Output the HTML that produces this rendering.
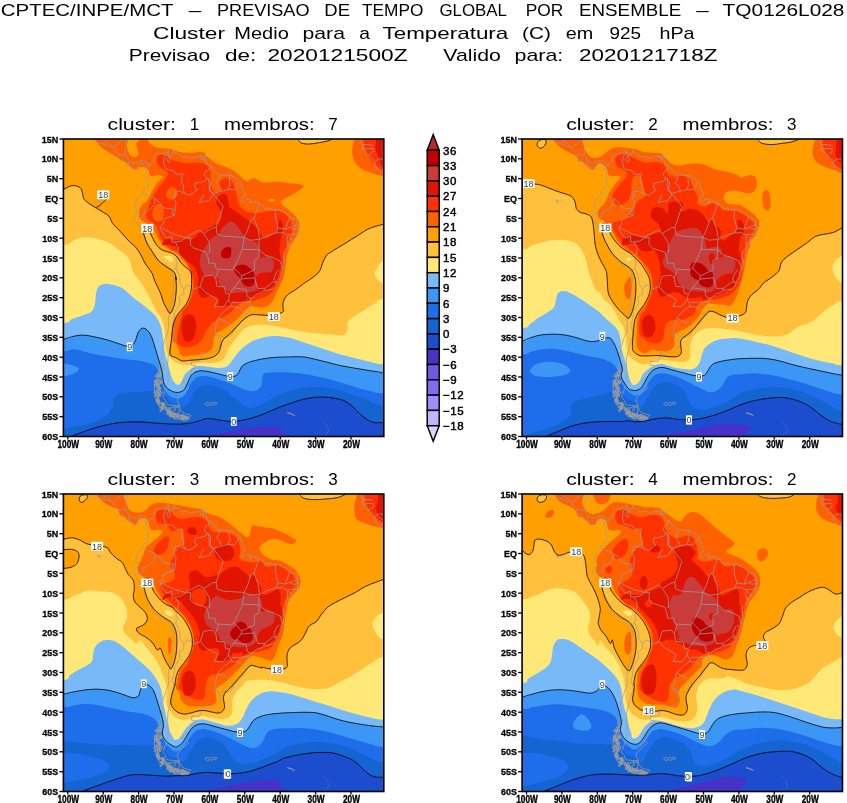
<!DOCTYPE html>
<html><head><meta charset="utf-8"><title>Previsao de Tempo Global por Ensemble</title>
<style>html,body{margin:0;padding:0;background:#fff}svg{display:block}text{font-family:"Liberation Sans",sans-serif;fill:#000}</style>
</head><body>
<svg width="847" height="803" viewBox="0 0 847 803">
<rect width="847" height="803" fill="#fff"/>
<text x="0.8" y="16.2" font-size="16.6" textLength="172.7" lengthAdjust="spacingAndGlyphs">CPTEC/INPE/MCT</text>
<text x="188.8" y="16.2" font-size="16.6" textLength="12.5" lengthAdjust="spacingAndGlyphs">–</text>
<text x="217.0" y="16.2" font-size="16.6" textLength="92.5" lengthAdjust="spacingAndGlyphs">PREVISAO</text>
<text x="324.3" y="16.2" font-size="16.6" textLength="25.7" lengthAdjust="spacingAndGlyphs">DE</text>
<text x="362.0" y="16.2" font-size="16.6" textLength="61.3" lengthAdjust="spacingAndGlyphs">TEMPO</text>
<text x="439.5" y="16.2" font-size="16.6" textLength="67.5" lengthAdjust="spacingAndGlyphs">GLOBAL</text>
<text x="525.8" y="16.2" font-size="16.6" textLength="37.5" lengthAdjust="spacingAndGlyphs">POR</text>
<text x="579.0" y="16.2" font-size="16.6" textLength="102.3" lengthAdjust="spacingAndGlyphs">ENSEMBLE</text>
<text x="696.3" y="16.2" font-size="16.6" textLength="12.5" lengthAdjust="spacingAndGlyphs">–</text>
<text x="722.5" y="16.2" font-size="16.6" textLength="122.0" lengthAdjust="spacingAndGlyphs">TQ0126L028</text>
<text x="153.0" y="38.6" font-size="16.6" textLength="72.0" lengthAdjust="spacingAndGlyphs">Cluster</text>
<text x="234.3" y="38.6" font-size="16.6" textLength="54.5" lengthAdjust="spacingAndGlyphs">Medio</text>
<text x="302.5" y="38.6" font-size="16.6" textLength="42.5" lengthAdjust="spacingAndGlyphs">para</text>
<text x="359.3" y="38.6" font-size="16.6" textLength="10.7" lengthAdjust="spacingAndGlyphs">a</text>
<text x="382.5" y="38.6" font-size="16.6" textLength="125.8" lengthAdjust="spacingAndGlyphs">Temperatura</text>
<text x="522.0" y="38.6" font-size="16.6" textLength="28.8" lengthAdjust="spacingAndGlyphs">(C)</text>
<text x="565.8" y="38.6" font-size="16.6" textLength="27.5" lengthAdjust="spacingAndGlyphs">em</text>
<text x="609.5" y="38.6" font-size="16.6" textLength="31.5" lengthAdjust="spacingAndGlyphs">925</text>
<text x="659.5" y="38.6" font-size="16.6" textLength="35.0" lengthAdjust="spacingAndGlyphs">hPa</text>
<text x="128.8" y="60.5" font-size="16.6" textLength="81.2" lengthAdjust="spacingAndGlyphs">Previsao</text>
<text x="225.0" y="60.5" font-size="16.6" textLength="31.3" lengthAdjust="spacingAndGlyphs">de:</text>
<text x="267.5" y="60.5" font-size="16.6" textLength="140.0" lengthAdjust="spacingAndGlyphs">2020121500Z</text>
<text x="443.3" y="60.5" font-size="16.6" textLength="57.5" lengthAdjust="spacingAndGlyphs">Valido</text>
<text x="514.5" y="60.5" font-size="16.6" textLength="48.8" lengthAdjust="spacingAndGlyphs">para:</text>
<text x="579.0" y="60.5" font-size="16.6" textLength="138.5" lengthAdjust="spacingAndGlyphs">2020121718Z</text>
<clipPath id="cp0"><rect x="63.4" y="139.0" width="320.4" height="297.5"/></clipPath>
<g clip-path="url(#cp0)">
<rect x="63.4" y="139.0" width="320.4" height="297.5" fill="#1C4DCF"/>
<path d="M208.3 437.7C196.4 437.3 206.4 436.3 208.3 435.6C210.1 434.8 215.3 434.3 219.6 433.4C223.8 432.6 229.0 431.4 233.8 430.6C238.5 429.8 243.2 429.1 247.9 428.5C252.6 427.9 257.6 427.4 262.1 427.1C266.6 426.7 272.0 426.2 274.8 426.3C277.7 426.5 278.3 425.9 279.1 427.8C279.9 429.7 291.2 436.0 279.4 437.7C267.6 439.3 220.1 438.0 208.3 437.7Z" fill="#4632C8"/>
<path d="M24.0 439.6C30.7 439.6 55.7 440.3 64.0 439.6C72.4 438.8 70.7 436.5 74.1 435.1C77.4 433.8 80.4 432.8 84.1 431.5C87.8 430.3 92.1 428.7 96.1 427.5C100.1 426.3 104.2 425.3 108.2 424.5C112.2 423.7 116.2 422.9 120.2 422.5C124.2 422.1 128.2 422.0 132.3 421.9C136.3 421.8 140.3 421.9 144.3 422.1C148.3 422.3 152.3 422.8 156.3 423.1C160.4 423.4 164.4 423.7 168.4 423.9C172.4 424.1 176.8 424.2 180.4 424.1C184.1 424.0 187.1 423.7 190.5 423.1C193.8 422.5 197.5 421.3 200.5 420.5C203.5 419.7 204.6 418.4 208.5 418.5C212.4 418.5 219.6 420.2 223.8 420.7C228.0 421.2 230.5 421.5 233.8 421.4C237.1 421.3 240.1 420.7 243.7 420.0C247.2 419.3 251.2 418.3 255.0 417.1C258.8 416.0 262.6 414.4 266.3 412.9C270.1 411.3 274.2 409.3 277.7 407.9C281.2 406.5 283.7 405.7 287.3 404.4C290.9 403.2 295.3 401.5 299.3 400.4C303.3 399.3 307.3 398.4 311.3 397.8C315.4 397.2 319.4 396.9 323.4 397.0C327.4 397.1 331.8 397.7 335.4 398.4C339.1 399.1 342.5 399.9 345.5 401.4C348.5 402.9 351.2 405.4 353.5 407.4C355.8 409.4 357.5 411.6 359.5 413.5C361.5 415.3 363.2 417.0 365.5 418.5C367.9 420.0 370.6 421.8 373.6 422.5C376.5 423.2 374.9 422.5 383.2 422.5C391.5 422.5 416.5 422.5 423.2 422.5L423.2 89.0 L24.0 89.0 Z" fill="#1464D2"/>
<path d="M24.0 428.5C30.7 428.5 56.3 428.7 64.0 428.5C71.7 428.3 67.4 428.0 70.0 427.5C72.7 427.0 76.7 426.2 80.1 425.5C83.4 424.8 86.8 424.5 90.1 423.5C93.5 422.5 97.1 421.2 100.1 419.5C103.2 417.8 106.0 415.8 108.2 413.5C110.3 411.1 112.2 407.9 113.2 405.4C114.2 402.9 113.0 400.4 114.2 398.4C115.4 396.4 117.5 394.4 120.2 393.4C122.9 392.4 126.2 392.7 130.3 392.4C134.3 392.1 140.3 391.6 144.3 391.4C148.3 391.2 151.0 390.7 154.3 391.4C157.7 392.1 161.4 393.4 164.4 395.4C167.4 397.4 169.7 401.4 172.4 403.4C175.1 405.4 177.8 407.4 180.4 407.4C183.1 407.4 186.6 405.1 188.5 403.4C190.3 401.8 191.5 397.8 191.5 397.4C191.5 397.0 188.0 401.7 188.4 400.8C188.9 400.0 192.2 394.7 194.1 392.3C196.0 390.0 197.6 388.0 199.8 386.7C201.9 385.4 204.2 384.7 206.8 384.5C209.4 384.4 212.5 385.1 215.3 386.0C218.2 386.8 221.2 388.0 223.8 389.5C226.4 391.0 228.6 393.3 230.9 395.2C233.3 397.1 235.9 399.1 238.0 400.8C240.1 402.6 241.6 404.6 243.7 405.8C245.8 407.0 247.9 408.0 250.8 407.9C253.6 407.8 257.6 406.4 260.7 405.1C263.7 403.8 266.3 401.7 269.2 400.1C272.0 398.6 275.7 397.0 277.7 395.9C279.7 394.8 278.3 394.5 281.2 393.4C284.2 392.3 290.9 390.4 295.3 389.4C299.6 388.4 303.3 387.8 307.3 387.4C311.3 387.0 315.4 386.8 319.4 387.0C323.4 387.1 327.4 387.6 331.4 388.4C335.4 389.1 339.4 390.2 343.5 391.4C347.5 392.6 351.5 394.1 355.5 395.4C359.5 396.7 364.2 398.1 367.5 399.4C370.9 400.8 373.0 402.4 375.6 403.4C378.2 404.4 375.3 405.1 383.2 405.4C391.1 405.8 416.5 405.4 423.2 405.4L423.2 89.0 L24.0 89.0 Z" fill="#1E6EEB"/>
<path d="M24.0 351.2C30.7 351.2 56.0 351.6 64.0 351.2C72.0 350.9 69.4 349.4 72.0 349.2C74.7 349.1 77.1 349.6 80.1 350.2C83.1 350.9 86.8 352.4 90.1 353.2C93.5 354.1 96.5 354.6 100.1 355.3C103.8 355.9 108.2 356.6 112.2 357.3C116.2 357.9 120.2 358.8 124.2 359.3C128.2 359.8 132.6 359.8 136.3 360.3C140.0 360.8 143.3 361.4 146.3 362.3C149.3 363.1 152.3 363.8 154.3 365.3C156.3 366.8 157.2 368.6 158.4 371.3C159.5 374.0 160.4 378.3 161.4 381.3C162.4 384.4 163.0 387.0 164.4 389.4C165.7 391.7 167.4 393.9 169.4 395.4C171.4 396.9 173.9 398.4 176.4 398.4C178.9 398.4 182.2 397.6 184.4 395.4C186.7 393.2 188.2 387.9 189.8 385.3C191.4 382.6 192.7 381.0 194.1 379.6C195.5 378.2 196.4 377.3 198.3 376.8C200.2 376.2 203.1 375.9 205.4 376.0C207.8 376.2 209.9 376.8 212.5 377.5C215.1 378.2 218.2 379.4 221.0 380.3C223.8 381.2 226.7 382.1 229.5 383.1C232.3 384.2 235.2 385.5 238.0 386.7C240.8 387.9 243.7 389.5 246.5 390.2C249.3 390.9 252.6 391.5 255.0 390.9C257.4 390.3 259.5 388.6 260.7 386.7C261.9 384.8 261.6 381.7 262.1 379.6C262.6 377.5 262.3 375.1 263.5 373.9C264.7 372.7 266.3 372.8 269.2 372.5C272.0 372.2 277.5 372.3 280.5 372.2C283.5 372.2 284.1 372.1 287.3 372.3C290.4 372.5 295.3 372.8 299.3 373.3C303.3 373.8 307.3 374.6 311.3 375.3C315.4 376.1 319.4 376.8 323.4 377.7C327.4 378.7 331.4 379.8 335.4 380.9C339.4 382.0 343.5 383.1 347.5 384.4C351.5 385.6 355.5 387.2 359.5 388.4C363.5 389.5 367.6 390.5 371.6 391.4C375.5 392.2 374.6 393.1 383.2 393.4C391.8 393.7 416.5 393.4 423.2 393.4L423.2 89.0 L24.0 89.0 Z" fill="#3C96F5"/>
<path d="M60.0 364.3C62.0 362.5 68.9 364.5 72.0 365.3C75.2 366.1 79.1 367.8 79.1 369.3C79.1 370.8 75.2 373.3 72.0 374.3C68.9 375.4 62.0 377.4 60.0 375.7C58.0 374.1 58.0 366.0 60.0 364.3Z" fill="#3C96F5"/>
<path d="M24.0 339.2C30.7 339.2 55.7 339.7 64.0 339.2C72.4 338.7 70.7 336.9 74.1 336.2C77.4 335.5 80.4 335.0 84.1 335.2C87.8 335.3 92.1 336.4 96.1 337.2C100.1 338.0 104.2 339.0 108.2 340.2C112.2 341.4 117.0 343.2 120.2 344.2C123.4 345.2 125.1 346.2 127.2 346.2C129.4 346.2 131.8 345.6 133.3 344.2C134.8 342.9 135.4 340.2 136.3 338.2C137.1 336.2 137.3 333.8 138.3 332.2C139.3 330.5 140.8 328.5 142.3 328.2C143.8 327.8 145.8 328.8 147.3 330.2C148.8 331.5 150.2 333.7 151.3 336.2C152.5 338.7 153.3 342.0 154.3 345.2C155.3 348.4 156.3 351.9 157.4 355.3C158.4 358.6 159.5 362.3 160.4 365.3C161.2 368.3 161.9 370.6 162.4 373.3C162.9 376.0 162.7 379.0 163.4 381.3C164.0 383.7 164.9 385.7 166.4 387.4C167.9 389.0 170.4 390.5 172.4 391.4C174.4 392.2 176.6 392.6 178.4 392.4C180.3 392.2 182.1 391.4 183.4 390.4C184.8 389.3 185.3 387.8 186.3 386.0C187.2 384.2 188.1 381.6 189.1 379.6C190.2 377.6 191.1 375.3 192.7 373.9C194.2 372.5 196.2 371.6 198.3 371.1C200.5 370.6 203.1 370.9 205.4 371.1C207.8 371.3 210.1 372.0 212.5 372.5C214.9 373.0 217.2 373.6 219.6 374.2C222.0 374.8 224.1 375.7 226.7 376.0C229.3 376.4 233.2 376.6 235.2 376.0C237.2 375.5 237.7 374.0 238.7 372.5C239.8 371.0 240.3 368.4 241.6 366.8C242.8 365.3 244.3 364.4 246.5 363.3C248.8 362.2 251.7 361.3 255.0 360.5C258.3 359.6 262.6 358.9 266.3 358.3C270.1 357.8 273.5 357.4 277.7 357.2C281.8 357.0 287.0 356.9 291.3 356.9C295.5 356.8 299.3 356.5 303.3 356.9C307.3 357.3 311.3 358.4 315.4 359.3C319.4 360.2 323.4 361.3 327.4 362.3C331.4 363.3 334.8 364.3 339.4 365.3C344.1 366.3 350.2 367.4 355.5 368.3C360.9 369.2 366.9 370.2 371.6 370.9C376.2 371.6 374.6 372.4 383.2 372.7C391.8 373.0 416.5 372.7 423.2 372.7L423.2 89.0 L24.0 89.0 Z" fill="#78B9FA"/>
<path d="M24.0 323.1C30.7 323.1 56.0 323.8 64.0 323.1C72.0 322.5 68.7 320.5 72.0 319.1C75.4 317.8 80.7 316.4 84.1 315.1C87.4 313.8 90.3 313.1 92.1 311.1C94.0 309.1 94.5 306.1 95.1 303.1C95.8 300.1 95.6 295.7 96.1 293.0C96.6 290.4 97.1 288.4 98.1 287.0C99.1 285.6 100.5 284.9 102.2 284.4C103.8 283.9 105.2 283.6 108.2 284.0C111.2 284.4 116.9 285.5 120.2 287.0C123.6 288.5 125.6 290.9 128.2 293.0C130.9 295.2 133.6 297.9 136.3 300.1C139.0 302.2 142.0 304.2 144.3 306.1C146.6 307.9 148.3 309.3 150.3 311.1C152.3 312.9 154.7 314.8 156.3 317.1C158.0 319.5 159.4 322.5 160.4 325.1C161.4 327.8 161.9 330.5 162.4 333.2C162.9 335.8 163.0 338.5 163.4 341.2C163.7 343.9 163.9 346.2 164.4 349.2C164.9 352.2 165.5 355.9 166.4 359.3C167.2 362.6 168.4 366.0 169.4 369.3C170.4 372.6 171.2 376.8 172.4 379.3C173.6 381.8 175.1 383.7 176.4 384.4C177.8 385.0 179.3 384.5 180.4 383.4C181.6 382.2 182.8 378.7 183.4 377.3C184.1 376.0 183.3 376.4 184.2 375.3C185.0 374.3 186.8 372.5 188.4 371.1C190.1 369.7 192.0 367.9 194.1 367.1C196.2 366.3 198.6 366.1 201.2 366.1C203.8 366.1 206.8 366.8 209.7 367.1C212.5 367.4 215.6 368.0 218.2 368.0C220.8 368.0 223.4 367.8 225.3 367.1C227.1 366.5 228.1 365.5 229.5 364.0C230.9 362.5 232.3 360.2 233.8 358.3C235.2 356.4 236.4 354.6 238.0 352.7C239.7 350.8 241.6 348.8 243.7 347.0C245.8 345.2 248.2 343.5 250.8 342.0C253.4 340.6 256.2 339.4 259.3 338.5C262.3 337.6 265.8 336.8 269.2 336.4C272.5 336.0 275.5 335.9 279.2 336.2C282.9 336.5 287.3 337.2 291.3 338.2C295.3 339.2 299.3 340.9 303.3 342.2C307.3 343.5 311.3 344.9 315.4 346.2C319.4 347.6 323.4 348.9 327.4 350.2C331.4 351.6 335.4 353.1 339.4 354.2C343.5 355.4 347.5 356.3 351.5 357.3C355.5 358.3 359.5 359.3 363.5 360.3C367.5 361.3 372.3 362.6 375.6 363.3C378.9 364.0 375.3 364.1 383.2 364.3C391.1 364.5 416.5 364.3 423.2 364.3L423.2 89.0 L24.0 89.0 Z" fill="#FFE878"/>
<path d="M23.4 245.0C30.1 245.0 55.3 245.6 63.4 245.0C71.5 244.4 69.3 242.6 72.0 241.4C74.8 240.2 77.1 238.4 80.1 237.8C83.1 237.1 86.8 237.1 90.1 237.4C93.5 237.6 96.8 238.4 100.1 239.4C103.5 240.4 107.2 241.7 110.2 243.4C113.2 245.1 115.5 247.4 118.2 249.4C120.9 251.4 124.2 253.4 126.2 255.4C128.2 257.4 129.2 259.1 130.3 261.5C131.3 263.8 131.4 267.1 132.3 269.5C133.1 271.8 133.9 273.5 135.3 275.5C136.6 277.5 138.8 279.5 140.3 281.5C141.8 283.5 143.1 285.3 144.3 287.5C145.5 289.8 147.0 294.4 147.3 295.0C147.6 295.6 145.8 290.3 146.3 291.0C146.8 291.7 149.0 296.4 150.3 299.1C151.7 301.7 152.7 304.1 154.3 307.1C156.0 310.1 158.7 313.8 160.4 317.1C162.0 320.5 163.5 323.8 164.4 327.2C165.2 330.5 165.2 334.2 165.4 337.2C165.5 340.2 165.0 342.5 165.4 345.2C165.7 347.9 166.2 350.7 167.4 353.2C168.6 355.8 170.2 358.4 172.4 360.3C174.6 362.1 177.8 363.4 180.4 364.3C183.1 365.1 186.4 365.3 188.5 365.3C190.5 365.2 190.6 364.4 192.7 364.0C194.8 363.6 198.1 363.1 201.2 362.9C204.2 362.7 208.0 363.1 211.1 362.9C214.2 362.6 217.3 362.3 219.6 361.5C221.8 360.6 223.4 359.1 224.5 357.6C225.7 356.2 225.8 354.4 226.7 352.7C227.5 350.9 228.3 348.9 229.5 347.0C230.7 345.1 232.3 343.2 233.8 341.3C235.2 339.4 236.1 337.9 238.0 335.7C239.9 333.5 242.3 329.9 245.1 328.2C248.0 326.4 251.8 325.6 255.1 325.1C258.5 324.6 261.8 325.0 265.2 325.1C268.5 325.3 271.9 325.6 275.2 326.1C278.6 326.6 281.9 327.5 285.3 328.2C288.6 328.8 291.9 329.5 295.3 330.2C298.6 330.8 302.0 331.7 305.3 332.2C308.7 332.7 311.7 332.8 315.4 333.2C319.0 333.5 323.4 333.8 327.4 334.2C331.4 334.5 336.4 335.2 339.4 335.2C342.5 335.2 344.1 335.2 345.5 334.2C346.8 333.2 347.1 331.0 347.5 329.2C347.8 327.3 346.8 325.0 347.5 323.1C348.1 321.3 349.5 319.8 351.5 318.1C353.5 316.4 356.8 314.8 359.5 313.1C362.2 311.4 364.9 309.8 367.5 308.1C370.2 306.4 373.0 304.6 375.6 303.1C378.2 301.6 375.3 299.7 383.2 299.1C391.1 298.4 416.5 299.1 423.2 299.1L423.2 89.0 L23.4 89.0 Z" fill="#FFC03C"/>
<path d="M387.6 255.4C387.0 250.8 385.1 257.8 383.6 259.4C382.1 261.1 380.1 263.1 378.6 265.5C377.1 267.8 374.7 271.2 374.6 273.5C374.4 275.8 376.1 277.7 377.6 279.5C379.1 281.4 381.9 283.2 383.6 284.5C385.3 285.9 387.0 292.4 387.6 287.5C388.3 282.7 388.3 260.1 387.6 255.4Z" fill="#FFE878"/>
<path d="M20.0 190.2C26.7 190.2 52.7 190.4 60.0 190.2C67.3 190.0 62.0 190.0 64.0 189.2C66.0 188.4 69.4 185.8 72.0 185.6C74.7 185.3 78.3 186.3 80.1 187.6C81.8 188.9 81.8 191.3 82.5 193.2C83.2 195.1 82.8 197.4 84.1 199.2C85.4 201.1 88.2 202.8 90.1 204.2C92.0 205.7 93.6 206.3 95.7 207.7C97.9 209.0 100.9 210.8 103.2 212.3C105.4 213.7 107.6 214.5 109.2 216.3C110.7 218.1 110.7 220.8 112.6 223.3C114.4 225.8 117.3 228.2 120.2 231.3C123.1 234.5 127.7 239.9 130.0 242.3C132.3 244.6 132.8 244.2 134.1 245.6C135.5 247.0 137.0 248.7 138.3 250.5C139.5 252.3 140.5 254.3 141.6 256.3C142.7 258.4 143.6 260.9 144.9 262.9C146.1 265.0 147.8 266.9 149.0 268.7C150.2 270.5 151.4 271.8 152.3 273.7C153.2 275.6 153.0 276.7 154.4 280.0C155.7 283.2 158.9 289.3 160.4 293.0C161.9 296.7 162.4 299.6 163.4 302.1C164.4 304.6 165.4 306.2 166.4 308.1C167.4 309.9 168.6 312.4 169.4 313.1C170.2 313.8 170.6 313.5 171.4 312.2C172.2 310.8 173.5 307.7 174.3 305.1C175.0 302.5 175.3 299.7 175.7 296.6C176.0 293.5 176.4 290.0 176.4 286.7C176.4 283.4 175.7 277.9 175.7 276.8C175.7 275.6 176.4 280.5 176.3 280.0C176.2 279.4 175.7 275.3 175.0 273.7C174.4 272.1 173.3 271.3 172.1 270.4C171.0 269.4 169.5 268.9 168.0 267.9C166.5 266.9 164.6 265.8 163.1 264.6C161.5 263.3 159.9 262.0 158.5 260.5C157.1 258.9 156.0 257.1 154.8 255.5C153.6 253.8 152.7 252.3 151.5 250.5C150.3 248.7 148.8 246.7 147.8 244.8C146.7 242.8 146.0 241.0 145.3 239.0C144.6 237.0 143.8 234.7 143.6 232.8C143.4 230.8 143.5 228.7 144.0 227.4C144.6 226.1 146.0 224.9 146.9 224.9C147.9 224.9 149.3 226.1 149.8 227.4C150.4 228.7 149.8 231.1 150.2 232.8C150.7 234.4 151.6 235.7 152.3 237.3C153.1 238.9 153.8 240.7 154.8 242.3C155.8 243.9 156.9 245.5 158.1 246.8C159.3 248.1 160.9 249.4 162.2 250.1C163.6 250.9 165.0 251.0 166.4 251.4C167.7 251.8 169.1 252.1 170.5 252.6C171.9 253.2 173.4 253.8 174.6 254.7C175.9 255.6 177.0 256.7 177.9 258.0C178.9 259.2 179.3 260.7 180.4 262.1C181.5 263.5 183.2 265.0 184.5 266.2C185.9 267.5 187.6 268.4 188.7 269.5C189.8 270.6 190.7 271.1 191.2 272.9C191.6 274.6 191.6 277.2 191.6 280.0C191.6 282.7 191.7 286.5 191.3 289.5C190.8 292.5 190.1 295.4 189.1 298.0C188.2 300.6 187.0 303.0 185.6 305.1C184.2 307.2 182.2 308.9 180.6 310.8C179.1 312.6 177.6 314.3 176.4 316.4C175.2 318.6 174.3 320.9 173.5 323.5C172.8 326.1 172.5 329.3 172.1 332.0C171.8 334.8 171.8 336.3 171.4 339.9C171.1 343.6 169.3 351.1 170.0 354.1C170.7 357.0 173.7 356.5 175.7 357.6C177.7 358.8 179.7 360.4 182.0 360.9C184.3 361.3 187.0 360.5 189.4 360.4C191.9 360.2 194.6 360.0 196.9 359.8C199.2 359.6 201.1 359.6 203.3 359.3C205.4 359.0 207.7 358.8 209.6 358.2C211.6 357.7 213.4 357.1 214.9 356.1C216.4 355.1 217.8 353.7 218.7 352.4C219.5 351.1 219.8 349.6 220.3 348.1C220.7 346.7 220.9 345.2 221.3 343.9C221.8 342.6 222.1 341.3 222.9 340.2C223.7 339.0 224.9 338.1 226.1 337.0C227.3 335.8 228.9 334.6 230.4 333.3C231.8 331.9 233.3 330.4 234.6 329.0C235.9 327.6 237.1 326.1 238.3 324.8C239.6 323.4 240.8 322.2 242.0 321.0C243.3 319.9 244.6 318.7 245.8 317.8C246.9 317.0 247.9 316.3 249.0 315.7C250.0 315.2 250.9 314.8 252.1 314.7C253.4 314.5 254.8 314.6 256.4 314.7C258.0 314.7 259.9 314.9 261.7 315.0C263.5 315.1 265.3 315.2 267.0 315.4C268.7 315.6 269.4 316.8 272.0 316.3C274.6 315.7 280.9 313.4 282.7 312.1C284.6 310.9 283.1 310.0 283.2 308.6C283.2 307.3 282.7 305.7 282.9 304.3C283.0 302.8 283.5 301.2 284.0 299.9C284.6 298.6 285.4 297.5 286.2 296.4C287.0 295.4 287.8 294.6 288.8 293.8C289.8 293.0 291.1 292.4 292.3 291.6C293.5 290.9 294.6 290.3 295.8 289.5C297.0 288.7 298.1 287.7 299.3 286.8C300.4 286.0 301.6 285.1 302.8 284.2C303.9 283.4 305.1 282.4 306.3 281.6C307.5 280.8 307.8 281.1 310.0 279.4C312.2 277.8 317.3 274.2 319.4 271.5C321.4 268.8 321.2 266.1 322.4 263.5C323.6 260.8 324.6 257.6 326.4 255.4C328.2 253.3 330.6 252.3 333.4 250.4C336.3 248.6 340.5 246.2 343.5 244.4C346.5 242.6 348.8 241.0 351.5 239.4C354.2 237.7 356.8 236.0 359.5 234.4C362.2 232.7 364.9 230.7 367.5 229.3C370.2 228.0 372.9 227.2 375.6 226.3C378.3 225.5 380.9 224.8 383.6 224.3C386.3 223.8 383.6 223.5 391.6 223.3C399.6 223.2 425.0 223.3 431.6 223.3L431.6 89.0 L20.0 89.0 Z" fill="#FFA000"/>
<path d="M296.3 138.0C294.0 139.3 299.1 142.0 301.3 143.0C303.5 144.0 306.3 144.1 309.3 144.0C312.4 144.0 316.4 143.1 319.4 142.6C322.4 142.1 325.1 141.7 327.4 141.0C329.7 140.4 335.4 139.6 333.4 138.6C331.4 137.6 321.6 135.1 315.4 135.0C309.2 134.9 298.6 136.7 296.3 138.0Z" fill="#FFC03C"/>
<path d="M93.1 137.0C94.3 139.2 97.6 143.5 100.1 146.0C102.7 148.5 105.5 150.2 108.2 152.1C110.8 153.9 114.2 155.8 116.2 157.1C118.2 158.4 118.7 159.1 120.0 159.8C121.3 160.5 122.8 160.4 124.3 161.2C125.7 162.0 127.1 163.5 128.5 164.8C129.9 166.1 131.6 168.2 132.8 169.0C133.9 169.8 134.6 169.9 135.6 169.7C136.5 169.5 137.2 168.1 138.4 167.6C139.6 167.1 141.3 166.8 142.7 166.9C144.1 167.0 145.9 167.5 146.9 168.3C148.0 169.1 148.5 170.5 149.0 171.8C149.6 173.1 149.4 175.5 150.5 176.1C151.5 176.7 153.6 175.5 155.4 175.4C157.2 175.3 159.9 175.0 161.1 175.4C162.3 175.7 163.0 176.4 162.5 177.5C162.0 178.6 159.4 180.3 158.3 181.8C157.1 183.2 156.5 184.4 155.4 186.0C154.4 187.7 152.9 189.8 151.9 191.7C150.8 193.6 149.9 195.7 149.0 197.3C148.2 199.0 148.0 200.4 146.9 201.6C145.9 202.8 143.9 203.2 142.7 204.4C141.5 205.6 140.4 207.0 139.8 208.7C139.2 210.3 139.1 212.7 139.1 214.3C139.1 216.0 139.1 217.4 139.8 218.6C140.5 219.8 142.2 220.6 143.4 221.4C144.6 222.3 145.3 222.2 146.9 223.6C148.6 224.9 151.8 227.4 153.3 229.3C154.9 231.3 155.2 233.4 156.3 235.4C157.5 237.4 159.0 239.5 160.4 241.4C161.7 243.2 162.8 245.0 164.4 246.4C166.0 247.8 168.2 248.9 170.0 249.8C171.8 250.8 173.2 251.1 175.0 252.2C176.7 253.4 178.8 255.0 180.6 256.9C182.4 258.8 184.3 261.1 185.9 263.6C187.5 266.1 189.1 269.0 190.1 271.8C191.2 274.6 191.9 277.3 192.2 280.3C192.6 283.2 192.6 286.6 192.2 289.5C191.9 292.5 191.1 295.4 190.1 298.0C189.2 300.6 188.0 303.0 186.6 305.1C185.2 307.2 183.2 309.0 181.6 310.8C180.1 312.5 178.5 313.8 177.4 315.7C176.2 317.6 175.3 319.6 174.5 322.1C173.8 324.6 173.2 327.6 172.8 330.6C172.4 333.6 171.5 337.7 172.1 339.9C172.7 342.2 175.3 342.6 176.4 344.2C177.4 345.7 177.6 347.1 178.5 349.1C179.4 351.1 180.2 355.0 182.0 356.1C183.8 357.2 187.1 355.8 189.4 355.6C191.7 355.4 193.7 355.3 195.8 355.0C197.9 354.8 200.2 354.4 202.2 354.0C204.1 353.5 205.9 353.2 207.5 352.4C209.1 351.6 210.8 350.4 211.8 349.2C212.7 348.0 213.1 346.4 213.3 344.9C213.6 343.5 213.2 342.0 213.3 340.7C213.5 339.4 213.9 338.1 214.4 337.0C214.9 335.8 215.6 334.8 216.5 333.8C217.5 332.8 218.9 332.0 220.3 331.1C221.6 330.2 223.1 329.4 224.5 328.5C225.9 327.6 227.4 326.7 228.8 325.8C230.1 324.9 231.2 324.1 232.5 323.2C233.7 322.2 235.0 321.0 236.2 320.0C237.3 318.9 238.3 317.8 239.4 316.8C240.4 315.7 241.5 314.7 242.6 313.6C243.6 312.4 244.3 311.1 245.8 309.9C247.2 308.6 249.4 306.5 251.3 306.0C253.3 305.6 255.4 307.1 257.4 307.3C259.5 307.6 261.8 307.6 263.5 307.3C265.3 307.1 266.7 306.8 267.9 306.0C269.1 305.3 270.0 304.1 271.0 303.0C271.9 301.9 272.8 300.9 273.6 299.5C274.4 298.1 275.0 296.4 275.7 294.7C276.5 293.0 277.2 291.1 277.9 289.5C278.7 287.9 279.4 286.6 280.1 285.1C280.8 283.7 281.6 282.3 282.3 280.7C282.9 279.1 283.5 277.4 284.0 275.5C284.5 273.6 284.8 271.6 285.2 269.4C285.5 267.2 285.7 264.8 286.0 262.4C286.4 260.1 286.6 257.5 287.1 255.5C287.5 253.4 288.2 252.0 288.8 250.2C289.4 248.5 290.0 246.1 290.6 245.0C291.1 243.9 291.3 244.7 292.1 243.5C293.0 242.3 294.6 239.7 295.7 237.8C296.7 236.0 297.8 234.1 298.5 232.2C299.2 230.3 299.6 228.4 299.6 226.5C299.6 224.6 299.2 222.5 298.5 220.8C297.8 219.2 296.9 218.0 295.7 216.6C294.5 215.2 293.0 213.8 291.4 212.3C289.9 210.9 288.0 209.4 286.5 208.1C284.9 206.8 283.2 205.7 282.2 204.5C281.3 203.4 280.4 202.0 280.8 201.0C281.2 200.1 282.8 199.7 284.3 198.9C285.9 198.1 288.1 197.1 290.0 196.0C291.9 195.0 293.8 193.7 295.7 192.5C297.6 191.3 300.0 190.1 301.3 189.0C302.6 187.8 304.2 186.2 303.5 185.4C302.8 184.6 299.6 184.4 297.1 184.0C294.6 183.6 291.4 183.6 288.6 183.3C285.8 182.9 282.9 182.1 280.1 181.9C277.3 181.6 274.2 181.8 271.6 181.9C269.0 182.0 266.6 182.8 264.5 182.6C262.4 182.4 260.5 181.2 258.8 180.5C257.2 179.8 256.0 178.6 254.6 178.3C253.2 178.1 251.5 178.6 250.3 179.0C249.2 179.5 248.8 181.3 247.5 181.2C246.2 181.1 244.2 179.5 242.5 178.3C240.9 177.2 239.4 175.5 237.6 174.1C235.8 172.7 233.8 171.0 231.9 169.8C230.0 168.7 228.1 167.8 226.3 167.0C224.4 166.2 222.5 165.6 220.6 164.9C218.7 164.2 216.8 163.8 214.9 162.8C213.0 161.7 210.9 159.9 209.3 158.5C207.6 157.1 205.7 155.2 205.0 154.3C204.3 153.3 206.0 153.1 205.0 152.7C204.1 152.3 201.2 152.0 199.3 152.0C197.5 152.0 195.8 152.6 193.7 152.7C191.6 152.8 189.0 152.8 186.6 152.7C184.2 152.6 181.6 152.5 179.5 152.0C177.4 151.5 175.7 150.5 173.8 149.9C172.0 149.3 170.1 148.7 168.2 148.5C166.3 148.2 164.6 148.7 162.5 148.5C160.4 148.2 157.5 147.9 155.4 147.0C153.3 146.2 151.3 145.0 149.8 143.5C148.2 142.0 147.6 138.8 146.2 137.8C144.8 136.9 142.6 137.4 141.3 137.8C140.0 138.3 139.2 139.7 138.4 140.7C137.6 141.6 136.5 142.3 136.3 143.5C136.1 144.7 136.6 146.1 137.0 147.8C137.4 149.4 138.5 151.9 138.4 153.4C138.3 155.0 137.4 156.5 136.3 157.0C135.2 157.4 133.3 157.1 132.0 156.3C130.7 155.4 129.3 153.7 128.5 152.0C127.7 150.3 127.4 148.7 127.1 146.3C126.7 144.0 129.2 139.7 126.4 137.8C123.6 135.9 115.7 135.8 110.2 135.0C104.6 134.2 96.0 132.7 93.1 133.0C90.3 133.3 91.9 134.8 93.1 137.0Z" fill="#FF6000"/>
<path d="M268.0 200.3C268.0 199.8 270.3 199.0 271.6 198.9C272.9 198.8 275.8 199.4 275.8 199.9C275.8 200.3 272.9 201.6 271.6 201.7C270.3 201.8 268.0 200.8 268.0 200.3Z" fill="#FFA000"/>
<path d="M157.5 156.3C158.2 155.1 159.6 154.8 161.1 154.8C162.6 154.8 165.1 155.5 166.8 156.3C168.4 157.0 169.4 158.3 171.0 159.1C172.7 159.9 174.8 160.6 176.7 161.2C178.6 161.8 180.5 162.3 182.3 162.6C184.2 163.0 185.9 163.3 188.0 163.3C190.1 163.3 192.7 162.6 195.1 162.6C197.5 162.6 200.1 162.8 202.2 163.3C204.3 163.8 206.5 164.3 207.8 165.6C209.1 166.9 209.5 169.1 210.0 171.3C210.4 173.4 210.4 176.0 210.7 178.3C210.9 180.7 210.9 183.3 211.4 185.4C211.8 187.5 212.4 189.9 213.5 191.1C214.6 192.3 216.6 192.7 217.8 192.5C218.9 192.3 220.3 191.1 220.6 189.7C220.8 188.3 219.2 185.5 219.2 184.0C219.2 182.5 219.4 181.4 220.6 180.5C221.8 179.5 224.5 178.3 226.3 178.3C228.0 178.3 229.9 179.3 231.2 180.5C232.5 181.6 233.3 183.6 234.0 185.4C234.8 187.2 235.0 189.2 235.5 191.1C235.9 193.0 236.4 194.9 236.9 196.8C237.4 198.6 237.7 200.8 238.3 202.4C238.9 204.1 239.4 205.4 240.4 206.7C241.5 208.0 243.0 209.3 244.7 210.2C246.3 211.2 248.4 211.9 250.3 212.3C252.2 212.8 254.1 213.0 256.0 213.0C257.9 213.0 259.8 212.6 261.7 212.3C263.6 212.0 265.7 211.4 267.3 211.2C269.0 211.0 269.9 211.0 271.6 210.9C273.2 210.9 275.5 210.7 277.3 210.9C279.0 211.2 280.6 211.5 282.2 212.3C283.9 213.2 285.8 214.5 287.2 215.9C288.6 217.3 289.8 219.1 290.7 220.8C291.7 222.6 292.6 224.6 292.8 226.5C293.1 228.4 292.6 230.3 292.1 232.2C291.7 234.1 290.8 236.0 290.0 237.8C289.2 239.7 288.0 241.4 287.2 243.5C286.4 245.6 285.9 248.1 285.3 250.2C284.8 252.4 284.4 254.3 284.0 256.3C283.7 258.4 283.4 260.4 283.2 262.4C282.9 264.5 282.9 266.7 282.7 268.5C282.5 270.4 282.2 272.0 281.8 273.8C281.5 275.5 281.1 277.4 280.5 279.0C280.0 280.6 279.2 281.9 278.4 283.4C277.6 284.8 276.6 286.4 275.7 287.7C274.9 289.0 274.1 290.1 273.1 291.2C272.1 292.3 270.8 293.4 269.6 294.3C268.5 295.1 267.5 295.8 266.2 296.4C264.8 297.1 263.2 297.7 261.8 298.2C260.3 298.7 258.9 299.1 257.4 299.5C256.0 299.9 255.0 300.5 253.1 300.8C251.1 301.1 247.7 301.0 245.8 301.4C243.8 301.7 242.9 302.3 241.5 303.0C240.1 303.7 238.5 304.7 237.3 305.6C236.0 306.6 235.1 307.8 234.1 308.8C233.0 309.9 232.1 310.9 230.9 312.0C229.6 313.1 228.1 314.3 226.6 315.2C225.2 316.1 223.8 316.7 222.4 317.3C221.0 317.9 219.5 318.2 218.1 318.9C216.7 319.6 215.3 320.4 213.9 321.6C212.5 322.7 211.0 324.2 209.6 325.8C208.3 327.4 206.9 329.4 205.9 331.1C204.9 332.9 204.6 334.9 203.8 336.4C203.0 338.0 202.3 339.4 201.1 340.7C200.0 342.0 198.5 343.4 196.9 344.4C195.3 345.4 193.3 346.1 191.6 346.5C189.8 347.0 187.8 347.1 186.3 347.1C184.7 347.1 183.5 347.2 182.0 346.5C180.5 345.9 178.2 345.1 177.4 343.2C176.7 341.3 177.1 338.2 177.4 335.2C177.8 332.2 178.8 328.2 179.4 325.1C180.1 322.1 180.9 319.5 181.4 317.1C182.0 314.7 181.7 312.8 182.8 310.8C183.8 308.8 186.3 307.2 187.7 305.1C189.1 303.0 190.3 300.6 191.3 298.0C192.2 295.4 193.0 292.6 193.4 289.5C193.7 286.4 193.7 282.7 193.4 279.6C193.0 276.5 192.3 273.9 191.3 271.1C190.2 268.3 188.7 265.2 187.0 262.6C185.3 260.0 183.2 257.4 181.3 255.5C179.4 253.6 177.6 252.4 175.7 251.3C173.8 250.1 172.4 250.6 170.0 248.4C167.6 246.3 162.9 241.0 161.1 238.4C159.2 235.8 159.7 234.7 159.0 232.8C158.3 230.9 157.8 228.7 156.8 227.1C155.9 225.4 154.6 224.0 153.3 222.8C152.0 221.7 150.2 221.0 149.0 220.0C147.9 219.1 146.7 218.4 146.2 217.2C145.7 216.0 145.9 214.6 146.2 212.9C146.6 211.3 147.6 209.1 148.3 207.3C149.0 205.4 149.6 203.5 150.5 201.6C151.3 199.7 152.2 197.8 153.3 195.9C154.4 194.0 155.5 192.1 156.8 190.3C158.1 188.4 159.7 186.5 161.1 184.6C162.5 182.7 164.2 180.7 165.3 178.9C166.5 177.2 168.2 175.4 168.2 174.0C168.2 172.5 166.8 171.6 165.3 170.4C163.9 169.2 161.0 168.3 159.7 166.9C158.3 165.5 157.5 163.7 157.1 161.9C156.8 160.1 156.9 157.4 157.5 156.3Z" fill="#FF3200"/>
<path d="M166.0 194.5C166.3 193.2 167.1 190.8 168.2 189.5C169.2 188.3 171.0 187.1 172.4 187.1C173.8 187.1 175.8 188.3 176.7 189.5C177.5 190.8 177.7 193.0 177.4 194.5C177.0 196.0 175.8 197.9 174.5 198.8C173.2 199.6 170.9 199.7 169.6 199.5C168.3 199.2 167.3 198.2 166.8 197.3C166.2 196.5 165.8 195.8 166.0 194.5Z" fill="#FF6000"/>
<path d="M152.3 212.9C152.4 210.8 153.6 208.1 154.7 206.6C155.8 205.0 157.7 203.7 159.0 203.7C160.3 203.7 161.7 205.0 162.5 206.6C163.3 208.1 163.9 210.8 163.9 212.9C163.9 215.1 163.4 217.8 162.5 219.3C161.6 220.8 159.7 221.7 158.3 221.7C156.8 221.7 155.0 220.8 154.0 219.3C153.0 217.8 152.2 215.1 152.3 212.9Z" fill="#FF6000"/>
<path d="M217.8 197.3C218.7 195.9 221.8 194.7 222.0 194.5C222.2 194.3 218.9 196.1 219.2 196.0C219.4 195.9 222.1 194.0 223.4 193.9C224.7 193.8 226.1 194.2 227.0 195.3C227.8 196.5 228.0 199.1 228.4 201.0C228.7 202.9 228.3 205.3 229.1 206.7C229.9 208.1 231.7 208.3 233.3 209.5C235.0 210.7 237.1 212.3 239.0 213.8C240.9 215.2 243.0 216.8 244.7 218.0C246.3 219.2 247.7 219.9 248.9 220.8C250.1 221.8 250.6 222.6 251.8 223.7C252.9 224.7 254.7 225.8 256.0 227.2C257.3 228.6 258.6 230.6 259.5 232.2C260.5 233.7 260.7 235.4 261.7 236.4C262.6 237.5 263.8 238.6 265.2 238.6C266.6 238.6 268.6 237.3 270.2 236.4C271.7 235.6 273.2 234.8 274.4 233.6C275.6 232.4 276.6 231.0 277.3 229.3C277.9 227.7 278.0 225.2 278.4 223.7C278.7 222.1 278.7 220.4 279.4 220.1C280.0 219.9 281.7 220.7 282.2 222.3C282.8 223.8 282.9 226.7 282.6 229.3C282.4 231.9 281.3 235.0 280.8 237.8C280.3 240.7 280.2 243.5 279.8 246.3C279.5 249.2 278.8 254.2 278.7 254.8C278.6 255.5 278.9 250.0 279.2 250.2C279.5 250.5 280.2 254.3 280.5 256.3C280.8 258.4 281.0 260.5 281.0 262.4C281.0 264.3 280.8 265.9 280.5 267.7C280.2 269.4 279.7 271.2 279.2 272.9C278.7 274.6 278.1 276.5 277.5 278.1C276.9 279.7 276.5 281.2 275.7 282.5C275.0 283.8 274.1 284.9 273.1 286.0C272.1 287.1 271.0 288.1 269.6 289.0C268.3 290.0 266.7 290.8 265.3 291.6C263.8 292.4 262.4 293.2 260.9 293.8C259.5 294.5 258.0 295.0 256.6 295.6C255.1 296.1 253.7 296.7 252.2 297.3C250.8 297.9 249.3 298.5 247.8 299.1C246.4 299.6 243.2 300.7 243.5 300.8C243.7 300.9 249.3 299.3 249.3 299.4C249.4 299.6 245.8 301.1 243.7 301.6C241.6 302.0 238.5 302.4 236.6 302.3C234.7 302.1 233.3 300.5 232.3 300.8C231.4 301.2 232.1 303.6 230.9 304.4C229.7 305.2 227.1 305.3 225.3 305.8C223.4 306.3 221.0 307.1 219.6 307.2C218.2 307.3 216.9 307.3 216.8 306.5C216.6 305.7 218.9 303.7 218.9 302.3C218.9 300.8 217.8 299.1 216.8 298.0C215.7 296.9 213.9 296.1 212.5 295.9C211.1 295.6 209.7 296.2 208.3 296.6C206.8 296.9 205.3 298.0 204.0 298.0C202.7 298.0 201.4 297.8 200.5 296.6C199.5 295.4 198.8 293.0 198.3 290.9C197.9 288.8 197.6 286.0 197.6 283.8C197.6 281.7 198.5 280.1 198.3 278.2C198.2 276.3 197.6 274.4 196.9 272.5C196.2 270.6 195.3 268.4 194.1 266.8C192.9 265.3 191.3 264.5 189.8 263.3C188.4 262.1 187.1 261.1 185.6 259.8C184.1 258.5 181.8 256.9 180.6 255.5C179.4 254.1 179.2 252.7 178.5 251.3C177.8 249.8 177.8 248.1 176.4 247.0C175.0 245.9 172.3 245.2 170.0 244.9C167.7 244.5 163.5 245.7 162.5 244.9C161.5 244.2 163.0 241.5 163.9 240.6C164.9 239.6 166.5 239.1 168.2 239.1C169.8 239.1 172.0 240.4 173.8 240.6C175.7 240.7 177.6 240.1 179.5 239.8C181.4 239.6 183.3 239.1 185.2 239.1C187.1 239.1 189.2 240.2 190.8 239.8C192.5 239.5 193.7 238.2 195.1 237.0C196.5 235.8 197.7 233.7 199.3 232.8C201.0 231.8 203.1 232.3 205.0 231.3C206.9 230.4 208.8 228.3 210.7 227.1C212.6 225.9 214.7 225.4 216.3 224.3C218.0 223.1 219.7 221.9 220.6 220.0C221.5 218.1 222.2 214.8 222.0 212.9C221.8 211.0 220.1 210.3 219.2 208.7C218.2 207.0 216.6 204.9 216.3 203.0C216.1 201.1 216.8 198.8 217.8 197.3Z" fill="#E01400"/>
<path d="M182.0 320.7C182.5 319.0 183.1 317.5 184.2 316.4C185.2 315.4 187.0 314.4 188.4 314.3C189.8 314.2 191.5 314.7 192.7 315.7C193.9 316.8 194.9 318.7 195.5 320.7C196.1 322.7 196.3 325.4 196.2 327.8C196.1 330.1 195.5 332.7 194.8 334.8C194.1 337.0 193.1 339.3 192.0 340.5C190.8 341.7 189.0 342.0 187.7 341.9C186.4 341.8 185.1 341.5 184.2 339.8C183.2 338.2 182.5 334.3 182.0 332.0C181.6 329.8 181.6 328.2 181.6 326.3C181.6 324.5 181.6 322.3 182.0 320.7Z" fill="#E01400"/>
<path d="M208.3 242.8C209.7 241.0 210.7 239.2 212.5 237.8C214.3 236.4 217.3 235.8 218.9 234.3C220.5 232.7 220.5 230.4 222.0 228.5C223.5 226.6 226.5 224.0 227.7 222.8C228.9 221.7 228.1 221.6 229.1 221.6C230.0 221.5 231.9 221.4 233.3 222.3C234.8 223.1 236.2 224.9 237.6 226.5C239.0 228.2 240.5 230.3 241.8 232.2C243.1 234.1 243.7 236.4 245.4 237.8C247.0 239.3 249.7 239.7 251.8 240.7C253.8 241.6 256.1 242.1 257.4 243.5C258.7 244.9 259.2 247.3 259.5 249.2C259.9 251.1 259.7 253.1 259.5 254.8C259.4 256.6 258.7 259.4 258.8 259.9C259.0 260.5 259.4 259.0 260.7 258.3C261.9 257.7 264.5 256.2 266.3 256.2C268.2 256.2 270.7 257.0 272.0 258.3C273.3 259.6 274.0 262.1 274.1 264.0C274.3 265.9 273.5 268.3 272.7 269.7C271.9 271.1 270.7 272.0 269.2 272.5C267.6 273.0 265.3 272.3 263.5 272.5C261.7 272.7 259.9 273.0 258.6 273.9C257.3 274.9 256.0 276.5 255.7 278.2C255.4 279.8 256.5 282.2 256.7 283.8C256.9 285.5 257.4 286.9 257.1 288.1C256.9 289.3 256.5 290.5 255.0 291.2C253.5 291.9 250.3 292.2 247.9 292.3C245.6 292.5 243.2 292.2 240.8 292.3C238.5 292.5 235.5 293.0 233.8 293.0C232.0 293.0 231.4 292.9 230.2 292.3C229.0 291.8 228.0 290.5 226.7 289.5C225.4 288.6 223.7 287.6 222.4 286.7C221.1 285.7 219.6 285.3 218.9 283.8C218.2 282.4 218.8 279.5 218.2 278.2C217.6 276.9 216.8 276.5 215.3 276.0C213.9 275.6 211.4 275.5 209.7 275.3C207.9 275.2 206.0 276.0 204.7 275.3C203.4 274.6 202.7 273.0 201.9 271.1C201.1 269.2 200.0 266.6 199.8 264.0C199.5 261.4 199.8 258.1 200.5 255.5C201.2 252.9 202.7 250.5 204.0 248.4C205.3 246.3 206.8 244.5 208.3 242.8Z" fill="#C83C3C"/>
<path d="M218.6 281.0C215.9 281.7 219.6 283.7 220.6 285.0C221.6 286.3 223.0 287.8 224.6 289.0C226.2 290.2 228.0 291.5 230.0 292.0C232.0 292.5 235.5 293.9 236.6 292.0C237.7 290.2 239.6 282.8 236.6 281.0C233.6 279.1 221.2 280.3 218.6 281.0Z" fill="#C83C3C"/>
<path d="M221.0 253.4C221.1 252.0 222.1 250.2 223.1 249.1C224.2 248.1 226.1 247.2 227.4 247.0C228.7 246.8 230.3 246.8 230.9 247.7C231.6 248.7 231.3 251.1 231.2 252.7C231.1 254.2 231.0 256.0 230.2 256.9C229.5 257.9 228.0 258.2 226.7 258.3C225.4 258.5 223.4 258.5 222.4 257.6C221.5 256.8 220.9 254.8 221.0 253.4Z" fill="#C00000"/>
<path d="M235.2 267.5C236.0 266.7 237.8 265.5 239.4 265.1C241.1 264.7 243.3 264.6 245.1 265.1C246.9 265.7 248.6 267.0 250.1 268.3C251.5 269.5 252.8 270.9 253.6 272.5C254.4 274.2 254.7 276.2 254.7 278.2C254.7 280.2 254.5 283.1 253.6 284.5C252.7 286.0 250.9 286.6 249.3 286.7C247.8 286.8 245.7 286.2 244.4 285.3C243.1 284.3 242.4 282.3 241.6 281.0C240.7 279.7 240.4 278.6 239.4 277.5C238.5 276.3 236.7 275.1 235.9 273.9C235.1 272.7 234.6 271.4 234.5 270.4C234.3 269.3 234.3 268.4 235.2 267.5Z" fill="#C00000"/>
<path d="M163.1 256.3C163.3 255.9 165.8 255.9 167.2 255.9C168.6 255.9 170.3 255.7 171.3 256.3C172.4 256.9 173.3 258.7 173.4 259.6C173.5 260.5 172.9 261.5 172.1 261.7C171.4 261.9 169.9 261.4 168.8 260.9C167.7 260.3 166.5 259.1 165.5 258.4C164.6 257.6 162.8 256.7 163.1 256.3Z" fill="#FFE878"/>
<path d="M355.5 135.0C355.0 137.0 353.0 143.7 352.5 147.0C352.0 150.4 352.0 152.4 352.5 155.1C353.0 157.7 354.0 160.8 355.5 163.1C357.0 165.4 358.9 167.5 361.5 169.1C364.2 170.8 367.9 172.0 371.6 173.1C375.2 174.3 379.6 175.5 383.6 176.1C387.6 176.8 393.6 184.0 395.7 177.2C397.7 170.3 395.7 142.0 395.7 135.0Z" fill="#FF6000"/>
<path d="M362.5 135.0C362.9 137.0 363.7 143.7 364.5 147.0C365.4 150.4 366.0 152.4 367.5 155.1C369.1 157.7 371.6 160.9 373.6 163.1C375.6 165.3 377.9 166.8 379.6 168.1C381.3 169.5 380.9 170.3 383.6 171.1C386.3 172.0 393.6 179.2 395.7 173.1C397.7 167.1 395.7 141.4 395.7 135.0Z" fill="#FF3200"/>
<path d="M376.6 135.0C376.4 137.3 375.2 145.4 375.6 149.1C375.9 152.7 377.6 154.4 378.6 157.1C379.6 159.8 380.6 163.3 381.6 165.1C382.6 166.9 382.3 167.5 384.6 168.1C387.0 168.8 393.8 174.6 395.7 169.1C397.5 163.6 395.7 140.7 395.7 135.0Z" fill="#E01400"/>
<path d="M148.2 164.4 L149.6 166.4 L151.7 162.8 L154.2 160.4 L154.5 156.5 L157.0 154.5 L159.1 153.7 L162.3 153.7 L166.2 151.3 L168.0 149.3 L169.4 150.5 L167.3 152.5 L169.0 154.9 L168.3 157.2 L166.6 159.6 L168.7 162.4 L170.5 160.0 L169.4 156.9 L170.8 154.9 L173.3 153.3 L174.0 150.1 L174.7 152.9 L178.2 153.3 L180.4 155.7 L181.4 156.9 L187.5 156.5 L191.3 158.4 L194.2 157.2 L198.8 156.1 L202.7 156.1 L199.5 157.2 L201.3 159.2 L203.7 159.6 L206.6 161.6 L206.2 164.4 L210.1 165.6 L214.7 171.1 L219.3 175.1 L223.9 175.1 L230.6 175.5 L234.5 177.1 L238.4 180.3 L240.9 182.6 L242.3 189.8 L245.2 193.7 L243.4 197.7 L240.6 200.1 L242.7 202.5 L246.6 199.3 L250.5 199.7 L249.8 204.1 L252.2 201.3 L256.8 202.5 L261.4 204.5 L263.9 207.2 L265.0 209.6 L268.2 208.0 L273.8 210.0 L278.4 209.6 L283.7 212.4 L285.5 213.2 L289.8 217.1 L292.6 218.7 L296.5 219.1 L297.5 224.3 L298.6 227.1 L298.3 231.4 L296.8 236.2 L292.9 240.2 L290.5 243.3 L288.7 246.9 L285.9 249.7 L283.7 252.1 L283.7 258.0 L284.1 264.0 L283.0 268.7 L281.3 271.9 L280.9 276.3 L279.1 279.8 L277.0 283.8 L276.7 285.8 L273.5 289.0 L268.9 289.7 L263.9 290.9 L261.1 292.9 L257.5 293.7 L252.2 297.7 L250.1 301.3 L249.8 305.6 L249.8 310.8 L246.6 313.5 L243.7 318.7 L240.6 323.5 L237.4 326.2 L232.8 332.2 L231.3 335.0 L227.5 337.0 L222.9 337.0 L217.2 335.0 L215.1 333.0 L215.1 335.4 L219.0 338.1 L219.0 342.1 L221.1 343.7 L217.9 349.3 L212.9 352.0 L205.9 353.2 L201.6 352.4 L201.3 357.2 L199.5 361.2 L191.7 361.2 L191.3 365.1 L196.3 365.9 L194.2 368.3 L191.7 369.1 L190.6 375.0 L189.2 377.0 L183.6 379.4 L182.8 382.6 L186.0 385.0 L188.9 388.1 L182.8 392.9 L177.9 398.0 L177.2 400.8 L179.7 406.0 L175.8 406.4 L171.2 408.0 L170.5 411.9 L165.9 409.9 L161.6 406.8 L158.1 405.6 L156.3 400.8 L155.2 396.9 L154.5 391.7 L154.5 386.9 L154.2 383.8 L158.1 381.0 L160.5 377.0 L160.9 373.1 L163.4 369.1 L164.1 365.1 L160.9 363.1 L161.6 357.2 L162.7 354.4 L161.3 347.7 L163.0 345.3 L164.8 339.3 L168.0 331.4 L168.7 325.4 L168.3 319.5 L169.4 313.5 L170.5 307.6 L171.9 301.6 L172.6 293.7 L173.3 285.8 L173.6 277.8 L172.9 271.5 L169.4 267.9 L165.1 264.8 L159.8 262.0 L155.6 259.2 L152.1 254.0 L151.7 250.9 L148.9 246.5 L146.7 242.1 L144.6 237.4 L142.5 231.4 L140.0 227.1 L136.5 222.3 L134.4 219.1 L134.0 216.0 L136.8 212.4 L138.6 210.4 L137.5 208.4 L135.4 207.2 L136.1 202.5 L137.2 199.7 L138.6 196.5 L142.1 193.7 L142.8 191.8 L144.3 188.6 L147.4 187.8 L148.5 183.4 L147.4 180.7 L147.8 176.7 L147.8 172.7 L146.0 169.9Z M146.0 169.9 L144.6 166.4 L142.5 163.2 L140.4 162.8 L137.5 165.6 L138.6 168.8 L135.4 169.9 L132.6 167.6 L128.3 166.0 L125.9 164.8 L125.5 162.8 L122.0 160.0 L120.5 160.4 L118.1 156.9 L118.4 154.5 L115.2 150.9 L112.4 147.3 L111.3 146.1 L108.5 146.1 L103.9 144.6 L101.1 143.4 L98.2 143.0 L95.4 141.0 L92.6 137.0 M148.2 164.4 L146.0 162.0 L142.8 160.8 L140.0 160.4 L135.8 163.2 L132.9 162.8 L130.5 161.6 L128.0 158.8 L125.9 155.3 L125.5 150.9 L126.2 146.9 L126.9 143.0 L127.3 138.2 M179.7 406.8 L180.0 408.4 L181.1 411.1 L184.6 413.5 L191.0 415.1 L189.9 416.7 L184.6 417.5 L179.3 418.3 L174.0 417.5 L168.7 414.7 L166.9 412.7 L170.8 413.1 L173.3 410.7 L175.8 409.9 L174.0 408.0 L176.8 407.6 L179.7 406.8Z M204.8 403.6 L207.3 402.0 L208.7 403.6 L210.8 402.0 L212.6 403.2 L214.7 402.0 L217.2 403.2 L215.4 404.4 L213.3 404.0 L212.2 405.6 L210.1 404.4 L208.0 405.6 L206.2 404.8 L204.8 403.6Z M287.3 412.7 L291.5 413.5 L294.7 415.5 L292.6 414.7 L287.3 412.7Z M160.2 364.3 L162.0 366.3 L161.3 370.7 L158.8 369.9 L159.5 366.3 L160.2 364.3Z M202.7 158.4 L205.9 158.4 L206.2 155.7 L203.4 156.1 L202.7 158.4Z M169.4 151.7 L165.1 154.9 L163.4 162.0 L165.5 169.1 L173.6 170.7 L176.1 174.3 L182.8 173.9 L181.8 177.5 L181.8 183.0 L183.6 185.0 L183.2 189.8 L185.0 193.7 M185.0 193.7 L180.4 191.4 L174.7 191.8 L174.7 194.1 L176.8 194.9 L174.0 196.1 L174.0 199.3 L176.1 202.5 L174.4 215.2 M174.4 215.2 L171.5 213.6 L173.6 209.2 L163.7 208.0 L159.8 202.5 L155.2 198.9 M155.2 198.9 L151.7 196.9 L147.4 195.7 L142.8 193.0 M155.2 198.9 L154.2 204.5 L150.6 208.8 L144.6 212.0 L143.2 216.8 L140.4 218.3 L137.5 216.0 L137.5 212.0 M174.4 215.2 L163.7 219.1 L162.7 224.3 L159.8 227.9 L163.4 234.2 L166.2 238.2 L171.9 236.2 L171.9 242.1 L175.4 242.1 M175.4 242.1 L178.6 248.1 L177.5 256.0 L176.1 260.4 L177.5 262.8 L175.8 267.9 L172.6 271.1 M175.8 267.9 L179.3 275.9 L180.4 283.8 L183.9 289.0 M175.4 242.1 L181.1 241.0 L186.0 237.8 L190.6 237.4 L190.3 244.9 L193.8 248.1 L199.5 250.1 L205.9 252.1 L208.3 258.0 L208.7 263.2 L215.1 263.2 L215.4 267.1 L218.2 270.7 L217.2 273.9 L215.8 277.1 L215.8 278.6 M215.8 278.6 L212.6 275.1 L203.4 276.3 L200.2 286.6 M200.2 286.6 L194.2 289.0 L191.0 286.2 L187.1 285.0 L183.9 289.0 M183.9 289.0 L183.6 293.7 L179.3 296.9 L180.0 303.6 L174.7 311.6 L174.0 319.5 L172.2 325.4 L174.7 333.4 L172.2 341.3 L170.1 349.3 L168.0 357.2 L167.6 365.1 L168.3 373.1 L168.0 381.0 L165.9 388.9 L162.7 396.9 L165.9 400.8 L166.9 404.8 L179.7 406.0 M179.0 407.6 L179.0 416.3 M215.8 278.6 L216.8 286.2 L224.6 287.0 L225.7 293.3 L229.6 294.1 L228.5 300.1 M200.2 286.6 L205.9 292.9 L213.6 296.9 L217.9 299.7 L214.4 306.4 L222.9 306.8 L228.5 300.1 M228.5 300.1 L231.3 304.4 L231.0 306.4 L224.3 311.2 L217.9 318.3 M217.9 318.3 L223.6 320.7 L228.5 323.5 L232.8 327.8 L232.8 332.2 M217.9 318.3 L215.8 325.4 L215.1 333.0 M185.0 193.7 L189.9 195.3 L197.4 189.8 L195.2 188.6 L194.9 183.0 L199.5 182.6 L205.9 180.7 L206.9 177.9 M206.9 177.9 L204.4 175.1 L205.5 171.9 L208.3 170.3 L210.1 165.6 M206.9 177.9 L209.8 180.7 L210.8 183.0 L209.8 189.4 L212.9 193.3 L216.5 192.6 L221.8 191.0 M219.3 175.1 L219.0 178.7 L216.5 182.6 L219.0 185.4 L221.8 191.0 M221.8 191.0 L223.9 190.6 L228.5 189.4 M230.6 175.5 L229.2 178.7 L229.9 184.6 L228.5 189.4 M228.5 189.4 L234.2 189.8 L235.9 188.2 L238.8 182.6 M128.3 166.0 L129.0 160.8 M118.4 154.5 L122.0 154.9 L125.5 155.3 M112.4 147.3 L114.9 145.7 L118.1 143.8 L121.3 139.8 L126.9 139.0 M111.0 145.3 L108.5 143.4 L105.7 141.4 L102.8 143.8 M105.7 141.4 L106.0 139.0 L109.2 136.6 M160.5 227.5 L174.0 234.2 L185.3 237.4 M185.3 237.4 L199.1 230.2 L203.7 233.4 L209.4 242.5 L209.8 252.1 L208.3 252.9 M213.3 227.5 L203.7 233.4 M213.3 227.5 L216.1 227.5 L223.2 206.4 L213.3 193.7 M208.7 177.9 L209.4 190.6 L213.3 193.7 M203.7 194.5 L199.1 202.5 L209.4 200.5 L213.3 193.7 M216.1 227.5 L217.2 234.2 L223.6 236.2 L244.1 237.4 M244.1 237.4 L242.3 249.3 L238.8 258.0 L233.8 267.9 L231.7 269.9 L217.9 269.1 M244.1 237.4 L247.6 230.2 L251.2 219.5 L254.0 218.3 L259.0 203.3 M244.1 237.4 L250.1 240.2 L259.0 239.4 L259.0 249.7 L242.3 249.3 M254.0 218.3 L257.9 228.3 L259.7 239.4 M259.7 239.4 L267.8 235.4 L276.0 233.0 L278.1 227.9 L275.6 218.3 L275.6 210.0 M278.1 227.9 L285.2 229.1 L289.8 217.1 M285.2 229.1 L290.1 227.5 L297.9 224.3 M290.1 227.5 L293.3 229.4 L298.3 228.3 M276.0 233.0 L282.7 232.6 L287.3 235.0 L292.9 234.2 L297.5 233.8 M287.3 235.0 L289.8 237.8 L292.9 240.2 M287.3 236.2 L287.3 244.1 L289.8 244.1 M259.0 249.7 L265.3 255.2 L273.1 257.6 L280.2 261.2 L283.0 269.5 M259.0 249.7 L259.0 258.0 L254.4 260.4 L254.4 269.9 L241.6 275.9 L233.8 267.9 M241.6 275.9 L241.3 279.0 L254.4 277.8 L257.9 288.6 L265.0 288.2 L273.1 281.8 L276.7 282.6 M276.7 282.6 L273.8 279.0 L276.7 271.9 L279.5 269.9 M241.3 279.0 L233.8 287.8 L229.9 293.7 M233.8 287.8 L246.2 289.7 L247.3 296.5 L251.2 298.5 M232.1 302.4 L239.8 302.4 L249.8 301.6 M231.3 306.4 L239.5 307.6 L245.9 314.7 M265.0 288.2 L263.6 290.5 M158.8 375.2 L157.9 371.9 L156.5 375.2 L157.3 374.6Z M157.3 375.0 L155.1 375.0 L155.0 376.5 L157.0 376.8Z M161.0 375.7 L160.1 373.9 L159.3 374.3 L158.1 376.2 L158.7 373.7 L159.5 375.2Z M159.9 377.5 L159.4 376.3 L160.6 375.5 L158.3 374.5Z M161.1 372.2 L161.2 373.5 L159.6 370.7 L160.6 372.5Z M160.9 371.5 L159.5 372.6 L157.9 372.5 L160.2 371.3Z M157.3 376.0 L157.3 377.3 L157.8 378.9 L157.0 376.8 L157.5 376.1 L157.8 379.1Z M159.7 376.6 L157.9 376.3 L159.7 373.9 L156.9 377.0 L157.2 376.8Z M158.7 375.7 L160.5 376.6 L158.6 374.5 L161.8 375.3Z M159.1 382.3 L157.5 383.4 L158.4 383.6 L156.2 383.0 L156.6 382.5 L156.2 383.8Z M154.7 381.1 L155.9 379.4 L158.2 379.5 L156.3 381.5Z M159.7 383.2 L160.7 382.5 L162.6 382.9 L159.5 379.8 L161.4 383.0Z M156.9 381.0 L154.6 382.3 L154.2 380.7 L155.7 380.6 L154.9 382.8 L156.7 379.8Z M161.1 383.9 L159.9 381.8 L161.8 381.5 L159.8 383.9 L160.3 383.3 L161.1 381.8Z M160.4 383.2 L160.3 381.5 L163.0 380.7 L161.4 381.4Z M156.7 381.9 L155.5 384.1 L156.7 383.5 L156.8 381.0 L155.2 383.2Z M157.5 384.9 L159.2 384.7 L159.7 384.9 L159.2 383.6Z M159.7 380.9 L160.8 381.3 L160.5 379.8 L158.0 382.0 L158.3 382.1 L159.4 382.0Z M157.4 385.1 L157.0 385.7 L157.1 384.2 L154.4 387.1 L155.9 384.3Z M157.5 388.4 L159.7 388.1 L158.1 388.2 L159.0 387.2Z M156.5 387.6 L158.1 387.9 L159.8 387.7 L157.6 384.1 L158.7 387.2Z M159.8 384.4 L159.5 383.5 L157.1 385.0 L159.8 383.9 L156.6 386.7 L157.8 386.9Z M157.0 386.8 L156.3 384.8 L154.0 383.9 L157.2 386.6Z M158.9 391.6 L157.4 390.2 L157.0 391.5 L156.9 389.4 L155.7 390.1 L157.4 392.2Z M157.2 384.8 L157.7 385.0 L157.1 387.4 L160.3 387.8Z M161.3 388.9 L158.7 386.3 L160.4 387.2 L158.5 389.7 L160.8 388.2 L158.4 386.2Z M158.2 388.2 L159.8 390.3 L160.1 388.0 L159.0 391.1Z M155.9 396.1 L158.5 394.4 L157.0 396.0 L156.6 394.2Z M158.3 389.6 L160.4 391.8 L160.1 388.8 L158.6 389.3Z M160.2 392.8 L157.3 393.1 L157.2 390.5 L159.3 393.4 L160.3 390.1Z M155.4 396.9 L156.3 395.6 L155.6 393.2 L156.0 394.3 L153.8 396.3Z M157.2 392.4 L154.4 390.7 L154.6 393.1 L153.4 393.0 L155.3 392.5Z M159.6 394.7 L158.7 393.7 L157.6 392.8 L156.7 391.5 L159.7 394.6Z M161.1 395.5 L159.4 395.0 L158.9 394.2 L161.1 395.5 L160.0 394.7Z M162.2 391.5 L162.2 392.4 L162.4 392.0 L161.6 393.8 L159.1 394.2 L160.4 394.3Z M159.0 396.1 L158.0 395.2 L157.2 393.4 L160.4 396.7 L159.0 394.1 L158.8 393.8Z M159.1 398.8 L158.2 401.1 L158.1 400.0 L159.2 400.2Z M157.6 400.6 L157.4 402.9 L156.9 401.5 L158.8 403.0 L155.9 401.4Z M160.2 400.6 L157.6 402.4 L158.2 401.6 L156.7 400.8Z M161.3 404.4 L163.9 403.7 L162.4 402.3 L163.5 403.6Z M157.5 398.5 L159.7 396.4 L157.6 396.2 L157.6 397.6 L156.5 397.8Z M158.9 397.1 L157.3 399.2 L157.7 396.7 L158.4 399.3Z M156.1 399.8 L158.4 401.8 L159.7 400.7 L157.1 399.4Z M158.9 401.1 L159.5 403.8 L157.6 400.9 L158.9 402.2 L157.9 401.2 L159.2 401.0Z M156.6 399.1 L159.3 401.0 L158.0 400.8 L157.6 400.4 L156.1 401.3Z M162.9 404.2 L164.1 403.8 L163.2 404.5 L161.8 403.3Z M161.6 402.1 L159.8 403.4 L160.2 403.6 L159.5 404.8Z M163.7 403.9 L165.0 406.6 L165.2 405.5 L164.2 405.3 L162.9 403.8 L165.4 406.5Z M162.8 405.3 L164.5 401.9 L162.9 403.8 L162.6 402.5 L161.7 405.0 L164.6 405.2Z M161.9 404.5 L161.6 407.1 L163.8 407.4 L164.4 403.7 L164.1 405.5Z M162.9 405.6 L162.4 407.0 L163.2 407.9 L162.1 406.1 L164.6 405.4Z M160.5 408.2 L163.0 409.6 L161.2 406.3 L162.9 409.5Z M158.4 404.6 L159.9 403.3 L159.0 402.8 L161.1 404.0 L159.1 402.1Z M161.9 403.3 L161.3 404.4 L163.3 403.3 L162.8 403.2Z M162.5 404.6 L162.3 408.2 L161.9 406.9 L165.2 404.9Z M167.8 408.5 L169.1 409.2 L168.2 408.2 L170.3 407.2 L168.7 410.7Z M160.9 407.1 L160.2 407.1 L159.9 406.9 L159.1 407.3Z M163.4 406.9 L162.1 408.9 L165.1 407.5 L162.1 410.4 L162.2 406.8Z M164.9 408.0 L167.2 409.1 L166.4 406.6 L167.1 408.1 L166.3 406.9Z M167.4 411.3 L168.8 411.0 L170.1 410.5 L170.2 413.6Z M163.3 407.1 L162.4 408.9 L161.3 408.7 L163.1 409.8 L160.8 407.2Z M161.5 411.4 L161.0 411.6 L159.6 409.5 L160.1 410.3 L163.2 408.2 L160.0 411.5Z M168.5 409.6 L165.7 408.9 L166.4 410.0 L166.7 409.3 L166.0 411.2 L166.2 411.6Z M171.0 415.5 L172.1 413.9 L170.4 414.7 L170.1 416.5 L173.4 415.6Z M167.1 412.8 L170.4 411.3 L170.2 412.1 L170.0 411.8Z M170.6 410.0 L169.5 412.7 L169.4 412.6 L172.0 412.7Z M172.9 413.1 L173.7 414.2 L171.4 412.6 L173.2 412.9 L174.4 411.9Z M168.8 411.8 L167.2 412.2 L169.8 412.2 L168.3 412.0 L167.7 410.0Z M170.8 413.5 L171.0 416.6 L169.7 416.9 L171.5 415.8 L172.3 416.7 L169.5 416.7Z M171.4 414.8 L169.9 414.9 L169.2 415.3 L170.0 412.5 L171.6 412.3Z M169.9 413.4 L171.2 415.5 L171.4 413.1 L172.1 413.3 L172.0 413.3Z M167.2 413.7 L168.4 413.8 L166.8 414.3 L169.2 411.7 L166.5 413.1 L169.3 415.2Z M175.3 414.6 L174.5 416.4 L172.9 416.1 L173.4 415.6 L172.7 417.6 L175.8 415.8Z M176.2 414.6 L173.3 414.7 L174.5 413.0 L175.0 413.6Z M171.1 413.0 L168.3 413.0 L169.6 411.3 L168.6 411.6 L172.0 412.1Z M173.4 413.2 L175.4 413.7 L175.1 415.5 L175.5 414.0 L173.3 415.1Z M177.5 414.0 L176.4 416.6 L177.6 416.4 L175.7 416.9 L176.2 413.9Z M176.3 416.6 L178.3 417.3 L179.3 416.5 L178.1 415.2 L176.3 414.8Z M174.1 415.1 L173.2 415.3 L172.9 415.7 L175.0 412.8 L173.7 414.6Z M177.9 412.8 L177.4 414.9 L175.6 413.3 L176.1 414.3 L174.6 413.8 L176.8 415.6Z M172.2 416.1 L173.1 414.7 L171.6 414.5 L172.6 416.5 L174.4 416.1 L171.4 416.6Z M183.6 414.3 L180.7 414.9 L183.9 415.8 L182.7 415.8 L182.5 416.2Z M174.5 418.9 L173.1 416.8 L172.9 417.7 L176.5 419.3Z M178.3 416.1 L178.7 418.2 L179.1 414.5 L179.5 416.6 L178.8 417.0 L178.4 414.9Z M177.4 416.8 L176.9 415.9 L180.0 415.7 L177.4 419.2Z M183.1 417.3 L182.9 414.9 L179.6 416.4 L180.0 414.9 L182.6 417.6 L179.9 414.8Z M178.9 415.7 L178.0 415.5 L179.2 416.3 L178.6 415.4 L178.7 416.4Z M180.6 417.4 L181.3 419.1 L179.2 419.3 L181.5 419.1Z M183.8 418.4 L183.8 418.0 L181.4 418.6 L182.5 417.7Z M185.2 420.2 L182.3 420.2 L181.6 417.3 L184.6 418.1 L184.7 418.1 L182.6 420.2Z M183.3 419.4 L183.3 416.8 L182.2 417.4 L185.5 417.4 L184.3 418.6Z M184.4 415.6 L184.1 415.9 L184.8 417.8 L186.1 418.3Z M182.6 418.4 L181.7 420.0 L181.9 418.6 L184.7 417.5Z M189.0 418.5 L186.1 416.9 L187.2 419.2 L187.8 419.3 L188.4 416.9 L188.4 417.2Z M181.3 416.4 L181.0 419.1 L182.0 416.4 L182.9 418.4 L184.4 419.0 L182.7 417.8Z M187.0 417.2 L188.1 417.5 L186.9 418.0 L186.5 416.6 L185.7 418.4Z M183.0 417.8 L185.0 415.6 L182.9 418.4 L183.3 417.7 L184.3 418.3 L183.6 418.2Z M185.9 419.6 L189.4 418.0 L188.4 419.4 L186.3 418.6 L186.0 420.3 L187.0 421.0Z M187.3 417.8 L183.6 418.0 L186.3 419.0 L184.4 415.6 L186.2 416.7 L186.0 415.7Z M97.5 199.7 L99.3 200.9 L100.0 202.5 L98.2 202.1 L97.5 199.7 M101.4 200.5 L102.5 201.3 M104.6 201.7 L105.7 202.1 M323.7 421.8 L324.5 422.4 M326.5 425.0 L327.4 425.6 M327.6 427.8 L328.4 428.4 M327.9 430.2 L328.8 430.8 M327.2 432.6 L328.1 433.2 M324.7 434.1 L325.6 434.7 M362.7 138.2 L360.6 140.2 L362.7 144.6 L362.7 149.3 L366.9 153.7 L370.1 156.9 L374.0 160.4 L375.1 164.8 L376.8 168.4 L379.7 170.7 M362.7 144.6 L368.7 144.6 L372.9 145.3 M362.7 149.3 L368.7 148.5 L373.3 148.5 L373.3 152.1 L368.7 154.9 M374.7 162.4 L377.6 159.2 L382.2 158.8 L384.3 162.8 L385.3 166.0 L381.4 171.1" fill="none" stroke="#9c9c9c" stroke-width="0.75" stroke-linejoin="round"/>
<path d="M60.0 190.2C60.7 190.0 62.0 190.0 64.0 189.2C66.0 188.4 69.4 185.8 72.0 185.6C74.7 185.3 78.3 186.3 80.1 187.6C81.8 188.9 81.8 191.3 82.5 193.2C83.2 195.1 82.8 197.4 84.1 199.2C85.4 201.1 88.2 202.8 90.1 204.2C92.0 205.7 93.6 206.3 95.7 207.7C97.9 209.0 100.9 210.8 103.2 212.3C105.4 213.7 107.6 214.5 109.2 216.3C110.7 218.1 110.7 220.8 112.6 223.3C114.4 225.8 117.3 228.2 120.2 231.3C123.1 234.5 127.7 239.9 130.0 242.3C132.3 244.6 132.8 244.2 134.1 245.6C135.5 247.0 137.0 248.7 138.3 250.5C139.5 252.3 140.5 254.3 141.6 256.3C142.7 258.4 143.6 260.9 144.9 262.9C146.1 265.0 147.8 266.9 149.0 268.7C150.2 270.5 151.4 271.8 152.3 273.7C153.2 275.6 153.0 276.7 154.4 280.0C155.7 283.2 158.9 289.3 160.4 293.0C161.9 296.7 162.4 299.6 163.4 302.1C164.4 304.6 165.4 306.2 166.4 308.1C167.4 309.9 168.6 312.4 169.4 313.1C170.2 313.8 170.6 313.5 171.4 312.2C172.2 310.8 173.5 307.7 174.3 305.1C175.0 302.5 175.3 299.7 175.7 296.6C176.0 293.5 176.4 290.0 176.4 286.7C176.4 283.4 175.7 277.9 175.7 276.8C175.7 275.6 176.4 280.5 176.3 280.0C176.2 279.4 175.7 275.3 175.0 273.7C174.4 272.1 173.3 271.3 172.1 270.4C171.0 269.4 169.5 268.9 168.0 267.9C166.5 266.9 164.6 265.8 163.1 264.6C161.5 263.3 159.9 262.0 158.5 260.5C157.1 258.9 156.0 257.1 154.8 255.5C153.6 253.8 152.7 252.3 151.5 250.5C150.3 248.7 148.8 246.7 147.8 244.8C146.7 242.8 146.0 241.0 145.3 239.0C144.6 237.0 143.8 234.7 143.6 232.8C143.4 230.8 143.5 228.7 144.0 227.4C144.6 226.1 146.0 224.9 146.9 224.9C147.9 224.9 149.3 226.1 149.8 227.4C150.4 228.7 149.8 231.1 150.2 232.8C150.7 234.4 151.6 235.7 152.3 237.3C153.1 238.9 153.8 240.7 154.8 242.3C155.8 243.9 156.9 245.5 158.1 246.8C159.3 248.1 160.9 249.4 162.2 250.1C163.6 250.9 165.0 251.0 166.4 251.4C167.7 251.8 169.1 252.1 170.5 252.6C171.9 253.2 173.4 253.8 174.6 254.7C175.9 255.6 177.0 256.7 177.9 258.0C178.9 259.2 179.3 260.7 180.4 262.1C181.5 263.5 183.2 265.0 184.5 266.2C185.9 267.5 187.6 268.4 188.7 269.5C189.8 270.6 190.7 271.1 191.2 272.9C191.6 274.6 191.6 277.2 191.6 280.0C191.6 282.7 191.7 286.5 191.3 289.5C190.8 292.5 190.1 295.4 189.1 298.0C188.2 300.6 187.0 303.0 185.6 305.1C184.2 307.2 182.2 308.9 180.6 310.8C179.1 312.6 177.6 314.3 176.4 316.4C175.2 318.6 174.3 320.9 173.5 323.5C172.8 326.1 172.5 329.3 172.1 332.0C171.8 334.8 171.8 336.3 171.4 339.9C171.1 343.6 169.3 351.1 170.0 354.1C170.7 357.0 173.7 356.5 175.7 357.6C177.7 358.8 179.7 360.4 182.0 360.9C184.3 361.3 187.0 360.5 189.4 360.4C191.9 360.2 194.6 360.0 196.9 359.8C199.2 359.6 201.1 359.6 203.3 359.3C205.4 359.0 207.7 358.8 209.6 358.2C211.6 357.7 213.4 357.1 214.9 356.1C216.4 355.1 217.8 353.7 218.7 352.4C219.5 351.1 219.8 349.6 220.3 348.1C220.7 346.7 220.9 345.2 221.3 343.9C221.8 342.6 222.1 341.3 222.9 340.2C223.7 339.0 224.9 338.1 226.1 337.0C227.3 335.8 228.9 334.6 230.4 333.3C231.8 331.9 233.3 330.4 234.6 329.0C235.9 327.6 237.1 326.1 238.3 324.8C239.6 323.4 240.8 322.2 242.0 321.0C243.3 319.9 244.6 318.7 245.8 317.8C246.9 317.0 247.9 316.3 249.0 315.7C250.0 315.2 250.9 314.8 252.1 314.7C253.4 314.5 254.8 314.6 256.4 314.7C258.0 314.7 259.9 314.9 261.7 315.0C263.5 315.1 265.3 315.2 267.0 315.4C268.7 315.6 269.4 316.8 272.0 316.3C274.6 315.7 280.9 313.4 282.7 312.1C284.6 310.9 283.1 310.0 283.2 308.6C283.2 307.3 282.7 305.7 282.9 304.3C283.0 302.8 283.5 301.2 284.0 299.9C284.6 298.6 285.4 297.5 286.2 296.4C287.0 295.4 287.8 294.6 288.8 293.8C289.8 293.0 291.1 292.4 292.3 291.6C293.5 290.9 294.6 290.3 295.8 289.5C297.0 288.7 298.1 287.7 299.3 286.8C300.4 286.0 301.6 285.1 302.8 284.2C303.9 283.4 305.1 282.4 306.3 281.6C307.5 280.8 307.8 281.1 310.0 279.4C312.2 277.8 317.3 274.2 319.4 271.5C321.4 268.8 321.2 266.1 322.4 263.5C323.6 260.8 324.6 257.6 326.4 255.4C328.2 253.3 330.6 252.3 333.4 250.4C336.3 248.6 340.5 246.2 343.5 244.4C346.5 242.6 348.8 241.0 351.5 239.4C354.2 237.7 356.8 236.0 359.5 234.4C362.2 232.7 364.9 230.7 367.5 229.3C370.2 228.0 372.9 227.2 375.6 226.3C378.3 225.5 380.9 224.8 383.6 224.3C386.3 223.8 390.3 223.5 391.6 223.3" fill="none" stroke="#000" stroke-width="0.8"/>
<path d="M296.3 138.0C297.1 138.8 299.1 142.0 301.3 143.0C303.5 144.0 306.3 144.1 309.3 144.0C312.4 144.0 316.4 143.1 319.4 142.6C322.4 142.1 325.1 141.7 327.4 141.0C329.7 140.4 332.4 139.0 333.4 138.6" fill="none" stroke="#000" stroke-width="0.8"/>
<path d="M64.0 339.2C65.7 338.7 70.7 336.9 74.1 336.2C77.4 335.5 80.4 335.0 84.1 335.2C87.8 335.3 92.1 336.4 96.1 337.2C100.1 338.0 104.2 339.0 108.2 340.2C112.2 341.4 117.0 343.2 120.2 344.2C123.4 345.2 125.1 346.2 127.2 346.2C129.4 346.2 131.8 345.6 133.3 344.2C134.8 342.9 135.4 340.2 136.3 338.2C137.1 336.2 137.3 333.8 138.3 332.2C139.3 330.5 140.8 328.5 142.3 328.2C143.8 327.8 145.8 328.8 147.3 330.2C148.8 331.5 150.2 333.7 151.3 336.2C152.5 338.7 153.3 342.0 154.3 345.2C155.3 348.4 156.3 351.9 157.4 355.3C158.4 358.6 159.5 362.3 160.4 365.3C161.2 368.3 161.9 370.6 162.4 373.3C162.9 376.0 162.7 379.0 163.4 381.3C164.0 383.7 164.9 385.7 166.4 387.4C167.9 389.0 170.4 390.5 172.4 391.4C174.4 392.2 176.6 392.6 178.4 392.4C180.3 392.2 182.1 391.4 183.4 390.4C184.8 389.3 185.3 387.8 186.3 386.0C187.2 384.2 188.1 381.6 189.1 379.6C190.2 377.6 191.1 375.3 192.7 373.9C194.2 372.5 196.2 371.6 198.3 371.1C200.5 370.6 203.1 370.9 205.4 371.1C207.8 371.3 210.1 372.0 212.5 372.5C214.9 373.0 217.2 373.6 219.6 374.2C222.0 374.8 224.1 375.7 226.7 376.0C229.3 376.4 233.2 376.6 235.2 376.0C237.2 375.5 237.7 374.0 238.7 372.5C239.8 371.0 240.3 368.4 241.6 366.8C242.8 365.3 244.3 364.4 246.5 363.3C248.8 362.2 251.7 361.3 255.0 360.5C258.3 359.6 262.6 358.9 266.3 358.3C270.1 357.8 273.5 357.4 277.7 357.2C281.8 357.0 287.0 356.9 291.3 356.9C295.5 356.8 299.3 356.5 303.3 356.9C307.3 357.3 311.3 358.4 315.4 359.3C319.4 360.2 323.4 361.3 327.4 362.3C331.4 363.3 334.8 364.3 339.4 365.3C344.1 366.3 350.2 367.4 355.5 368.3C360.9 369.2 366.9 370.2 371.6 370.9C376.2 371.6 381.3 372.4 383.2 372.7" fill="none" stroke="#000" stroke-width="0.8"/>
<path d="M64.0 439.6C65.7 438.8 70.7 436.5 74.1 435.1C77.4 433.8 80.4 432.8 84.1 431.5C87.8 430.3 92.1 428.7 96.1 427.5C100.1 426.3 104.2 425.3 108.2 424.5C112.2 423.7 116.2 422.9 120.2 422.5C124.2 422.1 128.2 422.0 132.3 421.9C136.3 421.8 140.3 421.9 144.3 422.1C148.3 422.3 152.3 422.8 156.3 423.1C160.4 423.4 164.4 423.7 168.4 423.9C172.4 424.1 176.8 424.2 180.4 424.1C184.1 424.0 187.1 423.7 190.5 423.1C193.8 422.5 197.5 421.3 200.5 420.5C203.5 419.7 204.6 418.4 208.5 418.5C212.4 418.5 219.6 420.2 223.8 420.7C228.0 421.2 230.5 421.5 233.8 421.4C237.1 421.3 240.1 420.7 243.7 420.0C247.2 419.3 251.2 418.3 255.0 417.1C258.8 416.0 262.6 414.4 266.3 412.9C270.1 411.3 274.2 409.3 277.7 407.9C281.2 406.5 283.7 405.7 287.3 404.4C290.9 403.2 295.3 401.5 299.3 400.4C303.3 399.3 307.3 398.4 311.3 397.8C315.4 397.2 319.4 396.9 323.4 397.0C327.4 397.1 331.8 397.7 335.4 398.4C339.1 399.1 342.5 399.9 345.5 401.4C348.5 402.9 351.2 405.4 353.5 407.4C355.8 409.4 357.5 411.6 359.5 413.5C361.5 415.3 363.2 417.0 365.5 418.5C367.9 420.0 370.6 421.8 373.6 422.5C376.5 423.2 381.6 422.5 383.2 422.5" fill="none" stroke="#000" stroke-width="0.8"/>
<path d="M95.7 207.7C96.5 207.3 98.5 206.6 100.1 205.3C101.8 203.9 104.8 200.6 105.8 199.6" fill="none" stroke="#000" stroke-width="0.8"/>
<rect x="97.2" y="190.4" width="12.0" height="8.8" fill="#fff"/>
<text x="103.2" y="198.1" font-size="9" text-anchor="middle" style="fill:#3c3c3c">18</text>
<rect x="141.3" y="223.9" width="12.0" height="8.8" fill="#fff"/>
<text x="147.3" y="231.6" font-size="9" text-anchor="middle" style="fill:#3c3c3c">18</text>
<rect x="267.8" y="312.1" width="12.0" height="8.8" fill="#fff"/>
<text x="273.8" y="319.8" font-size="9" text-anchor="middle" style="fill:#3c3c3c">18</text>
<rect x="126.8" y="342.4" width="5.7" height="8.8" fill="#fff"/>
<text x="129.7" y="350.1" font-size="9" text-anchor="middle" style="fill:#3c3c3c">9</text>
<rect x="227.4" y="372.1" width="5.7" height="8.8" fill="#fff"/>
<text x="230.2" y="379.8" font-size="9" text-anchor="middle" style="fill:#3c3c3c">9</text>
<rect x="230.9" y="417.0" width="5.7" height="8.8" fill="#fff"/>
<text x="233.8" y="424.7" font-size="9" text-anchor="middle" style="fill:#3c3c3c">0</text>
</g>
<rect x="63.4" y="139.0" width="320.4" height="297.5" fill="none" stroke="#000" stroke-width="1.6"/>
<line x1="59.4" y1="139.0" x2="63.4" y2="139.0" stroke="#000" stroke-width="1.3"/>
<text transform="translate(58.2,142.6) scale(0.95,1)" font-size="9.4" font-weight="bold" stroke="#000" stroke-width="0.3" text-anchor="end">15N</text>
<line x1="59.4" y1="158.8" x2="63.4" y2="158.8" stroke="#000" stroke-width="1.3"/>
<text transform="translate(58.2,162.4) scale(0.95,1)" font-size="9.4" font-weight="bold" stroke="#000" stroke-width="0.3" text-anchor="end">10N</text>
<line x1="59.4" y1="178.7" x2="63.4" y2="178.7" stroke="#000" stroke-width="1.3"/>
<text transform="translate(58.2,182.3) scale(0.95,1)" font-size="9.4" font-weight="bold" stroke="#000" stroke-width="0.3" text-anchor="end">5N</text>
<line x1="59.4" y1="198.5" x2="63.4" y2="198.5" stroke="#000" stroke-width="1.3"/>
<text transform="translate(58.2,202.1) scale(0.95,1)" font-size="9.4" font-weight="bold" stroke="#000" stroke-width="0.3" text-anchor="end">EQ</text>
<line x1="59.4" y1="218.3" x2="63.4" y2="218.3" stroke="#000" stroke-width="1.3"/>
<text transform="translate(58.2,221.9) scale(0.95,1)" font-size="9.4" font-weight="bold" stroke="#000" stroke-width="0.3" text-anchor="end">5S</text>
<line x1="59.4" y1="238.2" x2="63.4" y2="238.2" stroke="#000" stroke-width="1.3"/>
<text transform="translate(58.2,241.8) scale(0.95,1)" font-size="9.4" font-weight="bold" stroke="#000" stroke-width="0.3" text-anchor="end">10S</text>
<line x1="59.4" y1="258.0" x2="63.4" y2="258.0" stroke="#000" stroke-width="1.3"/>
<text transform="translate(58.2,261.6) scale(0.95,1)" font-size="9.4" font-weight="bold" stroke="#000" stroke-width="0.3" text-anchor="end">15S</text>
<line x1="59.4" y1="277.8" x2="63.4" y2="277.8" stroke="#000" stroke-width="1.3"/>
<text transform="translate(58.2,281.4) scale(0.95,1)" font-size="9.4" font-weight="bold" stroke="#000" stroke-width="0.3" text-anchor="end">20S</text>
<line x1="59.4" y1="297.7" x2="63.4" y2="297.7" stroke="#000" stroke-width="1.3"/>
<text transform="translate(58.2,301.3) scale(0.95,1)" font-size="9.4" font-weight="bold" stroke="#000" stroke-width="0.3" text-anchor="end">25S</text>
<line x1="59.4" y1="317.5" x2="63.4" y2="317.5" stroke="#000" stroke-width="1.3"/>
<text transform="translate(58.2,321.1) scale(0.95,1)" font-size="9.4" font-weight="bold" stroke="#000" stroke-width="0.3" text-anchor="end">30S</text>
<line x1="59.4" y1="337.3" x2="63.4" y2="337.3" stroke="#000" stroke-width="1.3"/>
<text transform="translate(58.2,340.9) scale(0.95,1)" font-size="9.4" font-weight="bold" stroke="#000" stroke-width="0.3" text-anchor="end">35S</text>
<line x1="59.4" y1="357.2" x2="63.4" y2="357.2" stroke="#000" stroke-width="1.3"/>
<text transform="translate(58.2,360.8) scale(0.95,1)" font-size="9.4" font-weight="bold" stroke="#000" stroke-width="0.3" text-anchor="end">40S</text>
<line x1="59.4" y1="377.0" x2="63.4" y2="377.0" stroke="#000" stroke-width="1.3"/>
<text transform="translate(58.2,380.6) scale(0.95,1)" font-size="9.4" font-weight="bold" stroke="#000" stroke-width="0.3" text-anchor="end">45S</text>
<line x1="59.4" y1="396.8" x2="63.4" y2="396.8" stroke="#000" stroke-width="1.3"/>
<text transform="translate(58.2,400.4) scale(0.95,1)" font-size="9.4" font-weight="bold" stroke="#000" stroke-width="0.3" text-anchor="end">50S</text>
<line x1="59.4" y1="416.7" x2="63.4" y2="416.7" stroke="#000" stroke-width="1.3"/>
<text transform="translate(58.2,420.3) scale(0.95,1)" font-size="9.4" font-weight="bold" stroke="#000" stroke-width="0.3" text-anchor="end">55S</text>
<line x1="59.4" y1="436.5" x2="63.4" y2="436.5" stroke="#000" stroke-width="1.3"/>
<text transform="translate(58.2,440.1) scale(0.95,1)" font-size="9.4" font-weight="bold" stroke="#000" stroke-width="0.3" text-anchor="end">60S</text>
<line x1="67.8" y1="436.5" x2="67.8" y2="439.5" stroke="#000" stroke-width="1.3"/>
<text transform="translate(68.3,447.8) scale(0.81,1)" font-size="10.2" font-weight="bold" stroke="#000" stroke-width="0.35" text-anchor="middle">100W</text>
<line x1="103.2" y1="436.5" x2="103.2" y2="439.5" stroke="#000" stroke-width="1.3"/>
<text transform="translate(103.7,447.8) scale(0.81,1)" font-size="10.2" font-weight="bold" stroke="#000" stroke-width="0.35" text-anchor="middle">90W</text>
<line x1="138.6" y1="436.5" x2="138.6" y2="439.5" stroke="#000" stroke-width="1.3"/>
<text transform="translate(139.1,447.8) scale(0.81,1)" font-size="10.2" font-weight="bold" stroke="#000" stroke-width="0.35" text-anchor="middle">80W</text>
<line x1="174.0" y1="436.5" x2="174.0" y2="439.5" stroke="#000" stroke-width="1.3"/>
<text transform="translate(174.5,447.8) scale(0.81,1)" font-size="10.2" font-weight="bold" stroke="#000" stroke-width="0.35" text-anchor="middle">70W</text>
<line x1="209.4" y1="436.5" x2="209.4" y2="439.5" stroke="#000" stroke-width="1.3"/>
<text transform="translate(209.9,447.8) scale(0.81,1)" font-size="10.2" font-weight="bold" stroke="#000" stroke-width="0.35" text-anchor="middle">60W</text>
<line x1="244.8" y1="436.5" x2="244.8" y2="439.5" stroke="#000" stroke-width="1.3"/>
<text transform="translate(245.3,447.8) scale(0.81,1)" font-size="10.2" font-weight="bold" stroke="#000" stroke-width="0.35" text-anchor="middle">50W</text>
<line x1="280.2" y1="436.5" x2="280.2" y2="439.5" stroke="#000" stroke-width="1.3"/>
<text transform="translate(280.7,447.8) scale(0.81,1)" font-size="10.2" font-weight="bold" stroke="#000" stroke-width="0.35" text-anchor="middle">40W</text>
<line x1="315.6" y1="436.5" x2="315.6" y2="439.5" stroke="#000" stroke-width="1.3"/>
<text transform="translate(316.1,447.8) scale(0.81,1)" font-size="10.2" font-weight="bold" stroke="#000" stroke-width="0.35" text-anchor="middle">30W</text>
<line x1="351.0" y1="436.5" x2="351.0" y2="439.5" stroke="#000" stroke-width="1.3"/>
<text transform="translate(351.5,447.8) scale(0.81,1)" font-size="10.2" font-weight="bold" stroke="#000" stroke-width="0.35" text-anchor="middle">20W</text>
<text x="107.5" y="129.9" font-size="17" textLength="68.5" lengthAdjust="spacingAndGlyphs">cluster:</text>
<text x="194.4" y="129.9" font-size="17" text-anchor="middle">1</text>
<text x="223.9" y="129.9" font-size="17" textLength="90.8" lengthAdjust="spacingAndGlyphs">membros:</text>
<text x="333.0" y="129.9" font-size="17" text-anchor="middle">7</text>
<clipPath id="cp1"><rect x="522.1" y="139.0" width="320.4" height="297.5"/></clipPath>
<g clip-path="url(#cp1)">
<rect x="522.1" y="139.0" width="320.4" height="297.5" fill="#1C4DCF"/>
<path d="M660.6 439.1C647.5 437.9 658.9 437.4 660.6 436.5C662.2 435.7 666.5 435.0 670.5 434.1C674.5 433.3 680.0 432.2 684.7 431.3C689.4 430.4 694.1 429.4 698.8 428.5C703.6 427.5 708.3 426.5 713.0 425.6C717.7 424.8 722.9 423.7 727.2 423.5C731.4 423.3 734.7 423.6 738.5 424.2C742.4 424.9 748.8 426.1 750.3 427.5C751.7 428.9 749.1 430.9 747.3 432.5C745.4 434.2 740.6 435.7 739.2 437.5C737.9 439.4 752.3 443.3 739.2 443.6C726.1 443.8 673.7 440.3 660.6 439.1Z" fill="#4632C8"/>
<path d="M498.1 440.6C504.7 440.6 529.7 441.4 538.1 440.6C546.4 439.7 544.8 437.0 548.1 435.5C551.5 434.0 554.5 433.0 558.1 431.5C561.8 430.0 566.2 427.8 570.2 426.5C574.2 425.2 578.2 424.3 582.2 423.5C586.2 422.7 589.9 422.2 594.3 421.9C598.6 421.6 603.6 421.6 608.3 421.5C613.0 421.4 619.1 421.6 622.4 421.5C625.7 421.4 625.9 420.6 628.0 420.7C630.1 420.7 632.5 421.7 635.1 421.8C637.7 421.9 640.8 421.8 643.6 421.4C646.4 421.0 649.3 420.1 652.1 419.5C654.9 419.0 657.8 418.4 660.6 418.1C663.4 417.9 666.3 417.9 669.1 418.1C671.9 418.3 674.3 419.0 677.6 419.3C680.9 419.6 685.4 420.0 688.9 420.0C692.5 419.9 695.8 419.4 698.8 419.0C701.9 418.5 704.5 417.8 707.3 417.1C710.2 416.4 713.0 415.7 715.8 414.7C718.7 413.8 721.5 412.6 724.3 411.5C727.2 410.4 729.7 409.5 732.8 408.2C736.0 406.9 739.5 405.1 743.3 403.8C747.0 402.5 751.3 401.3 755.3 400.4C759.3 399.5 763.3 398.9 767.3 398.4C771.4 397.9 775.7 397.4 779.4 397.4C783.1 397.4 786.1 397.7 789.4 398.4C792.8 399.1 796.1 400.1 799.5 401.4C802.8 402.8 806.5 404.6 809.5 406.4C812.5 408.3 814.8 410.5 817.5 412.5C820.2 414.5 822.9 416.8 825.5 418.5C828.2 420.2 830.8 421.5 833.6 422.5C836.4 423.5 834.3 424.2 842.4 424.5C850.5 424.8 875.7 424.5 882.4 424.5L882.4 89.0 L498.1 89.0 Z" fill="#1464D2"/>
<path d="M478.0 436.5C484.7 436.5 510.6 436.7 518.0 436.5C525.4 436.4 520.7 435.9 522.4 435.5C524.1 435.2 525.4 435.2 528.0 434.5C530.6 433.9 534.7 432.5 538.1 431.5C541.4 430.5 544.8 429.7 548.1 428.5C551.5 427.3 555.1 426.0 558.1 424.5C561.2 423.0 564.0 421.3 566.2 419.5C568.3 417.6 570.4 415.8 571.2 413.5C572.0 411.1 570.0 407.6 571.2 405.4C572.4 403.3 575.0 401.8 578.2 400.4C581.4 399.1 586.2 398.4 590.3 397.4C594.3 396.4 598.6 395.4 602.3 394.4C606.0 393.4 609.3 391.7 612.3 391.4C615.4 391.0 617.8 391.0 620.4 392.4C623.0 393.7 625.8 397.9 628.0 399.4C630.2 401.0 632.0 400.7 633.7 401.6C635.3 402.4 636.5 403.5 637.9 404.4C639.3 405.3 640.9 407.5 642.2 406.9C643.5 406.3 644.2 403.5 645.7 400.8C647.2 398.2 649.6 393.5 651.4 390.9C653.1 388.3 654.6 386.7 656.3 385.3C658.1 383.8 659.9 382.9 662.0 382.4C664.1 382.0 666.7 382.1 669.1 382.4C671.4 382.8 673.9 383.5 676.2 384.5C678.4 385.6 680.9 387.1 682.5 388.8C684.2 390.5 685.1 392.5 686.1 394.5C687.0 396.5 687.3 398.8 688.2 400.8C689.2 402.8 690.0 405.1 691.8 406.5C693.5 407.9 696.2 408.9 698.8 409.3C701.4 409.8 704.5 409.8 707.3 409.3C710.2 408.9 713.0 407.6 715.8 406.5C718.7 405.4 721.5 404.3 724.3 403.0C727.2 401.7 730.0 400.5 732.8 398.7C735.7 397.0 737.8 393.9 741.2 392.4C744.7 390.8 749.3 390.1 753.3 389.4C757.3 388.6 761.3 388.1 765.3 387.8C769.3 387.4 773.4 387.3 777.4 387.4C781.4 387.5 785.4 387.7 789.4 388.4C793.4 389.0 797.4 390.0 801.5 391.4C805.5 392.7 809.8 394.7 813.5 396.4C817.2 398.1 820.2 399.6 823.5 401.4C826.9 403.3 830.4 405.9 833.6 407.4C836.7 408.9 834.3 409.9 842.4 410.5C850.5 411.0 875.7 410.5 882.4 410.5L882.4 89.0 L478.0 89.0 Z" fill="#1E6EEB"/>
<path d="M482.4 354.2C489.1 354.2 514.5 354.6 522.4 354.2C530.4 353.9 527.1 353.0 530.0 352.2C533.0 351.5 536.4 350.2 540.1 349.6C543.8 349.1 548.1 348.7 552.1 348.8C556.1 348.9 560.2 349.5 564.2 350.2C568.2 351.0 572.2 352.2 576.2 353.2C580.2 354.2 584.2 355.4 588.3 356.3C592.3 357.1 597.0 357.4 600.3 358.3C603.6 359.1 606.0 360.1 608.3 361.3C610.7 362.4 612.7 363.6 614.3 365.3C616.0 367.0 617.4 369.0 618.4 371.3C619.4 373.7 619.4 376.7 620.4 379.3C621.4 382.0 622.2 384.7 624.4 387.4C626.6 390.0 631.2 394.0 633.7 395.2C636.2 396.4 637.7 395.2 639.3 394.5C641.0 393.8 642.3 392.5 643.6 390.9C644.9 389.4 645.9 387.1 647.1 385.3C648.3 383.4 649.4 381.3 650.7 379.6C652.0 377.9 653.3 376.1 654.9 375.1C656.6 374.0 658.5 373.4 660.6 373.2C662.7 373.0 665.3 373.4 667.7 373.9C670.0 374.4 672.4 375.2 674.8 376.0C677.1 376.9 679.5 377.8 681.8 378.9C684.2 379.9 686.6 381.2 688.9 382.4C691.3 383.6 693.6 384.8 696.0 386.0C698.4 387.1 700.7 388.4 703.1 389.5C705.5 390.6 708.1 392.1 710.2 392.3C712.3 392.6 714.0 391.9 715.8 390.9C717.7 390.0 720.0 388.3 721.5 386.7C723.0 385.0 724.0 382.7 725.1 381.0C726.1 379.4 726.4 377.8 727.9 376.8C729.4 375.7 732.0 375.0 734.3 374.6C736.5 374.2 738.1 374.5 741.2 374.3C744.4 374.1 749.3 373.3 753.3 373.3C757.3 373.3 761.3 373.8 765.3 374.3C769.3 374.8 773.4 375.5 777.4 376.3C781.4 377.2 785.4 378.3 789.4 379.3C793.4 380.3 797.4 381.2 801.5 382.4C805.5 383.5 809.5 385.0 813.5 386.4C817.5 387.7 821.9 389.2 825.5 390.4C829.2 391.6 832.8 392.7 835.6 393.4C838.4 394.1 834.6 394.2 842.4 394.4C850.2 394.6 875.7 394.4 882.4 394.4L882.4 89.0 L482.4 89.0 Z" fill="#3C96F5"/>
<path d="M530.0 370.3C530.4 368.5 533.1 365.7 536.1 364.3C539.1 362.8 544.1 361.8 548.1 361.7C552.1 361.5 556.6 362.2 560.2 363.3C563.7 364.4 567.8 366.6 569.2 368.3C570.5 370.0 570.0 372.0 568.2 373.3C566.3 374.7 562.2 375.7 558.1 376.3C554.1 376.9 548.1 377.1 544.1 376.9C540.1 376.8 536.4 376.4 534.1 375.3C531.7 374.2 529.7 372.1 530.0 370.3Z" fill="#3C96F5"/>
<path d="M482.4 341.2C489.1 341.2 514.1 341.9 522.4 341.2C530.7 340.5 528.8 338.3 532.1 337.2C535.3 336.1 538.4 335.3 542.1 334.8C545.8 334.3 550.1 334.1 554.1 334.2C558.1 334.2 562.2 334.5 566.2 335.2C570.2 335.8 574.5 337.2 578.2 338.2C581.9 339.2 585.2 340.7 588.3 341.2C591.3 341.7 592.9 341.8 596.3 341.2C599.6 340.6 605.5 337.4 608.3 337.6C611.2 337.8 611.8 339.9 613.3 342.2C614.8 344.5 616.2 348.1 617.4 351.2C618.5 354.4 619.5 358.3 620.4 361.3C621.2 364.3 622.2 366.6 622.4 369.3C622.5 372.0 620.4 374.2 621.4 377.3C622.3 380.5 626.2 385.9 628.0 388.1C629.8 390.2 630.7 389.9 632.3 390.2C633.8 390.6 635.7 390.7 637.2 390.2C638.7 389.7 640.2 388.8 641.5 387.4C642.8 386.0 643.8 383.7 645.0 381.7C646.2 379.7 647.2 377.2 648.5 375.3C649.8 373.4 651.3 371.6 652.8 370.4C654.3 369.2 656.0 368.4 657.8 368.0C659.5 367.5 661.3 367.3 663.4 367.5C665.5 367.8 668.1 368.8 670.5 369.4C672.9 370.0 675.2 370.7 677.6 371.4C680.0 372.0 682.3 372.6 684.7 373.2C687.0 373.8 689.4 374.6 691.8 375.1C694.1 375.5 696.7 376.0 698.8 376.0C701.0 376.1 703.1 376.0 704.5 375.3C705.9 374.6 706.4 373.2 707.3 371.8C708.3 370.4 709.0 368.3 710.2 366.8C711.4 365.4 712.5 364.2 714.4 363.3C716.3 362.4 718.9 361.8 721.5 361.2C724.1 360.6 727.4 360.1 730.0 359.8C732.6 359.4 733.4 359.1 737.2 358.9C741.1 358.6 748.3 358.3 753.3 358.3C758.3 358.2 763.0 358.2 767.3 358.7C771.7 359.1 775.4 359.9 779.4 360.9C783.4 361.8 787.4 363.2 791.4 364.3C795.4 365.4 799.1 366.3 803.5 367.3C807.8 368.3 812.8 369.3 817.5 370.3C822.2 371.3 827.4 372.5 831.6 373.3C835.7 374.2 833.9 375.0 842.4 375.3C850.9 375.7 875.7 375.3 882.4 375.3L882.4 89.0 L482.4 89.0 Z" fill="#78B9FA"/>
<path d="M482.4 328.2C489.1 328.2 514.5 328.8 522.4 328.2C530.4 327.5 527.4 325.8 530.0 324.1C532.7 322.5 535.1 320.1 538.1 318.1C541.1 316.1 545.4 313.9 548.1 312.1C550.8 310.3 552.8 309.3 554.1 307.1C555.5 304.9 555.5 301.4 556.1 299.1C556.8 296.7 556.8 294.4 558.1 293.0C559.5 291.7 561.8 290.9 564.2 291.0C566.5 291.2 569.2 292.5 572.2 294.0C575.2 295.5 578.9 297.9 582.2 300.1C585.6 302.2 589.3 304.9 592.3 307.1C595.3 309.3 598.0 311.1 600.3 313.1C602.6 315.1 604.1 317.1 606.3 319.1C608.5 321.1 611.3 323.1 613.3 325.1C615.4 327.2 617.2 328.8 618.4 331.2C619.5 333.5 619.9 336.5 620.4 339.2C620.9 341.9 620.9 344.5 621.4 347.2C621.9 349.9 622.5 352.2 623.4 355.3C624.2 358.3 625.6 361.9 626.4 365.3C627.2 368.6 627.4 372.1 628.4 375.3C629.4 378.5 630.8 383.1 632.3 384.5C633.7 386.0 635.9 384.5 637.2 383.8C638.5 383.1 639.2 381.7 640.0 380.3C640.9 378.9 641.2 376.9 642.2 375.3C643.1 373.8 644.3 372.4 645.7 371.1C647.1 369.8 648.9 368.6 650.7 367.5C652.4 366.5 654.4 365.3 656.3 364.7C658.2 364.1 659.9 363.8 662.0 364.0C664.1 364.2 666.7 365.5 669.1 366.1C671.4 366.8 673.8 367.5 676.2 368.0C678.5 368.4 680.9 368.7 683.3 369.0C685.6 369.2 688.2 369.6 690.3 369.4C692.5 369.2 694.5 368.7 696.0 367.5C697.5 366.4 698.6 364.6 699.6 362.6C700.5 360.6 700.8 357.9 701.7 355.5C702.5 353.1 703.1 350.4 704.5 348.4C705.9 346.4 708.1 344.9 710.2 343.5C712.3 342.0 714.4 340.7 717.3 339.9C720.1 339.1 723.8 338.8 727.2 338.5C730.5 338.2 733.5 337.9 737.2 338.2C740.9 338.5 745.3 339.4 749.3 340.2C753.3 341.0 757.3 342.2 761.3 343.2C765.3 344.2 769.3 345.0 773.4 346.2C777.4 347.4 781.4 348.9 785.4 350.2C789.4 351.6 793.4 352.9 797.4 354.2C801.5 355.6 805.5 357.1 809.5 358.3C813.5 359.4 817.5 360.4 821.5 361.3C825.5 362.2 830.1 363.0 833.6 363.7C837.1 364.4 834.3 365.0 842.4 365.3C850.5 365.6 875.7 365.3 882.4 365.3L882.4 89.0 L482.4 89.0 Z" fill="#FFE878"/>
<path d="M482.4 249.4C489.1 249.4 514.5 249.9 522.4 249.4C530.4 248.9 527.4 247.4 530.0 246.4C532.7 245.4 535.1 244.3 538.1 243.4C541.1 242.5 544.8 241.6 548.1 241.0C551.5 240.4 554.8 239.9 558.1 239.8C561.5 239.7 565.2 239.8 568.2 240.4C571.2 241.0 574.0 241.9 576.2 243.4C578.4 244.9 579.7 247.1 581.2 249.4C582.7 251.8 584.2 254.8 585.2 257.4C586.2 260.1 586.6 262.8 587.2 265.5C587.9 268.1 588.4 270.8 589.3 273.5C590.1 276.2 591.3 278.9 592.3 281.5C593.3 284.2 593.9 287.6 595.3 289.6C596.6 291.5 598.8 291.3 600.3 293.0C601.8 294.8 602.6 298.0 604.3 300.1C606.0 302.1 608.7 303.2 610.3 305.1C612.0 306.9 613.0 308.8 614.3 311.1C615.7 313.4 617.0 316.8 618.4 319.1C619.7 321.5 621.2 322.8 622.4 325.1C623.5 327.5 624.7 330.2 625.4 333.2C626.1 336.2 626.1 340.2 626.4 343.2C626.7 346.2 626.7 348.9 627.4 351.2C628.1 353.6 628.4 355.3 630.4 357.3C632.4 359.3 636.7 362.2 639.3 363.3C642.0 364.4 644.1 364.4 646.4 364.0C648.8 363.6 651.1 361.9 653.5 361.2C655.9 360.5 658.2 359.9 660.6 359.8C662.9 359.6 665.3 360.2 667.7 360.5C670.0 360.7 672.4 361.2 674.8 361.5C677.1 361.7 679.7 362.0 681.8 361.9C684.0 361.7 686.1 361.3 687.5 360.5C688.9 359.6 689.9 358.5 690.3 356.9C690.8 355.4 690.3 353.1 690.3 351.3C690.3 349.4 690.1 347.5 690.3 345.6C690.6 343.7 690.9 341.7 691.8 339.9C692.6 338.1 694.1 336.4 695.3 335.0C696.5 333.5 697.1 332.3 699.1 331.2C701.1 330.0 704.1 328.7 707.1 328.2C710.1 327.7 713.5 327.9 717.2 328.2C720.8 328.4 725.2 329.0 729.2 329.6C733.2 330.1 737.2 330.8 741.2 331.6C745.3 332.3 749.3 333.4 753.3 334.2C757.3 334.9 761.3 335.8 765.3 336.2C769.3 336.5 773.7 336.5 777.4 336.2C781.1 335.8 784.7 335.2 787.4 334.2C790.1 333.2 791.4 331.5 793.4 330.2C795.4 328.8 796.8 327.3 799.5 326.1C802.1 325.0 806.5 324.6 809.5 323.1C812.5 321.6 814.8 319.3 817.5 317.1C820.2 314.9 822.9 312.1 825.5 310.1C828.2 308.1 830.8 306.6 833.6 305.1C836.4 303.6 834.3 301.7 842.4 301.1C850.5 300.4 875.7 301.1 882.4 301.1L882.4 89.0 L482.4 89.0 Z" fill="#FFC03C"/>
<path d="M847.6 253.4C846.8 248.6 844.2 254.4 842.4 255.4C840.6 256.4 838.2 257.6 836.6 259.4C834.9 261.3 832.9 263.8 832.6 266.5C832.2 269.1 833.4 273.0 834.6 275.5C835.8 278.0 838.3 280.2 839.6 281.5C840.9 282.9 841.1 283.0 842.4 283.5C843.7 284.0 846.8 289.6 847.6 284.5C848.5 279.5 848.5 258.3 847.6 253.4Z" fill="#FFE878"/>
<path d="M478.0 183.6C484.7 183.6 508.3 183.5 518.0 183.6C527.7 183.7 531.7 183.7 536.1 184.2C540.4 184.6 541.1 185.2 544.1 186.2C547.1 187.2 550.8 189.0 554.1 190.2C557.5 191.4 561.3 192.6 564.2 193.6C567.0 194.6 569.4 194.8 571.2 196.2C573.0 197.7 574.4 200.2 575.2 202.2C576.0 204.2 575.4 206.6 576.2 208.3C577.0 209.9 578.4 211.3 580.2 212.3C582.1 213.3 585.4 213.4 587.2 214.3C589.1 215.1 590.3 215.5 591.3 217.3C592.3 219.1 592.8 222.3 593.3 225.3C593.8 228.3 593.9 232.0 594.3 235.4C594.6 238.7 594.6 242.1 595.3 245.4C595.9 248.7 597.1 252.4 598.3 255.4C599.5 258.4 601.0 260.8 602.3 263.5C603.6 266.1 605.5 268.5 606.3 271.5C607.2 274.5 607.0 277.9 607.3 281.5C607.7 285.1 607.5 289.8 608.3 293.0C609.2 296.3 610.7 298.4 612.3 301.1C614.0 303.7 616.4 306.7 618.4 309.1C620.4 311.4 622.8 313.6 624.4 315.1C626.0 316.6 627.0 317.9 628.0 318.1C629.0 318.3 629.3 317.9 630.1 316.4C631.0 315.0 632.1 312.2 633.0 309.3C633.8 306.5 634.6 302.5 635.1 299.4C635.6 296.4 635.7 293.8 635.8 290.9C635.9 288.1 636.0 285.0 635.8 282.4C635.6 279.8 635.1 277.5 634.4 275.3C633.7 273.2 632.9 271.3 631.5 269.7C630.2 268.0 628.3 266.8 626.4 265.5C624.5 264.1 622.7 263.5 620.4 261.5C618.0 259.4 614.7 256.4 612.3 253.4C610.0 250.4 608.0 246.7 606.3 243.4C604.6 240.0 603.1 236.4 602.3 233.4C601.5 230.3 600.8 227.0 601.3 225.3C601.8 223.7 604.0 223.3 605.3 223.3C606.7 223.3 608.5 223.7 609.3 225.3C610.2 227.0 609.3 230.7 610.3 233.4C611.3 236.0 613.3 238.9 615.4 241.4C617.4 243.9 619.9 246.4 622.4 248.4C624.9 250.4 628.8 252.2 630.4 253.4C632.1 254.6 631.2 254.6 632.3 255.5C633.3 256.4 635.0 257.5 636.5 259.0C638.0 260.6 639.9 262.7 641.5 264.7C643.0 266.7 644.4 268.8 645.7 271.1C647.0 273.3 648.5 275.6 649.3 278.2C650.0 280.8 650.4 284.1 650.4 286.7C650.4 289.3 649.9 291.4 649.3 293.8C648.6 296.1 647.6 298.6 646.4 300.8C645.2 303.1 643.6 305.2 642.2 307.2C640.8 309.2 639.1 310.9 637.9 312.9C636.7 314.9 635.8 316.8 635.1 319.3C634.4 321.7 634.1 323.1 633.7 327.8C633.2 332.4 632.3 343.1 632.4 347.2C632.5 351.3 633.1 350.8 634.4 352.2C635.8 353.6 637.7 355.1 640.4 355.7C643.1 356.2 648.0 355.8 650.6 355.8C653.2 355.8 654.2 355.6 655.9 355.6C657.7 355.6 659.5 355.6 661.3 355.8C663.0 355.9 664.8 356.2 666.6 356.4C668.3 356.6 670.1 356.8 671.9 356.8C673.7 356.9 675.8 357.0 677.2 356.6C678.6 356.2 679.7 355.4 680.4 354.5C681.1 353.6 681.4 352.6 681.4 351.3C681.5 350.1 681.1 348.5 680.9 347.1C680.8 345.7 680.5 344.1 680.6 342.8C680.7 341.6 680.9 340.6 681.4 339.6C682.0 338.7 683.0 337.9 684.1 337.0C685.2 336.1 686.5 335.4 687.8 334.3C689.1 333.3 690.7 332.0 692.1 330.6C693.5 329.2 694.9 327.5 696.3 325.8C697.7 324.1 699.2 322.2 700.6 320.5C702.0 318.8 703.6 317.1 704.8 315.7C706.1 314.4 707.1 313.3 708.0 312.5C708.9 311.8 709.1 311.2 710.1 311.2C711.2 311.1 712.8 311.4 714.4 312.0C716.0 312.6 717.9 313.9 719.7 314.7C721.5 315.5 723.3 316.3 725.0 316.8C726.7 317.3 727.5 318.0 730.0 317.8C732.5 317.7 737.4 316.5 739.9 315.7C742.4 314.9 744.0 314.0 745.1 313.0C746.2 312.0 746.1 310.8 746.4 309.5C746.7 308.2 746.6 306.6 746.8 305.2C747.0 303.7 747.1 302.3 747.7 300.8C748.3 299.3 749.3 297.7 750.3 296.4C751.3 295.1 752.6 294.0 753.8 293.0C755.0 291.9 756.3 291.2 757.3 290.3C758.3 289.5 759.0 288.7 759.9 287.7C760.8 286.7 761.6 285.2 762.5 284.2C763.4 283.2 764.2 282.3 765.1 281.6C766.0 280.9 765.8 281.6 768.0 279.9C770.2 278.2 776.1 274.4 778.4 271.5C780.6 268.6 779.9 265.0 781.4 262.5C782.9 259.9 784.7 258.6 787.4 256.4C790.1 254.3 794.1 251.8 797.4 249.4C800.8 247.1 804.5 244.6 807.5 242.4C810.5 240.2 812.8 237.7 815.5 236.4C818.2 235.0 820.5 235.0 823.5 234.4C826.6 233.7 830.4 233.5 833.6 232.4C836.7 231.2 839.7 228.9 842.4 227.7C845.1 226.6 841.8 225.7 849.6 225.3C857.5 224.9 883.0 225.3 889.6 225.3L889.6 89.0 L478.0 89.0 Z" fill="#FFA000"/>
<path d="M537.1 144.0C537.2 143.0 538.1 141.4 539.1 140.6C540.1 139.9 541.9 139.4 543.1 139.4C544.3 139.4 545.8 139.7 546.1 140.6C546.4 141.6 545.9 143.8 545.1 145.0C544.3 146.3 542.3 147.9 541.1 148.2C539.9 148.6 538.7 147.7 538.1 147.0C537.4 146.3 536.9 145.1 537.1 144.0Z" fill="#FFC03C"/>
<path d="M756.3 138.0C753.6 139.3 758.8 141.9 761.3 143.0C763.8 144.1 768.0 144.6 771.4 144.6C774.7 144.7 778.0 143.9 781.4 143.4C784.7 143.0 788.2 142.8 791.4 142.0C794.6 141.2 802.8 139.8 800.5 138.6C798.1 137.4 784.7 135.1 777.4 135.0C770.0 134.9 759.0 136.7 756.3 138.0Z" fill="#FFC03C"/>
<path d="M553.1 137.0C553.3 138.3 553.0 139.3 554.1 141.0C555.3 142.7 557.8 145.2 560.2 147.0C562.5 148.9 565.5 150.6 568.2 152.1C570.9 153.6 574.6 154.7 576.2 156.1C577.8 157.5 577.0 159.5 578.0 160.5C579.0 161.5 580.8 161.1 582.3 161.9C583.7 162.7 585.1 164.3 586.5 165.5C587.9 166.6 589.6 168.3 590.8 169.0C591.9 169.7 592.6 170.3 593.6 169.7C594.5 169.1 595.4 166.5 596.4 165.5C597.5 164.4 598.7 163.3 600.0 163.3C601.3 163.3 603.0 164.4 604.2 165.5C605.4 166.5 606.3 168.2 607.0 169.7C607.8 171.2 607.6 173.6 608.5 174.7C609.3 175.7 610.2 175.9 612.0 176.1C613.8 176.3 617.7 175.9 619.1 176.1C620.5 176.3 620.9 176.6 620.5 177.5C620.2 178.4 618.1 180.2 617.0 181.8C615.8 183.3 614.6 185.1 613.4 186.7C612.2 188.4 610.8 190.1 609.9 191.7C608.9 193.2 608.3 194.5 607.8 195.9C607.2 197.3 607.0 198.8 606.3 200.2C605.6 201.6 604.7 203.0 603.5 204.4C602.3 205.8 600.2 207.3 599.3 208.7C598.3 210.1 598.0 211.5 597.8 212.9C597.7 214.3 597.8 216.0 598.5 217.2C599.3 218.4 600.8 219.1 602.1 220.0C603.4 221.0 604.6 221.0 606.3 222.8C608.0 224.7 610.7 228.6 612.3 231.3C614.0 234.1 614.7 236.9 616.4 239.4C618.0 241.9 620.3 244.2 622.4 246.4C624.5 248.6 627.2 251.0 629.0 252.4C630.8 253.7 631.8 253.6 633.2 254.5C634.7 255.5 636.0 256.5 637.5 258.1C639.0 259.6 640.9 261.7 642.5 263.7C644.0 265.7 645.4 267.8 646.7 270.1C648.0 272.4 649.5 274.7 650.2 277.5C651.0 280.2 651.4 284.0 651.4 286.7C651.4 289.4 650.9 291.4 650.2 293.8C649.6 296.1 648.6 298.6 647.4 300.8C646.2 303.1 644.6 305.2 643.2 307.2C641.7 309.2 640.0 310.2 638.9 312.9C637.9 315.5 637.2 319.8 636.8 323.1C636.5 326.5 636.9 329.8 636.8 333.2C636.8 336.5 636.2 340.5 636.4 343.2C636.7 345.9 637.1 347.6 638.4 349.2C639.8 350.9 642.2 353.2 644.5 353.2C646.7 353.3 649.6 350.1 651.7 349.7C653.8 349.3 655.2 350.5 657.0 350.8C658.8 351.1 660.5 351.3 662.3 351.3C664.1 351.4 666.0 351.5 667.6 351.1C669.2 350.8 670.8 350.0 671.9 349.2C672.9 348.3 673.6 347.2 674.0 346.0C674.4 344.8 674.4 343.2 674.5 341.8C674.6 340.3 674.4 338.7 674.5 337.5C674.6 336.3 674.6 335.1 675.1 334.3C675.5 333.5 676.1 333.3 677.2 332.7C678.3 332.1 680.0 331.3 681.4 330.6C682.9 329.9 684.3 329.3 685.7 328.5C687.1 327.7 688.7 326.8 689.9 325.8C691.2 324.8 692.1 323.8 693.1 322.6C694.2 321.5 695.3 320.2 696.3 318.9C697.4 317.7 698.6 316.5 699.5 315.2C700.4 313.9 700.9 312.3 701.6 310.9C702.3 309.6 702.9 308.3 703.8 307.2C704.6 306.1 705.9 304.9 707.0 304.4C708.0 303.8 708.9 303.8 710.1 303.7C711.4 303.7 712.8 303.9 714.4 304.0C716.0 304.2 717.9 304.4 719.7 304.6C721.5 304.7 723.4 304.9 725.0 305.1C726.6 305.3 728.1 306.3 729.4 306.0C730.7 305.7 731.9 304.6 732.9 303.4C733.9 302.3 734.8 300.5 735.5 299.1C736.2 297.6 736.7 296.3 737.2 294.7C737.8 293.1 738.4 291.2 739.0 289.5C739.6 287.7 740.2 285.8 740.7 284.2C741.2 282.6 741.6 281.5 742.0 279.9C742.5 278.3 742.9 276.5 743.3 274.6C743.8 272.8 744.3 270.6 744.6 268.5C745.0 266.5 745.2 264.5 745.5 262.4C745.8 260.4 746.0 258.4 746.4 256.3C746.8 254.3 747.5 252.1 748.1 250.2C748.8 248.3 750.0 246.5 750.3 245.0C750.7 243.5 749.6 242.8 750.3 241.4C750.9 239.9 753.0 238.4 754.3 236.4C755.6 234.4 757.5 231.7 758.3 229.3C759.1 227.0 759.5 224.2 759.3 222.3C759.1 220.4 758.4 219.6 757.2 218.0C756.0 216.5 754.0 214.6 752.3 213.0C750.5 211.5 748.5 210.1 746.6 208.8C744.7 207.5 742.8 206.0 740.9 205.3C739.0 204.5 737.1 204.7 735.3 204.5C733.4 204.4 731.2 204.6 729.6 204.1C727.9 203.7 726.3 202.8 725.3 201.7C724.3 200.6 723.6 198.9 723.6 197.5C723.6 196.0 724.3 194.3 725.3 193.2C726.3 192.2 727.9 191.6 729.6 191.1C731.2 190.6 733.4 190.3 735.3 190.4C737.1 190.5 739.0 191.3 740.9 191.8C742.8 192.3 744.7 193.1 746.6 193.2C748.5 193.3 750.7 193.2 752.3 192.5C753.8 191.8 755.0 190.6 755.8 189.0C756.6 187.3 756.9 184.6 756.8 182.6C756.7 180.6 756.1 178.1 755.1 176.9C754.1 175.7 752.5 175.3 750.8 175.2C749.2 175.1 746.8 175.8 745.2 176.2C743.5 176.6 742.3 177.9 740.9 177.6C739.5 177.4 738.3 175.6 736.7 174.8C735.0 174.0 733.1 173.3 731.0 172.7C728.9 172.1 726.3 171.7 723.9 171.3C721.6 170.8 719.2 170.5 716.8 169.8C714.5 169.1 712.1 167.9 709.8 167.0C707.4 166.1 705.3 164.8 702.7 164.2C700.1 163.6 696.8 163.5 694.2 163.5C691.6 163.5 689.4 163.8 687.1 164.2C684.7 164.5 682.4 165.6 680.0 165.6C677.6 165.6 675.0 165.1 672.9 164.2C670.8 163.2 668.9 161.3 667.3 159.9C665.6 158.5 663.7 156.6 663.0 155.7C662.3 154.7 664.0 154.6 663.0 154.1C662.1 153.6 659.2 152.9 657.3 152.7C655.5 152.5 653.8 152.8 651.7 152.7C649.6 152.6 647.0 152.5 644.6 152.0C642.2 151.5 639.6 150.5 637.5 149.9C635.4 149.3 634.0 148.8 631.8 148.5C629.7 148.1 627.1 148.0 624.8 147.8C622.4 147.5 619.8 146.9 617.7 147.0C615.5 147.2 613.7 147.8 612.0 148.5C610.4 149.2 609.2 150.2 607.8 151.3C606.3 152.4 605.2 153.8 603.5 154.8C601.9 155.9 599.7 157.2 597.8 157.7C595.9 158.1 593.8 158.1 592.2 157.7C590.5 157.2 589.1 156.3 587.9 154.8C586.7 153.4 585.9 151.1 585.1 149.2C584.3 147.3 583.7 145.4 583.0 143.5C582.3 141.6 583.3 139.3 580.8 137.8C578.4 136.4 572.8 135.8 568.2 135.0C563.6 134.2 555.6 132.7 553.1 133.0C550.6 133.3 553.0 135.7 553.1 137.0Z" fill="#FF6000"/>
<path d="M762.9 192.5C763.4 191.0 764.1 190.6 765.0 190.4C766.0 190.1 767.7 190.0 768.6 191.1C769.4 192.2 769.6 194.6 770.0 196.8C770.3 198.9 770.8 201.7 770.7 203.8C770.6 206.0 770.0 208.4 769.3 209.5C768.6 210.6 767.4 210.7 766.4 210.2C765.5 209.7 764.3 208.4 763.6 206.7C762.9 204.9 762.3 202.0 762.2 199.6C762.1 197.2 762.4 194.0 762.9 192.5Z" fill="#FF6000"/>
<path d="M625.4 283.0C624.3 284.3 624.2 288.7 624.4 291.0C624.6 293.4 625.6 296.0 626.4 297.0C627.2 298.0 628.6 298.0 629.4 297.0C630.2 296.0 631.2 293.4 631.4 291.0C631.6 288.7 631.8 284.3 630.8 283.0C629.8 281.7 626.5 281.7 625.4 283.0Z" fill="#FF6000"/>
<path d="M626.4 297.6C625.6 295.9 625.2 290.6 625.4 287.5C625.6 284.5 626.6 281.2 627.4 279.5C628.2 277.8 629.7 276.8 630.4 277.5C631.1 278.2 631.4 280.2 631.4 283.5C631.4 286.9 631.2 295.2 630.4 297.6C629.6 299.9 627.2 299.3 626.4 297.6Z" fill="#FF6000"/>
<path d="M615.5 157.7C616.1 156.3 617.6 155.4 619.1 154.8C620.6 154.2 622.9 153.9 624.8 154.1C626.6 154.4 628.8 155.5 630.4 156.3C632.1 157.0 633.0 157.6 634.7 158.4C636.3 159.2 638.2 160.5 640.3 161.2C642.5 161.9 645.1 162.5 647.4 162.6C649.8 162.7 652.4 161.9 654.5 161.9C656.6 161.9 658.5 162.0 660.2 162.6C661.8 163.2 663.4 164.2 664.4 165.5C665.5 166.8 665.8 168.8 666.6 170.4C667.3 172.1 667.6 174.2 668.7 175.4C669.7 176.6 671.5 176.9 672.9 177.5C674.3 178.1 675.5 178.4 677.2 178.9C678.8 179.4 681.2 179.6 682.8 180.3C684.5 181.0 685.9 182.0 687.1 183.2C688.3 184.4 692.8 188.9 689.9 187.4C687.1 185.9 672.8 175.7 670.1 174.1C667.4 172.5 672.4 177.4 673.6 177.6C674.8 177.9 675.9 175.9 677.2 175.5C678.5 175.1 680.0 175.3 681.4 175.5C682.8 175.7 684.4 176.4 685.7 176.9C687.0 177.4 688.3 177.4 689.2 178.3C690.2 179.3 690.6 180.9 691.3 182.6C692.0 184.2 692.6 186.4 693.5 188.3C694.3 190.1 695.5 192.3 696.3 193.9C697.1 195.6 698.3 196.8 698.4 198.2C698.5 199.6 696.8 201.2 697.0 202.4C697.2 203.6 698.4 204.5 699.8 205.3C701.3 206.0 703.9 206.9 705.5 206.7C707.2 206.4 708.3 204.3 709.8 203.8C711.2 203.4 712.6 203.5 714.0 203.8C715.4 204.2 716.8 205.0 718.3 206.0C719.7 206.9 720.9 208.7 722.5 209.5C724.2 210.3 726.3 210.8 728.2 210.9C730.1 211.0 732.0 210.0 733.8 210.2C735.7 210.5 737.6 211.5 739.5 212.3C741.4 213.2 743.4 214.0 745.2 215.2C746.9 216.4 748.7 218.0 750.1 219.4C751.6 220.8 753.0 222.0 753.7 223.7C754.4 225.3 754.7 227.5 754.4 229.3C754.0 231.2 752.6 233.1 751.6 235.0C750.5 236.9 749.1 238.8 748.0 240.7C746.9 242.6 745.7 244.8 745.2 246.3C744.7 247.9 745.3 248.6 745.1 250.2C744.8 251.9 744.1 254.3 743.8 256.3C743.4 258.4 743.1 260.4 742.9 262.4C742.7 264.5 742.7 266.7 742.5 268.5C742.2 270.4 741.9 272.0 741.6 273.8C741.3 275.5 741.2 277.3 740.7 279.0C740.3 280.7 739.7 282.6 739.0 284.2C738.2 285.8 737.2 287.3 736.4 288.6C735.5 289.9 734.8 291.1 733.7 292.1C732.7 293.1 731.4 294.0 730.3 294.7C729.1 295.4 727.9 295.9 726.8 296.4C725.6 296.9 724.4 297.4 723.3 297.7C722.1 298.1 721.1 298.3 719.8 298.6C718.5 298.9 717.2 299.3 715.4 299.5C713.7 299.7 711.0 299.5 709.1 299.8C707.1 300.1 705.4 300.8 703.8 301.4C702.2 302.0 700.8 302.6 699.5 303.5C698.3 304.4 696.9 305.6 696.3 306.7C695.7 307.8 696.0 308.9 695.8 309.9C695.6 310.9 695.9 311.6 695.3 312.5C694.6 313.4 693.3 314.3 692.1 315.2C690.8 316.1 689.2 317.1 687.8 317.8C686.4 318.6 685.0 319.1 683.6 319.4C682.2 319.8 680.7 319.9 679.3 320.0C677.9 320.1 676.5 319.9 675.1 320.0C673.7 320.1 672.1 320.1 670.8 320.5C669.6 320.9 668.5 321.7 667.6 322.6C666.7 323.5 666.0 324.6 665.5 325.8C665.0 327.1 664.7 328.7 664.4 330.1C664.2 331.5 664.1 332.9 663.9 334.3C663.7 335.7 663.8 337.3 663.4 338.6C662.9 339.8 662.3 341.0 661.3 341.8C660.2 342.6 658.6 343.2 657.0 343.4C655.4 343.5 653.5 343.3 651.7 342.8C649.9 342.4 648.0 341.6 646.4 340.7C644.8 339.8 643.3 338.8 642.1 337.5C641.0 336.3 639.9 335.6 639.4 333.2C639.0 330.8 639.2 326.0 639.4 323.1C639.7 320.3 639.8 318.5 640.8 316.1C641.8 313.8 644.3 311.4 645.5 309.1C646.6 306.8 646.8 304.8 647.8 302.3C648.8 299.7 650.6 296.6 651.4 293.8C652.2 290.9 652.7 288.1 652.8 285.3C652.9 282.4 652.7 279.4 652.1 276.8C651.5 274.2 650.7 272.0 649.3 269.7C647.8 267.3 645.5 264.8 643.6 262.6C641.7 260.3 639.8 258.1 637.9 256.2C636.0 254.3 634.5 253.2 632.3 251.3C630.0 249.3 626.7 246.7 624.4 244.4C622.1 242.1 620.0 239.9 618.4 237.4C616.7 234.9 614.3 229.0 614.3 229.3C614.3 229.6 618.2 238.4 618.4 239.1C618.6 239.8 616.5 235.4 615.5 233.5C614.6 231.6 613.2 229.5 612.7 227.8C612.2 226.1 612.2 224.6 612.7 223.6C613.2 222.5 614.2 222.2 615.5 221.7C616.8 221.2 618.9 221.2 620.5 220.7C622.2 220.2 623.9 219.5 625.5 218.6C627.0 217.6 628.5 216.3 629.7 215.1C630.9 213.8 631.7 212.3 632.5 210.8C633.4 209.3 633.8 207.4 634.7 205.8C635.5 204.3 636.2 202.9 637.5 201.6C638.8 200.3 641.0 199.2 642.5 198.0C643.9 196.9 645.8 196.0 646.0 194.5C646.2 193.0 644.5 191.0 643.9 188.8C643.3 186.7 643.1 183.9 642.5 181.8C641.9 179.6 641.4 177.2 640.3 176.1C639.3 175.0 637.7 175.1 636.4 175.4C635.1 175.6 633.4 176.2 632.5 177.5C631.7 178.8 631.8 181.2 631.6 183.2C631.3 185.2 631.5 187.5 631.3 189.5C631.1 191.6 631.0 193.8 630.4 195.6C629.9 197.5 628.9 199.1 627.9 200.5C626.9 201.8 625.7 202.8 624.5 203.6C623.2 204.4 621.6 205.1 620.2 205.3C618.9 205.4 617.4 205.2 616.3 204.4C615.1 203.7 614.1 202.1 613.4 200.9C612.7 199.7 612.0 198.6 612.0 197.3C612.1 196.0 612.9 194.5 613.7 193.1C614.5 191.7 615.5 190.3 616.5 188.8C617.6 187.4 618.7 186.0 619.8 184.6C620.9 183.2 622.2 181.9 623.3 180.3C624.5 178.8 626.6 177.0 626.9 175.4C627.1 173.7 626.2 171.7 624.8 170.4C623.3 169.1 619.9 168.8 618.4 167.6C616.8 166.4 616.0 165.0 615.5 163.3C615.1 161.7 615.0 159.1 615.5 157.7Z" fill="#FF3200"/>
<path d="M651.7 210.1C652.3 208.7 653.1 208.0 654.5 207.5C655.9 207.1 658.5 207.1 660.2 207.5C661.8 208.0 663.4 209.1 664.4 210.1C665.5 211.1 665.8 213.6 666.6 213.6C667.3 213.6 668.4 211.4 668.7 210.1C668.9 208.8 667.7 207.1 668.0 205.8C668.2 204.6 668.8 203.4 670.1 202.7C671.4 202.0 674.0 201.5 675.8 201.6C677.5 201.6 682.0 202.8 680.7 203.0C679.4 203.2 669.0 202.9 668.0 202.7C666.9 202.5 672.1 201.8 674.3 201.7C676.6 201.7 680.0 201.7 681.4 202.4C682.9 203.1 683.2 204.7 683.1 206.0C683.0 207.3 680.5 209.3 680.7 210.2C680.9 211.1 683.0 211.4 684.3 211.2C685.6 211.0 686.6 209.1 688.5 208.8C690.4 208.5 693.5 208.8 695.6 209.5C697.7 210.2 699.6 211.6 701.3 213.0C702.9 214.5 704.3 216.5 705.5 218.0C706.7 219.5 707.5 222.0 708.3 222.3C709.2 222.5 709.8 219.8 710.5 219.4C711.2 219.1 712.0 219.2 712.6 220.1C713.2 221.1 712.9 223.8 714.0 225.1C715.1 226.4 717.8 226.7 719.0 227.9C720.1 229.1 720.9 230.7 721.1 232.2C721.3 233.6 719.7 235.3 720.0 236.7C720.2 238.1 721.4 240.4 722.5 240.7C723.6 241.0 725.3 239.5 726.8 238.6C728.2 237.6 729.6 236.1 731.0 235.0C732.4 233.9 734.1 233.4 735.3 232.2C736.4 231.0 737.5 229.6 737.8 227.9C738.2 226.3 737.1 223.6 737.4 222.3C737.7 221.0 738.7 220.1 739.5 220.1C740.3 220.1 741.5 221.1 742.3 222.3C743.2 223.4 744.2 225.3 744.5 227.2C744.7 229.1 744.3 232.1 743.8 233.6C743.2 235.1 741.6 235.0 740.9 236.4C740.2 237.8 739.9 240.0 739.5 242.1C739.2 244.2 739.0 247.1 738.8 249.2C738.6 251.3 737.9 254.7 738.1 254.8C738.3 255.0 739.4 250.0 739.8 250.2C740.3 250.5 740.4 254.3 740.5 256.3C740.7 258.4 740.8 260.5 740.7 262.4C740.7 264.3 740.6 265.8 740.3 267.7C740.0 269.6 739.5 271.9 739.0 273.8C738.5 275.7 737.8 277.4 737.2 279.0C736.7 280.6 736.2 282.1 735.5 283.4C734.8 284.7 733.9 285.8 732.9 286.8C731.9 287.9 730.7 288.6 729.4 289.5C728.1 290.3 726.5 291.4 725.0 292.1C723.6 292.8 722.1 293.2 720.7 293.8C719.2 294.4 717.8 295.1 716.3 295.6C714.9 296.1 713.4 296.4 711.9 296.9C710.5 297.3 709.0 297.7 707.6 298.2C706.1 298.7 704.2 300.1 703.2 299.9C702.2 299.8 703.1 297.6 701.7 297.3C700.2 297.0 696.7 297.9 694.6 298.0C692.5 298.1 690.6 298.2 688.9 298.0C687.3 297.8 686.1 297.3 684.7 296.6C683.3 295.9 682.1 294.5 680.4 293.8C678.8 293.0 676.6 292.3 674.8 292.3C672.9 292.3 671.0 293.0 669.1 293.8C667.2 294.5 665.1 296.4 663.4 296.6C661.8 296.8 660.1 296.4 659.2 295.2C658.2 294.0 657.9 291.4 657.8 289.5C657.6 287.6 658.1 285.7 658.5 283.8C658.8 282.0 659.5 280.1 659.9 278.2C660.2 276.3 660.6 274.6 660.6 272.5C660.6 270.4 660.2 267.8 659.9 265.4C659.5 263.1 659.1 260.5 658.5 258.3C657.9 256.2 657.2 254.1 656.3 252.7C655.5 251.3 654.7 250.1 653.5 249.8C652.3 249.6 650.9 251.0 649.3 251.3C647.6 251.5 645.2 251.7 643.6 251.3C641.9 250.8 640.5 249.6 639.3 248.4C638.2 247.2 637.7 245.0 636.5 244.2C635.3 243.3 633.7 243.5 632.3 243.5C630.8 243.5 629.7 243.9 628.0 244.2C626.3 244.4 622.7 245.9 621.9 244.9C621.1 244.0 622.4 239.9 623.3 238.4C624.3 237.0 625.9 236.8 627.6 236.3C629.2 235.8 631.4 235.6 633.3 235.6C635.1 235.6 637.0 235.9 638.9 236.3C640.8 236.7 642.9 237.7 644.6 237.7C646.2 237.7 647.4 236.9 648.8 236.3C650.3 235.7 651.7 234.8 653.1 234.2C654.5 233.6 656.0 233.2 657.3 232.8C658.6 232.3 660.4 232.3 660.9 231.3C661.4 230.4 660.8 228.5 660.2 227.1C659.6 225.7 658.5 224.0 657.3 222.8C656.2 221.7 654.2 221.2 653.1 220.0C652.0 218.8 651.2 217.4 651.0 215.8C650.7 214.1 651.1 211.5 651.7 210.1Z" fill="#E01400"/>
<path d="M642.0 323.1C642.4 320.8 643.2 318.5 644.5 317.1C645.7 315.7 648.0 314.5 649.5 314.7C651.0 314.9 652.5 316.4 653.5 318.1C654.5 319.9 655.3 322.8 655.5 325.1C655.7 327.5 655.3 330.2 654.5 332.2C653.7 334.1 652.0 336.0 650.5 336.8C649.0 337.6 646.8 337.7 645.5 336.8C644.1 335.8 643.0 333.4 642.4 331.2C641.9 328.9 641.7 325.5 642.0 323.1Z" fill="#E01400"/>
<path d="M676.9 231.4C676.2 232.1 674.4 234.0 673.3 235.7C672.3 237.3 671.4 239.2 670.5 241.3C669.6 243.5 668.5 246.2 667.7 248.4C666.8 250.7 666.4 252.9 665.5 254.8C664.7 256.7 663.1 258.0 662.7 259.8C662.4 261.5 662.7 263.9 663.4 265.4C664.1 267.0 665.5 267.9 667.0 269.0C668.4 270.0 670.4 270.7 671.9 271.8C673.5 272.9 675.2 273.8 676.2 275.3C677.1 276.9 676.9 279.4 677.6 281.0C678.3 282.7 679.2 284.1 680.4 285.3C681.6 286.4 683.3 287.3 684.7 288.1C686.1 288.9 687.3 289.7 688.9 290.2C690.6 290.7 692.5 290.7 694.6 290.9C696.7 291.2 699.3 291.4 701.7 291.6C704.0 291.9 706.8 292.6 708.8 292.3C710.8 292.1 712.5 291.3 713.7 290.2C714.9 289.2 715.4 287.4 715.8 286.0C716.3 284.5 716.1 283.0 716.6 281.7C717.0 280.4 717.6 279.2 718.7 278.2C719.7 277.1 721.5 276.0 722.9 275.3C724.3 274.6 725.5 274.4 727.2 273.9C728.8 273.4 731.5 273.5 732.8 272.2C734.2 270.9 735.2 268.2 735.4 266.1C735.6 264.1 735.1 261.6 734.3 260.0C733.4 258.4 731.9 257.1 730.3 256.5C728.6 255.9 726.0 256.0 724.3 256.2C722.6 256.4 721.2 257.7 720.1 257.6C719.0 257.5 718.0 256.6 718.0 255.5C718.0 254.4 719.8 251.1 720.1 251.3C720.4 251.4 719.4 256.1 719.7 256.3C720.0 256.4 721.8 253.4 721.8 252.0C721.8 250.6 720.7 248.6 719.7 247.8C718.6 246.9 717.1 247.1 715.4 247.1C713.8 247.1 711.2 247.4 709.8 247.8C708.3 248.1 707.6 249.9 706.9 249.2C706.2 248.5 706.0 245.4 705.5 243.5C705.0 241.6 704.8 239.7 704.1 237.8C703.4 236.0 702.4 233.7 701.3 232.2C700.1 230.6 698.7 229.3 697.0 228.6C695.4 227.9 693.5 227.8 691.3 227.9C689.2 228.0 686.6 228.8 684.3 229.3C681.9 229.9 678.4 231.1 677.2 231.5C675.9 231.8 677.5 230.7 676.9 231.4Z" fill="#C83C3C"/>
<path d="M708.8 256.9C708.9 255.5 709.5 254.1 710.2 253.4C710.9 252.7 712.2 252.2 713.0 252.7C713.8 253.1 714.9 254.8 715.1 256.2C715.4 257.6 715.2 259.9 714.7 261.2C714.2 262.5 713.2 263.9 712.3 264.0C711.4 264.1 710.1 263.1 709.5 261.9C708.9 260.7 708.6 258.3 708.8 256.9Z" fill="#E01400"/>
<path d="M691.0 264.0C691.8 262.8 693.1 262.7 694.6 262.6C696.1 262.5 698.6 262.7 700.3 263.3C701.9 263.9 703.2 264.9 704.5 266.1C705.8 267.3 706.8 269.3 708.1 270.4C709.3 271.4 711.5 271.2 712.3 272.5C713.1 273.8 712.9 276.2 713.0 278.2C713.1 280.2 713.3 283.0 712.7 284.5C712.1 286.1 710.8 287.0 709.5 287.4C708.1 287.7 706.0 287.1 704.5 286.7C703.0 286.2 701.3 285.6 700.3 284.5C699.2 283.5 699.1 281.2 698.1 280.3C697.2 279.4 695.8 279.7 694.6 278.9C693.4 278.1 691.8 276.9 691.0 275.3C690.3 273.8 690.1 271.6 690.1 269.7C690.1 267.8 690.3 265.2 691.0 264.0Z" fill="#C00000"/>
<path d="M626.4 258.4C626.6 257.9 628.6 257.6 629.4 257.8C630.2 258.1 631.6 259.3 631.4 259.8C631.2 260.4 629.2 261.3 628.4 261.1C627.6 260.8 626.2 259.0 626.4 258.4Z" fill="#FFE878"/>
<path d="M816.5 135.0C815.8 137.3 813.0 145.4 812.5 149.1C812.0 152.7 812.7 154.7 813.5 157.1C814.3 159.4 815.5 161.4 817.5 163.1C819.5 164.8 822.9 165.9 825.5 167.1C828.2 168.3 830.8 169.1 833.6 170.1C836.4 171.1 839.1 172.5 842.4 173.1C845.8 173.8 851.8 180.5 853.7 174.1C855.5 167.8 853.7 141.5 853.7 135.0Z" fill="#FF6000"/>
<path d="M822.5 135.0C822.7 137.0 822.7 143.7 823.5 147.0C824.4 150.4 825.9 152.4 827.6 155.1C829.2 157.7 831.6 160.9 833.6 163.1C835.6 165.3 838.1 167.1 839.6 168.1C841.1 169.1 840.1 168.8 842.4 169.1C844.8 169.5 851.8 175.8 853.7 170.1C855.5 164.4 853.7 140.9 853.7 135.0Z" fill="#FF3200"/>
<path d="M836.6 135.0C836.5 137.0 836.2 143.7 836.0 147.0C835.8 150.4 835.2 152.7 835.6 155.1C836.0 157.4 837.5 159.8 838.6 161.1C839.7 162.4 839.9 162.6 842.4 163.1C844.9 163.6 851.8 168.8 853.7 164.1C855.5 159.4 853.7 139.9 853.7 135.0Z" fill="#E01400"/>
<path d="M606.9 164.4 L608.3 166.4 L610.4 162.8 L612.9 160.4 L613.2 156.5 L615.7 154.5 L617.8 153.7 L621.0 153.7 L624.9 151.3 L626.7 149.3 L628.1 150.5 L626.0 152.5 L627.7 154.9 L627.0 157.2 L625.3 159.6 L627.4 162.4 L629.2 160.0 L628.1 156.9 L629.5 154.9 L632.0 153.3 L632.7 150.1 L633.4 152.9 L636.9 153.3 L639.1 155.7 L640.1 156.9 L646.2 156.5 L650.0 158.4 L652.9 157.2 L657.5 156.1 L661.4 156.1 L658.2 157.2 L660.0 159.2 L662.4 159.6 L665.3 161.6 L664.9 164.4 L668.8 165.6 L673.4 171.1 L678.0 175.1 L682.6 175.1 L689.3 175.5 L693.2 177.1 L697.1 180.3 L699.6 182.6 L701.0 189.8 L703.9 193.7 L702.1 197.7 L699.3 200.1 L701.4 202.5 L705.3 199.3 L709.2 199.7 L708.5 204.1 L710.9 201.3 L715.5 202.5 L720.1 204.5 L722.6 207.2 L723.7 209.6 L726.9 208.0 L732.5 210.0 L737.1 209.6 L742.4 212.4 L744.2 213.2 L748.5 217.1 L751.3 218.7 L755.2 219.1 L756.2 224.3 L757.3 227.1 L757.0 231.4 L755.5 236.2 L751.6 240.2 L749.2 243.3 L747.4 246.9 L744.6 249.7 L742.4 252.1 L742.4 258.0 L742.8 264.0 L741.7 268.7 L740.0 271.9 L739.6 276.3 L737.8 279.8 L735.7 283.8 L735.4 285.8 L732.2 289.0 L727.6 289.7 L722.6 290.9 L719.8 292.9 L716.2 293.7 L710.9 297.7 L708.8 301.3 L708.5 305.6 L708.5 310.8 L705.3 313.5 L702.4 318.7 L699.3 323.5 L696.1 326.2 L691.5 332.2 L690.0 335.0 L686.2 337.0 L681.6 337.0 L675.9 335.0 L673.8 333.0 L673.8 335.4 L677.7 338.1 L677.7 342.1 L679.8 343.7 L676.6 349.3 L671.6 352.0 L664.6 353.2 L660.3 352.4 L660.0 357.2 L658.2 361.2 L650.4 361.2 L650.0 365.1 L655.0 365.9 L652.9 368.3 L650.4 369.1 L649.3 375.0 L647.9 377.0 L642.3 379.4 L641.5 382.6 L644.7 385.0 L647.6 388.1 L641.5 392.9 L636.6 398.0 L635.9 400.8 L638.4 406.0 L634.5 406.4 L629.9 408.0 L629.2 411.9 L624.6 409.9 L620.3 406.8 L616.8 405.6 L615.0 400.8 L613.9 396.9 L613.2 391.7 L613.2 386.9 L612.9 383.8 L616.8 381.0 L619.2 377.0 L619.6 373.1 L622.1 369.1 L622.8 365.1 L619.6 363.1 L620.3 357.2 L621.4 354.4 L620.0 347.7 L621.7 345.3 L623.5 339.3 L626.7 331.4 L627.4 325.4 L627.0 319.5 L628.1 313.5 L629.2 307.6 L630.6 301.6 L631.3 293.7 L632.0 285.8 L632.3 277.8 L631.6 271.5 L628.1 267.9 L623.9 264.8 L618.5 262.0 L614.3 259.2 L610.8 254.0 L610.4 250.9 L607.6 246.5 L605.4 242.1 L603.3 237.4 L601.2 231.4 L598.7 227.1 L595.2 222.3 L593.1 219.1 L592.7 216.0 L595.5 212.4 L597.3 210.4 L596.2 208.4 L594.1 207.2 L594.8 202.5 L595.9 199.7 L597.3 196.5 L600.8 193.7 L601.5 191.8 L603.0 188.6 L606.1 187.8 L607.2 183.4 L606.1 180.7 L606.5 176.7 L606.5 172.7 L604.7 169.9Z M604.7 169.9 L603.3 166.4 L601.2 163.2 L599.1 162.8 L596.2 165.6 L597.3 168.8 L594.1 169.9 L591.3 167.6 L587.0 166.0 L584.6 164.8 L584.2 162.8 L580.7 160.0 L579.2 160.4 L576.8 156.9 L577.1 154.5 L573.9 150.9 L571.1 147.3 L570.0 146.1 L567.2 146.1 L562.6 144.6 L559.8 143.4 L556.9 143.0 L554.1 141.0 L551.3 137.0 M606.9 164.4 L604.7 162.0 L601.5 160.8 L598.7 160.4 L594.5 163.2 L591.6 162.8 L589.2 161.6 L586.7 158.8 L584.6 155.3 L584.2 150.9 L584.9 146.9 L585.6 143.0 L586.0 138.2 M638.4 406.8 L638.7 408.4 L639.8 411.1 L643.3 413.5 L649.7 415.1 L648.6 416.7 L643.3 417.5 L638.0 418.3 L632.7 417.5 L627.4 414.7 L625.6 412.7 L629.5 413.1 L632.0 410.7 L634.5 409.9 L632.7 408.0 L635.5 407.6 L638.4 406.8Z M663.5 403.6 L666.0 402.0 L667.4 403.6 L669.5 402.0 L671.3 403.2 L673.4 402.0 L675.9 403.2 L674.1 404.4 L672.0 404.0 L670.9 405.6 L668.8 404.4 L666.7 405.6 L664.9 404.8 L663.5 403.6Z M746.0 412.7 L750.2 413.5 L753.4 415.5 L751.3 414.7 L746.0 412.7Z M618.9 364.3 L620.7 366.3 L620.0 370.7 L617.5 369.9 L618.2 366.3 L618.9 364.3Z M661.4 158.4 L664.6 158.4 L664.9 155.7 L662.1 156.1 L661.4 158.4Z M628.1 151.7 L623.9 154.9 L622.1 162.0 L624.2 169.1 L632.3 170.7 L634.8 174.3 L641.5 173.9 L640.5 177.5 L640.5 183.0 L642.3 185.0 L641.9 189.8 L643.7 193.7 M643.7 193.7 L639.1 191.4 L633.4 191.8 L633.4 194.1 L635.5 194.9 L632.7 196.1 L632.7 199.3 L634.8 202.5 L633.1 215.2 M633.1 215.2 L630.2 213.6 L632.3 209.2 L622.4 208.0 L618.5 202.5 L613.9 198.9 M613.9 198.9 L610.4 196.9 L606.1 195.7 L601.5 193.0 M613.9 198.9 L612.9 204.5 L609.3 208.8 L603.3 212.0 L601.9 216.8 L599.1 218.3 L596.2 216.0 L596.2 212.0 M633.1 215.2 L622.4 219.1 L621.4 224.3 L618.5 227.9 L622.1 234.2 L624.9 238.2 L630.6 236.2 L630.6 242.1 L634.1 242.1 M634.1 242.1 L637.3 248.1 L636.2 256.0 L634.8 260.4 L636.2 262.8 L634.5 267.9 L631.3 271.1 M634.5 267.9 L638.0 275.9 L639.1 283.8 L642.6 289.0 M634.1 242.1 L639.8 241.0 L644.7 237.8 L649.3 237.4 L649.0 244.9 L652.5 248.1 L658.2 250.1 L664.6 252.1 L667.0 258.0 L667.4 263.2 L673.8 263.2 L674.1 267.1 L677.0 270.7 L675.9 273.9 L674.5 277.1 L674.5 278.6 M674.5 278.6 L671.3 275.1 L662.1 276.3 L658.9 286.6 M658.9 286.6 L652.9 289.0 L649.7 286.2 L645.8 285.0 L642.6 289.0 M642.6 289.0 L642.3 293.7 L638.0 296.9 L638.7 303.6 L633.4 311.6 L632.7 319.5 L630.9 325.4 L633.4 333.4 L630.9 341.3 L628.8 349.3 L626.7 357.2 L626.3 365.1 L627.0 373.1 L626.7 381.0 L624.6 388.9 L621.4 396.9 L624.6 400.8 L625.6 404.8 L638.4 406.0 M637.7 407.6 L637.7 416.3 M674.5 278.6 L675.5 286.2 L683.3 287.0 L684.4 293.3 L688.3 294.1 L687.2 300.1 M658.9 286.6 L664.6 292.9 L672.3 296.9 L676.6 299.7 L673.1 306.4 L681.6 306.8 L687.2 300.1 M687.2 300.1 L690.0 304.4 L689.7 306.4 L683.0 311.2 L676.6 318.3 M676.6 318.3 L682.3 320.7 L687.2 323.5 L691.5 327.8 L691.5 332.2 M676.6 318.3 L674.5 325.4 L673.8 333.0 M643.7 193.7 L648.6 195.3 L656.1 189.8 L653.9 188.6 L653.6 183.0 L658.2 182.6 L664.6 180.7 L665.6 177.9 M665.6 177.9 L663.1 175.1 L664.2 171.9 L667.0 170.3 L668.8 165.6 M665.6 177.9 L668.5 180.7 L669.5 183.0 L668.5 189.4 L671.6 193.3 L675.2 192.6 L680.5 191.0 M678.0 175.1 L677.7 178.7 L675.2 182.6 L677.7 185.4 L680.5 191.0 M680.5 191.0 L682.6 190.6 L687.2 189.4 M689.3 175.5 L687.9 178.7 L688.6 184.6 L687.2 189.4 M687.2 189.4 L692.9 189.8 L694.6 188.2 L697.5 182.6 M587.0 166.0 L587.7 160.8 M577.1 154.5 L580.7 154.9 L584.2 155.3 M571.1 147.3 L573.6 145.7 L576.8 143.8 L580.0 139.8 L585.6 139.0 M569.7 145.3 L567.2 143.4 L564.4 141.4 L561.5 143.8 M564.4 141.4 L564.7 139.0 L567.9 136.6 M619.2 227.5 L632.7 234.2 L644.0 237.4 M644.0 237.4 L657.8 230.2 L662.4 233.4 L668.1 242.5 L668.5 252.1 L667.0 252.9 M672.0 227.5 L662.4 233.4 M672.0 227.5 L674.8 227.5 L681.9 206.4 L672.0 193.7 M667.4 177.9 L668.1 190.6 L672.0 193.7 M662.4 194.5 L657.8 202.5 L668.1 200.5 L672.0 193.7 M674.8 227.5 L675.9 234.2 L682.3 236.2 L702.8 237.4 M702.8 237.4 L701.0 249.3 L697.5 258.0 L692.5 267.9 L690.4 269.9 L676.6 269.1 M702.8 237.4 L706.3 230.2 L709.9 219.5 L712.7 218.3 L717.7 203.3 M702.8 237.4 L708.8 240.2 L717.7 239.4 L717.7 249.7 L701.0 249.3 M712.7 218.3 L716.6 228.3 L718.4 239.4 M718.4 239.4 L726.5 235.4 L734.7 233.0 L736.8 227.9 L734.3 218.3 L734.3 210.0 M736.8 227.9 L743.9 229.1 L748.5 217.1 M743.9 229.1 L748.8 227.5 L756.6 224.3 M748.8 227.5 L752.0 229.4 L757.0 228.3 M734.7 233.0 L741.4 232.6 L746.0 235.0 L751.6 234.2 L756.2 233.8 M746.0 235.0 L748.5 237.8 L751.6 240.2 M746.0 236.2 L746.0 244.1 L748.5 244.1 M717.7 249.7 L724.0 255.2 L731.8 257.6 L738.9 261.2 L741.7 269.5 M717.7 249.7 L717.7 258.0 L713.1 260.4 L713.1 269.9 L700.3 275.9 L692.5 267.9 M700.3 275.9 L700.0 279.0 L713.1 277.8 L716.6 288.6 L723.7 288.2 L731.8 281.8 L735.4 282.6 M735.4 282.6 L732.5 279.0 L735.4 271.9 L738.2 269.9 M700.0 279.0 L692.5 287.8 L688.6 293.7 M692.5 287.8 L704.9 289.7 L706.0 296.5 L709.9 298.5 M690.8 302.4 L698.5 302.4 L708.5 301.6 M690.0 306.4 L698.2 307.6 L704.6 314.7 M723.7 288.2 L722.3 290.5 M617.5 375.2 L616.6 371.9 L615.2 375.2 L616.0 374.6Z M616.0 375.0 L613.8 375.0 L613.7 376.5 L615.7 376.8Z M619.7 375.7 L618.8 373.9 L618.0 374.3 L616.8 376.2 L617.4 373.7 L618.2 375.2Z M618.6 377.5 L618.1 376.3 L619.3 375.5 L617.0 374.5Z M619.8 372.2 L619.9 373.5 L618.3 370.7 L619.3 372.5Z M619.6 371.5 L618.2 372.6 L616.6 372.5 L618.9 371.3Z M616.0 376.0 L616.0 377.3 L616.5 378.9 L615.7 376.8 L616.2 376.1 L616.5 379.1Z M618.4 376.6 L616.6 376.3 L618.4 373.9 L615.6 377.0 L615.9 376.8Z M617.4 375.7 L619.2 376.6 L617.3 374.5 L620.5 375.3Z M617.8 382.3 L616.2 383.4 L617.1 383.6 L614.9 383.0 L615.3 382.5 L614.9 383.8Z M613.4 381.1 L614.6 379.4 L616.9 379.5 L615.0 381.5Z M618.4 383.2 L619.4 382.5 L621.3 382.9 L618.2 379.8 L620.1 383.0Z M615.6 381.0 L613.3 382.3 L612.9 380.7 L614.4 380.6 L613.6 382.8 L615.4 379.8Z M619.8 383.9 L618.6 381.8 L620.5 381.5 L618.5 383.9 L619.0 383.3 L619.8 381.8Z M619.1 383.2 L619.0 381.5 L621.7 380.7 L620.1 381.4Z M615.4 381.9 L614.2 384.1 L615.4 383.5 L615.5 381.0 L613.9 383.2Z M616.2 384.9 L617.9 384.7 L618.4 384.9 L617.9 383.6Z M618.4 380.9 L619.5 381.3 L619.2 379.8 L616.7 382.0 L617.0 382.1 L618.1 382.0Z M616.1 385.1 L615.7 385.7 L615.8 384.2 L613.1 387.1 L614.6 384.3Z M616.2 388.4 L618.4 388.1 L616.8 388.2 L617.7 387.2Z M615.2 387.6 L616.8 387.9 L618.5 387.7 L616.3 384.1 L617.4 387.2Z M618.5 384.4 L618.2 383.5 L615.8 385.0 L618.5 383.9 L615.3 386.7 L616.5 386.9Z M615.7 386.8 L615.0 384.8 L612.7 383.9 L615.9 386.6Z M617.6 391.6 L616.1 390.2 L615.7 391.5 L615.6 389.4 L614.4 390.1 L616.1 392.2Z M615.9 384.8 L616.4 385.0 L615.8 387.4 L619.0 387.8Z M620.0 388.9 L617.4 386.3 L619.1 387.2 L617.2 389.7 L619.5 388.2 L617.1 386.2Z M616.9 388.2 L618.5 390.3 L618.8 388.0 L617.7 391.1Z M614.6 396.1 L617.2 394.4 L615.7 396.0 L615.3 394.2Z M617.0 389.6 L619.1 391.8 L618.8 388.8 L617.3 389.3Z M618.9 392.8 L616.0 393.1 L615.9 390.5 L618.0 393.4 L619.0 390.1Z M614.1 396.9 L615.0 395.6 L614.3 393.2 L614.7 394.3 L612.5 396.3Z M615.9 392.4 L613.1 390.7 L613.3 393.1 L612.1 393.0 L614.0 392.5Z M618.3 394.7 L617.4 393.7 L616.3 392.8 L615.4 391.5 L618.4 394.6Z M619.8 395.5 L618.1 395.0 L617.6 394.2 L619.8 395.5 L618.7 394.7Z M620.9 391.5 L620.9 392.4 L621.1 392.0 L620.3 393.8 L617.8 394.2 L619.1 394.3Z M617.7 396.1 L616.7 395.2 L615.9 393.4 L619.1 396.7 L617.7 394.1 L617.5 393.8Z M617.8 398.8 L616.9 401.1 L616.8 400.0 L617.9 400.2Z M616.3 400.6 L616.1 402.9 L615.6 401.5 L617.5 403.0 L614.6 401.4Z M618.9 400.6 L616.3 402.4 L616.9 401.6 L615.4 400.8Z M620.0 404.4 L622.6 403.7 L621.1 402.3 L622.2 403.6Z M616.2 398.5 L618.4 396.4 L616.3 396.2 L616.3 397.6 L615.2 397.8Z M617.6 397.1 L616.0 399.2 L616.4 396.7 L617.1 399.3Z M614.8 399.8 L617.1 401.8 L618.4 400.7 L615.8 399.4Z M617.6 401.1 L618.2 403.8 L616.3 400.9 L617.6 402.2 L616.6 401.2 L617.9 401.0Z M615.3 399.1 L618.0 401.0 L616.7 400.8 L616.3 400.4 L614.8 401.3Z M621.6 404.2 L622.8 403.8 L621.9 404.5 L620.5 403.3Z M620.3 402.1 L618.5 403.4 L618.9 403.6 L618.2 404.8Z M622.4 403.9 L623.7 406.6 L623.9 405.5 L622.9 405.3 L621.6 403.8 L624.1 406.5Z M621.5 405.3 L623.2 401.9 L621.6 403.8 L621.3 402.5 L620.4 405.0 L623.3 405.2Z M620.6 404.5 L620.3 407.1 L622.5 407.4 L623.1 403.7 L622.8 405.5Z M621.6 405.6 L621.1 407.0 L621.9 407.9 L620.8 406.1 L623.3 405.4Z M619.2 408.2 L621.7 409.6 L619.9 406.3 L621.6 409.5Z M617.1 404.6 L618.6 403.3 L617.7 402.8 L619.8 404.0 L617.8 402.1Z M620.6 403.3 L620.0 404.4 L622.0 403.3 L621.5 403.2Z M621.2 404.6 L621.0 408.2 L620.6 406.9 L623.9 404.9Z M626.5 408.5 L627.8 409.2 L626.9 408.2 L629.0 407.2 L627.4 410.7Z M619.6 407.1 L618.9 407.1 L618.6 406.9 L617.8 407.3Z M622.1 406.9 L620.8 408.9 L623.8 407.5 L620.8 410.4 L620.9 406.8Z M623.6 408.0 L625.9 409.1 L625.1 406.6 L625.8 408.1 L625.0 406.9Z M626.1 411.3 L627.5 411.0 L628.8 410.5 L628.9 413.6Z M622.0 407.1 L621.1 408.9 L620.0 408.7 L621.8 409.8 L619.5 407.2Z M620.2 411.4 L619.7 411.6 L618.3 409.5 L618.8 410.3 L621.9 408.2 L618.7 411.5Z M627.2 409.6 L624.4 408.9 L625.1 410.0 L625.4 409.3 L624.7 411.2 L624.9 411.6Z M629.7 415.5 L630.8 413.9 L629.1 414.7 L628.8 416.5 L632.1 415.6Z M625.8 412.8 L629.1 411.3 L628.9 412.1 L628.7 411.8Z M629.3 410.0 L628.2 412.7 L628.1 412.6 L630.7 412.7Z M631.6 413.1 L632.4 414.2 L630.1 412.6 L631.9 412.9 L633.1 411.9Z M627.5 411.8 L625.9 412.2 L628.5 412.2 L627.0 412.0 L626.4 410.0Z M629.5 413.5 L629.7 416.6 L628.4 416.9 L630.2 415.8 L631.0 416.7 L628.2 416.7Z M630.1 414.8 L628.6 414.9 L627.9 415.3 L628.7 412.5 L630.3 412.3Z M628.6 413.4 L629.9 415.5 L630.1 413.1 L630.8 413.3 L630.7 413.3Z M625.9 413.7 L627.1 413.8 L625.5 414.3 L627.9 411.7 L625.2 413.1 L628.0 415.2Z M634.0 414.6 L633.2 416.4 L631.6 416.1 L632.1 415.6 L631.4 417.6 L634.5 415.8Z M634.9 414.6 L632.0 414.7 L633.2 413.0 L633.7 413.6Z M629.8 413.0 L627.0 413.0 L628.3 411.3 L627.3 411.6 L630.7 412.1Z M632.1 413.2 L634.1 413.7 L633.8 415.5 L634.2 414.0 L632.0 415.1Z M636.2 414.0 L635.1 416.6 L636.3 416.4 L634.4 416.9 L634.9 413.9Z M635.0 416.6 L637.0 417.3 L638.0 416.5 L636.8 415.2 L635.0 414.8Z M632.8 415.1 L631.9 415.3 L631.6 415.7 L633.7 412.8 L632.4 414.6Z M636.6 412.8 L636.1 414.9 L634.3 413.3 L634.8 414.3 L633.3 413.8 L635.5 415.6Z M630.9 416.1 L631.8 414.7 L630.3 414.5 L631.3 416.5 L633.1 416.1 L630.1 416.6Z M642.3 414.3 L639.4 414.9 L642.6 415.8 L641.4 415.8 L641.2 416.2Z M633.2 418.9 L631.8 416.8 L631.6 417.7 L635.2 419.3Z M637.0 416.1 L637.4 418.2 L637.8 414.5 L638.2 416.6 L637.5 417.0 L637.1 414.9Z M636.1 416.8 L635.6 415.9 L638.7 415.7 L636.1 419.2Z M641.8 417.3 L641.6 414.9 L638.3 416.4 L638.7 414.9 L641.3 417.6 L638.6 414.8Z M637.6 415.7 L636.7 415.5 L637.9 416.3 L637.3 415.4 L637.4 416.4Z M639.3 417.4 L640.0 419.1 L637.9 419.3 L640.2 419.1Z M642.5 418.4 L642.5 418.0 L640.1 418.6 L641.2 417.7Z M643.9 420.2 L641.0 420.2 L640.3 417.3 L643.3 418.1 L643.4 418.1 L641.3 420.2Z M642.0 419.4 L642.0 416.8 L640.9 417.4 L644.2 417.4 L643.0 418.6Z M643.1 415.6 L642.8 415.9 L643.5 417.8 L644.8 418.3Z M641.3 418.4 L640.4 420.0 L640.6 418.6 L643.4 417.5Z M647.7 418.5 L644.8 416.9 L645.9 419.2 L646.5 419.3 L647.1 416.9 L647.1 417.2Z M640.0 416.4 L639.7 419.1 L640.7 416.4 L641.6 418.4 L643.1 419.0 L641.4 417.8Z M645.7 417.2 L646.8 417.5 L645.6 418.0 L645.2 416.6 L644.4 418.4Z M641.7 417.8 L643.7 415.6 L641.6 418.4 L642.0 417.7 L643.0 418.3 L642.3 418.2Z M644.6 419.6 L648.1 418.0 L647.1 419.4 L645.0 418.6 L644.7 420.3 L645.7 421.0Z M646.0 417.8 L642.3 418.0 L645.0 419.0 L643.1 415.6 L644.9 416.7 L644.7 415.7Z M556.2 199.7 L558.0 200.9 L558.7 202.5 L556.9 202.1 L556.2 199.7 M560.1 200.5 L561.2 201.3 M563.3 201.7 L564.4 202.1 M782.4 421.8 L783.2 422.4 M785.2 425.0 L786.1 425.6 M786.3 427.8 L787.1 428.4 M786.6 430.2 L787.5 430.8 M785.9 432.6 L786.8 433.2 M783.4 434.1 L784.3 434.7 M821.4 138.2 L819.3 140.2 L821.4 144.6 L821.4 149.3 L825.6 153.7 L828.8 156.9 L832.7 160.4 L833.8 164.8 L835.5 168.4 L838.4 170.7 M821.4 144.6 L827.4 144.6 L831.6 145.3 M821.4 149.3 L827.4 148.5 L832.0 148.5 L832.0 152.1 L827.4 154.9 M833.4 162.4 L836.2 159.2 L840.9 158.8 L843.0 162.8 L844.0 166.0 L840.1 171.1" fill="none" stroke="#9c9c9c" stroke-width="0.75" stroke-linejoin="round"/>
<path d="M518.0 183.6C521.0 183.7 531.7 183.7 536.1 184.2C540.4 184.6 541.1 185.2 544.1 186.2C547.1 187.2 550.8 189.0 554.1 190.2C557.5 191.4 561.3 192.6 564.2 193.6C567.0 194.6 569.4 194.8 571.2 196.2C573.0 197.7 574.4 200.2 575.2 202.2C576.0 204.2 575.4 206.6 576.2 208.3C577.0 209.9 578.4 211.3 580.2 212.3C582.1 213.3 585.4 213.4 587.2 214.3C589.1 215.1 590.3 215.5 591.3 217.3C592.3 219.1 592.8 222.3 593.3 225.3C593.8 228.3 593.9 232.0 594.3 235.4C594.6 238.7 594.6 242.1 595.3 245.4C595.9 248.7 597.1 252.4 598.3 255.4C599.5 258.4 601.0 260.8 602.3 263.5C603.6 266.1 605.5 268.5 606.3 271.5C607.2 274.5 607.0 277.9 607.3 281.5C607.7 285.1 607.5 289.8 608.3 293.0C609.2 296.3 610.7 298.4 612.3 301.1C614.0 303.7 616.4 306.7 618.4 309.1C620.4 311.4 622.8 313.6 624.4 315.1C626.0 316.6 627.0 317.9 628.0 318.1C629.0 318.3 629.3 317.9 630.1 316.4C631.0 315.0 632.1 312.2 633.0 309.3C633.8 306.5 634.6 302.5 635.1 299.4C635.6 296.4 635.7 293.8 635.8 290.9C635.9 288.1 636.0 285.0 635.8 282.4C635.6 279.8 635.1 277.5 634.4 275.3C633.7 273.2 632.9 271.3 631.5 269.7C630.2 268.0 628.3 266.8 626.4 265.5C624.5 264.1 622.7 263.5 620.4 261.5C618.0 259.4 614.7 256.4 612.3 253.4C610.0 250.4 608.0 246.7 606.3 243.4C604.6 240.0 603.1 236.4 602.3 233.4C601.5 230.3 600.8 227.0 601.3 225.3C601.8 223.7 604.0 223.3 605.3 223.3C606.7 223.3 608.5 223.7 609.3 225.3C610.2 227.0 609.3 230.7 610.3 233.4C611.3 236.0 613.3 238.9 615.4 241.4C617.4 243.9 619.9 246.4 622.4 248.4C624.9 250.4 628.8 252.2 630.4 253.4C632.1 254.6 631.2 254.6 632.3 255.5C633.3 256.4 635.0 257.5 636.5 259.0C638.0 260.6 639.9 262.7 641.5 264.7C643.0 266.7 644.4 268.8 645.7 271.1C647.0 273.3 648.5 275.6 649.3 278.2C650.0 280.8 650.4 284.1 650.4 286.7C650.4 289.3 649.9 291.4 649.3 293.8C648.6 296.1 647.6 298.6 646.4 300.8C645.2 303.1 643.6 305.2 642.2 307.2C640.8 309.2 639.1 310.9 637.9 312.9C636.7 314.9 635.8 316.8 635.1 319.3C634.4 321.7 634.1 323.1 633.7 327.8C633.2 332.4 632.3 343.1 632.4 347.2C632.5 351.3 633.1 350.8 634.4 352.2C635.8 353.6 637.7 355.1 640.4 355.7C643.1 356.2 648.0 355.8 650.6 355.8C653.2 355.8 654.2 355.6 655.9 355.6C657.7 355.6 659.5 355.6 661.3 355.8C663.0 355.9 664.8 356.2 666.6 356.4C668.3 356.6 670.1 356.8 671.9 356.8C673.7 356.9 675.8 357.0 677.2 356.6C678.6 356.2 679.7 355.4 680.4 354.5C681.1 353.6 681.4 352.6 681.4 351.3C681.5 350.1 681.1 348.5 680.9 347.1C680.8 345.7 680.5 344.1 680.6 342.8C680.7 341.6 680.9 340.6 681.4 339.6C682.0 338.7 683.0 337.9 684.1 337.0C685.2 336.1 686.5 335.4 687.8 334.3C689.1 333.3 690.7 332.0 692.1 330.6C693.5 329.2 694.9 327.5 696.3 325.8C697.7 324.1 699.2 322.2 700.6 320.5C702.0 318.8 703.6 317.1 704.8 315.7C706.1 314.4 707.1 313.3 708.0 312.5C708.9 311.8 709.1 311.2 710.1 311.2C711.2 311.1 712.8 311.4 714.4 312.0C716.0 312.6 717.9 313.9 719.7 314.7C721.5 315.5 723.3 316.3 725.0 316.8C726.7 317.3 727.5 318.0 730.0 317.8C732.5 317.7 737.4 316.5 739.9 315.7C742.4 314.9 744.0 314.0 745.1 313.0C746.2 312.0 746.1 310.8 746.4 309.5C746.7 308.2 746.6 306.6 746.8 305.2C747.0 303.7 747.1 302.3 747.7 300.8C748.3 299.3 749.3 297.7 750.3 296.4C751.3 295.1 752.6 294.0 753.8 293.0C755.0 291.9 756.3 291.2 757.3 290.3C758.3 289.5 759.0 288.7 759.9 287.7C760.8 286.7 761.6 285.2 762.5 284.2C763.4 283.2 764.2 282.3 765.1 281.6C766.0 280.9 765.8 281.6 768.0 279.9C770.2 278.2 776.1 274.4 778.4 271.5C780.6 268.6 779.9 265.0 781.4 262.5C782.9 259.9 784.7 258.6 787.4 256.4C790.1 254.3 794.1 251.8 797.4 249.4C800.8 247.1 804.5 244.6 807.5 242.4C810.5 240.2 812.8 237.7 815.5 236.4C818.2 235.0 820.5 235.0 823.5 234.4C826.6 233.7 830.4 233.5 833.6 232.4C836.7 231.2 839.7 228.9 842.4 227.7C845.1 226.6 848.4 225.7 849.6 225.3" fill="none" stroke="#000" stroke-width="0.8"/>
<path d="M537.1 144.0C537.2 143.0 538.1 141.4 539.1 140.6C540.1 139.9 541.9 139.4 543.1 139.4C544.3 139.4 545.8 139.7 546.1 140.6C546.4 141.6 545.9 143.8 545.1 145.0C544.3 146.3 542.3 147.9 541.1 148.2C539.9 148.6 538.7 147.7 538.1 147.0C537.4 146.3 536.9 145.1 537.1 144.0Z" fill="none" stroke="#000" stroke-width="0.8"/>
<path d="M756.3 138.0C757.1 138.8 758.8 141.9 761.3 143.0C763.8 144.1 768.0 144.6 771.4 144.6C774.7 144.7 778.0 143.9 781.4 143.4C784.7 143.0 788.2 142.8 791.4 142.0C794.6 141.2 799.0 139.2 800.5 138.6" fill="none" stroke="#000" stroke-width="0.8"/>
<path d="M522.4 341.2C524.0 340.5 528.8 338.3 532.1 337.2C535.3 336.1 538.4 335.3 542.1 334.8C545.8 334.3 550.1 334.1 554.1 334.2C558.1 334.2 562.2 334.5 566.2 335.2C570.2 335.8 574.5 337.2 578.2 338.2C581.9 339.2 585.2 340.7 588.3 341.2C591.3 341.7 592.9 341.8 596.3 341.2C599.6 340.6 605.5 337.4 608.3 337.6C611.2 337.8 611.8 339.9 613.3 342.2C614.8 344.5 616.2 348.1 617.4 351.2C618.5 354.4 619.5 358.3 620.4 361.3C621.2 364.3 622.2 366.6 622.4 369.3C622.5 372.0 620.4 374.2 621.4 377.3C622.3 380.5 626.2 385.9 628.0 388.1C629.8 390.2 630.7 389.9 632.3 390.2C633.8 390.6 635.7 390.7 637.2 390.2C638.7 389.7 640.2 388.8 641.5 387.4C642.8 386.0 643.8 383.7 645.0 381.7C646.2 379.7 647.2 377.2 648.5 375.3C649.8 373.4 651.3 371.6 652.8 370.4C654.3 369.2 656.0 368.4 657.8 368.0C659.5 367.5 661.3 367.3 663.4 367.5C665.5 367.8 668.1 368.8 670.5 369.4C672.9 370.0 675.2 370.7 677.6 371.4C680.0 372.0 682.3 372.6 684.7 373.2C687.0 373.8 689.4 374.6 691.8 375.1C694.1 375.5 696.7 376.0 698.8 376.0C701.0 376.1 703.1 376.0 704.5 375.3C705.9 374.6 706.4 373.2 707.3 371.8C708.3 370.4 709.0 368.3 710.2 366.8C711.4 365.4 712.5 364.2 714.4 363.3C716.3 362.4 718.9 361.8 721.5 361.2C724.1 360.6 727.4 360.1 730.0 359.8C732.6 359.4 733.4 359.1 737.2 358.9C741.1 358.6 748.3 358.3 753.3 358.3C758.3 358.2 763.0 358.2 767.3 358.7C771.7 359.1 775.4 359.9 779.4 360.9C783.4 361.8 787.4 363.2 791.4 364.3C795.4 365.4 799.1 366.3 803.5 367.3C807.8 368.3 812.8 369.3 817.5 370.3C822.2 371.3 827.4 372.5 831.6 373.3C835.7 374.2 840.6 375.0 842.4 375.3" fill="none" stroke="#000" stroke-width="0.8"/>
<path d="M538.1 440.6C539.7 439.7 544.8 437.0 548.1 435.5C551.5 434.0 554.5 433.0 558.1 431.5C561.8 430.0 566.2 427.8 570.2 426.5C574.2 425.2 578.2 424.3 582.2 423.5C586.2 422.7 589.9 422.2 594.3 421.9C598.6 421.6 603.6 421.6 608.3 421.5C613.0 421.4 619.1 421.6 622.4 421.5C625.7 421.4 625.9 420.6 628.0 420.7C630.1 420.7 632.5 421.7 635.1 421.8C637.7 421.9 640.8 421.8 643.6 421.4C646.4 421.0 649.3 420.1 652.1 419.5C654.9 419.0 657.8 418.4 660.6 418.1C663.4 417.9 666.3 417.9 669.1 418.1C671.9 418.3 674.3 419.0 677.6 419.3C680.9 419.6 685.4 420.0 688.9 420.0C692.5 419.9 695.8 419.4 698.8 419.0C701.9 418.5 704.5 417.8 707.3 417.1C710.2 416.4 713.0 415.7 715.8 414.7C718.7 413.8 721.5 412.6 724.3 411.5C727.2 410.4 729.7 409.5 732.8 408.2C736.0 406.9 739.5 405.1 743.3 403.8C747.0 402.5 751.3 401.3 755.3 400.4C759.3 399.5 763.3 398.9 767.3 398.4C771.4 397.9 775.7 397.4 779.4 397.4C783.1 397.4 786.1 397.7 789.4 398.4C792.8 399.1 796.1 400.1 799.5 401.4C802.8 402.8 806.5 404.6 809.5 406.4C812.5 408.3 814.8 410.5 817.5 412.5C820.2 414.5 822.9 416.8 825.5 418.5C828.2 420.2 830.8 421.5 833.6 422.5C836.4 423.5 840.9 424.2 842.4 424.5" fill="none" stroke="#000" stroke-width="0.8"/>
<rect x="522.6" y="179.2" width="12.0" height="8.8" fill="#fff"/>
<text x="528.6" y="186.9" font-size="9" text-anchor="middle" style="fill:#3c3c3c">18</text>
<rect x="599.3" y="223.5" width="12.0" height="8.8" fill="#fff"/>
<text x="605.3" y="231.2" font-size="9" text-anchor="middle" style="fill:#3c3c3c">18</text>
<rect x="726.6" y="313.7" width="12.0" height="8.8" fill="#fff"/>
<text x="732.6" y="321.4" font-size="9" text-anchor="middle" style="fill:#3c3c3c">18</text>
<rect x="599.5" y="331.8" width="5.7" height="8.8" fill="#fff"/>
<text x="602.3" y="339.5" font-size="9" text-anchor="middle" style="fill:#3c3c3c">9</text>
<rect x="696.0" y="372.4" width="5.7" height="8.8" fill="#fff"/>
<text x="698.8" y="380.1" font-size="9" text-anchor="middle" style="fill:#3c3c3c">9</text>
<rect x="696.2" y="372.5" width="5.7" height="8.8" fill="#fff"/>
<text x="699.1" y="380.2" font-size="9" text-anchor="middle" style="fill:#3c3c3c">9</text>
<rect x="686.1" y="415.6" width="5.7" height="8.8" fill="#fff"/>
<text x="688.9" y="423.3" font-size="9" text-anchor="middle" style="fill:#3c3c3c">0</text>
<rect x="686.2" y="415.5" width="5.7" height="8.8" fill="#fff"/>
<text x="689.1" y="423.2" font-size="9" text-anchor="middle" style="fill:#3c3c3c">0</text>
</g>
<rect x="522.1" y="139.0" width="320.4" height="297.5" fill="none" stroke="#000" stroke-width="1.6"/>
<line x1="518.1" y1="139.0" x2="522.1" y2="139.0" stroke="#000" stroke-width="1.3"/>
<text transform="translate(516.9,142.6) scale(0.95,1)" font-size="9.4" font-weight="bold" stroke="#000" stroke-width="0.3" text-anchor="end">15N</text>
<line x1="518.1" y1="158.8" x2="522.1" y2="158.8" stroke="#000" stroke-width="1.3"/>
<text transform="translate(516.9,162.4) scale(0.95,1)" font-size="9.4" font-weight="bold" stroke="#000" stroke-width="0.3" text-anchor="end">10N</text>
<line x1="518.1" y1="178.7" x2="522.1" y2="178.7" stroke="#000" stroke-width="1.3"/>
<text transform="translate(516.9,182.3) scale(0.95,1)" font-size="9.4" font-weight="bold" stroke="#000" stroke-width="0.3" text-anchor="end">5N</text>
<line x1="518.1" y1="198.5" x2="522.1" y2="198.5" stroke="#000" stroke-width="1.3"/>
<text transform="translate(516.9,202.1) scale(0.95,1)" font-size="9.4" font-weight="bold" stroke="#000" stroke-width="0.3" text-anchor="end">EQ</text>
<line x1="518.1" y1="218.3" x2="522.1" y2="218.3" stroke="#000" stroke-width="1.3"/>
<text transform="translate(516.9,221.9) scale(0.95,1)" font-size="9.4" font-weight="bold" stroke="#000" stroke-width="0.3" text-anchor="end">5S</text>
<line x1="518.1" y1="238.2" x2="522.1" y2="238.2" stroke="#000" stroke-width="1.3"/>
<text transform="translate(516.9,241.8) scale(0.95,1)" font-size="9.4" font-weight="bold" stroke="#000" stroke-width="0.3" text-anchor="end">10S</text>
<line x1="518.1" y1="258.0" x2="522.1" y2="258.0" stroke="#000" stroke-width="1.3"/>
<text transform="translate(516.9,261.6) scale(0.95,1)" font-size="9.4" font-weight="bold" stroke="#000" stroke-width="0.3" text-anchor="end">15S</text>
<line x1="518.1" y1="277.8" x2="522.1" y2="277.8" stroke="#000" stroke-width="1.3"/>
<text transform="translate(516.9,281.4) scale(0.95,1)" font-size="9.4" font-weight="bold" stroke="#000" stroke-width="0.3" text-anchor="end">20S</text>
<line x1="518.1" y1="297.7" x2="522.1" y2="297.7" stroke="#000" stroke-width="1.3"/>
<text transform="translate(516.9,301.3) scale(0.95,1)" font-size="9.4" font-weight="bold" stroke="#000" stroke-width="0.3" text-anchor="end">25S</text>
<line x1="518.1" y1="317.5" x2="522.1" y2="317.5" stroke="#000" stroke-width="1.3"/>
<text transform="translate(516.9,321.1) scale(0.95,1)" font-size="9.4" font-weight="bold" stroke="#000" stroke-width="0.3" text-anchor="end">30S</text>
<line x1="518.1" y1="337.3" x2="522.1" y2="337.3" stroke="#000" stroke-width="1.3"/>
<text transform="translate(516.9,340.9) scale(0.95,1)" font-size="9.4" font-weight="bold" stroke="#000" stroke-width="0.3" text-anchor="end">35S</text>
<line x1="518.1" y1="357.2" x2="522.1" y2="357.2" stroke="#000" stroke-width="1.3"/>
<text transform="translate(516.9,360.8) scale(0.95,1)" font-size="9.4" font-weight="bold" stroke="#000" stroke-width="0.3" text-anchor="end">40S</text>
<line x1="518.1" y1="377.0" x2="522.1" y2="377.0" stroke="#000" stroke-width="1.3"/>
<text transform="translate(516.9,380.6) scale(0.95,1)" font-size="9.4" font-weight="bold" stroke="#000" stroke-width="0.3" text-anchor="end">45S</text>
<line x1="518.1" y1="396.8" x2="522.1" y2="396.8" stroke="#000" stroke-width="1.3"/>
<text transform="translate(516.9,400.4) scale(0.95,1)" font-size="9.4" font-weight="bold" stroke="#000" stroke-width="0.3" text-anchor="end">50S</text>
<line x1="518.1" y1="416.7" x2="522.1" y2="416.7" stroke="#000" stroke-width="1.3"/>
<text transform="translate(516.9,420.3) scale(0.95,1)" font-size="9.4" font-weight="bold" stroke="#000" stroke-width="0.3" text-anchor="end">55S</text>
<line x1="518.1" y1="436.5" x2="522.1" y2="436.5" stroke="#000" stroke-width="1.3"/>
<text transform="translate(516.9,440.1) scale(0.95,1)" font-size="9.4" font-weight="bold" stroke="#000" stroke-width="0.3" text-anchor="end">60S</text>
<line x1="526.5" y1="436.5" x2="526.5" y2="439.5" stroke="#000" stroke-width="1.3"/>
<text transform="translate(527.0,447.8) scale(0.81,1)" font-size="10.2" font-weight="bold" stroke="#000" stroke-width="0.35" text-anchor="middle">100W</text>
<line x1="561.9" y1="436.5" x2="561.9" y2="439.5" stroke="#000" stroke-width="1.3"/>
<text transform="translate(562.4,447.8) scale(0.81,1)" font-size="10.2" font-weight="bold" stroke="#000" stroke-width="0.35" text-anchor="middle">90W</text>
<line x1="597.3" y1="436.5" x2="597.3" y2="439.5" stroke="#000" stroke-width="1.3"/>
<text transform="translate(597.8,447.8) scale(0.81,1)" font-size="10.2" font-weight="bold" stroke="#000" stroke-width="0.35" text-anchor="middle">80W</text>
<line x1="632.7" y1="436.5" x2="632.7" y2="439.5" stroke="#000" stroke-width="1.3"/>
<text transform="translate(633.2,447.8) scale(0.81,1)" font-size="10.2" font-weight="bold" stroke="#000" stroke-width="0.35" text-anchor="middle">70W</text>
<line x1="668.1" y1="436.5" x2="668.1" y2="439.5" stroke="#000" stroke-width="1.3"/>
<text transform="translate(668.6,447.8) scale(0.81,1)" font-size="10.2" font-weight="bold" stroke="#000" stroke-width="0.35" text-anchor="middle">60W</text>
<line x1="703.5" y1="436.5" x2="703.5" y2="439.5" stroke="#000" stroke-width="1.3"/>
<text transform="translate(704.0,447.8) scale(0.81,1)" font-size="10.2" font-weight="bold" stroke="#000" stroke-width="0.35" text-anchor="middle">50W</text>
<line x1="738.9" y1="436.5" x2="738.9" y2="439.5" stroke="#000" stroke-width="1.3"/>
<text transform="translate(739.4,447.8) scale(0.81,1)" font-size="10.2" font-weight="bold" stroke="#000" stroke-width="0.35" text-anchor="middle">40W</text>
<line x1="774.3" y1="436.5" x2="774.3" y2="439.5" stroke="#000" stroke-width="1.3"/>
<text transform="translate(774.8,447.8) scale(0.81,1)" font-size="10.2" font-weight="bold" stroke="#000" stroke-width="0.35" text-anchor="middle">30W</text>
<line x1="809.7" y1="436.5" x2="809.7" y2="439.5" stroke="#000" stroke-width="1.3"/>
<text transform="translate(810.2,447.8) scale(0.81,1)" font-size="10.2" font-weight="bold" stroke="#000" stroke-width="0.35" text-anchor="middle">20W</text>
<text x="566.2" y="129.9" font-size="17" textLength="68.5" lengthAdjust="spacingAndGlyphs">cluster:</text>
<text x="653.1" y="129.9" font-size="17" text-anchor="middle">2</text>
<text x="682.6" y="129.9" font-size="17" textLength="90.8" lengthAdjust="spacingAndGlyphs">membros:</text>
<text x="791.7" y="129.9" font-size="17" text-anchor="middle">3</text>
<clipPath id="cp2"><rect x="63.4" y="494.0" width="320.4" height="297.5"/></clipPath>
<g clip-path="url(#cp2)">
<rect x="63.4" y="494.0" width="320.4" height="297.5" fill="#1C4DCF"/>
<path d="M202.6 794.1C189.8 793.7 200.9 792.3 202.6 791.5C204.2 790.8 208.5 790.4 212.5 789.6C216.5 788.7 222.0 787.3 226.7 786.3C231.4 785.3 236.1 784.3 240.8 783.5C245.6 782.6 250.3 781.9 255.0 781.3C259.7 780.8 265.4 780.1 269.2 779.9C273.0 779.7 275.9 779.5 277.7 780.2C279.5 780.9 279.6 781.9 279.8 784.2C280.0 786.5 292.0 792.4 279.1 794.1C266.2 795.7 215.3 794.5 202.6 794.1Z" fill="#4632C8"/>
<path d="M34.1 795.6C40.7 795.6 65.7 796.4 74.1 795.6C82.4 794.7 80.7 792.0 84.1 790.5C87.4 789.1 90.4 788.3 94.1 786.9C97.8 785.6 102.2 783.9 106.2 782.5C110.2 781.1 114.5 779.7 118.2 778.5C121.9 777.3 125.2 776.2 128.2 775.5C131.3 774.8 133.3 774.6 136.3 774.5C139.3 774.4 142.6 774.7 146.3 774.9C150.0 775.1 154.7 775.5 158.4 775.7C162.0 775.9 165.3 776.1 168.4 776.1C171.5 776.1 174.2 775.7 177.1 775.7C179.9 775.6 182.8 776.0 185.6 775.7C188.4 775.4 191.3 774.5 194.1 774.0C196.9 773.5 199.8 772.8 202.6 772.6C205.4 772.3 208.5 772.5 211.1 772.6C213.7 772.7 215.6 773.0 218.2 773.1C220.8 773.3 223.8 773.5 226.7 773.6C229.5 773.6 232.3 773.7 235.2 773.6C238.0 773.4 240.8 773.0 243.7 772.6C246.5 772.1 249.3 771.5 252.2 770.7C255.0 769.9 257.8 768.9 260.7 767.9C263.5 766.9 266.3 765.7 269.2 764.6C272.0 763.6 275.3 762.5 277.7 761.5C280.0 760.5 280.3 759.4 283.2 758.4C286.2 757.4 291.3 756.3 295.3 755.4C299.3 754.6 303.3 753.9 307.3 753.4C311.3 752.9 315.4 752.5 319.4 752.4C323.4 752.3 327.7 752.3 331.4 752.8C335.1 753.3 338.1 754.3 341.5 755.4C344.8 756.5 348.5 757.8 351.5 759.4C354.5 761.1 357.2 763.4 359.5 765.5C361.9 767.5 363.2 769.6 365.5 771.5C367.9 773.3 370.5 775.5 373.6 776.5C376.6 777.5 375.4 777.3 383.8 777.5C392.2 777.7 417.1 777.5 423.8 777.5L423.8 444.0 L34.1 444.0 Z" fill="#1464D2"/>
<path d="M24.0 741.4C30.7 741.4 55.3 741.2 64.0 741.4C72.7 741.5 72.0 742.0 76.1 742.4C80.1 742.7 84.1 743.0 88.1 743.4C92.1 743.7 96.1 744.0 100.1 744.4C104.2 744.7 108.2 745.4 112.2 745.4C116.2 745.4 120.2 744.4 124.2 744.4C128.2 744.4 132.3 745.2 136.3 745.4C140.3 745.5 144.6 745.2 148.3 745.4C152.0 745.5 155.7 745.5 158.4 746.4C161.0 747.2 162.4 748.7 164.4 750.4C166.3 752.1 168.1 755.3 170.0 756.6C171.9 757.8 173.9 757.4 175.7 758.0C177.4 758.6 179.2 759.4 180.6 760.1C182.0 760.8 183.0 762.9 184.2 762.2C185.3 761.5 186.3 758.3 187.7 755.8C189.1 753.4 191.0 749.8 192.7 747.3C194.3 744.9 195.9 742.6 197.6 741.0C199.4 739.4 201.2 738.2 203.3 737.7C205.4 737.2 208.0 737.3 210.4 737.7C212.7 738.1 215.2 739.1 217.5 740.3C219.7 741.4 222.1 742.9 223.8 744.5C225.6 746.2 226.9 748.3 228.1 750.2C229.3 752.1 229.7 754.1 230.9 755.8C232.1 757.6 233.3 759.5 235.2 760.8C237.1 762.1 239.7 763.2 242.3 763.6C244.9 764.1 247.9 764.1 250.8 763.6C253.6 763.2 256.4 761.9 259.3 760.8C262.1 759.7 264.9 758.6 267.8 757.3C270.6 756.0 273.3 754.7 276.3 753.0C279.2 751.4 281.7 748.9 285.3 747.4C288.8 745.9 293.3 744.9 297.3 744.0C301.3 743.1 305.3 742.3 309.3 742.0C313.4 741.6 317.4 741.7 321.4 742.0C325.4 742.2 329.4 742.6 333.4 743.4C337.4 744.1 341.5 745.0 345.5 746.4C349.5 747.7 353.8 749.7 357.5 751.4C361.2 753.1 364.5 754.9 367.5 756.4C370.6 757.9 372.9 759.4 375.6 760.4C378.3 761.4 375.8 762.1 383.8 762.4C391.8 762.8 417.1 762.4 423.8 762.4L423.8 444.0 L24.0 444.0 Z" fill="#1E6EEB"/>
<path d="M56.0 752.0C57.3 746.8 61.0 752.2 64.0 752.4C67.0 752.6 70.4 752.9 74.1 753.4C77.7 753.9 82.1 754.6 86.1 755.4C90.1 756.3 94.6 757.3 98.1 758.4C101.6 759.6 105.3 760.9 107.2 762.4C109.0 763.9 109.7 765.8 109.2 767.5C108.7 769.1 106.7 771.0 104.2 772.5C101.6 774.0 97.8 775.3 94.1 776.5C90.4 777.7 85.8 778.7 82.1 779.5C78.4 780.3 75.1 780.8 72.0 781.5C69.0 782.2 66.7 783.1 64.0 783.5C61.3 783.9 57.3 789.2 56.0 783.9C54.6 778.7 54.6 757.3 56.0 752.0Z" fill="#1E6EEB"/>
<path d="M24.0 707.2C30.7 707.2 55.7 707.6 64.0 707.2C72.4 706.9 70.4 705.8 74.1 705.2C77.7 704.7 82.1 703.8 86.1 703.8C90.1 703.8 93.8 704.5 98.1 705.2C102.5 706.0 107.5 707.2 112.2 708.2C116.9 709.2 121.6 710.4 126.2 711.3C130.9 712.1 136.3 712.4 140.3 713.3C144.3 714.1 147.6 714.9 150.3 716.3C153.0 717.6 154.8 719.3 156.3 721.3C157.9 723.3 158.5 725.8 159.4 728.3C160.2 730.8 160.4 733.8 161.4 736.3C162.4 738.9 164.0 741.5 165.4 743.4C166.7 745.2 167.7 746.0 169.4 747.4C171.1 748.8 173.8 751.2 175.7 751.6C177.5 751.9 179.1 750.5 180.6 749.5C182.2 748.4 183.6 746.9 184.9 745.2C186.2 743.6 187.1 741.4 188.4 739.5C189.7 737.7 191.3 735.4 192.7 733.9C194.1 732.3 195.3 731.2 196.9 730.3C198.6 729.5 200.5 729.0 202.6 728.9C204.7 728.9 207.3 729.5 209.7 730.1C212.0 730.6 214.4 731.6 216.8 732.5C219.1 733.3 221.5 734.2 223.8 735.3C226.2 736.4 228.6 737.7 230.9 738.8C233.3 740.0 235.6 741.2 238.0 742.4C240.4 743.6 242.7 745.0 245.1 745.9C247.5 746.9 250.1 747.9 252.2 748.0C254.3 748.2 256.2 747.6 257.8 746.6C259.5 745.7 260.9 744.0 262.1 742.4C263.3 740.7 264.0 738.5 264.9 736.7C265.9 734.9 266.3 733.0 267.8 731.8C269.2 730.5 271.1 729.8 273.4 729.2C275.8 728.6 279.6 728.4 281.9 728.2C284.2 728.1 284.4 728.4 287.3 728.3C290.2 728.3 295.3 727.8 299.3 727.9C303.3 728.0 307.3 728.3 311.3 728.7C315.4 729.2 319.4 729.9 323.4 730.7C327.4 731.6 331.4 732.8 335.4 733.9C339.4 735.0 343.5 736.2 347.5 737.4C351.5 738.5 355.5 739.8 359.5 741.0C363.5 742.1 367.5 743.4 371.6 744.4C375.6 745.3 375.1 746.4 383.8 746.8C392.5 747.2 417.1 746.8 423.8 746.8L423.8 444.0 L24.0 444.0 Z" fill="#3C96F5"/>
<path d="M24.0 694.2C30.7 694.2 55.7 694.6 64.0 694.2C72.4 693.8 70.4 692.5 74.1 691.8C77.7 691.1 82.1 690.2 86.1 689.8C90.1 689.3 94.1 689.0 98.1 689.2C102.2 689.3 106.2 689.7 110.2 690.6C114.2 691.4 118.5 693.0 122.2 694.2C125.9 695.4 129.6 697.3 132.3 697.6C134.9 697.9 136.9 697.4 138.3 696.2C139.6 695.0 139.5 692.0 140.3 690.2C141.1 688.3 142.0 686.0 143.3 685.2C144.6 684.3 146.6 684.3 148.3 685.2C150.0 686.0 152.0 688.0 153.3 690.2C154.7 692.4 155.3 695.2 156.3 698.2C157.4 701.2 158.4 704.9 159.4 708.2C160.4 711.6 161.7 715.3 162.4 718.3C163.0 721.3 163.4 723.8 163.4 726.3C163.4 728.8 162.0 731.0 162.4 733.3C162.7 735.7 163.4 738.1 165.4 740.4C167.4 742.6 172.1 745.7 174.3 746.6C176.4 747.6 177.1 746.6 178.5 745.9C179.9 745.2 181.5 743.9 182.8 742.4C184.1 740.8 185.1 738.6 186.3 736.7C187.5 734.8 188.5 732.8 189.8 731.0C191.1 729.3 192.4 727.3 194.1 726.1C195.7 724.9 197.9 724.3 199.8 724.0C201.6 723.6 203.3 723.7 205.4 724.0C207.5 724.3 210.1 725.2 212.5 725.8C214.9 726.4 217.2 727.2 219.6 727.8C222.0 728.4 224.3 729.0 226.7 729.6C229.0 730.2 231.5 731.1 233.8 731.5C236.0 731.9 238.1 732.1 240.1 732.0C242.1 732.0 244.3 731.9 245.8 731.0C247.3 730.2 248.3 728.3 249.3 726.8C250.4 725.3 251.0 723.3 252.2 721.8C253.4 720.4 254.5 719.4 256.4 718.3C258.3 717.2 260.9 716.2 263.5 715.5C266.1 714.8 268.9 714.4 272.0 714.0C275.1 713.6 279.1 713.3 281.9 713.1C284.8 712.8 285.7 712.8 289.3 712.7C292.8 712.5 299.0 712.3 303.3 712.3C307.7 712.3 311.7 712.2 315.4 712.7C319.0 713.2 321.7 714.2 325.4 715.3C329.1 716.4 333.4 718.1 337.4 719.3C341.5 720.5 345.1 721.4 349.5 722.3C353.8 723.2 359.2 724.0 363.5 724.7C367.9 725.4 372.2 725.9 375.6 726.3C379.0 726.7 375.8 726.8 383.8 726.9C391.8 727.0 417.1 726.9 423.8 726.9L423.8 444.0 L24.0 444.0 Z" fill="#78B9FA"/>
<path d="M24.0 680.1C30.7 680.1 56.3 681.0 64.0 680.1C71.7 679.3 67.7 676.8 70.0 675.1C72.4 673.5 75.4 671.6 78.1 670.1C80.7 668.6 83.8 667.6 86.1 666.1C88.4 664.6 90.9 663.1 92.1 661.1C93.3 659.1 92.6 656.4 93.1 654.1C93.6 651.7 94.0 649.0 95.1 647.0C96.3 645.0 98.3 643.2 100.1 642.0C102.0 640.8 103.8 640.2 106.2 640.0C108.5 639.8 111.5 640.0 114.2 641.0C116.9 642.0 119.5 644.0 122.2 646.0C124.9 648.0 127.6 650.7 130.3 653.0C132.9 655.4 135.8 657.9 138.3 660.1C140.8 662.2 143.1 664.1 145.3 666.1C147.5 668.1 149.5 669.9 151.3 672.1C153.2 674.3 154.8 676.6 156.3 679.1C157.9 681.6 159.4 684.3 160.4 687.2C161.4 690.0 161.9 693.4 162.4 696.2C162.9 699.0 162.9 701.6 163.4 704.2C163.9 706.9 164.7 709.2 165.4 712.3C166.0 715.3 166.7 719.3 167.4 722.3C168.1 725.3 168.6 728.0 169.4 730.3C170.2 732.7 171.6 734.8 172.4 736.3C173.2 737.9 173.2 739.1 174.3 739.5C175.3 740.0 177.2 739.7 178.5 738.8C179.8 738.0 181.0 736.1 182.0 734.6C183.1 733.1 183.8 731.2 184.9 729.6C185.9 728.1 187.0 726.7 188.4 725.4C189.8 724.1 191.7 722.8 193.4 721.8C195.0 720.9 196.4 720.1 198.3 719.7C200.2 719.4 202.6 719.4 204.7 719.7C206.8 720.0 208.8 720.9 211.1 721.6C213.3 722.2 215.8 722.9 218.2 723.5C220.5 724.2 222.9 725.1 225.3 725.4C227.6 725.7 230.2 725.7 232.3 725.4C234.5 725.0 236.4 724.4 238.0 723.3C239.7 722.1 241.1 720.2 242.3 718.3C243.4 716.4 244.0 714.2 245.1 711.9C246.2 709.7 247.2 707.1 248.6 704.8C250.1 702.6 251.6 700.3 253.6 698.5C255.6 696.6 258.1 694.7 260.7 693.5C263.3 692.3 266.1 691.6 269.2 691.4C272.2 691.1 275.4 691.6 279.1 692.1C282.8 692.6 287.2 693.2 291.3 694.2C295.3 695.1 299.3 696.5 303.3 697.8C307.3 699.1 311.3 700.6 315.4 701.8C319.4 703.1 323.4 704.0 327.4 705.2C331.4 706.5 335.4 708.0 339.4 709.2C343.5 710.5 347.5 711.6 351.5 712.7C355.5 713.8 359.5 714.9 363.5 715.9C367.5 716.9 372.2 718.0 375.6 718.7C379.0 719.4 375.8 719.7 383.8 719.9C391.8 720.1 417.1 719.9 423.8 719.9L423.8 444.0 L24.0 444.0 Z" fill="#FFE878"/>
<path d="M24.0 599.4C30.7 599.4 56.0 599.9 64.0 599.4C72.0 598.9 69.4 597.4 72.0 596.4C74.7 595.4 77.4 594.4 80.1 593.4C82.7 592.4 84.8 590.7 88.1 590.4C91.4 590.0 96.1 591.0 100.1 591.4C104.2 591.7 108.8 591.4 112.2 592.4C115.5 593.4 118.0 595.2 120.2 597.4C122.4 599.6 124.1 602.7 125.2 605.4C126.4 608.1 127.1 610.9 127.2 613.4C127.4 616.0 126.9 618.3 126.2 620.5C125.6 622.6 123.6 624.5 123.2 626.5C122.9 628.5 123.1 630.5 124.2 632.5C125.4 634.5 128.2 636.7 130.3 638.5C132.3 640.4 134.6 643.3 136.3 643.6C137.9 643.8 139.0 639.8 140.3 640.0C141.6 640.2 142.6 643.0 144.3 645.0C146.0 647.0 148.5 649.7 150.3 652.0C152.2 654.4 153.8 656.7 155.3 659.1C156.8 661.4 158.2 663.6 159.4 666.1C160.5 668.6 161.4 671.4 162.4 674.1C163.4 676.8 164.5 679.5 165.4 682.2C166.2 684.8 167.2 687.5 167.4 690.2C167.6 692.9 166.4 695.5 166.4 698.2C166.4 700.9 166.6 703.7 167.4 706.2C168.2 708.7 170.0 711.4 171.4 713.3C172.8 715.2 173.8 716.5 175.7 717.6C177.6 718.7 180.4 719.5 182.8 719.7C185.1 719.9 187.7 719.5 189.8 719.0C192.0 718.5 193.4 717.4 195.5 716.9C197.6 716.4 200.2 715.8 202.6 715.9C204.9 716.0 207.3 716.8 209.7 717.3C212.0 717.8 214.4 718.4 216.8 718.7C219.1 719.0 221.7 719.3 223.8 719.0C226.0 718.7 228.1 717.9 229.5 716.9C230.9 715.8 231.9 714.4 232.3 712.6C232.8 710.9 232.3 708.3 232.3 706.3C232.3 704.2 232.0 702.5 232.3 700.6C232.7 698.7 233.5 696.7 234.5 694.9C235.4 693.1 236.7 691.5 238.0 690.0C239.3 688.4 240.7 687.2 242.3 685.7C243.8 684.2 244.6 682.1 247.1 681.1C249.6 680.2 253.5 679.9 257.2 679.7C260.8 679.6 265.2 679.7 269.2 680.1C273.2 680.6 277.2 681.6 281.2 682.6C285.3 683.5 289.3 684.8 293.3 685.8C297.3 686.7 301.3 687.6 305.3 688.2C309.3 688.7 313.7 689.2 317.4 689.2C321.0 689.2 324.4 688.9 327.4 688.2C330.4 687.4 332.8 685.9 335.4 684.6C338.1 683.2 340.5 681.7 343.5 680.1C346.5 678.6 350.2 677.1 353.5 675.1C356.8 673.1 360.2 670.3 363.5 668.1C366.9 665.9 370.2 663.9 373.6 662.1C376.9 660.2 375.4 657.9 383.8 657.1C392.2 656.2 417.1 657.1 423.8 657.1L423.8 444.0 L24.0 444.0 Z" fill="#FFC03C"/>
<path d="M389.6 610.4C388.7 605.8 385.8 611.6 383.8 612.4C381.8 613.3 379.5 613.8 377.6 615.5C375.7 617.1 373.1 620.0 372.6 622.5C372.1 625.0 373.4 628.0 374.6 630.5C375.7 633.0 378.1 636.0 379.6 637.5C381.1 639.0 382.1 639.0 383.8 639.5C385.5 640.0 388.7 645.4 389.6 640.5C390.6 635.7 390.6 615.1 389.6 610.4Z" fill="#FFE878"/>
<path d="M20.0 539.8C26.7 539.8 52.7 539.9 60.0 539.8C67.3 539.7 62.0 539.5 64.0 539.2C66.0 538.8 69.4 537.6 72.0 537.8C74.7 537.9 77.4 539.1 80.1 540.2C82.7 541.3 83.8 543.0 88.1 544.2C92.5 545.4 102.5 545.9 106.2 547.2C109.8 548.5 108.5 550.4 110.2 552.2C111.9 554.1 114.2 556.6 116.2 558.2C118.2 559.9 120.7 560.6 122.2 562.3C123.7 563.9 124.2 566.3 125.2 568.3C126.2 570.3 126.9 572.3 128.2 574.3C129.6 576.3 132.3 578.0 133.3 580.3C134.3 582.7 134.3 585.7 134.3 588.4C134.3 591.0 133.1 594.0 133.3 596.4C133.4 598.7 134.1 600.6 135.3 602.4C136.4 604.2 138.6 605.8 140.3 607.4C142.0 609.1 144.1 610.6 145.3 612.4C146.5 614.3 147.3 616.6 147.3 618.5C147.3 620.3 146.5 622.1 145.3 623.5C144.1 624.8 141.8 625.6 140.3 626.5C138.8 627.4 136.4 627.7 136.3 628.9C136.1 630.1 137.6 632.1 139.3 633.5C141.0 635.0 144.1 636.0 146.3 637.5C148.5 639.0 150.5 640.5 152.3 642.5C154.2 644.6 156.0 649.1 157.4 650.0C158.7 650.9 159.4 647.0 160.4 648.0C161.4 649.0 162.4 653.7 163.4 656.1C164.4 658.4 165.3 660.1 166.4 662.1C167.5 664.1 169.2 667.0 170.0 668.1C170.8 669.2 170.7 669.6 171.4 668.6C172.1 667.6 173.5 664.6 174.3 662.2C175.0 659.9 175.5 657.1 176.0 654.4C176.4 651.7 176.7 648.8 176.8 645.9C176.9 643.1 177.0 640.0 176.8 637.4C176.6 634.8 176.2 632.3 175.7 630.3C175.1 628.3 174.4 626.9 173.5 625.4C172.7 623.9 172.3 623.0 170.4 621.5C168.5 620.0 165.2 618.6 162.4 616.5C159.5 614.3 155.8 611.4 153.3 608.4C150.8 605.4 148.8 601.7 147.3 598.4C145.8 595.0 145.0 591.4 144.3 588.4C143.6 585.3 142.8 582.0 143.3 580.3C143.8 578.7 146.0 578.3 147.3 578.3C148.7 578.3 150.5 578.7 151.3 580.3C152.2 582.0 151.3 585.7 152.3 588.4C153.3 591.0 155.3 593.9 157.4 596.4C159.4 598.9 161.9 601.6 164.4 603.4C166.9 605.2 170.8 606.4 172.4 607.4C174.1 608.5 173.1 608.7 174.3 609.8C175.4 610.9 177.6 612.4 179.2 614.0C180.9 615.7 182.6 617.6 184.2 619.7C185.7 621.8 187.2 624.3 188.4 626.8C189.6 629.3 190.9 631.9 191.5 634.6C192.2 637.3 192.4 640.4 192.4 643.1C192.3 645.8 192.0 648.4 191.3 650.9C190.5 653.4 189.0 655.8 187.7 658.0C186.4 660.1 184.9 661.7 183.5 663.6C182.0 665.5 180.4 667.3 179.2 669.3C178.0 671.3 177.1 673.2 176.4 675.7C175.7 678.2 175.2 682.6 175.0 684.2C174.7 685.7 175.4 683.4 175.0 685.0C174.5 686.6 172.8 690.7 172.1 693.5C171.4 696.3 170.6 699.6 170.7 702.0C170.8 704.4 171.8 706.0 172.8 707.7C173.9 709.3 175.3 710.9 177.1 711.9C178.9 713.0 181.3 713.8 183.5 714.0C185.6 714.3 187.6 713.8 189.8 713.3C192.1 712.9 194.6 711.7 196.9 711.2C199.3 710.7 201.6 710.4 204.0 710.5C206.4 710.6 208.7 711.5 211.1 711.9C213.4 712.3 216.3 713.2 218.2 713.1C220.1 712.9 221.4 712.2 222.4 711.2C223.5 710.2 224.3 708.6 224.5 707.0C224.8 705.3 224.0 703.1 223.8 701.3C223.7 699.5 223.2 698.0 223.6 696.3C223.9 694.7 225.5 692.2 226.0 691.4C226.5 690.6 226.0 692.0 226.6 691.4C227.3 690.9 228.6 689.6 229.8 688.3C231.1 686.9 232.7 685.1 234.1 683.5C235.5 681.9 236.9 680.3 238.3 678.7C239.7 677.1 241.2 675.5 242.6 673.9C244.0 672.3 245.6 670.5 246.8 669.1C248.1 667.8 249.1 666.6 250.0 665.9C250.9 665.3 251.1 665.3 252.1 665.4C253.2 665.5 254.8 666.0 256.4 666.5C258.0 666.9 260.8 668.0 261.7 668.1C262.6 668.2 260.3 667.0 261.8 667.1C263.3 667.3 266.9 668.6 270.5 668.9C274.1 669.2 280.9 669.2 283.6 668.9C286.3 668.6 286.0 667.7 286.6 667.1C287.3 666.6 287.4 666.4 287.5 665.4C287.6 664.4 287.2 662.6 287.1 661.0C287.0 659.4 286.9 657.4 287.1 655.8C287.2 654.2 287.4 652.8 288.0 651.4C288.5 650.1 289.5 648.6 290.6 647.5C291.6 646.4 292.7 645.7 294.1 644.9C295.4 644.1 297.1 643.7 298.4 642.7C299.7 641.8 300.9 640.5 301.9 639.2C302.9 637.9 303.6 636.5 304.5 634.9C305.4 633.3 306.2 631.2 307.1 629.6C308.0 628.0 308.5 626.6 310.0 625.3C311.5 623.9 314.5 623.3 316.4 621.5C318.3 619.7 319.5 616.8 321.4 614.4C323.2 612.1 325.1 609.4 327.4 607.4C329.7 605.4 332.4 604.1 335.4 602.4C338.4 600.7 342.1 599.1 345.5 597.4C348.8 595.7 352.2 594.2 355.5 592.4C358.9 590.5 362.2 588.0 365.5 586.3C368.9 584.7 372.5 583.5 375.6 582.3C378.6 581.2 381.1 580.2 383.8 579.3C386.5 578.5 383.7 577.6 391.6 577.3C399.6 577.0 425.0 577.3 431.6 577.3L431.6 444.0 L20.0 444.0 Z" fill="#FFA000"/>
<path d="M58.0 549.8C59.0 546.7 62.0 549.9 64.0 549.8C66.0 549.7 67.9 549.0 70.0 549.2C72.2 549.4 75.6 550.0 77.1 551.2C78.6 552.4 79.1 554.2 79.1 556.2C79.1 558.2 78.4 561.4 77.1 563.3C75.7 565.1 73.2 566.4 71.0 567.3C68.9 568.1 66.2 568.1 64.0 568.3C61.8 568.4 59.0 571.4 58.0 568.3C57.0 565.2 57.0 552.9 58.0 549.8Z" fill="#FFA000"/>
<path d="M79.1 499.0C79.1 497.9 79.9 496.3 81.1 495.6C82.2 494.9 85.0 494.7 86.1 494.8C87.2 495.0 87.9 495.5 87.7 496.4C87.5 497.4 86.2 499.4 85.1 500.4C84.0 501.4 82.1 502.7 81.1 502.4C80.1 502.2 79.1 500.2 79.1 499.0Z" fill="#FFC03C"/>
<path d="M298.3 493.0C295.0 494.3 300.8 496.9 303.3 498.0C305.8 499.1 309.7 499.5 313.4 499.6C317.0 499.8 321.4 499.4 325.4 499.0C329.4 498.7 333.8 498.5 337.4 497.6C341.1 496.7 349.8 494.9 347.5 493.6C345.1 492.3 331.6 490.1 323.4 490.0C315.2 489.9 301.6 491.7 298.3 493.0Z" fill="#FFC03C"/>
<path d="M95.1 492.0C96.3 494.2 99.6 498.7 102.2 501.0C104.7 503.4 107.5 504.6 110.2 506.1C112.9 507.6 116.6 508.5 118.2 510.1C119.8 511.6 119.0 514.4 120.0 515.5C121.0 516.6 122.8 516.1 124.3 516.9C125.7 517.7 127.1 519.3 128.5 520.5C129.9 521.6 131.6 523.3 132.8 524.0C133.9 524.7 134.6 525.3 135.6 524.7C136.5 524.1 137.2 521.5 138.4 520.5C139.6 519.4 141.3 518.5 142.7 518.3C144.1 518.2 145.9 518.8 146.9 519.8C148.0 520.7 148.5 522.5 149.0 524.0C149.6 525.5 149.6 527.9 150.5 529.0C151.3 530.0 152.5 530.3 154.0 530.4C155.5 530.5 158.3 529.6 159.7 529.7C161.1 529.8 162.3 530.4 162.5 531.1C162.7 531.8 162.0 532.7 161.1 533.9C160.1 535.1 158.3 536.9 156.8 538.2C155.4 539.5 154.0 540.5 152.6 541.7C151.2 542.9 149.5 544.2 148.3 545.3C147.2 546.3 146.2 546.9 145.5 548.1C144.8 549.3 144.6 550.9 144.1 552.3C143.6 553.8 143.1 555.4 142.7 556.6C142.2 557.8 141.8 558.2 141.3 559.4C140.7 560.6 139.7 562.1 139.1 563.7C138.5 565.2 137.8 567.1 137.7 568.6C137.6 570.2 137.7 571.7 138.4 572.9C139.1 574.1 140.8 574.9 142.0 575.7C143.1 576.5 143.6 576.6 145.5 577.8C147.4 579.1 151.4 580.9 153.3 583.3C155.3 585.8 155.5 589.5 157.4 592.4C159.2 595.2 162.1 598.0 164.4 600.4C166.6 602.8 169.2 605.3 171.0 606.7C172.8 608.1 173.7 607.7 175.2 608.8C176.8 609.9 178.5 611.4 180.2 613.1C181.9 614.7 183.6 616.6 185.2 618.7C186.7 620.8 188.2 623.3 189.4 625.8C190.6 628.3 191.9 630.7 192.5 633.6C193.2 636.5 193.4 640.2 193.4 643.1C193.3 646.0 193.0 648.4 192.2 650.9C191.5 653.4 190.0 655.8 188.7 658.0C187.4 660.1 185.9 661.7 184.5 663.6C183.0 665.5 181.4 666.9 180.2 669.3C179.0 671.7 178.1 675.0 177.4 678.1C176.7 681.3 175.7 685.8 176.0 688.2C176.3 690.5 178.6 690.3 179.4 692.1C180.1 693.9 179.8 697.3 180.6 699.2C181.4 701.1 182.6 702.2 184.2 703.4C185.7 704.6 187.7 705.7 189.8 706.3C192.0 706.8 194.6 706.5 196.9 706.5C199.3 706.5 201.7 706.4 204.0 706.3C206.3 706.1 208.9 706.2 210.7 705.8C212.5 705.4 214.0 704.6 214.9 703.7C215.9 702.7 216.4 701.3 216.5 699.9C216.7 698.6 216.2 697.1 216.0 695.7C215.8 694.3 215.4 692.7 215.5 691.4C215.6 690.2 215.9 689.1 216.5 688.3C217.2 687.4 218.0 686.9 219.2 686.1C220.3 685.3 222.2 684.4 223.4 683.5C224.7 682.6 225.6 681.7 226.6 680.8C227.7 679.9 228.8 679.1 229.8 678.2C230.9 677.2 231.9 676.0 233.0 675.0C234.1 673.9 235.1 672.8 236.2 671.8C237.3 670.7 238.3 669.7 239.4 668.6C240.4 667.4 241.5 666.1 242.6 664.9C243.6 663.6 244.7 662.3 245.8 661.2C246.8 660.0 247.9 658.8 249.0 658.0C250.0 657.2 250.9 656.6 252.1 656.4C253.4 656.1 254.8 656.3 256.4 656.6C258.0 656.9 259.9 657.5 261.7 658.0C263.5 658.5 265.5 659.1 267.0 659.6C268.5 660.1 269.4 661.2 270.5 661.0C271.6 660.8 272.7 659.6 273.6 658.4C274.4 657.3 275.1 655.7 275.7 654.1C276.4 652.5 276.9 650.6 277.5 648.8C278.1 647.1 278.7 645.2 279.2 643.6C279.8 642.0 280.4 640.7 281.0 639.2C281.6 637.8 282.3 636.5 282.7 634.9C283.2 633.3 283.3 631.5 283.6 629.6C283.9 627.8 284.2 625.6 284.5 623.5C284.8 621.5 285.0 619.5 285.3 617.4C285.6 615.4 285.8 613.4 286.2 611.3C286.6 609.3 287.1 607.1 287.5 605.2C288.0 603.3 288.2 601.4 288.8 600.0C289.5 598.6 290.3 598.4 291.4 597.1C292.6 595.8 294.4 593.8 295.7 592.1C297.0 590.5 298.4 588.9 299.2 587.2C300.0 585.4 300.6 583.4 300.6 581.5C300.6 579.6 300.0 577.7 299.2 575.8C298.4 574.0 297.2 571.8 295.7 570.2C294.1 568.5 291.9 567.2 290.0 565.9C288.1 564.6 286.2 563.3 284.3 562.4C282.5 561.4 280.8 560.7 278.7 560.3C276.6 559.8 273.7 560.1 271.6 559.5C269.5 559.0 267.6 557.8 265.9 556.7C264.3 555.7 262.7 554.6 261.7 553.2C260.6 551.8 259.4 549.7 259.5 548.2C259.7 546.7 261.1 545.2 262.4 544.0C263.7 542.7 265.3 541.5 267.3 540.7C269.3 539.9 272.1 539.1 274.4 539.0C276.8 539.0 279.4 539.7 281.5 540.4C283.6 541.1 285.3 542.7 287.2 543.3C289.1 543.8 291.3 544.4 292.8 544.0C294.4 543.5 296.4 541.4 296.4 540.4C296.4 539.5 294.4 539.2 292.8 538.3C291.3 537.4 289.3 535.9 287.2 534.8C285.1 533.6 282.5 532.3 280.1 531.2C277.7 530.1 275.4 529.0 273.0 528.4C270.6 527.7 268.3 527.7 265.9 527.4C263.6 527.0 261.1 526.6 258.8 526.3C256.6 525.9 253.8 525.1 252.5 525.5C251.2 526.0 251.5 527.4 251.0 529.1C250.6 530.7 250.5 534.2 249.6 535.5C248.8 536.8 247.6 537.4 246.1 536.9C244.6 536.4 242.3 534.2 240.4 532.6C238.5 531.1 236.6 529.2 234.8 527.7C232.9 526.1 231.0 524.8 229.1 523.4C227.2 522.0 225.3 520.3 223.4 519.2C221.5 518.0 219.9 517.2 217.8 516.3C215.6 515.5 212.8 514.9 210.7 514.2C208.5 513.5 206.7 512.9 205.0 512.1C203.3 511.2 202.6 509.8 200.8 509.1C198.9 508.5 196.0 508.5 193.7 508.1C191.3 507.8 189.0 507.5 186.6 507.0C184.2 506.5 181.9 505.8 179.5 505.3C177.1 504.8 174.8 504.5 172.4 504.2C170.1 503.8 167.7 503.3 165.3 503.0C163.0 502.8 160.4 502.6 158.3 502.8C156.1 502.9 154.2 503.3 152.6 504.2C150.9 505.0 149.8 506.5 148.3 507.7C146.9 508.9 145.7 510.4 144.1 511.3C142.4 512.1 140.3 512.6 138.4 512.7C136.5 512.8 134.4 512.7 132.8 512.0C131.1 511.3 129.6 510.0 128.5 508.4C127.4 506.9 127.1 504.5 126.4 502.8C125.7 501.0 125.0 499.4 124.3 497.8C123.5 496.1 124.5 494.1 122.1 492.8C119.8 491.5 114.7 490.8 110.2 490.0C105.7 489.2 97.6 487.7 95.1 488.0C92.6 488.3 94.0 489.8 95.1 492.0Z" fill="#FF6000"/>
<path d="M168.4 638.0C167.9 639.0 167.7 642.5 168.0 644.0C168.3 645.5 169.4 647.2 170.0 647.0C170.6 646.9 171.2 644.5 171.4 643.0C171.6 641.5 171.5 638.8 171.0 638.0C170.5 637.2 168.9 637.0 168.4 638.0Z" fill="#FF6000"/>
<path d="M168.4 652.6C168.0 650.6 168.1 643.1 168.4 640.5C168.7 638.0 169.9 637.2 170.4 637.5C170.9 637.9 171.3 640.0 171.4 642.5C171.5 645.1 171.3 650.9 170.8 652.6C170.3 654.3 168.8 654.6 168.4 652.6Z" fill="#FF6000"/>
<path d="M156.1 513.4C156.7 511.7 158.1 510.4 159.7 509.8C161.2 509.2 163.6 509.6 165.3 509.8C167.1 510.1 168.9 510.3 170.3 511.3C171.7 512.2 172.5 514.3 173.8 515.5C175.1 516.7 176.4 517.7 178.1 518.3C179.7 518.9 181.6 519.2 183.8 519.0C185.9 518.9 188.6 518.0 190.8 517.6C193.1 517.3 195.1 516.8 197.2 516.9C199.3 517.0 201.9 517.5 203.6 518.3C205.2 519.2 206.2 520.5 207.1 521.9C208.1 523.3 208.4 525.3 209.3 526.8C210.1 528.4 210.7 530.1 212.1 531.1C213.5 532.0 215.9 532.3 217.8 532.5C219.7 532.7 221.5 532.4 223.4 532.5C225.3 532.6 227.2 532.6 229.1 533.2C231.0 533.8 233.2 534.9 234.8 536.0C236.3 537.2 237.5 538.6 238.3 540.3C239.1 542.0 239.4 544.2 239.7 546.1C240.1 548.0 240.5 550.0 240.4 551.8C240.3 553.5 238.8 555.3 239.0 556.7C239.2 558.1 240.4 559.4 241.8 560.3C243.3 561.1 245.6 561.3 247.5 561.7C249.4 562.0 251.3 562.5 253.2 562.4C255.1 562.3 257.4 561.1 258.8 561.0C260.3 560.8 260.7 561.0 261.7 561.7C262.6 562.4 263.3 564.3 264.5 565.2C265.7 566.2 267.1 567.3 268.8 567.3C270.4 567.3 272.8 565.6 274.4 565.2C276.1 564.9 277.3 564.9 278.7 565.2C280.1 565.6 281.3 566.4 282.9 567.3C284.6 568.3 286.8 569.5 288.6 570.9C290.4 572.3 292.4 574.1 293.6 575.8C294.7 577.6 295.6 579.6 295.7 581.5C295.8 583.4 295.1 585.4 294.3 587.2C293.4 588.9 291.9 590.5 290.7 592.1C289.5 593.8 288.2 595.3 287.2 597.1C286.1 598.9 284.7 601.4 284.3 602.8C284.0 604.1 285.0 603.8 284.9 605.2C284.8 606.7 284.3 609.3 284.0 611.3C283.7 613.4 283.4 615.4 283.2 617.4C282.9 619.5 282.9 621.7 282.7 623.5C282.5 625.4 282.2 627.0 281.8 628.8C281.5 630.5 281.1 632.4 280.5 634.0C280.0 635.6 279.2 637.1 278.4 638.4C277.6 639.7 276.6 640.7 275.7 641.8C274.9 643.0 274.0 644.3 273.1 645.3C272.3 646.4 271.5 647.2 270.5 648.0C269.5 648.7 268.2 649.3 267.0 649.7C265.9 650.1 264.7 650.3 263.5 650.6C262.4 650.9 261.2 651.1 260.1 651.4C258.9 651.7 257.7 652.2 256.6 652.3C255.4 652.4 254.5 651.8 253.2 652.1C251.9 652.4 250.4 653.6 249.0 654.3C247.5 654.9 246.1 655.2 244.7 655.8C243.3 656.5 241.7 657.2 240.4 658.0C239.2 658.8 238.1 659.7 237.3 660.6C236.4 661.6 236.0 662.8 235.1 663.8C234.2 664.8 233.2 665.6 231.9 666.5C230.7 667.4 229.1 668.2 227.7 669.1C226.3 670.0 224.9 671.1 223.4 671.8C222.0 672.5 220.6 673.0 219.2 673.4C217.8 673.8 216.4 673.9 214.9 674.2C213.5 674.6 211.8 674.8 210.7 675.5C209.5 676.2 208.7 677.1 208.0 678.2C207.3 679.2 206.8 680.6 206.4 681.9C206.0 683.2 205.8 684.7 205.6 686.1C205.4 687.5 205.4 689.0 205.4 690.4C205.3 691.8 205.6 693.3 205.4 694.6C205.1 696.0 204.7 697.5 203.8 698.4C202.9 699.2 201.4 699.8 200.1 699.9C198.7 700.1 197.2 699.8 195.8 699.4C194.4 699.1 193.0 698.4 191.6 697.8C190.1 697.3 188.6 696.8 187.3 696.2C186.1 695.7 184.9 695.4 184.1 694.6C183.3 693.8 183.4 692.5 182.5 691.4C181.6 690.3 179.2 690.2 178.8 688.2C178.4 686.1 179.4 682.0 180.0 679.1C180.6 676.3 181.2 673.6 182.4 671.1C183.7 668.6 186.3 666.3 187.5 664.1C188.6 661.9 188.3 660.3 189.1 658.0C190.0 655.6 191.8 652.9 192.7 650.2C193.5 647.5 194.0 644.5 194.1 641.7C194.2 638.8 194.0 636.0 193.4 633.2C192.8 630.3 191.8 627.4 190.5 624.7C189.2 622.0 187.4 619.2 185.6 616.9C183.8 614.5 181.8 612.4 179.9 610.5C178.0 608.6 176.3 607.6 174.3 605.5C172.2 603.5 169.4 600.6 167.4 598.4C165.4 596.2 163.5 594.4 162.4 592.4C161.2 590.4 160.7 586.2 160.4 586.3C160.0 586.5 160.5 593.2 160.4 593.4C160.3 593.7 159.3 589.3 159.7 587.8C160.0 586.2 161.1 585.0 162.5 584.2C163.9 583.4 166.5 583.4 168.2 582.8C169.8 582.2 171.4 581.5 172.4 580.7C173.5 579.9 174.2 579.0 174.5 577.8C174.9 576.7 174.9 575.0 174.5 573.6C174.2 572.2 173.1 570.8 172.4 569.3C171.7 567.9 170.5 566.5 170.3 565.1C170.1 563.7 170.5 562.0 171.0 560.8C171.5 559.7 172.5 559.2 173.1 558.0C173.7 556.8 174.1 555.3 174.5 553.8C175.0 552.2 175.1 550.0 176.0 548.8C176.8 547.6 178.2 547.3 179.5 546.7C180.8 546.1 182.9 546.2 183.8 545.3C184.6 544.3 184.5 542.7 184.5 541.0C184.5 539.4 184.0 537.1 183.8 535.3C183.5 533.6 183.8 531.4 183.0 530.4C182.3 529.3 180.9 528.8 179.5 529.0C178.1 529.1 176.1 530.9 174.5 531.1C173.0 531.3 171.4 531.2 170.3 530.4C169.2 529.6 169.2 527.2 168.2 526.1C167.1 525.1 165.5 524.5 163.9 524.0C162.4 523.5 160.3 524.0 159.0 523.3C157.7 522.6 156.6 521.4 156.1 519.8C155.7 518.1 155.5 515.0 156.1 513.4Z" fill="#FF3200"/>
<path d="M154.0 549.5C154.4 548.1 155.7 546.1 156.8 544.5C158.0 543.0 159.7 541.6 161.1 540.3C162.5 539.0 164.0 537.2 165.3 536.8C166.6 536.3 168.3 536.4 168.9 537.5C169.5 538.5 169.2 541.1 168.9 543.1C168.5 545.1 167.8 547.7 166.8 549.5C165.7 551.3 164.0 552.8 162.5 553.8C161.0 554.7 158.8 555.3 157.5 555.2C156.2 555.1 155.3 554.0 154.7 553.0C154.1 552.1 153.6 550.9 154.0 549.5Z" fill="#FF3200"/>
<path d="M188.7 576.4C188.9 574.8 189.8 573.2 190.8 572.2C191.9 571.1 193.7 570.2 195.1 570.1C196.5 569.9 198.2 570.6 199.3 571.5C200.5 572.3 201.0 574.1 202.2 575.0C203.4 576.0 204.8 576.9 206.4 577.1C208.1 577.4 210.2 576.8 212.1 576.4C214.0 576.1 216.1 575.6 217.8 575.0C219.4 574.4 220.6 573.8 222.0 572.9C223.4 571.9 224.6 570.3 226.3 569.3C227.9 568.4 230.0 567.6 231.9 567.2C233.8 566.9 235.7 566.5 237.6 567.2C239.5 567.9 241.6 570.3 243.3 571.6C244.9 572.9 246.3 574.1 247.5 575.1C248.7 576.2 249.5 578.1 250.3 578.0C251.2 577.8 251.8 574.8 252.5 574.4C253.2 574.1 253.9 574.7 254.6 575.8C255.3 577.0 255.8 579.9 256.7 581.5C257.7 583.2 259.4 584.1 260.3 585.8C261.1 587.4 261.1 589.9 261.7 591.4C262.3 593.0 262.6 594.6 263.8 595.0C265.0 595.3 267.0 594.3 268.8 593.6C270.5 592.8 272.9 591.4 274.4 590.7C276.0 590.0 277.0 588.9 278.0 589.3C278.9 589.7 279.6 591.1 280.1 592.8C280.6 594.6 280.8 597.6 280.8 599.9C280.8 602.3 280.0 606.1 280.1 607.0C280.2 607.9 281.1 604.5 281.4 605.2C281.7 606.0 281.7 609.3 281.7 611.3C281.7 613.4 281.5 615.5 281.4 617.4C281.3 619.3 281.3 620.9 281.0 622.7C280.7 624.4 280.1 626.3 279.7 627.9C279.2 629.5 278.9 630.8 278.4 632.3C277.8 633.7 276.9 635.3 276.2 636.6C275.5 637.9 274.9 639.1 274.0 640.1C273.1 641.1 271.8 641.8 270.5 642.7C269.2 643.6 267.6 644.5 266.2 645.3C264.7 646.1 263.2 646.9 261.8 647.5C260.3 648.2 258.9 648.7 257.4 649.3C256.0 649.8 254.4 650.5 253.1 651.0C251.8 651.5 250.8 651.8 249.6 652.3C248.4 652.8 247.3 653.5 246.1 654.1C244.9 654.6 243.3 656.1 242.6 655.8C242.0 655.5 243.3 652.8 242.3 652.3C241.3 651.8 238.2 652.9 236.6 653.0C234.9 653.1 233.3 652.3 232.3 653.0C231.4 653.7 231.9 656.1 230.9 657.3C230.0 658.4 228.3 659.4 226.7 660.1C225.0 660.8 222.7 661.5 221.0 661.5C219.4 661.5 217.2 661.0 216.8 660.1C216.3 659.1 217.7 657.4 218.2 655.8C218.6 654.3 220.1 652.2 219.6 650.9C219.1 649.6 217.0 648.4 215.3 648.0C213.7 647.7 211.4 648.3 209.7 648.8C207.9 649.2 206.2 650.8 204.7 650.9C203.2 651.0 201.5 650.5 200.5 649.5C199.4 648.4 198.6 646.3 198.3 644.5C198.1 642.7 198.8 640.7 199.0 638.8C199.3 637.0 199.9 635.1 199.8 633.2C199.6 631.3 198.9 629.4 198.3 627.5C197.7 625.6 197.2 623.7 196.2 621.8C195.3 619.9 194.0 617.9 192.7 616.2C191.4 614.4 189.8 612.9 188.4 611.2C187.0 609.6 185.5 607.9 184.2 606.3C182.9 604.6 181.9 602.5 180.6 601.3C179.3 600.1 178.1 599.9 176.4 599.2C174.6 598.5 172.3 596.9 170.0 597.0C167.7 597.2 163.5 600.2 162.5 599.9C161.5 599.7 163.0 596.5 163.9 595.6C164.9 594.6 166.5 594.1 168.2 594.1C169.8 594.1 172.0 595.4 173.8 595.6C175.7 595.7 177.6 595.3 179.5 594.8C181.4 594.4 183.5 593.7 185.2 592.7C186.8 591.8 188.7 590.9 189.4 589.2C190.2 587.4 189.8 584.2 189.7 582.1C189.6 580.0 188.5 578.1 188.7 576.4Z" fill="#E01400"/>
<path d="M187.3 530.4C187.3 529.3 188.4 528.1 189.4 527.5C190.5 527.0 192.5 526.8 193.7 527.1C194.9 527.5 196.0 528.7 196.5 529.7C197.0 530.7 197.0 532.3 196.5 533.2C196.0 534.1 194.9 534.9 193.7 535.1C192.5 535.2 190.5 535.0 189.4 534.2C188.4 533.4 187.3 531.5 187.3 530.4Z" fill="#E01400"/>
<path d="M214.9 550.9C215.4 549.5 216.3 547.7 217.8 546.7C219.2 545.6 221.5 544.8 223.4 544.5C225.3 544.3 227.4 544.5 229.1 545.3C230.7 546.0 232.5 547.4 233.3 548.8C234.2 550.2 234.3 552.1 234.1 553.8C233.8 555.4 233.0 557.5 231.9 558.7C230.9 559.9 229.3 560.5 227.7 560.8C226.0 561.2 223.7 561.2 222.0 560.8C220.4 560.5 218.9 559.7 217.8 558.7C216.6 557.8 215.7 556.5 215.2 555.2C214.7 553.9 214.5 552.3 214.9 550.9Z" fill="#E01400"/>
<path d="M191.3 593.5C191.6 591.4 193.9 590.1 195.5 589.3C197.2 588.4 199.5 588.1 201.2 588.5C202.8 589.0 204.6 590.3 205.4 592.1C206.2 593.9 206.4 597.0 206.1 599.2C205.9 601.3 205.3 603.7 204.0 604.8C202.7 606.0 200.1 606.7 198.3 606.3C196.6 605.8 194.6 604.1 193.4 602.0C192.2 599.9 190.9 595.6 191.3 593.5Z" fill="#FF3200"/>
<path d="M182.5 678.5C182.8 676.3 183.2 674.9 184.2 673.6C185.2 672.3 187.0 671.0 188.4 670.7C189.8 670.5 191.5 671.1 192.7 672.1C193.8 673.2 194.7 675.1 195.2 677.1C195.7 679.1 195.9 681.9 195.8 684.2C195.6 686.4 195.1 688.8 194.4 690.6C193.6 692.3 192.8 694.2 191.3 694.9C189.7 695.7 186.3 696.3 184.9 694.9C183.4 693.6 182.9 689.8 182.5 687.0C182.1 684.3 182.2 680.8 182.5 678.5Z" fill="#E01400"/>
<path d="M216.8 595.6C215.7 596.0 213.8 597.2 212.5 598.5C211.2 599.8 210.0 601.6 209.0 603.4C207.9 605.2 207.0 607.2 206.1 609.1C205.3 611.0 204.2 612.9 204.0 614.8C203.8 616.6 204.1 618.6 204.7 620.4C205.3 622.2 206.2 624.0 207.5 625.4C208.8 626.8 211.0 627.9 212.5 628.9C214.0 630.0 215.7 630.6 216.8 631.8C217.8 632.9 218.1 634.6 218.9 636.0C219.7 637.4 220.4 639.0 221.7 640.3C223.0 641.6 224.9 642.7 226.7 643.8C228.4 644.9 230.2 646.0 232.3 646.6C234.5 647.2 237.1 647.3 239.4 647.3C241.8 647.3 244.4 647.0 246.5 646.6C248.6 646.3 250.6 645.9 252.2 645.2C253.7 644.5 254.9 643.6 255.7 642.4C256.5 641.2 256.7 639.5 257.1 638.1C257.6 636.7 257.7 635.3 258.6 633.9C259.4 632.5 260.6 630.8 262.1 629.6C263.6 628.4 266.0 627.7 267.8 626.8C269.5 625.9 271.5 625.3 272.7 624.0C273.9 622.7 274.6 620.7 274.8 619.0C275.1 617.4 274.8 615.3 274.1 614.0C273.4 612.7 271.9 611.8 270.6 611.2C269.3 610.6 267.8 610.4 266.3 610.5C264.9 610.6 263.0 612.3 262.1 611.9C261.1 611.6 260.7 609.8 260.7 608.4C260.7 607.0 262.1 605.0 262.1 603.4C262.1 601.9 261.6 600.5 260.7 599.2C259.7 597.9 258.0 596.6 256.4 595.6C254.9 594.7 253.1 593.7 251.5 593.5C249.8 593.3 248.0 593.6 246.5 594.2C245.0 594.8 243.9 596.2 242.3 597.0C240.6 597.9 238.7 598.7 236.6 599.2C234.5 599.6 231.8 600.0 229.5 599.9C227.3 599.8 224.9 599.1 223.1 598.5C221.4 597.9 219.9 596.8 218.9 596.3C217.8 595.9 217.8 595.3 216.8 595.6Z" fill="#C83C3C"/>
<path d="M220.6 638.0C218.2 638.3 219.6 639.3 220.6 640.0C221.6 640.7 225.0 641.5 226.6 642.0C228.2 642.5 228.7 642.8 230.0 643.0C231.4 643.2 233.9 643.8 234.6 643.0C235.4 642.2 237.0 638.8 234.6 638.0C232.3 637.2 222.9 637.7 220.6 638.0Z" fill="#C83C3C"/>
<path d="M230.2 633.2C230.3 631.8 231.4 630.1 232.3 628.9C233.3 627.7 235.2 627.0 235.9 626.1C236.6 625.1 235.8 624.0 236.6 623.3C237.4 622.5 239.4 621.8 240.8 621.8C242.3 621.8 244.0 622.4 245.1 623.3C246.2 624.1 246.3 625.9 247.2 626.8C248.2 627.7 249.9 627.9 250.8 628.9C251.6 630.0 251.8 631.6 252.2 633.2C252.5 634.7 253.1 636.7 252.9 638.1C252.6 639.5 251.9 640.8 250.8 641.7C249.6 642.5 247.5 643.1 245.8 643.1C244.1 643.1 242.1 642.3 240.8 641.7C239.5 641.1 239.1 639.9 238.0 639.5C236.9 639.2 235.5 639.9 234.5 639.5C233.4 639.2 232.3 638.5 231.6 637.4C230.9 636.4 230.1 634.6 230.2 633.2Z" fill="#C00000"/>
<path d="M358.5 490.0C357.8 492.3 355.2 500.4 354.5 504.1C353.8 507.7 354.2 509.6 354.5 512.1C354.8 514.6 355.0 517.3 356.5 519.1C358.0 520.9 360.7 521.9 363.5 523.1C366.4 524.3 370.2 525.3 373.6 526.1C376.9 527.0 380.1 527.6 383.8 528.1C387.5 528.6 393.7 535.5 395.7 529.1C397.6 522.8 395.7 496.5 395.7 490.0Z" fill="#FF6000"/>
<path d="M364.5 490.0C364.7 492.0 364.9 498.9 365.5 502.0C366.2 505.2 367.2 506.7 368.6 509.1C369.9 511.4 371.7 514.1 373.6 516.1C375.4 518.1 377.9 519.9 379.6 521.1C381.3 522.3 381.1 522.6 383.8 523.1C386.5 523.6 393.7 529.6 395.7 524.1C397.6 518.6 395.7 495.7 395.7 490.0Z" fill="#FF3200"/>
<path d="M378.0 490.0C377.9 492.0 378.0 499.0 377.6 502.0C377.2 505.1 375.4 505.9 375.6 508.1C375.7 510.2 377.2 513.4 378.6 515.1C380.0 516.8 381.0 517.4 383.8 518.1C386.7 518.8 393.7 523.8 395.7 519.1C397.6 514.4 395.7 494.9 395.7 490.0Z" fill="#E01400"/>
<path d="M164.4 611.4C164.9 610.8 167.9 610.1 169.4 610.4C170.9 610.8 173.2 612.5 173.4 613.4C173.6 614.4 171.6 615.9 170.4 616.1C169.2 616.2 167.4 615.2 166.4 614.4C165.4 613.7 163.9 612.1 164.4 611.4Z" fill="#FFE878"/>
<path d="M148.2 519.4 L149.6 521.4 L151.7 517.8 L154.2 515.4 L154.5 511.5 L157.0 509.5 L159.1 508.7 L162.3 508.7 L166.2 506.3 L168.0 504.3 L169.4 505.5 L167.3 507.5 L169.0 509.9 L168.3 512.2 L166.6 514.6 L168.7 517.4 L170.5 515.0 L169.4 511.9 L170.8 509.9 L173.3 508.3 L174.0 505.1 L174.7 507.9 L178.2 508.3 L180.4 510.7 L181.4 511.9 L187.5 511.5 L191.3 513.4 L194.2 512.2 L198.8 511.1 L202.7 511.1 L199.5 512.2 L201.3 514.2 L203.7 514.6 L206.6 516.6 L206.2 519.4 L210.1 520.6 L214.7 526.1 L219.3 530.1 L223.9 530.1 L230.6 530.5 L234.5 532.1 L238.4 535.3 L240.9 537.6 L242.3 544.8 L245.2 548.7 L243.4 552.7 L240.6 555.1 L242.7 557.5 L246.6 554.3 L250.5 554.7 L249.8 559.1 L252.2 556.3 L256.8 557.5 L261.4 559.5 L263.9 562.2 L265.0 564.6 L268.2 563.0 L273.8 565.0 L278.4 564.6 L283.7 567.4 L285.5 568.2 L289.8 572.1 L292.6 573.7 L296.5 574.1 L297.5 579.3 L298.6 582.1 L298.3 586.4 L296.8 591.2 L292.9 595.2 L290.5 598.3 L288.7 601.9 L285.9 604.7 L283.7 607.1 L283.7 613.0 L284.1 619.0 L283.0 623.7 L281.3 626.9 L280.9 631.3 L279.1 634.8 L277.0 638.8 L276.7 640.8 L273.5 644.0 L268.9 644.7 L263.9 645.9 L261.1 647.9 L257.5 648.7 L252.2 652.7 L250.1 656.3 L249.8 660.6 L249.8 665.8 L246.6 668.5 L243.7 673.7 L240.6 678.5 L237.4 681.2 L232.8 687.2 L231.3 690.0 L227.5 692.0 L222.9 692.0 L217.2 690.0 L215.1 688.0 L215.1 690.4 L219.0 693.1 L219.0 697.1 L221.1 698.7 L217.9 704.3 L212.9 707.0 L205.9 708.2 L201.6 707.4 L201.3 712.2 L199.5 716.2 L191.7 716.2 L191.3 720.1 L196.3 720.9 L194.2 723.3 L191.7 724.1 L190.6 730.0 L189.2 732.0 L183.6 734.4 L182.8 737.6 L186.0 740.0 L188.9 743.1 L182.8 747.9 L177.9 753.0 L177.2 755.8 L179.7 761.0 L175.8 761.4 L171.2 763.0 L170.5 766.9 L165.9 764.9 L161.6 761.8 L158.1 760.6 L156.3 755.8 L155.2 751.9 L154.5 746.7 L154.5 741.9 L154.2 738.8 L158.1 736.0 L160.5 732.0 L160.9 728.1 L163.4 724.1 L164.1 720.1 L160.9 718.1 L161.6 712.2 L162.7 709.4 L161.3 702.7 L163.0 700.3 L164.8 694.3 L168.0 686.4 L168.7 680.4 L168.3 674.5 L169.4 668.5 L170.5 662.6 L171.9 656.6 L172.6 648.7 L173.3 640.8 L173.6 632.8 L172.9 626.5 L169.4 622.9 L165.1 619.8 L159.8 617.0 L155.6 614.2 L152.1 609.0 L151.7 605.9 L148.9 601.5 L146.7 597.1 L144.6 592.4 L142.5 586.4 L140.0 582.1 L136.5 577.3 L134.4 574.1 L134.0 571.0 L136.8 567.4 L138.6 565.4 L137.5 563.4 L135.4 562.2 L136.1 557.5 L137.2 554.7 L138.6 551.5 L142.1 548.7 L142.8 546.8 L144.3 543.6 L147.4 542.8 L148.5 538.4 L147.4 535.7 L147.8 531.7 L147.8 527.7 L146.0 524.9Z M146.0 524.9 L144.6 521.4 L142.5 518.2 L140.4 517.8 L137.5 520.6 L138.6 523.8 L135.4 524.9 L132.6 522.6 L128.3 521.0 L125.9 519.8 L125.5 517.8 L122.0 515.0 L120.5 515.4 L118.1 511.9 L118.4 509.5 L115.2 505.9 L112.4 502.3 L111.3 501.1 L108.5 501.1 L103.9 499.6 L101.1 498.4 L98.2 498.0 L95.4 496.0 L92.6 492.0 M148.2 519.4 L146.0 517.0 L142.8 515.8 L140.0 515.4 L135.8 518.2 L132.9 517.8 L130.5 516.6 L128.0 513.8 L125.9 510.3 L125.5 505.9 L126.2 501.9 L126.9 498.0 L127.3 493.2 M179.7 761.8 L180.0 763.4 L181.1 766.1 L184.6 768.5 L191.0 770.1 L189.9 771.7 L184.6 772.5 L179.3 773.3 L174.0 772.5 L168.7 769.7 L166.9 767.7 L170.8 768.1 L173.3 765.7 L175.8 764.9 L174.0 763.0 L176.8 762.6 L179.7 761.8Z M204.8 758.6 L207.3 757.0 L208.7 758.6 L210.8 757.0 L212.6 758.2 L214.7 757.0 L217.2 758.2 L215.4 759.4 L213.3 759.0 L212.2 760.6 L210.1 759.4 L208.0 760.6 L206.2 759.8 L204.8 758.6Z M287.3 767.7 L291.5 768.5 L294.7 770.5 L292.6 769.7 L287.3 767.7Z M160.2 719.3 L162.0 721.3 L161.3 725.7 L158.8 724.9 L159.5 721.3 L160.2 719.3Z M202.7 513.4 L205.9 513.4 L206.2 510.7 L203.4 511.1 L202.7 513.4Z M169.4 506.7 L165.1 509.9 L163.4 517.0 L165.5 524.1 L173.6 525.7 L176.1 529.3 L182.8 528.9 L181.8 532.5 L181.8 538.0 L183.6 540.0 L183.2 544.8 L185.0 548.7 M185.0 548.7 L180.4 546.4 L174.7 546.8 L174.7 549.1 L176.8 549.9 L174.0 551.1 L174.0 554.3 L176.1 557.5 L174.4 570.2 M174.4 570.2 L171.5 568.6 L173.6 564.2 L163.7 563.0 L159.8 557.5 L155.2 553.9 M155.2 553.9 L151.7 551.9 L147.4 550.7 L142.8 548.0 M155.2 553.9 L154.2 559.5 L150.6 563.8 L144.6 567.0 L143.2 571.8 L140.4 573.3 L137.5 571.0 L137.5 567.0 M174.4 570.2 L163.7 574.1 L162.7 579.3 L159.8 582.9 L163.4 589.2 L166.2 593.2 L171.9 591.2 L171.9 597.1 L175.4 597.1 M175.4 597.1 L178.6 603.1 L177.5 611.0 L176.1 615.4 L177.5 617.8 L175.8 622.9 L172.6 626.1 M175.8 622.9 L179.3 630.9 L180.4 638.8 L183.9 644.0 M175.4 597.1 L181.1 596.0 L186.0 592.8 L190.6 592.4 L190.3 599.9 L193.8 603.1 L199.5 605.1 L205.9 607.1 L208.3 613.0 L208.7 618.2 L215.1 618.2 L215.4 622.1 L218.2 625.7 L217.2 628.9 L215.8 632.1 L215.8 633.6 M215.8 633.6 L212.6 630.1 L203.4 631.3 L200.2 641.6 M200.2 641.6 L194.2 644.0 L191.0 641.2 L187.1 640.0 L183.9 644.0 M183.9 644.0 L183.6 648.7 L179.3 651.9 L180.0 658.6 L174.7 666.6 L174.0 674.5 L172.2 680.4 L174.7 688.4 L172.2 696.3 L170.1 704.3 L168.0 712.2 L167.6 720.1 L168.3 728.1 L168.0 736.0 L165.9 743.9 L162.7 751.9 L165.9 755.8 L166.9 759.8 L179.7 761.0 M179.0 762.6 L179.0 771.3 M215.8 633.6 L216.8 641.2 L224.6 642.0 L225.7 648.3 L229.6 649.1 L228.5 655.1 M200.2 641.6 L205.9 647.9 L213.6 651.9 L217.9 654.7 L214.4 661.4 L222.9 661.8 L228.5 655.1 M228.5 655.1 L231.3 659.4 L231.0 661.4 L224.3 666.2 L217.9 673.3 M217.9 673.3 L223.6 675.7 L228.5 678.5 L232.8 682.8 L232.8 687.2 M217.9 673.3 L215.8 680.4 L215.1 688.0 M185.0 548.7 L189.9 550.3 L197.4 544.8 L195.2 543.6 L194.9 538.0 L199.5 537.6 L205.9 535.7 L206.9 532.9 M206.9 532.9 L204.4 530.1 L205.5 526.9 L208.3 525.3 L210.1 520.6 M206.9 532.9 L209.8 535.7 L210.8 538.0 L209.8 544.4 L212.9 548.3 L216.5 547.6 L221.8 546.0 M219.3 530.1 L219.0 533.7 L216.5 537.6 L219.0 540.4 L221.8 546.0 M221.8 546.0 L223.9 545.6 L228.5 544.4 M230.6 530.5 L229.2 533.7 L229.9 539.6 L228.5 544.4 M228.5 544.4 L234.2 544.8 L235.9 543.2 L238.8 537.6 M128.3 521.0 L129.0 515.8 M118.4 509.5 L122.0 509.9 L125.5 510.3 M112.4 502.3 L114.9 500.7 L118.1 498.8 L121.3 494.8 L126.9 494.0 M111.0 500.3 L108.5 498.4 L105.7 496.4 L102.8 498.8 M105.7 496.4 L106.0 494.0 L109.2 491.6 M160.5 582.5 L174.0 589.2 L185.3 592.4 M185.3 592.4 L199.1 585.2 L203.7 588.4 L209.4 597.5 L209.8 607.1 L208.3 607.9 M213.3 582.5 L203.7 588.4 M213.3 582.5 L216.1 582.5 L223.2 561.4 L213.3 548.7 M208.7 532.9 L209.4 545.6 L213.3 548.7 M203.7 549.5 L199.1 557.5 L209.4 555.5 L213.3 548.7 M216.1 582.5 L217.2 589.2 L223.6 591.2 L244.1 592.4 M244.1 592.4 L242.3 604.3 L238.8 613.0 L233.8 622.9 L231.7 624.9 L217.9 624.1 M244.1 592.4 L247.6 585.2 L251.2 574.5 L254.0 573.3 L259.0 558.3 M244.1 592.4 L250.1 595.2 L259.0 594.4 L259.0 604.7 L242.3 604.3 M254.0 573.3 L257.9 583.3 L259.7 594.4 M259.7 594.4 L267.8 590.4 L276.0 588.0 L278.1 582.9 L275.6 573.3 L275.6 565.0 M278.1 582.9 L285.2 584.1 L289.8 572.1 M285.2 584.1 L290.1 582.5 L297.9 579.3 M290.1 582.5 L293.3 584.4 L298.3 583.3 M276.0 588.0 L282.7 587.6 L287.3 590.0 L292.9 589.2 L297.5 588.8 M287.3 590.0 L289.8 592.8 L292.9 595.2 M287.3 591.2 L287.3 599.1 L289.8 599.1 M259.0 604.7 L265.3 610.2 L273.1 612.6 L280.2 616.2 L283.0 624.5 M259.0 604.7 L259.0 613.0 L254.4 615.4 L254.4 624.9 L241.6 630.9 L233.8 622.9 M241.6 630.9 L241.3 634.0 L254.4 632.8 L257.9 643.6 L265.0 643.2 L273.1 636.8 L276.7 637.6 M276.7 637.6 L273.8 634.0 L276.7 626.9 L279.5 624.9 M241.3 634.0 L233.8 642.8 L229.9 648.7 M233.8 642.8 L246.2 644.7 L247.3 651.5 L251.2 653.5 M232.1 657.4 L239.8 657.4 L249.8 656.6 M231.3 661.4 L239.5 662.6 L245.9 669.7 M265.0 643.2 L263.6 645.5 M158.8 730.2 L157.9 726.9 L156.5 730.2 L157.3 729.6Z M157.3 730.0 L155.1 730.0 L155.0 731.5 L157.0 731.8Z M161.0 730.7 L160.1 728.9 L159.3 729.3 L158.1 731.2 L158.7 728.7 L159.5 730.2Z M159.9 732.5 L159.4 731.3 L160.6 730.5 L158.3 729.5Z M161.1 727.2 L161.2 728.5 L159.6 725.7 L160.6 727.5Z M160.9 726.5 L159.5 727.6 L157.9 727.5 L160.2 726.3Z M157.3 731.0 L157.3 732.3 L157.8 733.9 L157.0 731.8 L157.5 731.1 L157.8 734.1Z M159.7 731.6 L157.9 731.3 L159.7 728.9 L156.9 732.0 L157.2 731.8Z M158.7 730.7 L160.5 731.6 L158.6 729.5 L161.8 730.3Z M159.1 737.3 L157.5 738.4 L158.4 738.6 L156.2 738.0 L156.6 737.5 L156.2 738.8Z M154.7 736.1 L155.9 734.4 L158.2 734.5 L156.3 736.5Z M159.7 738.2 L160.7 737.5 L162.6 737.9 L159.5 734.8 L161.4 738.0Z M156.9 736.0 L154.6 737.3 L154.2 735.7 L155.7 735.6 L154.9 737.8 L156.7 734.8Z M161.1 738.9 L159.9 736.8 L161.8 736.5 L159.8 738.9 L160.3 738.3 L161.1 736.8Z M160.4 738.2 L160.3 736.5 L163.0 735.7 L161.4 736.4Z M156.7 736.9 L155.5 739.1 L156.7 738.5 L156.8 736.0 L155.2 738.2Z M157.5 739.9 L159.2 739.7 L159.7 739.9 L159.2 738.6Z M159.7 735.9 L160.8 736.3 L160.5 734.8 L158.0 737.0 L158.3 737.1 L159.4 737.0Z M157.4 740.1 L157.0 740.7 L157.1 739.2 L154.4 742.1 L155.9 739.3Z M157.5 743.4 L159.7 743.1 L158.1 743.2 L159.0 742.2Z M156.5 742.6 L158.1 742.9 L159.8 742.7 L157.6 739.1 L158.7 742.2Z M159.8 739.4 L159.5 738.5 L157.1 740.0 L159.8 738.9 L156.6 741.7 L157.8 741.9Z M157.0 741.8 L156.3 739.8 L154.0 738.9 L157.2 741.6Z M158.9 746.6 L157.4 745.2 L157.0 746.5 L156.9 744.4 L155.7 745.1 L157.4 747.2Z M157.2 739.8 L157.7 740.0 L157.1 742.4 L160.3 742.8Z M161.3 743.9 L158.7 741.3 L160.4 742.2 L158.5 744.7 L160.8 743.2 L158.4 741.2Z M158.2 743.2 L159.8 745.3 L160.1 743.0 L159.0 746.1Z M155.9 751.1 L158.5 749.4 L157.0 751.0 L156.6 749.2Z M158.3 744.6 L160.4 746.8 L160.1 743.8 L158.6 744.3Z M160.2 747.8 L157.3 748.1 L157.2 745.5 L159.3 748.4 L160.3 745.1Z M155.4 751.9 L156.3 750.6 L155.6 748.2 L156.0 749.3 L153.8 751.3Z M157.2 747.4 L154.4 745.7 L154.6 748.1 L153.4 748.0 L155.3 747.5Z M159.6 749.7 L158.7 748.7 L157.6 747.8 L156.7 746.5 L159.7 749.6Z M161.1 750.5 L159.4 750.0 L158.9 749.2 L161.1 750.5 L160.0 749.7Z M162.2 746.5 L162.2 747.4 L162.4 747.0 L161.6 748.8 L159.1 749.2 L160.4 749.3Z M159.0 751.1 L158.0 750.2 L157.2 748.4 L160.4 751.7 L159.0 749.1 L158.8 748.8Z M159.1 753.8 L158.2 756.1 L158.1 755.0 L159.2 755.2Z M157.6 755.6 L157.4 757.9 L156.9 756.5 L158.8 758.0 L155.9 756.4Z M160.2 755.6 L157.6 757.4 L158.2 756.6 L156.7 755.8Z M161.3 759.4 L163.9 758.7 L162.4 757.3 L163.5 758.6Z M157.5 753.5 L159.7 751.4 L157.6 751.2 L157.6 752.6 L156.5 752.8Z M158.9 752.1 L157.3 754.2 L157.7 751.7 L158.4 754.3Z M156.1 754.8 L158.4 756.8 L159.7 755.7 L157.1 754.4Z M158.9 756.1 L159.5 758.8 L157.6 755.9 L158.9 757.2 L157.9 756.2 L159.2 756.0Z M156.6 754.1 L159.3 756.0 L158.0 755.8 L157.6 755.4 L156.1 756.3Z M162.9 759.2 L164.1 758.8 L163.2 759.5 L161.8 758.3Z M161.6 757.1 L159.8 758.4 L160.2 758.6 L159.5 759.8Z M163.7 758.9 L165.0 761.6 L165.2 760.5 L164.2 760.3 L162.9 758.8 L165.4 761.5Z M162.8 760.3 L164.5 756.9 L162.9 758.8 L162.6 757.5 L161.7 760.0 L164.6 760.2Z M161.9 759.5 L161.6 762.1 L163.8 762.4 L164.4 758.7 L164.1 760.5Z M162.9 760.6 L162.4 762.0 L163.2 762.9 L162.1 761.1 L164.6 760.4Z M160.5 763.2 L163.0 764.6 L161.2 761.3 L162.9 764.5Z M158.4 759.6 L159.9 758.3 L159.0 757.8 L161.1 759.0 L159.1 757.1Z M161.9 758.3 L161.3 759.4 L163.3 758.3 L162.8 758.2Z M162.5 759.6 L162.3 763.2 L161.9 761.9 L165.2 759.9Z M167.8 763.5 L169.1 764.2 L168.2 763.2 L170.3 762.2 L168.7 765.7Z M160.9 762.1 L160.2 762.1 L159.9 761.9 L159.1 762.3Z M163.4 761.9 L162.1 763.9 L165.1 762.5 L162.1 765.4 L162.2 761.8Z M164.9 763.0 L167.2 764.1 L166.4 761.6 L167.1 763.1 L166.3 761.9Z M167.4 766.3 L168.8 766.0 L170.1 765.5 L170.2 768.6Z M163.3 762.1 L162.4 763.9 L161.3 763.7 L163.1 764.8 L160.8 762.2Z M161.5 766.4 L161.0 766.6 L159.6 764.5 L160.1 765.3 L163.2 763.2 L160.0 766.5Z M168.5 764.6 L165.7 763.9 L166.4 765.0 L166.7 764.3 L166.0 766.2 L166.2 766.6Z M171.0 770.5 L172.1 768.9 L170.4 769.7 L170.1 771.5 L173.4 770.6Z M167.1 767.8 L170.4 766.3 L170.2 767.1 L170.0 766.8Z M170.6 765.0 L169.5 767.7 L169.4 767.6 L172.0 767.7Z M172.9 768.1 L173.7 769.2 L171.4 767.6 L173.2 767.9 L174.4 766.9Z M168.8 766.8 L167.2 767.2 L169.8 767.2 L168.3 767.0 L167.7 765.0Z M170.8 768.5 L171.0 771.6 L169.7 771.9 L171.5 770.8 L172.3 771.7 L169.5 771.7Z M171.4 769.8 L169.9 769.9 L169.2 770.3 L170.0 767.5 L171.6 767.3Z M169.9 768.4 L171.2 770.5 L171.4 768.1 L172.1 768.3 L172.0 768.3Z M167.2 768.7 L168.4 768.8 L166.8 769.3 L169.2 766.7 L166.5 768.1 L169.3 770.2Z M175.3 769.6 L174.5 771.4 L172.9 771.1 L173.4 770.6 L172.7 772.6 L175.8 770.8Z M176.2 769.6 L173.3 769.7 L174.5 768.0 L175.0 768.6Z M171.1 768.0 L168.3 768.0 L169.6 766.3 L168.6 766.6 L172.0 767.1Z M173.4 768.2 L175.4 768.7 L175.1 770.5 L175.5 769.0 L173.3 770.1Z M177.5 769.0 L176.4 771.6 L177.6 771.4 L175.7 771.9 L176.2 768.9Z M176.3 771.6 L178.3 772.3 L179.3 771.5 L178.1 770.2 L176.3 769.8Z M174.1 770.1 L173.2 770.3 L172.9 770.7 L175.0 767.8 L173.7 769.6Z M177.9 767.8 L177.4 769.9 L175.6 768.3 L176.1 769.3 L174.6 768.8 L176.8 770.6Z M172.2 771.1 L173.1 769.7 L171.6 769.5 L172.6 771.5 L174.4 771.1 L171.4 771.6Z M183.6 769.3 L180.7 769.9 L183.9 770.8 L182.7 770.8 L182.5 771.2Z M174.5 773.9 L173.1 771.8 L172.9 772.7 L176.5 774.3Z M178.3 771.1 L178.7 773.2 L179.1 769.5 L179.5 771.6 L178.8 772.0 L178.4 769.9Z M177.4 771.8 L176.9 770.9 L180.0 770.7 L177.4 774.2Z M183.1 772.3 L182.9 769.9 L179.6 771.4 L180.0 769.9 L182.6 772.6 L179.9 769.8Z M178.9 770.7 L178.0 770.5 L179.2 771.3 L178.6 770.4 L178.7 771.4Z M180.6 772.4 L181.3 774.1 L179.2 774.3 L181.5 774.1Z M183.8 773.4 L183.8 773.0 L181.4 773.6 L182.5 772.7Z M185.2 775.2 L182.3 775.2 L181.6 772.3 L184.6 773.1 L184.7 773.1 L182.6 775.2Z M183.3 774.4 L183.3 771.8 L182.2 772.4 L185.5 772.4 L184.3 773.6Z M184.4 770.6 L184.1 770.9 L184.8 772.8 L186.1 773.3Z M182.6 773.4 L181.7 775.0 L181.9 773.6 L184.7 772.5Z M189.0 773.5 L186.1 771.9 L187.2 774.2 L187.8 774.3 L188.4 771.9 L188.4 772.2Z M181.3 771.4 L181.0 774.1 L182.0 771.4 L182.9 773.4 L184.4 774.0 L182.7 772.8Z M187.0 772.2 L188.1 772.5 L186.9 773.0 L186.5 771.6 L185.7 773.4Z M183.0 772.8 L185.0 770.6 L182.9 773.4 L183.3 772.7 L184.3 773.3 L183.6 773.2Z M185.9 774.6 L189.4 773.0 L188.4 774.4 L186.3 773.6 L186.0 775.3 L187.0 776.0Z M187.3 772.8 L183.6 773.0 L186.3 774.0 L184.4 770.6 L186.2 771.7 L186.0 770.7Z M97.5 554.7 L99.3 555.9 L100.0 557.5 L98.2 557.1 L97.5 554.7 M101.4 555.5 L102.5 556.3 M104.6 556.7 L105.7 557.1 M323.7 776.8 L324.5 777.4 M326.5 780.0 L327.4 780.6 M327.6 782.8 L328.4 783.4 M327.9 785.2 L328.8 785.8 M327.2 787.6 L328.1 788.2 M324.7 789.1 L325.6 789.7 M362.7 493.2 L360.6 495.2 L362.7 499.6 L362.7 504.3 L366.9 508.7 L370.1 511.9 L374.0 515.4 L375.1 519.8 L376.8 523.4 L379.7 525.7 M362.7 499.6 L368.7 499.6 L372.9 500.3 M362.7 504.3 L368.7 503.5 L373.3 503.5 L373.3 507.1 L368.7 509.9 M374.7 517.4 L377.6 514.2 L382.2 513.8 L384.3 517.8 L385.3 521.0 L381.4 526.1" fill="none" stroke="#9c9c9c" stroke-width="0.75" stroke-linejoin="round"/>
<path d="M60.0 539.8C60.7 539.7 62.0 539.5 64.0 539.2C66.0 538.8 69.4 537.6 72.0 537.8C74.7 537.9 77.4 539.1 80.1 540.2C82.7 541.3 83.8 543.0 88.1 544.2C92.5 545.4 102.5 545.9 106.2 547.2C109.8 548.5 108.5 550.4 110.2 552.2C111.9 554.1 114.2 556.6 116.2 558.2C118.2 559.9 120.7 560.6 122.2 562.3C123.7 563.9 124.2 566.3 125.2 568.3C126.2 570.3 126.9 572.3 128.2 574.3C129.6 576.3 132.3 578.0 133.3 580.3C134.3 582.7 134.3 585.7 134.3 588.4C134.3 591.0 133.1 594.0 133.3 596.4C133.4 598.7 134.1 600.6 135.3 602.4C136.4 604.2 138.6 605.8 140.3 607.4C142.0 609.1 144.1 610.6 145.3 612.4C146.5 614.3 147.3 616.6 147.3 618.5C147.3 620.3 146.5 622.1 145.3 623.5C144.1 624.8 141.8 625.6 140.3 626.5C138.8 627.4 136.4 627.7 136.3 628.9C136.1 630.1 137.6 632.1 139.3 633.5C141.0 635.0 144.1 636.0 146.3 637.5C148.5 639.0 150.5 640.5 152.3 642.5C154.2 644.6 156.0 649.1 157.4 650.0C158.7 650.9 159.4 647.0 160.4 648.0C161.4 649.0 162.4 653.7 163.4 656.1C164.4 658.4 165.3 660.1 166.4 662.1C167.5 664.1 169.2 667.0 170.0 668.1C170.8 669.2 170.7 669.6 171.4 668.6C172.1 667.6 173.5 664.6 174.3 662.2C175.0 659.9 175.5 657.1 176.0 654.4C176.4 651.7 176.7 648.8 176.8 645.9C176.9 643.1 177.0 640.0 176.8 637.4C176.6 634.8 176.2 632.3 175.7 630.3C175.1 628.3 174.4 626.9 173.5 625.4C172.7 623.9 172.3 623.0 170.4 621.5C168.5 620.0 165.2 618.6 162.4 616.5C159.5 614.3 155.8 611.4 153.3 608.4C150.8 605.4 148.8 601.7 147.3 598.4C145.8 595.0 145.0 591.4 144.3 588.4C143.6 585.3 142.8 582.0 143.3 580.3C143.8 578.7 146.0 578.3 147.3 578.3C148.7 578.3 150.5 578.7 151.3 580.3C152.2 582.0 151.3 585.7 152.3 588.4C153.3 591.0 155.3 593.9 157.4 596.4C159.4 598.9 161.9 601.6 164.4 603.4C166.9 605.2 170.8 606.4 172.4 607.4C174.1 608.5 173.1 608.7 174.3 609.8C175.4 610.9 177.6 612.4 179.2 614.0C180.9 615.7 182.6 617.6 184.2 619.7C185.7 621.8 187.2 624.3 188.4 626.8C189.6 629.3 190.9 631.9 191.5 634.6C192.2 637.3 192.4 640.4 192.4 643.1C192.3 645.8 192.0 648.4 191.3 650.9C190.5 653.4 189.0 655.8 187.7 658.0C186.4 660.1 184.9 661.7 183.5 663.6C182.0 665.5 180.4 667.3 179.2 669.3C178.0 671.3 177.1 673.2 176.4 675.7C175.7 678.2 175.2 682.6 175.0 684.2C174.7 685.7 175.4 683.4 175.0 685.0C174.5 686.6 172.8 690.7 172.1 693.5C171.4 696.3 170.6 699.6 170.7 702.0C170.8 704.4 171.8 706.0 172.8 707.7C173.9 709.3 175.3 710.9 177.1 711.9C178.9 713.0 181.3 713.8 183.5 714.0C185.6 714.3 187.6 713.8 189.8 713.3C192.1 712.9 194.6 711.7 196.9 711.2C199.3 710.7 201.6 710.4 204.0 710.5C206.4 710.6 208.7 711.5 211.1 711.9C213.4 712.3 216.3 713.2 218.2 713.1C220.1 712.9 221.4 712.2 222.4 711.2C223.5 710.2 224.3 708.6 224.5 707.0C224.8 705.3 224.0 703.1 223.8 701.3C223.7 699.5 223.2 698.0 223.6 696.3C223.9 694.7 225.5 692.2 226.0 691.4C226.5 690.6 226.0 692.0 226.6 691.4C227.3 690.9 228.6 689.6 229.8 688.3C231.1 686.9 232.7 685.1 234.1 683.5C235.5 681.9 236.9 680.3 238.3 678.7C239.7 677.1 241.2 675.5 242.6 673.9C244.0 672.3 245.6 670.5 246.8 669.1C248.1 667.8 249.1 666.6 250.0 665.9C250.9 665.3 251.1 665.3 252.1 665.4C253.2 665.5 254.8 666.0 256.4 666.5C258.0 666.9 260.8 668.0 261.7 668.1C262.6 668.2 260.3 667.0 261.8 667.1C263.3 667.3 266.9 668.6 270.5 668.9C274.1 669.2 280.9 669.2 283.6 668.9C286.3 668.6 286.0 667.7 286.6 667.1C287.3 666.6 287.4 666.4 287.5 665.4C287.6 664.4 287.2 662.6 287.1 661.0C287.0 659.4 286.9 657.4 287.1 655.8C287.2 654.2 287.4 652.8 288.0 651.4C288.5 650.1 289.5 648.6 290.6 647.5C291.6 646.4 292.7 645.7 294.1 644.9C295.4 644.1 297.1 643.7 298.4 642.7C299.7 641.8 300.9 640.5 301.9 639.2C302.9 637.9 303.6 636.5 304.5 634.9C305.4 633.3 306.2 631.2 307.1 629.6C308.0 628.0 308.5 626.6 310.0 625.3C311.5 623.9 314.5 623.3 316.4 621.5C318.3 619.7 319.5 616.8 321.4 614.4C323.2 612.1 325.1 609.4 327.4 607.4C329.7 605.4 332.4 604.1 335.4 602.4C338.4 600.7 342.1 599.1 345.5 597.4C348.8 595.7 352.2 594.2 355.5 592.4C358.9 590.5 362.2 588.0 365.5 586.3C368.9 584.7 372.5 583.5 375.6 582.3C378.6 581.2 381.1 580.2 383.8 579.3C386.5 578.5 390.3 577.6 391.6 577.3" fill="none" stroke="#000" stroke-width="0.8"/>
<path d="M58.0 549.8C59.0 546.7 62.0 549.9 64.0 549.8C66.0 549.7 67.9 549.0 70.0 549.2C72.2 549.4 75.6 550.0 77.1 551.2C78.6 552.4 79.1 554.2 79.1 556.2C79.1 558.2 78.4 561.4 77.1 563.3C75.7 565.1 73.2 566.4 71.0 567.3C68.9 568.1 66.2 568.1 64.0 568.3C61.8 568.4 59.0 571.4 58.0 568.3C57.0 565.2 57.0 552.9 58.0 549.8Z" fill="none" stroke="#000" stroke-width="0.8"/>
<path d="M79.1 499.0C79.1 497.9 79.9 496.3 81.1 495.6C82.2 494.9 85.0 494.7 86.1 494.8C87.2 495.0 87.9 495.5 87.7 496.4C87.5 497.4 86.2 499.4 85.1 500.4C84.0 501.4 82.1 502.7 81.1 502.4C80.1 502.2 79.1 500.2 79.1 499.0Z" fill="none" stroke="#000" stroke-width="0.8"/>
<path d="M298.3 493.0C299.1 493.8 300.8 496.9 303.3 498.0C305.8 499.1 309.7 499.5 313.4 499.6C317.0 499.8 321.4 499.4 325.4 499.0C329.4 498.7 333.8 498.5 337.4 497.6C341.1 496.7 345.8 494.3 347.5 493.6" fill="none" stroke="#000" stroke-width="0.8"/>
<path d="M64.0 694.2C65.7 693.8 70.4 692.5 74.1 691.8C77.7 691.1 82.1 690.2 86.1 689.8C90.1 689.3 94.1 689.0 98.1 689.2C102.2 689.3 106.2 689.7 110.2 690.6C114.2 691.4 118.5 693.0 122.2 694.2C125.9 695.4 129.6 697.3 132.3 697.6C134.9 697.9 136.9 697.4 138.3 696.2C139.6 695.0 139.5 692.0 140.3 690.2C141.1 688.3 142.0 686.0 143.3 685.2C144.6 684.3 146.6 684.3 148.3 685.2C150.0 686.0 152.0 688.0 153.3 690.2C154.7 692.4 155.3 695.2 156.3 698.2C157.4 701.2 158.4 704.9 159.4 708.2C160.4 711.6 161.7 715.3 162.4 718.3C163.0 721.3 163.4 723.8 163.4 726.3C163.4 728.8 162.0 731.0 162.4 733.3C162.7 735.7 163.4 738.1 165.4 740.4C167.4 742.6 172.1 745.7 174.3 746.6C176.4 747.6 177.1 746.6 178.5 745.9C179.9 745.2 181.5 743.9 182.8 742.4C184.1 740.8 185.1 738.6 186.3 736.7C187.5 734.8 188.5 732.8 189.8 731.0C191.1 729.3 192.4 727.3 194.1 726.1C195.7 724.9 197.9 724.3 199.8 724.0C201.6 723.6 203.3 723.7 205.4 724.0C207.5 724.3 210.1 725.2 212.5 725.8C214.9 726.4 217.2 727.2 219.6 727.8C222.0 728.4 224.3 729.0 226.7 729.6C229.0 730.2 231.5 731.1 233.8 731.5C236.0 731.9 238.1 732.1 240.1 732.0C242.1 732.0 244.3 731.9 245.8 731.0C247.3 730.2 248.3 728.3 249.3 726.8C250.4 725.3 251.0 723.3 252.2 721.8C253.4 720.4 254.5 719.4 256.4 718.3C258.3 717.2 260.9 716.2 263.5 715.5C266.1 714.8 268.9 714.4 272.0 714.0C275.1 713.6 279.1 713.3 281.9 713.1C284.8 712.8 285.7 712.8 289.3 712.7C292.8 712.5 299.0 712.3 303.3 712.3C307.7 712.3 311.7 712.2 315.4 712.7C319.0 713.2 321.7 714.2 325.4 715.3C329.1 716.4 333.4 718.1 337.4 719.3C341.5 720.5 345.1 721.4 349.5 722.3C353.8 723.2 359.2 724.0 363.5 724.7C367.9 725.4 372.2 725.9 375.6 726.3C379.0 726.7 382.4 726.8 383.8 726.9" fill="none" stroke="#000" stroke-width="0.8"/>
<path d="M74.1 795.6C75.7 794.7 80.7 792.0 84.1 790.5C87.4 789.1 90.4 788.3 94.1 786.9C97.8 785.6 102.2 783.9 106.2 782.5C110.2 781.1 114.5 779.7 118.2 778.5C121.9 777.3 125.2 776.2 128.2 775.5C131.3 774.8 133.3 774.6 136.3 774.5C139.3 774.4 142.6 774.7 146.3 774.9C150.0 775.1 154.7 775.5 158.4 775.7C162.0 775.9 165.3 776.1 168.4 776.1C171.5 776.1 174.2 775.7 177.1 775.7C179.9 775.6 182.8 776.0 185.6 775.7C188.4 775.4 191.3 774.5 194.1 774.0C196.9 773.5 199.8 772.8 202.6 772.6C205.4 772.3 208.5 772.5 211.1 772.6C213.7 772.7 215.6 773.0 218.2 773.1C220.8 773.3 223.8 773.5 226.7 773.6C229.5 773.6 232.3 773.7 235.2 773.6C238.0 773.4 240.8 773.0 243.7 772.6C246.5 772.1 249.3 771.5 252.2 770.7C255.0 769.9 257.8 768.9 260.7 767.9C263.5 766.9 266.3 765.7 269.2 764.6C272.0 763.6 275.3 762.5 277.7 761.5C280.0 760.5 280.3 759.4 283.2 758.4C286.2 757.4 291.3 756.3 295.3 755.4C299.3 754.6 303.3 753.9 307.3 753.4C311.3 752.9 315.4 752.5 319.4 752.4C323.4 752.3 327.7 752.3 331.4 752.8C335.1 753.3 338.1 754.3 341.5 755.4C344.8 756.5 348.5 757.8 351.5 759.4C354.5 761.1 357.2 763.4 359.5 765.5C361.9 767.5 363.2 769.6 365.5 771.5C367.9 773.3 370.5 775.5 373.6 776.5C376.6 777.5 382.1 777.3 383.8 777.5" fill="none" stroke="#000" stroke-width="0.8"/>
<rect x="91.1" y="541.8" width="12.0" height="8.8" fill="#fff"/>
<text x="97.1" y="549.5" font-size="9" text-anchor="middle" style="fill:#3c3c3c">18</text>
<rect x="141.3" y="578.5" width="12.0" height="8.8" fill="#fff"/>
<text x="147.3" y="586.2" font-size="9" text-anchor="middle" style="fill:#3c3c3c">18</text>
<rect x="271.1" y="664.9" width="12.0" height="8.8" fill="#fff"/>
<text x="277.1" y="672.6" font-size="9" text-anchor="middle" style="fill:#3c3c3c">18</text>
<rect x="140.9" y="679.4" width="5.7" height="8.8" fill="#fff"/>
<text x="143.7" y="687.1" font-size="9" text-anchor="middle" style="fill:#3c3c3c">9</text>
<rect x="237.3" y="728.1" width="5.7" height="8.8" fill="#fff"/>
<text x="240.1" y="735.8" font-size="9" text-anchor="middle" style="fill:#3c3c3c">9</text>
<rect x="237.2" y="727.9" width="5.7" height="8.8" fill="#fff"/>
<text x="240.1" y="735.6" font-size="9" text-anchor="middle" style="fill:#3c3c3c">9</text>
<rect x="223.8" y="769.6" width="5.7" height="8.8" fill="#fff"/>
<text x="226.7" y="777.3" font-size="9" text-anchor="middle" style="fill:#3c3c3c">0</text>
<rect x="224.2" y="769.7" width="5.7" height="8.8" fill="#fff"/>
<text x="227.0" y="777.4" font-size="9" text-anchor="middle" style="fill:#3c3c3c">0</text>
<rect x="225.4" y="769.7" width="5.7" height="8.8" fill="#fff"/>
<text x="228.2" y="777.4" font-size="9" text-anchor="middle" style="fill:#3c3c3c">0</text>
</g>
<rect x="63.4" y="494.0" width="320.4" height="297.5" fill="none" stroke="#000" stroke-width="1.6"/>
<line x1="59.4" y1="494.0" x2="63.4" y2="494.0" stroke="#000" stroke-width="1.3"/>
<text transform="translate(58.2,497.6) scale(0.95,1)" font-size="9.4" font-weight="bold" stroke="#000" stroke-width="0.3" text-anchor="end">15N</text>
<line x1="59.4" y1="513.8" x2="63.4" y2="513.8" stroke="#000" stroke-width="1.3"/>
<text transform="translate(58.2,517.4) scale(0.95,1)" font-size="9.4" font-weight="bold" stroke="#000" stroke-width="0.3" text-anchor="end">10N</text>
<line x1="59.4" y1="533.7" x2="63.4" y2="533.7" stroke="#000" stroke-width="1.3"/>
<text transform="translate(58.2,537.3) scale(0.95,1)" font-size="9.4" font-weight="bold" stroke="#000" stroke-width="0.3" text-anchor="end">5N</text>
<line x1="59.4" y1="553.5" x2="63.4" y2="553.5" stroke="#000" stroke-width="1.3"/>
<text transform="translate(58.2,557.1) scale(0.95,1)" font-size="9.4" font-weight="bold" stroke="#000" stroke-width="0.3" text-anchor="end">EQ</text>
<line x1="59.4" y1="573.3" x2="63.4" y2="573.3" stroke="#000" stroke-width="1.3"/>
<text transform="translate(58.2,576.9) scale(0.95,1)" font-size="9.4" font-weight="bold" stroke="#000" stroke-width="0.3" text-anchor="end">5S</text>
<line x1="59.4" y1="593.2" x2="63.4" y2="593.2" stroke="#000" stroke-width="1.3"/>
<text transform="translate(58.2,596.8) scale(0.95,1)" font-size="9.4" font-weight="bold" stroke="#000" stroke-width="0.3" text-anchor="end">10S</text>
<line x1="59.4" y1="613.0" x2="63.4" y2="613.0" stroke="#000" stroke-width="1.3"/>
<text transform="translate(58.2,616.6) scale(0.95,1)" font-size="9.4" font-weight="bold" stroke="#000" stroke-width="0.3" text-anchor="end">15S</text>
<line x1="59.4" y1="632.8" x2="63.4" y2="632.8" stroke="#000" stroke-width="1.3"/>
<text transform="translate(58.2,636.4) scale(0.95,1)" font-size="9.4" font-weight="bold" stroke="#000" stroke-width="0.3" text-anchor="end">20S</text>
<line x1="59.4" y1="652.7" x2="63.4" y2="652.7" stroke="#000" stroke-width="1.3"/>
<text transform="translate(58.2,656.3) scale(0.95,1)" font-size="9.4" font-weight="bold" stroke="#000" stroke-width="0.3" text-anchor="end">25S</text>
<line x1="59.4" y1="672.5" x2="63.4" y2="672.5" stroke="#000" stroke-width="1.3"/>
<text transform="translate(58.2,676.1) scale(0.95,1)" font-size="9.4" font-weight="bold" stroke="#000" stroke-width="0.3" text-anchor="end">30S</text>
<line x1="59.4" y1="692.3" x2="63.4" y2="692.3" stroke="#000" stroke-width="1.3"/>
<text transform="translate(58.2,695.9) scale(0.95,1)" font-size="9.4" font-weight="bold" stroke="#000" stroke-width="0.3" text-anchor="end">35S</text>
<line x1="59.4" y1="712.2" x2="63.4" y2="712.2" stroke="#000" stroke-width="1.3"/>
<text transform="translate(58.2,715.8) scale(0.95,1)" font-size="9.4" font-weight="bold" stroke="#000" stroke-width="0.3" text-anchor="end">40S</text>
<line x1="59.4" y1="732.0" x2="63.4" y2="732.0" stroke="#000" stroke-width="1.3"/>
<text transform="translate(58.2,735.6) scale(0.95,1)" font-size="9.4" font-weight="bold" stroke="#000" stroke-width="0.3" text-anchor="end">45S</text>
<line x1="59.4" y1="751.8" x2="63.4" y2="751.8" stroke="#000" stroke-width="1.3"/>
<text transform="translate(58.2,755.4) scale(0.95,1)" font-size="9.4" font-weight="bold" stroke="#000" stroke-width="0.3" text-anchor="end">50S</text>
<line x1="59.4" y1="771.7" x2="63.4" y2="771.7" stroke="#000" stroke-width="1.3"/>
<text transform="translate(58.2,775.3) scale(0.95,1)" font-size="9.4" font-weight="bold" stroke="#000" stroke-width="0.3" text-anchor="end">55S</text>
<line x1="59.4" y1="791.5" x2="63.4" y2="791.5" stroke="#000" stroke-width="1.3"/>
<text transform="translate(58.2,795.1) scale(0.95,1)" font-size="9.4" font-weight="bold" stroke="#000" stroke-width="0.3" text-anchor="end">60S</text>
<line x1="67.8" y1="791.5" x2="67.8" y2="794.5" stroke="#000" stroke-width="1.3"/>
<text transform="translate(68.3,802.8) scale(0.81,1)" font-size="10.2" font-weight="bold" stroke="#000" stroke-width="0.35" text-anchor="middle">100W</text>
<line x1="103.2" y1="791.5" x2="103.2" y2="794.5" stroke="#000" stroke-width="1.3"/>
<text transform="translate(103.7,802.8) scale(0.81,1)" font-size="10.2" font-weight="bold" stroke="#000" stroke-width="0.35" text-anchor="middle">90W</text>
<line x1="138.6" y1="791.5" x2="138.6" y2="794.5" stroke="#000" stroke-width="1.3"/>
<text transform="translate(139.1,802.8) scale(0.81,1)" font-size="10.2" font-weight="bold" stroke="#000" stroke-width="0.35" text-anchor="middle">80W</text>
<line x1="174.0" y1="791.5" x2="174.0" y2="794.5" stroke="#000" stroke-width="1.3"/>
<text transform="translate(174.5,802.8) scale(0.81,1)" font-size="10.2" font-weight="bold" stroke="#000" stroke-width="0.35" text-anchor="middle">70W</text>
<line x1="209.4" y1="791.5" x2="209.4" y2="794.5" stroke="#000" stroke-width="1.3"/>
<text transform="translate(209.9,802.8) scale(0.81,1)" font-size="10.2" font-weight="bold" stroke="#000" stroke-width="0.35" text-anchor="middle">60W</text>
<line x1="244.8" y1="791.5" x2="244.8" y2="794.5" stroke="#000" stroke-width="1.3"/>
<text transform="translate(245.3,802.8) scale(0.81,1)" font-size="10.2" font-weight="bold" stroke="#000" stroke-width="0.35" text-anchor="middle">50W</text>
<line x1="280.2" y1="791.5" x2="280.2" y2="794.5" stroke="#000" stroke-width="1.3"/>
<text transform="translate(280.7,802.8) scale(0.81,1)" font-size="10.2" font-weight="bold" stroke="#000" stroke-width="0.35" text-anchor="middle">40W</text>
<line x1="315.6" y1="791.5" x2="315.6" y2="794.5" stroke="#000" stroke-width="1.3"/>
<text transform="translate(316.1,802.8) scale(0.81,1)" font-size="10.2" font-weight="bold" stroke="#000" stroke-width="0.35" text-anchor="middle">30W</text>
<line x1="351.0" y1="791.5" x2="351.0" y2="794.5" stroke="#000" stroke-width="1.3"/>
<text transform="translate(351.5,802.8) scale(0.81,1)" font-size="10.2" font-weight="bold" stroke="#000" stroke-width="0.35" text-anchor="middle">20W</text>
<text x="107.5" y="484.9" font-size="17" textLength="68.5" lengthAdjust="spacingAndGlyphs">cluster:</text>
<text x="194.4" y="484.9" font-size="17" text-anchor="middle">3</text>
<text x="223.9" y="484.9" font-size="17" textLength="90.8" lengthAdjust="spacingAndGlyphs">membros:</text>
<text x="333.0" y="484.9" font-size="17" text-anchor="middle">3</text>
<clipPath id="cp3"><rect x="522.1" y="494.0" width="320.4" height="297.5"/></clipPath>
<g clip-path="url(#cp3)">
<rect x="522.1" y="494.0" width="320.4" height="297.5" fill="#1C4DCF"/>
<path d="M664.8 794.1C653.0 793.7 663.2 792.4 664.8 791.5C666.5 790.7 671.0 790.1 674.8 789.1C678.5 788.2 683.3 786.9 687.5 785.9C691.8 784.8 696.0 783.8 700.3 782.8C704.5 781.7 708.8 780.6 713.0 779.6C717.3 778.7 721.7 777.6 725.8 777.1C729.8 776.6 734.0 776.3 737.1 776.4C740.2 776.5 742.6 777.0 744.2 777.8C745.7 778.6 746.3 780.0 746.3 781.3C746.3 782.6 745.2 784.3 744.2 785.6C743.1 786.9 741.3 787.7 739.9 789.1C738.5 790.6 748.2 793.3 735.7 794.1C723.2 794.9 676.6 794.5 664.8 794.1Z" fill="#4632C8"/>
<path d="M496.1 795.6C502.7 795.6 527.7 796.4 536.1 795.6C544.4 794.7 542.8 792.0 546.1 790.5C549.4 789.0 552.5 788.0 556.1 786.5C559.8 785.0 564.2 783.0 568.2 781.5C572.2 780.0 576.2 778.6 580.2 777.5C584.2 776.4 588.3 775.5 592.3 774.9C596.3 774.3 600.0 774.1 604.3 774.1C608.7 774.0 614.7 774.4 618.4 774.5C622.0 774.6 623.6 774.8 626.4 774.9C629.2 775.0 632.2 774.9 635.1 775.0C637.9 775.1 640.8 775.5 643.6 775.4C646.4 775.3 649.3 774.6 652.1 774.3C654.9 774.0 657.8 773.6 660.6 773.6C663.4 773.6 666.3 773.9 669.1 774.3C671.9 774.6 674.3 775.3 677.6 775.7C680.9 776.0 685.4 776.4 688.9 776.4C692.5 776.4 695.8 776.1 698.8 775.7C701.9 775.2 704.5 774.4 707.3 773.6C710.2 772.7 713.0 771.8 715.8 770.7C718.7 769.7 721.5 768.4 724.3 767.2C727.2 766.0 729.7 765.0 732.8 763.6C736.0 762.2 739.5 760.3 743.3 758.8C747.0 757.4 751.3 755.9 755.3 754.8C759.3 753.7 763.3 753.0 767.3 752.4C771.4 751.8 775.4 751.6 779.4 751.4C783.4 751.2 787.7 751.0 791.4 751.4C795.1 751.8 798.1 752.8 801.5 754.0C804.8 755.2 808.5 756.9 811.5 758.8C814.5 760.7 816.9 763.3 819.5 765.5C822.2 767.6 824.9 769.8 827.6 771.5C830.2 773.1 833.1 774.5 835.6 775.5C838.1 776.5 834.6 777.2 842.4 777.5C850.2 777.8 875.7 777.5 882.4 777.5L882.4 444.0 L496.1 444.0 Z" fill="#1464D2"/>
<path d="M482.4 736.3C489.1 736.3 513.8 736.1 522.4 736.3C531.0 736.6 530.1 737.5 534.1 738.0C538.0 738.5 542.1 738.9 546.1 739.4C550.1 739.8 554.1 740.3 558.1 740.8C562.2 741.3 566.2 741.9 570.2 742.4C574.2 742.8 578.2 743.1 582.2 743.4C586.2 743.6 590.3 743.8 594.3 744.0C598.3 744.1 602.6 744.1 606.3 744.4C610.0 744.6 613.7 744.5 616.4 745.4C619.0 746.2 620.4 747.8 622.4 749.4C624.3 751.0 626.1 753.9 628.0 755.1C629.9 756.3 631.9 755.8 633.7 756.6C635.4 757.3 637.2 758.4 638.6 759.4C640.0 760.3 641.0 762.8 642.2 762.2C643.3 761.6 644.3 758.3 645.7 755.8C647.1 753.4 649.0 749.8 650.7 747.3C652.3 744.9 653.9 742.6 655.6 741.0C657.4 739.4 659.2 738.3 661.3 737.7C663.4 737.1 666.0 737.1 668.4 737.4C670.7 737.7 673.1 738.6 675.5 739.5C677.8 740.5 680.4 741.7 682.5 743.1C684.7 744.5 686.7 746.2 688.2 748.0C689.8 749.9 690.8 752.3 691.8 754.4C692.7 756.6 692.9 759.0 693.9 760.8C694.8 762.6 695.7 764.1 697.4 765.1C699.2 766.0 701.9 766.6 704.5 766.5C707.1 766.3 710.2 765.3 713.0 764.3C715.8 763.4 718.7 762.1 721.5 760.8C724.3 759.5 727.4 758.1 730.0 756.6C732.6 755.0 734.0 753.1 737.2 751.4C740.4 749.7 745.3 747.8 749.3 746.4C753.3 744.9 757.3 743.7 761.3 742.8C765.3 741.8 769.3 741.2 773.4 740.8C777.4 740.4 781.4 740.1 785.4 740.4C789.4 740.6 793.4 741.4 797.4 742.4C801.5 743.3 805.8 744.6 809.5 746.0C813.2 747.4 816.2 749.1 819.5 750.8C822.9 752.5 826.6 754.7 829.6 756.4C832.6 758.1 835.5 759.8 837.6 760.8C839.7 761.9 834.9 762.5 842.4 762.8C849.9 763.2 875.7 762.8 882.4 762.8L882.4 444.0 L482.4 444.0 Z" fill="#1E6EEB"/>
<path d="M514.0 752.4C515.4 746.7 519.4 752.3 522.4 752.4C525.4 752.5 528.4 752.5 532.1 752.8C535.7 753.1 540.1 753.6 544.1 754.4C548.1 755.2 552.6 756.3 556.1 757.4C559.6 758.6 563.2 759.8 565.2 761.4C567.2 763.1 568.3 765.5 568.2 767.5C568.0 769.5 566.5 771.6 564.2 773.5C561.8 775.3 557.8 777.1 554.1 778.5C550.5 779.9 546.1 781.0 542.1 782.1C538.1 783.2 533.3 784.2 530.0 784.9C526.8 785.7 525.1 786.2 522.4 786.5C519.7 786.9 515.4 792.6 514.0 786.9C512.6 781.2 512.6 758.2 514.0 752.4Z" fill="#1E6EEB"/>
<path d="M482.4 709.2C489.1 709.2 514.1 709.6 522.4 709.2C530.7 708.9 528.4 707.9 532.1 707.2C535.7 706.6 540.1 705.7 544.1 705.2C548.1 704.7 551.8 704.2 556.1 704.2C560.5 704.2 565.5 704.7 570.2 705.2C574.9 705.7 579.6 706.6 584.2 707.2C588.9 707.9 594.3 708.4 598.3 709.2C602.3 710.1 605.5 710.9 608.3 712.3C611.2 713.6 613.7 715.3 615.4 717.3C617.0 719.3 617.7 721.6 618.4 724.3C619.0 727.0 618.5 730.5 619.4 733.3C620.2 736.2 622.0 739.4 623.4 741.4C624.7 743.4 625.7 744.0 627.4 745.4C629.1 746.7 631.8 749.0 633.7 749.5C635.5 749.9 637.1 748.9 638.6 748.0C640.2 747.2 641.6 745.9 642.9 744.5C644.2 743.1 645.2 741.3 646.4 739.5C647.6 737.8 648.7 735.4 650.0 733.9C651.3 732.3 652.6 731.2 654.2 730.3C655.9 729.5 657.8 729.0 659.9 728.9C662.0 728.9 664.6 729.5 667.0 730.1C669.3 730.6 671.7 731.3 674.0 732.0C676.4 732.8 678.8 733.6 681.1 734.6C683.5 735.5 685.9 736.6 688.2 737.7C690.6 738.8 692.9 740.3 695.3 741.4C697.7 742.5 700.0 743.7 702.4 744.5C704.7 745.3 707.2 746.2 709.5 746.2C711.7 746.2 714.0 745.5 715.8 744.5C717.7 743.5 719.3 741.8 720.8 740.3C722.3 738.7 723.5 736.7 725.1 735.3C726.6 733.9 728.0 732.7 730.0 731.8C732.0 730.8 735.2 729.9 737.1 729.6C739.0 729.3 738.5 730.1 741.2 729.9C743.9 729.7 749.3 728.7 753.3 728.3C757.3 728.0 761.3 727.8 765.3 727.9C769.3 728.0 773.4 728.2 777.4 728.7C781.4 729.3 785.4 730.3 789.4 731.3C793.4 732.3 797.4 733.5 801.5 734.7C805.5 736.0 809.5 737.4 813.5 738.8C817.5 740.1 821.9 741.7 825.5 742.8C829.2 743.9 832.8 744.8 835.6 745.4C838.4 745.9 834.6 745.9 842.4 746.0C850.2 746.1 875.7 746.0 882.4 746.0L882.4 444.0 L482.4 444.0 Z" fill="#3C96F5"/>
<path d="M573.2 723.3C573.7 721.5 575.7 718.8 577.2 717.3C578.7 715.8 580.6 714.1 582.2 714.3C583.9 714.4 585.7 716.4 587.2 718.3C588.8 720.1 591.1 723.3 591.3 725.3C591.4 727.3 590.1 729.5 588.3 730.3C586.4 731.2 582.6 730.7 580.2 730.3C577.9 730.0 575.4 729.5 574.2 728.3C573.0 727.1 572.7 725.1 573.2 723.3Z" fill="#3C96F5"/>
<path d="M482.4 697.2C489.1 697.2 514.1 697.7 522.4 697.2C530.7 696.7 528.4 695.2 532.1 694.2C535.7 693.2 540.1 691.9 544.1 691.2C548.1 690.4 552.1 689.9 556.1 689.8C560.2 689.6 564.2 689.8 568.2 690.2C572.2 690.5 576.5 691.3 580.2 691.8C583.9 692.3 587.6 693.3 590.3 693.2C592.9 693.1 594.8 692.0 596.3 691.2C597.8 690.3 598.3 689.2 599.3 688.2C600.3 687.2 601.0 685.3 602.3 685.2C603.6 685.0 605.6 685.8 607.3 687.2C609.0 688.5 610.8 690.7 612.3 693.2C613.8 695.7 615.2 699.0 616.4 702.2C617.5 705.4 618.5 708.9 619.4 712.3C620.2 715.6 621.2 719.3 621.4 722.3C621.5 725.3 620.0 727.8 620.4 730.3C620.7 732.8 622.1 735.5 623.4 737.4C624.7 739.2 626.5 740.6 628.0 741.7C629.5 742.7 630.8 743.4 632.3 743.8C633.7 744.2 635.1 744.6 636.5 744.2C637.9 743.9 639.5 742.9 640.8 741.7C642.1 740.4 643.1 738.5 644.3 736.7C645.5 734.9 646.5 732.8 647.8 731.0C649.1 729.3 650.6 727.4 652.1 726.1C653.6 724.8 655.3 723.8 657.0 723.3C658.8 722.7 660.7 722.7 662.7 723.0C664.7 723.2 666.8 724.0 669.1 724.7C671.3 725.3 673.8 726.1 676.2 726.8C678.5 727.5 680.9 728.2 683.3 728.9C685.6 729.6 688.0 730.3 690.3 731.0C692.7 731.8 695.5 732.7 697.4 733.2C699.4 733.6 700.4 734.0 702.1 733.9C703.8 733.8 705.9 733.5 707.3 732.5C708.8 731.4 709.7 729.3 710.9 727.5C712.1 725.7 712.9 723.5 714.4 721.8C716.0 720.2 718.0 718.6 720.1 717.6C722.2 716.5 724.6 716.1 727.2 715.5C729.8 714.9 732.0 714.5 735.7 714.0C739.4 713.6 744.7 713.0 749.3 712.7C753.9 712.3 759.0 711.9 763.3 711.9C767.7 711.9 771.4 712.0 775.4 712.7C779.4 713.3 783.4 714.7 787.4 715.9C791.4 717.1 795.4 718.5 799.5 719.9C803.5 721.2 807.5 722.7 811.5 723.9C815.5 725.1 819.5 726.6 823.5 727.3C827.6 728.0 832.4 727.9 835.6 727.9C838.7 727.9 834.6 727.4 842.4 727.3C850.2 727.2 875.7 727.3 882.4 727.3L882.4 444.0 L482.4 444.0 Z" fill="#78B9FA"/>
<path d="M482.4 683.2C489.1 683.2 514.8 683.8 522.4 683.2C530.0 682.5 525.8 680.6 528.0 679.1C530.3 677.6 533.4 675.8 536.1 674.1C538.7 672.5 541.8 670.9 544.1 669.1C546.4 667.3 548.8 665.4 550.1 663.1C551.5 660.7 551.6 657.7 552.1 655.1C552.6 652.4 552.5 649.4 553.1 647.0C553.8 644.7 555.0 642.3 556.1 641.0C557.3 639.7 558.1 639.2 560.2 639.0C562.2 638.8 565.2 638.8 568.2 640.0C571.2 641.2 574.9 643.8 578.2 646.0C581.6 648.2 584.9 650.7 588.3 653.0C591.6 655.4 595.3 657.7 598.3 660.1C601.3 662.4 603.8 664.8 606.3 667.1C608.8 669.4 611.3 671.8 613.3 674.1C615.4 676.5 617.0 678.6 618.4 681.1C619.7 683.7 620.7 686.3 621.4 689.2C622.0 692.0 621.9 695.0 622.4 698.2C622.9 701.4 623.5 704.9 624.4 708.2C625.2 711.6 626.6 714.9 627.4 718.3C628.2 721.6 628.7 725.8 629.4 728.3C630.1 730.8 630.9 731.7 631.4 733.3C631.9 735.0 631.4 737.4 632.3 738.1C633.1 738.9 635.2 738.4 636.5 737.7C637.8 737.0 639.0 735.3 640.0 733.9C641.1 732.4 641.8 730.4 642.9 728.9C643.9 727.4 645.0 726.2 646.4 725.0C647.8 723.7 649.6 722.3 651.4 721.6C653.1 720.8 655.0 720.4 657.0 720.4C659.1 720.4 661.2 721.0 663.4 721.6C665.7 722.1 668.1 722.8 670.5 723.5C672.9 724.2 675.2 725.1 677.6 725.8C680.0 726.5 682.3 727.1 684.7 727.5C687.0 727.9 689.4 728.3 691.8 728.2C694.1 728.1 696.8 727.7 698.8 726.8C700.8 725.9 702.5 724.3 703.8 722.5C705.1 720.8 705.7 718.4 706.6 716.2C707.6 713.9 708.4 711.4 709.5 709.1C710.5 706.7 711.5 704.2 713.0 702.0C714.5 699.8 716.6 697.4 718.7 695.6C720.8 693.9 723.2 692.4 725.8 691.4C728.4 690.4 732.0 689.7 734.3 689.5C736.5 689.4 736.4 689.9 739.2 690.6C742.1 691.3 747.3 692.7 751.3 693.8C755.3 694.9 759.3 696.0 763.3 697.2C767.3 698.4 771.4 699.9 775.4 701.2C779.4 702.6 783.4 703.9 787.4 705.2C791.4 706.6 795.4 707.9 799.5 709.2C803.5 710.6 807.5 711.9 811.5 713.3C815.5 714.6 819.5 716.3 823.5 717.3C827.6 718.3 832.4 719.0 835.6 719.3C838.7 719.6 834.6 719.3 842.4 719.3C850.2 719.3 875.7 719.3 882.4 719.3L882.4 444.0 L482.4 444.0 Z" fill="#FFE878"/>
<path d="M482.0 599.4C488.7 599.4 514.0 599.7 522.0 599.4C530.0 599.1 527.4 598.2 530.0 597.4C532.7 596.6 535.4 595.5 538.1 594.4C540.7 593.2 543.4 591.4 546.1 590.4C548.8 589.4 551.1 588.6 554.1 588.4C557.1 588.1 560.8 588.3 564.2 588.8C567.5 589.3 571.5 589.9 574.2 591.4C576.9 592.8 578.4 595.2 580.2 597.4C582.1 599.6 583.7 602.2 585.2 604.4C586.7 606.6 588.4 608.1 589.3 610.4C590.1 612.8 590.4 615.8 590.3 618.5C590.1 621.1 588.4 623.8 588.3 626.5C588.1 629.2 588.3 632.2 589.3 634.5C590.3 636.9 592.8 638.7 594.3 640.5C595.8 642.4 597.3 645.7 598.3 645.6C599.3 645.5 599.3 639.9 600.3 640.0C601.3 640.1 602.6 644.0 604.3 646.0C606.0 648.0 608.5 649.9 610.3 652.0C612.2 654.2 613.8 656.7 615.4 659.1C616.9 661.4 618.2 663.6 619.4 666.1C620.5 668.6 621.5 671.4 622.4 674.1C623.2 676.8 623.9 679.5 624.4 682.2C624.9 684.8 625.2 687.5 625.4 690.2C625.6 692.9 625.1 695.5 625.4 698.2C625.7 700.9 626.4 703.7 627.4 706.2C628.4 708.7 630.4 711.7 631.4 713.3C632.5 714.8 632.2 714.5 633.7 715.5C635.1 716.4 637.9 718.3 640.0 719.0C642.2 719.7 644.3 719.9 646.4 719.7C648.5 719.5 650.6 718.3 652.8 717.9C655.0 717.4 657.5 716.8 659.9 716.9C662.2 716.9 664.6 717.7 667.0 718.3C669.3 718.9 671.7 719.9 674.0 720.4C676.4 721.0 678.9 721.4 681.1 721.6C683.4 721.7 685.5 721.6 687.5 721.1C689.5 720.7 691.7 720.2 693.2 719.0C694.6 717.8 695.6 715.9 696.3 714.0C697.0 712.2 697.1 709.8 697.1 707.7C697.2 705.5 696.9 703.3 696.7 701.3C696.5 699.3 695.9 697.5 696.0 695.6C696.1 693.7 697.0 691.7 697.4 690.0C697.9 688.2 698.2 686.1 698.8 685.0C699.5 683.9 700.1 684.3 701.1 683.5C702.1 682.7 703.5 681.1 704.8 680.3C706.2 679.5 707.5 678.8 709.1 678.5C710.7 678.1 712.6 678.2 714.4 678.2C716.2 678.2 717.9 678.5 719.7 678.5C721.5 678.4 723.3 678.2 725.0 677.8C726.7 677.5 726.3 675.6 730.0 676.6C733.7 677.6 742.4 682.1 747.3 683.8C752.2 685.4 755.3 685.7 759.3 686.6C763.3 687.5 767.7 688.6 771.4 689.2C775.0 689.8 778.0 690.2 781.4 690.2C784.7 690.2 788.1 689.8 791.4 689.2C794.8 688.5 798.5 687.3 801.5 686.2C804.5 685.0 807.1 683.8 809.5 682.2C811.8 680.5 813.5 678.3 815.5 676.1C817.5 674.0 819.2 671.1 821.5 669.1C823.9 667.1 826.9 665.6 829.6 664.1C832.2 662.6 835.5 661.1 837.6 660.1C839.7 659.0 834.9 658.1 842.4 657.7C849.9 657.3 875.7 657.7 882.4 657.7L882.4 444.0 L482.0 444.0 Z" fill="#FFC03C"/>
<path d="M847.6 615.5C846.8 611.8 844.1 615.8 842.4 616.5C840.7 617.1 839.1 618.0 837.6 619.5C836.1 621.0 833.9 623.3 833.6 625.5C833.2 627.7 834.6 630.7 835.6 632.5C836.6 634.4 838.5 635.7 839.6 636.5C840.7 637.4 841.1 637.2 842.4 637.5C843.7 637.9 846.8 642.2 847.6 638.5C848.5 634.9 848.5 619.1 847.6 615.5Z" fill="#FFE878"/>
<path d="M478.0 549.2C484.7 549.2 510.7 549.0 518.0 549.2C525.3 549.4 520.7 549.4 522.0 550.2C523.4 551.0 524.7 553.2 526.0 553.8C527.4 554.5 528.9 554.8 530.0 554.2C531.2 553.6 532.4 551.9 533.1 550.2C533.7 548.5 533.7 545.9 534.1 544.2C534.4 542.5 534.1 541.0 535.1 540.2C536.1 539.3 537.9 538.9 540.1 539.2C542.3 539.4 546.1 540.6 548.1 541.8C550.1 543.0 551.1 544.6 552.1 546.2C553.1 547.8 553.1 549.7 554.1 551.2C555.1 552.7 556.5 554.7 558.1 555.2C559.8 555.7 562.2 554.7 564.2 554.2C566.2 553.7 567.2 552.2 570.2 552.2C573.2 552.2 579.7 552.9 582.2 554.2C584.7 555.6 584.6 557.9 585.2 560.3C585.9 562.6 585.9 565.6 586.2 568.3C586.6 571.0 586.4 573.6 587.2 576.3C588.1 579.0 589.9 581.7 591.3 584.3C592.6 587.0 594.1 589.7 595.3 592.4C596.4 595.0 597.5 597.7 598.3 600.4C599.1 603.1 600.1 605.8 600.3 608.4C600.5 611.1 599.6 613.9 599.3 616.5C599.0 619.0 598.0 621.1 598.3 623.5C598.6 625.8 600.0 628.3 601.3 630.5C602.6 632.7 604.8 634.4 606.3 636.5C607.8 638.7 609.3 643.0 610.3 643.6C611.3 644.1 611.7 639.3 612.3 640.0C613.0 640.7 613.3 645.4 614.3 648.0C615.4 650.7 617.0 653.5 618.4 656.1C619.7 658.6 621.0 660.9 622.4 663.1C623.7 665.3 625.3 667.9 626.4 669.1C627.5 670.3 628.2 670.4 628.8 670.5C629.4 670.7 629.4 671.3 630.1 670.0C630.8 668.7 632.1 665.5 633.0 662.9C633.8 660.3 634.5 657.4 635.1 654.4C635.6 651.5 636.1 648.2 636.2 645.2C636.3 642.3 636.1 639.3 635.8 636.7C635.5 634.1 635.1 631.6 634.4 629.6C633.7 627.6 632.5 626.0 631.5 624.7C630.5 623.3 630.3 622.8 628.4 621.5C626.5 620.1 623.2 618.6 620.4 616.5C617.5 614.3 613.8 611.4 611.3 608.4C608.8 605.4 606.8 601.7 605.3 598.4C603.8 595.0 603.0 591.4 602.3 588.4C601.6 585.3 600.8 582.0 601.3 580.3C601.8 578.7 604.0 578.3 605.3 578.3C606.7 578.3 608.5 578.7 609.3 580.3C610.2 582.0 609.3 585.7 610.3 588.4C611.3 591.0 613.3 593.9 615.4 596.4C617.4 598.9 619.9 601.4 622.4 603.4C624.9 605.4 628.8 607.4 630.4 608.4C632.1 609.5 631.1 608.9 632.3 609.8C633.4 610.7 635.6 612.4 637.2 614.0C638.9 615.7 640.6 617.6 642.2 619.7C643.7 621.8 645.2 624.3 646.4 626.8C647.6 629.3 648.8 631.9 649.5 634.6C650.2 637.3 650.7 640.4 650.7 643.1C650.7 645.8 650.2 648.4 649.5 650.9C648.8 653.4 647.6 655.8 646.4 658.0C645.2 660.1 643.6 661.7 642.2 663.6C640.8 665.5 639.1 667.3 637.9 669.3C636.7 671.3 635.8 673.2 635.1 675.7C634.4 678.2 633.8 682.6 633.7 684.2C633.5 685.7 634.4 683.7 634.4 685.0C634.4 686.3 634.0 689.7 633.7 692.1C633.4 694.4 632.4 697.0 632.5 699.2C632.7 701.3 633.4 703.3 634.4 704.8C635.4 706.4 637.2 707.4 638.6 708.4C640.0 709.3 640.0 710.0 642.9 710.5C645.7 711.0 652.4 711.2 655.6 711.2C658.8 711.2 659.8 710.4 662.0 710.5C664.2 710.6 666.7 711.3 669.1 711.9C671.4 712.6 673.9 714.0 676.2 714.5C678.4 715.0 680.9 715.3 682.5 715.0C684.2 714.7 685.3 713.9 686.1 712.6C686.9 711.4 687.5 709.4 687.5 707.7C687.6 705.9 686.6 703.9 686.4 702.0C686.1 700.1 685.8 698.1 686.1 696.3C686.4 694.6 687.4 693.1 688.2 691.4C689.0 689.7 689.8 687.9 691.0 686.1C692.2 684.4 693.8 682.5 695.3 680.8C696.7 679.1 698.2 677.6 699.5 676.0C700.8 674.4 702.0 672.8 703.2 671.3C704.5 669.7 705.9 667.8 707.0 666.5C708.0 665.1 708.7 663.9 709.6 663.3C710.5 662.7 711.3 662.6 712.3 662.8C713.2 662.9 714.2 663.6 715.5 664.3C716.7 665.1 718.1 666.2 719.7 667.0C721.3 667.8 722.1 668.4 725.0 668.9C727.9 669.4 734.2 669.9 737.2 670.1C740.3 670.3 741.8 670.5 743.3 670.1C744.7 669.8 745.3 668.9 746.0 668.0C746.6 667.1 747.1 665.8 747.3 664.5C747.4 663.2 747.0 661.6 746.8 660.2C746.6 658.7 746.0 657.3 746.0 655.8C746.0 654.3 746.3 652.7 746.8 651.4C747.3 650.1 748.1 648.8 749.0 648.0C749.9 647.1 751.0 646.6 752.1 646.2C753.1 645.8 753.8 645.8 755.5 645.3C757.3 644.9 760.9 644.4 762.5 643.6C764.1 642.8 765.0 641.4 765.1 640.5C765.3 639.7 763.8 639.3 763.6 638.4C763.3 637.4 763.5 635.9 763.8 634.9C764.2 633.9 764.9 632.9 765.6 632.3C766.3 631.6 765.9 632.2 768.0 631.0C770.1 629.7 776.0 626.9 778.4 624.5C780.8 622.1 781.2 619.1 782.4 616.5C783.6 613.8 783.9 610.8 785.4 608.4C786.9 606.1 789.1 604.2 791.4 602.4C793.8 600.6 796.8 599.1 799.5 597.4C802.1 595.7 804.8 593.8 807.5 592.4C810.2 590.9 812.8 589.6 815.5 588.8C818.2 587.9 821.2 587.1 823.5 587.4C825.9 587.6 827.6 589.3 829.6 590.4C831.6 591.5 833.4 593.6 835.6 594.0C837.7 594.4 840.1 593.2 842.4 592.8C844.8 592.3 841.8 591.6 849.6 591.4C857.5 591.1 883.0 591.4 889.6 591.4L889.6 444.0 L478.0 444.0 Z" fill="#FFA000"/>
<path d="M537.1 499.0C537.2 498.0 537.9 496.3 539.1 495.6C540.2 494.9 542.9 494.7 544.1 494.8C545.3 495.0 546.3 495.5 546.5 496.4C546.7 497.4 546.0 499.4 545.1 500.4C544.2 501.4 542.3 502.2 541.1 502.4C539.9 502.6 538.7 502.2 538.1 501.6C537.4 501.1 536.9 500.0 537.1 499.0Z" fill="#FFC03C"/>
<path d="M756.3 493.0C754.0 494.2 758.8 496.1 761.3 497.0C763.8 497.9 768.0 498.3 771.4 498.4C774.7 498.6 778.4 498.3 781.4 498.0C784.4 497.8 787.1 497.8 789.4 497.0C791.8 496.3 797.8 494.8 795.4 493.6C793.1 492.4 781.9 490.1 775.4 490.0C768.8 489.9 758.6 491.8 756.3 493.0Z" fill="#FFC03C"/>
<path d="M554.1 492.0C554.8 494.0 556.1 497.9 558.1 500.0C560.2 502.2 563.5 503.5 566.2 505.1C568.8 506.6 572.2 507.2 574.2 509.1C576.2 510.9 576.7 514.8 578.0 516.2C579.3 517.6 580.8 516.8 582.3 517.6C583.7 518.5 585.1 520.0 586.5 521.2C587.9 522.4 589.5 524.1 590.8 524.7C592.1 525.3 593.2 525.3 594.3 524.7C595.4 524.1 596.1 522.2 597.1 521.2C598.2 520.1 599.4 518.6 600.7 518.3C602.0 518.1 603.9 518.8 604.9 519.8C606.0 520.7 606.5 522.5 607.0 524.0C607.6 525.5 607.5 527.9 608.5 529.0C609.4 530.0 610.9 530.3 612.7 530.4C614.5 530.5 617.7 529.4 619.1 529.7C620.5 529.9 621.3 530.9 621.2 531.8C621.1 532.7 619.7 534.0 618.4 535.3C617.1 536.6 615.1 538.2 613.4 539.6C611.8 541.0 610.0 542.4 608.5 543.8C606.9 545.3 605.5 546.7 604.2 548.1C602.9 549.5 601.7 550.9 600.7 552.3C599.6 553.8 598.5 555.2 597.8 556.6C597.1 558.0 596.5 559.4 596.4 560.8C596.3 562.3 597.2 563.7 597.1 565.1C597.0 566.5 595.8 567.9 595.7 569.3C595.6 570.8 595.8 572.4 596.4 573.6C597.0 574.8 598.1 575.7 599.3 576.4C600.4 577.1 601.5 576.7 603.5 577.8C605.5 579.0 609.4 580.9 611.3 583.3C613.3 585.8 613.5 589.5 615.4 592.4C617.2 595.2 620.1 598.0 622.4 600.4C624.6 602.8 627.2 605.3 629.0 606.7C630.8 608.1 631.7 607.7 633.2 608.8C634.8 609.9 636.5 611.4 638.2 613.1C639.9 614.7 641.6 616.6 643.2 618.7C644.7 620.8 646.2 623.3 647.4 625.8C648.6 628.3 649.8 630.7 650.5 633.6C651.2 636.5 651.7 640.2 651.7 643.1C651.7 646.0 651.2 648.4 650.5 650.9C649.8 653.4 648.6 655.8 647.4 658.0C646.2 660.1 644.6 661.7 643.2 663.6C641.7 665.5 639.9 666.9 638.9 669.3C638.0 671.7 637.8 675.2 637.4 678.1C637.1 681.1 636.8 685.1 636.8 687.2C636.9 689.3 637.3 689.0 637.6 690.7C637.9 692.3 637.9 695.3 638.6 697.0C639.4 698.8 640.6 700.1 642.2 701.3C643.7 702.5 645.7 703.5 647.8 704.1C650.0 704.7 652.6 704.7 654.9 704.8C657.3 705.0 659.6 704.6 662.0 704.8C664.4 705.1 667.0 705.8 669.1 706.3C671.2 706.7 673.3 707.7 674.8 707.7C676.2 707.6 676.9 706.7 677.7 705.8C678.6 704.9 679.5 703.4 679.9 702.1C680.2 700.7 680.0 699.2 679.9 697.8C679.7 696.4 678.9 694.9 678.8 693.6C678.7 692.2 678.9 691.0 679.3 689.9C679.8 688.7 680.6 687.7 681.4 686.7C682.3 685.6 683.6 684.5 684.6 683.5C685.7 682.4 686.8 681.3 687.8 680.3C688.9 679.2 689.9 678.2 691.0 677.1C692.1 676.0 693.1 675.0 694.2 673.9C695.3 672.8 696.3 671.8 697.4 670.7C698.4 669.7 699.8 668.5 700.6 667.5C701.4 666.6 702.0 665.9 702.2 664.9C702.3 663.9 701.5 662.8 701.6 661.7C701.8 660.6 702.5 659.4 703.2 658.5C703.9 657.6 704.9 656.9 705.9 656.4C706.9 655.8 708.0 655.5 709.1 655.3C710.1 655.1 711.2 655.2 712.3 655.3C713.3 655.4 714.2 655.5 715.5 655.8C716.7 656.2 718.1 656.8 719.7 657.4C721.3 658.1 723.7 659.3 725.0 659.6C726.3 659.9 726.6 659.6 727.6 659.3C728.7 658.9 730.1 658.4 731.1 657.5C732.1 656.7 733.0 655.5 733.7 654.1C734.5 652.6 734.9 650.6 735.5 648.8C736.1 647.1 736.7 645.2 737.2 643.6C737.8 642.0 738.5 640.7 739.0 639.2C739.5 637.8 739.8 636.3 740.3 634.9C740.7 633.4 741.2 632.1 741.6 630.5C742.0 628.9 742.5 627.0 742.9 625.3C743.3 623.5 743.8 621.8 744.2 620.1C744.6 618.3 745.1 616.6 745.5 614.8C746.0 613.1 746.3 611.3 746.8 609.6C747.3 607.8 748.0 606.0 748.6 604.4C749.1 602.8 749.9 600.6 750.3 600.0C750.7 599.4 750.2 601.4 750.8 600.6C751.5 599.9 753.2 597.4 754.4 595.7C755.6 593.9 757.0 591.9 757.9 590.0C758.9 588.1 759.7 586.3 760.1 584.3C760.4 582.3 760.5 580.1 760.1 578.0C759.6 575.8 758.5 573.5 757.2 571.6C755.9 569.7 754.0 568.2 752.3 566.6C750.5 565.1 748.5 563.7 746.6 562.4C744.7 561.1 742.8 559.9 740.9 558.8C739.0 557.8 737.1 556.8 735.3 556.0C733.4 555.2 731.1 554.7 729.6 553.9C728.1 553.1 725.8 552.1 726.0 551.0C726.3 550.0 729.6 548.8 731.0 547.5C732.4 546.2 734.6 544.6 734.6 543.3C734.6 542.0 732.5 541.0 731.0 539.7C729.5 538.4 727.2 536.9 725.3 535.5C723.5 534.0 721.6 532.7 719.7 531.2C717.8 529.7 715.9 527.9 714.0 526.3C712.1 524.6 710.2 522.9 708.3 521.3C706.4 519.6 704.6 517.8 702.7 516.3C700.8 514.9 698.8 513.5 697.0 512.8C695.2 512.1 693.7 511.8 692.0 512.1C690.4 512.3 688.5 513.1 687.1 514.2C685.7 515.3 684.7 517.3 683.5 518.5C682.4 519.6 681.5 521.2 680.0 521.3C678.5 521.4 676.2 520.2 674.3 519.2C672.4 518.1 670.6 516.3 668.7 514.9C666.8 513.5 664.7 511.8 663.0 510.7C661.3 509.5 660.6 508.7 658.8 508.1C656.9 507.6 654.0 507.5 651.7 507.3C649.3 507.1 647.0 507.3 644.6 507.0C642.2 506.7 639.9 506.1 637.5 505.6C635.1 505.1 632.8 504.6 630.4 504.2C628.1 503.7 625.7 503.1 623.3 502.8C621.0 502.4 618.3 501.9 616.3 502.0C614.2 502.2 612.7 502.8 611.3 503.5C609.9 504.2 608.9 505.2 607.8 506.3C606.6 507.4 605.6 508.8 604.2 509.8C602.8 510.9 601.0 512.0 599.3 512.7C597.5 513.4 595.4 514.1 593.6 514.1C591.8 514.1 590.2 513.6 588.6 512.7C587.1 511.7 585.4 510.1 584.4 508.4C583.3 506.8 582.5 504.6 582.3 502.8C582.0 500.9 582.6 498.9 583.0 497.1C583.3 495.3 586.8 493.3 584.4 492.1C581.9 490.9 573.2 490.7 568.2 490.0C563.1 489.3 556.5 487.7 554.1 488.0C551.8 488.3 553.5 490.0 554.1 492.0Z" fill="#FF6000"/>
<path d="M594.3 492.1C591.8 493.4 594.4 498.0 595.0 499.9C595.6 501.8 596.5 502.8 597.8 503.5C599.1 504.2 601.1 504.4 602.8 504.2C604.4 503.9 606.6 503.1 607.8 502.0C608.9 501.0 609.5 499.4 609.9 497.8C610.2 496.1 612.5 493.1 609.9 492.1C607.3 491.2 596.8 490.8 594.3 492.1Z" fill="#FF6000"/>
<path d="M545.1 516.1C545.3 514.9 546.9 512.1 548.1 511.1C549.3 510.1 551.1 509.8 552.1 510.1C553.1 510.3 554.3 511.3 554.1 512.5C554.0 513.7 552.3 516.2 551.1 517.1C549.9 518.0 548.1 518.3 547.1 518.1C546.1 517.9 544.9 517.3 545.1 516.1Z" fill="#FF6000"/>
<path d="M757.2 553.2C757.5 551.6 758.3 550.5 759.3 549.6C760.4 548.8 762.3 548.1 763.6 548.2C764.9 548.3 766.4 549.2 767.1 550.3C767.8 551.5 768.2 553.8 767.8 555.3C767.5 556.8 766.2 558.5 765.0 559.5C763.8 560.6 761.9 561.8 760.8 561.7C759.6 561.6 758.5 560.3 757.9 558.8C757.3 557.4 757.0 554.7 757.2 553.2Z" fill="#FF6000"/>
<path d="M625.4 638.0C624.6 639.2 625.1 643.0 625.4 645.0C625.7 647.0 626.6 649.4 627.4 650.0C628.2 650.7 629.4 650.0 630.0 649.0C630.6 648.0 630.8 645.9 630.8 644.0C630.8 642.2 630.9 639.0 630.0 638.0C629.1 637.0 626.2 636.8 625.4 638.0Z" fill="#FF6000"/>
<path d="M625.4 652.6C624.4 650.9 624.2 645.6 624.4 642.5C624.6 639.5 625.6 636.4 626.4 634.5C627.2 632.7 628.6 631.2 629.4 631.5C630.2 631.8 631.2 633.0 631.4 636.5C631.6 640.0 631.4 649.9 630.4 652.6C629.4 655.3 626.4 654.3 625.4 652.6Z" fill="#FF6000"/>
<path d="M615.5 514.1C616.0 512.6 617.1 511.3 618.4 510.5C619.7 509.8 621.7 509.6 623.3 509.8C625.0 510.1 626.8 511.1 628.3 512.0C629.8 512.8 631.0 514.0 632.5 514.8C634.1 515.6 635.7 516.6 637.5 516.9C639.3 517.3 641.0 517.2 643.2 516.9C645.3 516.7 647.9 515.7 650.3 515.5C652.6 515.3 655.3 515.0 657.3 515.5C659.3 516.0 661.1 516.9 662.3 518.3C663.5 519.8 663.8 522.1 664.4 524.0C665.0 525.9 665.1 528.0 665.8 529.7C666.6 531.3 667.5 532.7 668.7 533.9C669.9 535.1 671.3 536.0 672.9 536.8C674.6 537.5 676.9 538.2 678.6 538.2C680.2 538.2 681.4 537.2 682.8 536.8C684.3 536.3 685.7 535.3 687.1 535.3C688.5 535.3 689.9 535.8 691.3 536.8C692.8 537.7 694.7 539.0 695.6 541.0C696.5 543.0 696.5 546.8 697.0 548.9C697.5 551.1 698.4 552.3 698.4 553.9C698.4 555.4 696.8 557.0 697.0 558.1C697.2 559.2 698.4 559.9 699.8 560.5C701.3 561.1 703.6 561.6 705.5 561.7C707.4 561.7 709.3 561.3 711.2 561.0C713.1 560.6 715.4 559.5 716.8 559.5C718.3 559.5 718.7 560.1 719.7 561.0C720.6 561.8 721.3 563.6 722.5 564.5C723.7 565.5 725.1 566.4 726.8 566.6C728.4 566.8 730.8 565.9 732.4 565.6C734.1 565.4 735.1 565.1 736.7 565.2C738.2 565.4 739.9 565.8 741.6 566.6C743.4 567.5 745.5 568.8 747.3 570.2C749.1 571.6 751.0 573.4 752.3 575.1C753.6 576.9 754.7 578.9 755.1 580.8C755.4 582.7 755.0 584.6 754.4 586.5C753.8 588.4 752.6 590.4 751.6 592.1C750.5 593.9 749.1 595.3 748.0 597.1C746.9 598.9 745.6 601.6 745.2 602.8C744.8 604.0 745.7 603.2 745.5 604.4C745.4 605.5 744.6 607.8 744.2 609.6C743.8 611.3 743.3 613.1 742.9 614.8C742.5 616.6 742.0 618.3 741.6 620.1C741.2 621.8 740.9 623.7 740.5 625.3C740.2 626.9 739.8 628.2 739.4 629.6C739.0 631.1 738.6 632.5 738.1 634.0C737.6 635.5 737.0 637.1 736.4 638.4C735.7 639.7 735.0 640.7 734.2 641.8C733.4 643.0 732.5 644.3 731.6 645.3C730.6 646.4 729.6 647.2 728.5 648.0C727.4 648.8 726.2 649.5 725.0 650.1C723.9 650.7 722.7 651.1 721.5 651.4C720.4 651.8 719.2 652.0 718.1 652.3C716.9 652.6 715.7 652.8 714.6 653.2C713.4 653.5 712.2 654.4 711.1 654.5C709.9 654.6 708.6 653.6 707.6 653.6C706.5 653.7 706.0 654.3 704.8 654.8C703.7 655.2 701.7 655.8 700.6 656.4C699.4 657.0 698.8 657.7 697.9 658.5C697.0 659.3 696.1 660.2 695.3 661.2C694.5 662.1 693.9 663.3 693.1 664.3C692.3 665.4 691.5 666.5 690.5 667.5C689.4 668.6 688.0 669.7 686.8 670.7C685.5 671.7 684.3 672.6 683.0 673.4C681.8 674.2 680.6 674.8 679.3 675.5C678.1 676.2 676.8 676.7 675.6 677.4C674.4 678.1 673.3 678.7 672.4 679.8C671.5 680.8 670.8 682.1 670.3 683.5C669.8 684.8 669.5 686.2 669.2 687.7C669.0 689.2 669.0 691.0 668.9 692.5C668.8 694.0 669.0 695.4 668.7 696.8C668.4 698.1 668.0 699.6 667.1 700.5C666.2 701.4 664.7 701.9 663.4 702.1C662.1 702.2 660.5 701.9 659.1 701.5C657.7 701.2 656.3 700.6 654.9 699.9C653.5 699.3 652.0 698.6 650.6 697.8C649.2 697.0 647.7 696.1 646.4 695.2C645.0 694.3 643.8 693.7 642.7 692.5C641.5 691.3 639.9 690.4 639.4 688.2C639.0 685.9 639.6 682.0 640.0 679.1C640.5 676.3 641.0 673.6 642.0 671.1C643.1 668.6 645.3 666.6 646.5 664.1C647.7 661.5 648.3 658.4 649.3 655.8C650.2 653.3 651.4 651.4 652.1 648.8C652.7 646.2 653.2 643.1 653.2 640.3C653.2 637.4 652.9 634.5 652.1 631.8C651.3 629.0 650.0 626.4 648.5 624.0C647.1 621.5 645.4 619.1 643.6 616.9C641.8 614.6 639.8 612.3 637.9 610.5C636.0 608.7 633.9 607.2 632.3 606.3C630.6 605.3 629.8 605.9 628.0 604.8C626.2 603.8 622.6 601.6 621.2 599.9C619.8 598.3 620.3 596.6 619.8 594.8C619.3 593.1 618.4 590.9 618.4 589.2C618.4 587.4 619.0 585.4 619.8 584.2C620.6 583.0 622.0 582.8 623.3 582.1C624.6 581.4 626.3 580.9 627.6 580.0C628.9 579.0 630.3 577.7 631.1 576.4C632.0 575.1 632.5 573.6 632.5 572.2C632.5 570.8 631.6 569.3 631.1 567.9C630.7 566.5 629.8 565.3 629.7 563.7C629.6 562.0 630.0 559.7 630.4 558.0C630.9 556.4 631.8 555.2 632.5 553.8C633.3 552.3 633.6 550.6 634.7 549.5C635.7 548.4 637.5 548.0 638.9 547.4C640.3 546.8 642.6 547.0 643.2 546.0C643.8 544.9 642.7 542.8 642.5 541.0C642.2 539.2 642.1 537.1 641.8 535.3C641.4 533.6 641.3 531.4 640.3 530.4C639.4 529.3 637.4 529.1 636.1 529.0C634.8 528.8 633.8 530.0 632.5 529.7C631.2 529.3 629.8 527.5 628.3 526.8C626.8 526.1 625.0 525.9 623.3 525.4C621.7 524.9 619.7 524.9 618.4 524.0C617.1 523.1 616.0 521.4 615.5 519.8C615.1 518.1 615.1 515.6 615.5 514.1Z" fill="#FF3200"/>
<path d="M612.7 550.9C613.1 549.3 614.4 547.5 615.5 546.0C616.7 544.4 618.4 542.9 619.8 541.7C621.2 540.5 622.7 539.1 624.0 538.9C625.3 538.6 626.9 539.0 627.6 540.3C628.3 541.6 628.5 544.5 628.3 546.7C628.1 548.8 627.2 551.3 626.2 553.0C625.1 554.8 623.5 556.4 621.9 557.3C620.4 558.2 618.4 559.0 617.0 558.7C615.5 558.5 614.1 557.2 613.4 555.9C612.7 554.6 612.4 552.6 612.7 550.9Z" fill="#FF3200"/>
<path d="M605.6 569.3C605.7 568.0 607.4 566.2 608.5 565.8C609.5 565.4 611.5 566.2 612.0 567.2C612.5 568.3 612.0 571.1 611.3 572.2C610.6 573.2 608.7 574.1 607.8 573.6C606.8 573.1 605.5 570.6 605.6 569.3Z" fill="#FF3200"/>
<path d="M623.3 595.6C624.4 594.6 625.9 594.2 627.6 594.1C629.2 594.1 631.4 595.0 633.3 595.1C635.1 595.2 637.0 595.2 638.9 594.8C640.8 594.5 642.7 593.7 644.6 593.1C646.5 592.6 648.4 592.0 650.3 591.3C652.1 590.6 654.3 590.0 655.9 589.2C657.6 588.4 659.2 587.4 660.2 586.3C661.1 585.3 660.6 583.9 661.6 582.8C662.5 581.7 664.3 580.9 665.8 580.0C667.4 579.0 669.3 578.3 670.8 577.1C672.3 576.0 673.9 574.4 675.1 572.9C676.2 571.3 677.0 569.7 677.5 567.9C677.9 566.2 678.2 564.1 677.9 562.3C677.6 560.4 676.4 558.5 675.8 556.6C675.2 554.7 674.1 552.3 674.3 550.9C674.6 549.5 675.8 548.9 677.2 548.1C678.6 547.3 681.0 546.3 682.8 546.0C684.7 545.6 686.9 545.5 688.5 546.0C690.2 546.4 691.6 547.6 692.8 548.8C693.9 550.0 695.7 551.3 695.6 553.0C695.5 554.8 692.2 557.9 692.0 559.5C691.9 561.2 693.6 561.8 694.9 563.1C696.2 564.4 698.3 565.8 699.8 567.3C701.4 568.9 702.8 570.6 704.1 572.3C705.4 574.0 706.6 576.9 707.6 577.3C708.7 577.6 709.6 574.7 710.5 574.4C711.3 574.2 712.0 574.7 712.6 575.8C713.2 577.0 713.2 579.9 714.0 581.5C714.8 583.2 716.6 584.1 717.5 585.8C718.5 587.4 719.0 589.8 719.7 591.4C720.4 593.1 720.6 595.3 721.8 595.7C723.0 596.0 725.0 594.4 726.8 593.6C728.5 592.7 730.8 591.5 732.4 590.7C734.1 589.9 735.6 588.4 736.7 588.6C737.7 588.8 738.3 590.5 738.8 592.1C739.3 593.8 739.5 596.3 739.5 598.5C739.5 600.8 738.7 604.6 738.8 605.6C738.9 606.6 739.6 603.7 739.8 604.4C740.1 605.0 740.2 607.8 740.3 609.6C740.4 611.3 740.6 613.1 740.5 614.8C740.5 616.6 740.2 618.3 739.8 620.1C739.5 621.8 739.0 623.7 738.5 625.3C738.1 626.9 737.7 628.2 737.2 629.6C736.7 631.1 736.1 632.7 735.5 634.0C734.9 635.3 734.4 636.4 733.7 637.5C733.1 638.6 732.4 639.6 731.6 640.5C730.7 641.5 729.7 642.3 728.5 643.2C727.3 644.0 725.6 645.0 724.2 645.8C722.7 646.6 721.2 647.3 719.8 648.0C718.3 648.6 716.9 649.1 715.4 649.7C714.0 650.3 712.5 651.0 711.1 651.4C709.6 651.9 708.0 652.0 706.7 652.3C705.4 652.6 705.0 653.6 703.2 653.2C701.4 652.8 698.2 650.5 696.0 649.9C693.9 649.3 692.0 649.9 690.3 649.5C688.7 649.0 687.5 648.2 686.1 647.3C684.7 646.5 683.5 645.5 681.8 644.5C680.2 643.6 678.1 642.5 676.2 641.7C674.3 640.8 672.3 639.8 670.5 639.5C668.7 639.3 667.1 639.9 665.5 640.3C664.0 640.6 662.5 641.9 661.3 641.7C660.1 641.4 659.1 640.3 658.5 638.8C657.9 637.4 658.2 635.1 657.8 633.2C657.3 631.3 656.6 629.5 655.6 627.5C654.7 625.5 653.4 623.0 652.1 621.1C650.8 619.2 649.4 617.8 647.8 616.2C646.3 614.5 644.4 612.9 642.9 611.2C641.3 609.6 639.9 607.8 638.6 606.3C637.3 604.7 636.4 603.2 635.1 602.0C633.8 600.8 632.5 599.8 630.8 599.2C629.2 598.6 626.8 598.3 625.2 598.5C623.6 598.6 621.5 600.4 621.2 599.9C620.9 599.5 622.3 596.5 623.3 595.6Z" fill="#E01400"/>
<path d="M650.3 549.5C650.3 548.4 651.4 546.8 652.4 546.0C653.3 545.1 654.7 544.4 655.9 544.5C657.1 544.7 658.8 545.7 659.5 546.7C660.1 547.6 660.4 549.3 659.9 550.2C659.4 551.2 657.9 552.0 656.6 552.3C655.4 552.7 653.4 552.8 652.4 552.3C651.3 551.9 650.3 550.6 650.3 549.5Z" fill="#E01400"/>
<path d="M639.6 582.1C639.8 580.3 640.8 578.1 641.8 577.1C642.7 576.2 644.4 575.8 645.3 576.4C646.2 577.0 647.1 579.0 647.4 580.7C647.7 582.3 647.6 584.9 647.1 586.3C646.7 587.8 645.6 588.9 644.6 589.2C643.6 589.4 641.9 588.9 641.0 587.8C640.2 586.6 639.5 583.9 639.6 582.1Z" fill="#E01400"/>
<path d="M645.0 603.4C645.0 602.3 646.2 600.9 647.1 600.3C648.1 599.7 649.8 599.5 650.7 599.9C651.5 600.3 652.4 601.6 652.4 602.7C652.4 603.8 651.5 605.5 650.7 606.3C649.8 607.0 648.1 607.4 647.1 607.0C646.2 606.5 645.0 604.5 645.0 603.4Z" fill="#FF3200"/>
<path d="M641.5 678.5C641.6 676.1 642.1 674.7 642.9 672.8C643.7 671.0 645.0 668.6 646.4 667.2C647.8 665.8 650.0 664.3 651.4 664.3C652.8 664.3 654.1 665.5 654.9 667.2C655.7 668.8 656.1 671.7 656.3 674.3C656.6 676.9 656.6 680.2 656.3 682.8C656.1 685.4 655.6 688.0 654.9 689.8C654.2 691.7 653.7 693.4 652.1 694.1C650.4 694.8 646.7 695.3 645.0 694.1C643.3 692.9 642.5 689.6 641.9 687.0C641.3 684.4 641.3 680.9 641.5 678.5Z" fill="#E01400"/>
<path d="M675.8 595.7C676.9 595.7 680.1 595.0 681.4 593.6C682.7 592.1 682.8 589.2 683.5 587.2C684.3 585.2 684.7 583.2 685.7 581.5C686.6 579.9 687.9 578.0 689.2 577.3C690.5 576.6 692.0 576.6 693.5 577.3C694.9 578.0 696.3 579.9 697.7 581.5C699.1 583.2 700.8 585.5 702.0 587.2C703.1 588.8 703.5 590.1 704.8 591.4C706.1 592.7 708.1 593.9 709.8 595.0C711.4 596.0 713.4 596.5 714.7 597.8C716.0 599.1 716.7 601.2 717.5 602.8C718.4 604.3 718.6 605.8 719.7 607.0C720.7 608.2 722.3 609.5 723.9 609.8C725.6 610.2 728.1 608.9 729.6 609.1C731.1 609.4 732.4 609.5 733.1 611.3C733.9 613.0 734.3 617.4 734.3 619.7C734.2 622.1 733.6 623.6 732.8 625.4C732.1 627.2 731.2 629.0 730.0 630.3C728.8 631.6 727.4 632.6 725.8 633.2C724.1 633.8 721.6 633.5 720.1 633.9C718.6 634.2 717.3 634.2 716.6 635.3C715.8 636.4 716.4 638.8 715.8 640.3C715.3 641.7 714.4 642.9 713.0 643.8C711.6 644.7 709.5 645.3 707.3 645.6C705.2 646.0 702.6 645.9 700.3 645.9C697.9 645.9 695.3 646.0 693.2 645.6C691.0 645.3 689.3 644.6 687.5 643.8C685.7 643.0 684.0 642.3 682.5 641.0C681.1 639.7 680.0 637.8 679.0 636.0C678.1 634.2 677.6 632.3 676.9 630.3C676.2 628.3 675.6 626.0 674.8 624.0C673.9 622.0 672.7 620.3 671.9 618.3C671.1 616.3 670.3 614.2 669.8 611.9C669.3 609.7 668.9 607.1 669.1 604.8C669.3 602.6 670.3 600.3 671.2 598.5C672.2 596.6 674.0 594.0 674.8 593.5C675.5 593.0 674.6 595.7 675.8 595.7Z" fill="#C83C3C"/>
<path d="M708.8 615.5C709.0 614.5 710.1 613.6 710.9 613.3C711.7 613.1 713.1 613.5 713.7 614.0C714.3 614.6 714.7 615.9 714.4 616.9C714.2 617.8 713.1 619.4 712.3 619.7C711.5 620.1 710.1 619.7 709.5 619.0C708.9 618.3 708.5 616.4 708.8 615.5Z" fill="#E01400"/>
<path d="M678.6 638.0C676.2 638.3 677.6 639.4 678.6 640.0C679.6 640.6 683.0 641.2 684.6 641.6C686.2 642.0 686.7 642.3 688.0 642.4C689.4 642.5 691.9 643.1 692.6 642.4C693.4 641.7 695.0 638.7 692.6 638.0C690.3 637.3 680.9 637.7 678.6 638.0Z" fill="#C83C3C"/>
<path d="M692.5 619.7C692.9 618.5 693.5 617.8 694.6 617.6C695.7 617.4 697.4 617.7 698.8 618.3C700.3 618.9 701.8 619.9 703.1 621.1C704.4 622.3 705.3 624.3 706.6 625.4C707.9 626.4 709.9 626.4 710.9 627.5C711.9 628.6 712.4 630.1 712.7 631.8C713.1 633.4 713.3 635.9 713.0 637.4C712.7 639.0 712.1 640.3 710.9 641.0C709.7 641.7 707.6 641.8 705.9 641.7C704.3 641.6 702.3 641.1 701.0 640.3C699.7 639.4 699.2 637.8 698.1 636.7C697.1 635.7 695.5 635.1 694.6 633.9C693.6 632.7 692.9 631.2 692.5 629.6C692.0 628.1 691.8 626.3 691.8 624.7C691.8 623.0 692.0 620.9 692.5 619.7Z" fill="#C00000"/>
<path d="M819.5 490.0C819.0 492.0 817.0 498.7 816.5 502.0C816.0 505.4 815.8 507.6 816.5 510.1C817.2 512.6 818.7 515.3 820.5 517.1C822.4 518.9 825.0 519.9 827.6 521.1C830.1 522.3 833.1 523.3 835.6 524.1C838.1 525.0 839.4 525.6 842.4 526.1C845.4 526.6 851.8 533.2 853.7 527.1C855.5 521.1 853.7 496.2 853.7 490.0Z" fill="#FF6000"/>
<path d="M824.5 490.0C824.5 492.0 823.9 498.9 824.5 502.0C825.2 505.2 827.1 506.9 828.6 509.1C830.1 511.2 831.7 513.3 833.6 515.1C835.4 516.9 838.1 518.9 839.6 520.1C841.1 521.3 840.1 521.6 842.4 522.1C844.8 522.6 851.8 528.5 853.7 523.1C855.5 517.8 853.7 495.5 853.7 490.0Z" fill="#FF3200"/>
<path d="M838.0 490.0C837.9 492.0 838.0 499.0 837.6 502.0C837.2 505.1 835.4 506.1 835.6 508.1C835.8 510.1 837.5 512.7 838.6 514.1C839.7 515.4 839.9 515.6 842.4 516.1C844.9 516.6 851.8 521.4 853.7 517.1C855.5 512.7 853.7 494.5 853.7 490.0Z" fill="#E01400"/>
<path d="M623.4 611.4C623.9 610.8 626.9 610.1 628.4 610.4C629.9 610.8 632.2 612.5 632.4 613.4C632.6 614.4 630.6 615.9 629.4 616.1C628.2 616.2 626.4 615.2 625.4 614.4C624.4 613.7 622.9 612.1 623.4 611.4Z" fill="#FFE878"/>
<path d="M606.9 519.4 L608.3 521.4 L610.4 517.8 L612.9 515.4 L613.2 511.5 L615.7 509.5 L617.8 508.7 L621.0 508.7 L624.9 506.3 L626.7 504.3 L628.1 505.5 L626.0 507.5 L627.7 509.9 L627.0 512.2 L625.3 514.6 L627.4 517.4 L629.2 515.0 L628.1 511.9 L629.5 509.9 L632.0 508.3 L632.7 505.1 L633.4 507.9 L636.9 508.3 L639.1 510.7 L640.1 511.9 L646.2 511.5 L650.0 513.4 L652.9 512.2 L657.5 511.1 L661.4 511.1 L658.2 512.2 L660.0 514.2 L662.4 514.6 L665.3 516.6 L664.9 519.4 L668.8 520.6 L673.4 526.1 L678.0 530.1 L682.6 530.1 L689.3 530.5 L693.2 532.1 L697.1 535.3 L699.6 537.6 L701.0 544.8 L703.9 548.7 L702.1 552.7 L699.3 555.1 L701.4 557.5 L705.3 554.3 L709.2 554.7 L708.5 559.1 L710.9 556.3 L715.5 557.5 L720.1 559.5 L722.6 562.2 L723.7 564.6 L726.9 563.0 L732.5 565.0 L737.1 564.6 L742.4 567.4 L744.2 568.2 L748.5 572.1 L751.3 573.7 L755.2 574.1 L756.2 579.3 L757.3 582.1 L757.0 586.4 L755.5 591.2 L751.6 595.2 L749.2 598.3 L747.4 601.9 L744.6 604.7 L742.4 607.1 L742.4 613.0 L742.8 619.0 L741.7 623.7 L740.0 626.9 L739.6 631.3 L737.8 634.8 L735.7 638.8 L735.4 640.8 L732.2 644.0 L727.6 644.7 L722.6 645.9 L719.8 647.9 L716.2 648.7 L710.9 652.7 L708.8 656.3 L708.5 660.6 L708.5 665.8 L705.3 668.5 L702.4 673.7 L699.3 678.5 L696.1 681.2 L691.5 687.2 L690.0 690.0 L686.2 692.0 L681.6 692.0 L675.9 690.0 L673.8 688.0 L673.8 690.4 L677.7 693.1 L677.7 697.1 L679.8 698.7 L676.6 704.3 L671.6 707.0 L664.6 708.2 L660.3 707.4 L660.0 712.2 L658.2 716.2 L650.4 716.2 L650.0 720.1 L655.0 720.9 L652.9 723.3 L650.4 724.1 L649.3 730.0 L647.9 732.0 L642.3 734.4 L641.5 737.6 L644.7 740.0 L647.6 743.1 L641.5 747.9 L636.6 753.0 L635.9 755.8 L638.4 761.0 L634.5 761.4 L629.9 763.0 L629.2 766.9 L624.6 764.9 L620.3 761.8 L616.8 760.6 L615.0 755.8 L613.9 751.9 L613.2 746.7 L613.2 741.9 L612.9 738.8 L616.8 736.0 L619.2 732.0 L619.6 728.1 L622.1 724.1 L622.8 720.1 L619.6 718.1 L620.3 712.2 L621.4 709.4 L620.0 702.7 L621.7 700.3 L623.5 694.3 L626.7 686.4 L627.4 680.4 L627.0 674.5 L628.1 668.5 L629.2 662.6 L630.6 656.6 L631.3 648.7 L632.0 640.8 L632.3 632.8 L631.6 626.5 L628.1 622.9 L623.9 619.8 L618.5 617.0 L614.3 614.2 L610.8 609.0 L610.4 605.9 L607.6 601.5 L605.4 597.1 L603.3 592.4 L601.2 586.4 L598.7 582.1 L595.2 577.3 L593.1 574.1 L592.7 571.0 L595.5 567.4 L597.3 565.4 L596.2 563.4 L594.1 562.2 L594.8 557.5 L595.9 554.7 L597.3 551.5 L600.8 548.7 L601.5 546.8 L603.0 543.6 L606.1 542.8 L607.2 538.4 L606.1 535.7 L606.5 531.7 L606.5 527.7 L604.7 524.9Z M604.7 524.9 L603.3 521.4 L601.2 518.2 L599.1 517.8 L596.2 520.6 L597.3 523.8 L594.1 524.9 L591.3 522.6 L587.0 521.0 L584.6 519.8 L584.2 517.8 L580.7 515.0 L579.2 515.4 L576.8 511.9 L577.1 509.5 L573.9 505.9 L571.1 502.3 L570.0 501.1 L567.2 501.1 L562.6 499.6 L559.8 498.4 L556.9 498.0 L554.1 496.0 L551.3 492.0 M606.9 519.4 L604.7 517.0 L601.5 515.8 L598.7 515.4 L594.5 518.2 L591.6 517.8 L589.2 516.6 L586.7 513.8 L584.6 510.3 L584.2 505.9 L584.9 501.9 L585.6 498.0 L586.0 493.2 M638.4 761.8 L638.7 763.4 L639.8 766.1 L643.3 768.5 L649.7 770.1 L648.6 771.7 L643.3 772.5 L638.0 773.3 L632.7 772.5 L627.4 769.7 L625.6 767.7 L629.5 768.1 L632.0 765.7 L634.5 764.9 L632.7 763.0 L635.5 762.6 L638.4 761.8Z M663.5 758.6 L666.0 757.0 L667.4 758.6 L669.5 757.0 L671.3 758.2 L673.4 757.0 L675.9 758.2 L674.1 759.4 L672.0 759.0 L670.9 760.6 L668.8 759.4 L666.7 760.6 L664.9 759.8 L663.5 758.6Z M746.0 767.7 L750.2 768.5 L753.4 770.5 L751.3 769.7 L746.0 767.7Z M618.9 719.3 L620.7 721.3 L620.0 725.7 L617.5 724.9 L618.2 721.3 L618.9 719.3Z M661.4 513.4 L664.6 513.4 L664.9 510.7 L662.1 511.1 L661.4 513.4Z M628.1 506.7 L623.9 509.9 L622.1 517.0 L624.2 524.1 L632.3 525.7 L634.8 529.3 L641.5 528.9 L640.5 532.5 L640.5 538.0 L642.3 540.0 L641.9 544.8 L643.7 548.7 M643.7 548.7 L639.1 546.4 L633.4 546.8 L633.4 549.1 L635.5 549.9 L632.7 551.1 L632.7 554.3 L634.8 557.5 L633.1 570.2 M633.1 570.2 L630.2 568.6 L632.3 564.2 L622.4 563.0 L618.5 557.5 L613.9 553.9 M613.9 553.9 L610.4 551.9 L606.1 550.7 L601.5 548.0 M613.9 553.9 L612.9 559.5 L609.3 563.8 L603.3 567.0 L601.9 571.8 L599.1 573.3 L596.2 571.0 L596.2 567.0 M633.1 570.2 L622.4 574.1 L621.4 579.3 L618.5 582.9 L622.1 589.2 L624.9 593.2 L630.6 591.2 L630.6 597.1 L634.1 597.1 M634.1 597.1 L637.3 603.1 L636.2 611.0 L634.8 615.4 L636.2 617.8 L634.5 622.9 L631.3 626.1 M634.5 622.9 L638.0 630.9 L639.1 638.8 L642.6 644.0 M634.1 597.1 L639.8 596.0 L644.7 592.8 L649.3 592.4 L649.0 599.9 L652.5 603.1 L658.2 605.1 L664.6 607.1 L667.0 613.0 L667.4 618.2 L673.8 618.2 L674.1 622.1 L677.0 625.7 L675.9 628.9 L674.5 632.1 L674.5 633.6 M674.5 633.6 L671.3 630.1 L662.1 631.3 L658.9 641.6 M658.9 641.6 L652.9 644.0 L649.7 641.2 L645.8 640.0 L642.6 644.0 M642.6 644.0 L642.3 648.7 L638.0 651.9 L638.7 658.6 L633.4 666.6 L632.7 674.5 L630.9 680.4 L633.4 688.4 L630.9 696.3 L628.8 704.3 L626.7 712.2 L626.3 720.1 L627.0 728.1 L626.7 736.0 L624.6 743.9 L621.4 751.9 L624.6 755.8 L625.6 759.8 L638.4 761.0 M637.7 762.6 L637.7 771.3 M674.5 633.6 L675.5 641.2 L683.3 642.0 L684.4 648.3 L688.3 649.1 L687.2 655.1 M658.9 641.6 L664.6 647.9 L672.3 651.9 L676.6 654.7 L673.1 661.4 L681.6 661.8 L687.2 655.1 M687.2 655.1 L690.0 659.4 L689.7 661.4 L683.0 666.2 L676.6 673.3 M676.6 673.3 L682.3 675.7 L687.2 678.5 L691.5 682.8 L691.5 687.2 M676.6 673.3 L674.5 680.4 L673.8 688.0 M643.7 548.7 L648.6 550.3 L656.1 544.8 L653.9 543.6 L653.6 538.0 L658.2 537.6 L664.6 535.7 L665.6 532.9 M665.6 532.9 L663.1 530.1 L664.2 526.9 L667.0 525.3 L668.8 520.6 M665.6 532.9 L668.5 535.7 L669.5 538.0 L668.5 544.4 L671.6 548.3 L675.2 547.6 L680.5 546.0 M678.0 530.1 L677.7 533.7 L675.2 537.6 L677.7 540.4 L680.5 546.0 M680.5 546.0 L682.6 545.6 L687.2 544.4 M689.3 530.5 L687.9 533.7 L688.6 539.6 L687.2 544.4 M687.2 544.4 L692.9 544.8 L694.6 543.2 L697.5 537.6 M587.0 521.0 L587.7 515.8 M577.1 509.5 L580.7 509.9 L584.2 510.3 M571.1 502.3 L573.6 500.7 L576.8 498.8 L580.0 494.8 L585.6 494.0 M569.7 500.3 L567.2 498.4 L564.4 496.4 L561.5 498.8 M564.4 496.4 L564.7 494.0 L567.9 491.6 M619.2 582.5 L632.7 589.2 L644.0 592.4 M644.0 592.4 L657.8 585.2 L662.4 588.4 L668.1 597.5 L668.5 607.1 L667.0 607.9 M672.0 582.5 L662.4 588.4 M672.0 582.5 L674.8 582.5 L681.9 561.4 L672.0 548.7 M667.4 532.9 L668.1 545.6 L672.0 548.7 M662.4 549.5 L657.8 557.5 L668.1 555.5 L672.0 548.7 M674.8 582.5 L675.9 589.2 L682.3 591.2 L702.8 592.4 M702.8 592.4 L701.0 604.3 L697.5 613.0 L692.5 622.9 L690.4 624.9 L676.6 624.1 M702.8 592.4 L706.3 585.2 L709.9 574.5 L712.7 573.3 L717.7 558.3 M702.8 592.4 L708.8 595.2 L717.7 594.4 L717.7 604.7 L701.0 604.3 M712.7 573.3 L716.6 583.3 L718.4 594.4 M718.4 594.4 L726.5 590.4 L734.7 588.0 L736.8 582.9 L734.3 573.3 L734.3 565.0 M736.8 582.9 L743.9 584.1 L748.5 572.1 M743.9 584.1 L748.8 582.5 L756.6 579.3 M748.8 582.5 L752.0 584.4 L757.0 583.3 M734.7 588.0 L741.4 587.6 L746.0 590.0 L751.6 589.2 L756.2 588.8 M746.0 590.0 L748.5 592.8 L751.6 595.2 M746.0 591.2 L746.0 599.1 L748.5 599.1 M717.7 604.7 L724.0 610.2 L731.8 612.6 L738.9 616.2 L741.7 624.5 M717.7 604.7 L717.7 613.0 L713.1 615.4 L713.1 624.9 L700.3 630.9 L692.5 622.9 M700.3 630.9 L700.0 634.0 L713.1 632.8 L716.6 643.6 L723.7 643.2 L731.8 636.8 L735.4 637.6 M735.4 637.6 L732.5 634.0 L735.4 626.9 L738.2 624.9 M700.0 634.0 L692.5 642.8 L688.6 648.7 M692.5 642.8 L704.9 644.7 L706.0 651.5 L709.9 653.5 M690.8 657.4 L698.5 657.4 L708.5 656.6 M690.0 661.4 L698.2 662.6 L704.6 669.7 M723.7 643.2 L722.3 645.5 M617.5 730.2 L616.6 726.9 L615.2 730.2 L616.0 729.6Z M616.0 730.0 L613.8 730.0 L613.7 731.5 L615.7 731.8Z M619.7 730.7 L618.8 728.9 L618.0 729.3 L616.8 731.2 L617.4 728.7 L618.2 730.2Z M618.6 732.5 L618.1 731.3 L619.3 730.5 L617.0 729.5Z M619.8 727.2 L619.9 728.5 L618.3 725.7 L619.3 727.5Z M619.6 726.5 L618.2 727.6 L616.6 727.5 L618.9 726.3Z M616.0 731.0 L616.0 732.3 L616.5 733.9 L615.7 731.8 L616.2 731.1 L616.5 734.1Z M618.4 731.6 L616.6 731.3 L618.4 728.9 L615.6 732.0 L615.9 731.8Z M617.4 730.7 L619.2 731.6 L617.3 729.5 L620.5 730.3Z M617.8 737.3 L616.2 738.4 L617.1 738.6 L614.9 738.0 L615.3 737.5 L614.9 738.8Z M613.4 736.1 L614.6 734.4 L616.9 734.5 L615.0 736.5Z M618.4 738.2 L619.4 737.5 L621.3 737.9 L618.2 734.8 L620.1 738.0Z M615.6 736.0 L613.3 737.3 L612.9 735.7 L614.4 735.6 L613.6 737.8 L615.4 734.8Z M619.8 738.9 L618.6 736.8 L620.5 736.5 L618.5 738.9 L619.0 738.3 L619.8 736.8Z M619.1 738.2 L619.0 736.5 L621.7 735.7 L620.1 736.4Z M615.4 736.9 L614.2 739.1 L615.4 738.5 L615.5 736.0 L613.9 738.2Z M616.2 739.9 L617.9 739.7 L618.4 739.9 L617.9 738.6Z M618.4 735.9 L619.5 736.3 L619.2 734.8 L616.7 737.0 L617.0 737.1 L618.1 737.0Z M616.1 740.1 L615.7 740.7 L615.8 739.2 L613.1 742.1 L614.6 739.3Z M616.2 743.4 L618.4 743.1 L616.8 743.2 L617.7 742.2Z M615.2 742.6 L616.8 742.9 L618.5 742.7 L616.3 739.1 L617.4 742.2Z M618.5 739.4 L618.2 738.5 L615.8 740.0 L618.5 738.9 L615.3 741.7 L616.5 741.9Z M615.7 741.8 L615.0 739.8 L612.7 738.9 L615.9 741.6Z M617.6 746.6 L616.1 745.2 L615.7 746.5 L615.6 744.4 L614.4 745.1 L616.1 747.2Z M615.9 739.8 L616.4 740.0 L615.8 742.4 L619.0 742.8Z M620.0 743.9 L617.4 741.3 L619.1 742.2 L617.2 744.7 L619.5 743.2 L617.1 741.2Z M616.9 743.2 L618.5 745.3 L618.8 743.0 L617.7 746.1Z M614.6 751.1 L617.2 749.4 L615.7 751.0 L615.3 749.2Z M617.0 744.6 L619.1 746.8 L618.8 743.8 L617.3 744.3Z M618.9 747.8 L616.0 748.1 L615.9 745.5 L618.0 748.4 L619.0 745.1Z M614.1 751.9 L615.0 750.6 L614.3 748.2 L614.7 749.3 L612.5 751.3Z M615.9 747.4 L613.1 745.7 L613.3 748.1 L612.1 748.0 L614.0 747.5Z M618.3 749.7 L617.4 748.7 L616.3 747.8 L615.4 746.5 L618.4 749.6Z M619.8 750.5 L618.1 750.0 L617.6 749.2 L619.8 750.5 L618.7 749.7Z M620.9 746.5 L620.9 747.4 L621.1 747.0 L620.3 748.8 L617.8 749.2 L619.1 749.3Z M617.7 751.1 L616.7 750.2 L615.9 748.4 L619.1 751.7 L617.7 749.1 L617.5 748.8Z M617.8 753.8 L616.9 756.1 L616.8 755.0 L617.9 755.2Z M616.3 755.6 L616.1 757.9 L615.6 756.5 L617.5 758.0 L614.6 756.4Z M618.9 755.6 L616.3 757.4 L616.9 756.6 L615.4 755.8Z M620.0 759.4 L622.6 758.7 L621.1 757.3 L622.2 758.6Z M616.2 753.5 L618.4 751.4 L616.3 751.2 L616.3 752.6 L615.2 752.8Z M617.6 752.1 L616.0 754.2 L616.4 751.7 L617.1 754.3Z M614.8 754.8 L617.1 756.8 L618.4 755.7 L615.8 754.4Z M617.6 756.1 L618.2 758.8 L616.3 755.9 L617.6 757.2 L616.6 756.2 L617.9 756.0Z M615.3 754.1 L618.0 756.0 L616.7 755.8 L616.3 755.4 L614.8 756.3Z M621.6 759.2 L622.8 758.8 L621.9 759.5 L620.5 758.3Z M620.3 757.1 L618.5 758.4 L618.9 758.6 L618.2 759.8Z M622.4 758.9 L623.7 761.6 L623.9 760.5 L622.9 760.3 L621.6 758.8 L624.1 761.5Z M621.5 760.3 L623.2 756.9 L621.6 758.8 L621.3 757.5 L620.4 760.0 L623.3 760.2Z M620.6 759.5 L620.3 762.1 L622.5 762.4 L623.1 758.7 L622.8 760.5Z M621.6 760.6 L621.1 762.0 L621.9 762.9 L620.8 761.1 L623.3 760.4Z M619.2 763.2 L621.7 764.6 L619.9 761.3 L621.6 764.5Z M617.1 759.6 L618.6 758.3 L617.7 757.8 L619.8 759.0 L617.8 757.1Z M620.6 758.3 L620.0 759.4 L622.0 758.3 L621.5 758.2Z M621.2 759.6 L621.0 763.2 L620.6 761.9 L623.9 759.9Z M626.5 763.5 L627.8 764.2 L626.9 763.2 L629.0 762.2 L627.4 765.7Z M619.6 762.1 L618.9 762.1 L618.6 761.9 L617.8 762.3Z M622.1 761.9 L620.8 763.9 L623.8 762.5 L620.8 765.4 L620.9 761.8Z M623.6 763.0 L625.9 764.1 L625.1 761.6 L625.8 763.1 L625.0 761.9Z M626.1 766.3 L627.5 766.0 L628.8 765.5 L628.9 768.6Z M622.0 762.1 L621.1 763.9 L620.0 763.7 L621.8 764.8 L619.5 762.2Z M620.2 766.4 L619.7 766.6 L618.3 764.5 L618.8 765.3 L621.9 763.2 L618.7 766.5Z M627.2 764.6 L624.4 763.9 L625.1 765.0 L625.4 764.3 L624.7 766.2 L624.9 766.6Z M629.7 770.5 L630.8 768.9 L629.1 769.7 L628.8 771.5 L632.1 770.6Z M625.8 767.8 L629.1 766.3 L628.9 767.1 L628.7 766.8Z M629.3 765.0 L628.2 767.7 L628.1 767.6 L630.7 767.7Z M631.6 768.1 L632.4 769.2 L630.1 767.6 L631.9 767.9 L633.1 766.9Z M627.5 766.8 L625.9 767.2 L628.5 767.2 L627.0 767.0 L626.4 765.0Z M629.5 768.5 L629.7 771.6 L628.4 771.9 L630.2 770.8 L631.0 771.7 L628.2 771.7Z M630.1 769.8 L628.6 769.9 L627.9 770.3 L628.7 767.5 L630.3 767.3Z M628.6 768.4 L629.9 770.5 L630.1 768.1 L630.8 768.3 L630.7 768.3Z M625.9 768.7 L627.1 768.8 L625.5 769.3 L627.9 766.7 L625.2 768.1 L628.0 770.2Z M634.0 769.6 L633.2 771.4 L631.6 771.1 L632.1 770.6 L631.4 772.6 L634.5 770.8Z M634.9 769.6 L632.0 769.7 L633.2 768.0 L633.7 768.6Z M629.8 768.0 L627.0 768.0 L628.3 766.3 L627.3 766.6 L630.7 767.1Z M632.1 768.2 L634.1 768.7 L633.8 770.5 L634.2 769.0 L632.0 770.1Z M636.2 769.0 L635.1 771.6 L636.3 771.4 L634.4 771.9 L634.9 768.9Z M635.0 771.6 L637.0 772.3 L638.0 771.5 L636.8 770.2 L635.0 769.8Z M632.8 770.1 L631.9 770.3 L631.6 770.7 L633.7 767.8 L632.4 769.6Z M636.6 767.8 L636.1 769.9 L634.3 768.3 L634.8 769.3 L633.3 768.8 L635.5 770.6Z M630.9 771.1 L631.8 769.7 L630.3 769.5 L631.3 771.5 L633.1 771.1 L630.1 771.6Z M642.3 769.3 L639.4 769.9 L642.6 770.8 L641.4 770.8 L641.2 771.2Z M633.2 773.9 L631.8 771.8 L631.6 772.7 L635.2 774.3Z M637.0 771.1 L637.4 773.2 L637.8 769.5 L638.2 771.6 L637.5 772.0 L637.1 769.9Z M636.1 771.8 L635.6 770.9 L638.7 770.7 L636.1 774.2Z M641.8 772.3 L641.6 769.9 L638.3 771.4 L638.7 769.9 L641.3 772.6 L638.6 769.8Z M637.6 770.7 L636.7 770.5 L637.9 771.3 L637.3 770.4 L637.4 771.4Z M639.3 772.4 L640.0 774.1 L637.9 774.3 L640.2 774.1Z M642.5 773.4 L642.5 773.0 L640.1 773.6 L641.2 772.7Z M643.9 775.2 L641.0 775.2 L640.3 772.3 L643.3 773.1 L643.4 773.1 L641.3 775.2Z M642.0 774.4 L642.0 771.8 L640.9 772.4 L644.2 772.4 L643.0 773.6Z M643.1 770.6 L642.8 770.9 L643.5 772.8 L644.8 773.3Z M641.3 773.4 L640.4 775.0 L640.6 773.6 L643.4 772.5Z M647.7 773.5 L644.8 771.9 L645.9 774.2 L646.5 774.3 L647.1 771.9 L647.1 772.2Z M640.0 771.4 L639.7 774.1 L640.7 771.4 L641.6 773.4 L643.1 774.0 L641.4 772.8Z M645.7 772.2 L646.8 772.5 L645.6 773.0 L645.2 771.6 L644.4 773.4Z M641.7 772.8 L643.7 770.6 L641.6 773.4 L642.0 772.7 L643.0 773.3 L642.3 773.2Z M644.6 774.6 L648.1 773.0 L647.1 774.4 L645.0 773.6 L644.7 775.3 L645.7 776.0Z M646.0 772.8 L642.3 773.0 L645.0 774.0 L643.1 770.6 L644.9 771.7 L644.7 770.7Z M556.2 554.7 L558.0 555.9 L558.7 557.5 L556.9 557.1 L556.2 554.7 M560.1 555.5 L561.2 556.3 M563.3 556.7 L564.4 557.1 M782.4 776.8 L783.2 777.4 M785.2 780.0 L786.1 780.6 M786.3 782.8 L787.1 783.4 M786.6 785.2 L787.5 785.8 M785.9 787.6 L786.8 788.2 M783.4 789.1 L784.3 789.7 M821.4 493.2 L819.3 495.2 L821.4 499.6 L821.4 504.3 L825.6 508.7 L828.8 511.9 L832.7 515.4 L833.8 519.8 L835.5 523.4 L838.4 525.7 M821.4 499.6 L827.4 499.6 L831.6 500.3 M821.4 504.3 L827.4 503.5 L832.0 503.5 L832.0 507.1 L827.4 509.9 M833.4 517.4 L836.2 514.2 L840.9 513.8 L843.0 517.8 L844.0 521.0 L840.1 526.1" fill="none" stroke="#9c9c9c" stroke-width="0.75" stroke-linejoin="round"/>
<path d="M518.0 549.2C518.7 549.4 520.7 549.4 522.0 550.2C523.4 551.0 524.7 553.2 526.0 553.8C527.4 554.5 528.9 554.8 530.0 554.2C531.2 553.6 532.4 551.9 533.1 550.2C533.7 548.5 533.7 545.9 534.1 544.2C534.4 542.5 534.1 541.0 535.1 540.2C536.1 539.3 537.9 538.9 540.1 539.2C542.3 539.4 546.1 540.6 548.1 541.8C550.1 543.0 551.1 544.6 552.1 546.2C553.1 547.8 553.1 549.7 554.1 551.2C555.1 552.7 556.5 554.7 558.1 555.2C559.8 555.7 562.2 554.7 564.2 554.2C566.2 553.7 567.2 552.2 570.2 552.2C573.2 552.2 579.7 552.9 582.2 554.2C584.7 555.6 584.6 557.9 585.2 560.3C585.9 562.6 585.9 565.6 586.2 568.3C586.6 571.0 586.4 573.6 587.2 576.3C588.1 579.0 589.9 581.7 591.3 584.3C592.6 587.0 594.1 589.7 595.3 592.4C596.4 595.0 597.5 597.7 598.3 600.4C599.1 603.1 600.1 605.8 600.3 608.4C600.5 611.1 599.6 613.9 599.3 616.5C599.0 619.0 598.0 621.1 598.3 623.5C598.6 625.8 600.0 628.3 601.3 630.5C602.6 632.7 604.8 634.4 606.3 636.5C607.8 638.7 609.3 643.0 610.3 643.6C611.3 644.1 611.7 639.3 612.3 640.0C613.0 640.7 613.3 645.4 614.3 648.0C615.4 650.7 617.0 653.5 618.4 656.1C619.7 658.6 621.0 660.9 622.4 663.1C623.7 665.3 625.3 667.9 626.4 669.1C627.5 670.3 628.2 670.4 628.8 670.5C629.4 670.7 629.4 671.3 630.1 670.0C630.8 668.7 632.1 665.5 633.0 662.9C633.8 660.3 634.5 657.4 635.1 654.4C635.6 651.5 636.1 648.2 636.2 645.2C636.3 642.3 636.1 639.3 635.8 636.7C635.5 634.1 635.1 631.6 634.4 629.6C633.7 627.6 632.5 626.0 631.5 624.7C630.5 623.3 630.3 622.8 628.4 621.5C626.5 620.1 623.2 618.6 620.4 616.5C617.5 614.3 613.8 611.4 611.3 608.4C608.8 605.4 606.8 601.7 605.3 598.4C603.8 595.0 603.0 591.4 602.3 588.4C601.6 585.3 600.8 582.0 601.3 580.3C601.8 578.7 604.0 578.3 605.3 578.3C606.7 578.3 608.5 578.7 609.3 580.3C610.2 582.0 609.3 585.7 610.3 588.4C611.3 591.0 613.3 593.9 615.4 596.4C617.4 598.9 619.9 601.4 622.4 603.4C624.9 605.4 628.8 607.4 630.4 608.4C632.1 609.5 631.1 608.9 632.3 609.8C633.4 610.7 635.6 612.4 637.2 614.0C638.9 615.7 640.6 617.6 642.2 619.7C643.7 621.8 645.2 624.3 646.4 626.8C647.6 629.3 648.8 631.9 649.5 634.6C650.2 637.3 650.7 640.4 650.7 643.1C650.7 645.8 650.2 648.4 649.5 650.9C648.8 653.4 647.6 655.8 646.4 658.0C645.2 660.1 643.6 661.7 642.2 663.6C640.8 665.5 639.1 667.3 637.9 669.3C636.7 671.3 635.8 673.2 635.1 675.7C634.4 678.2 633.8 682.6 633.7 684.2C633.5 685.7 634.4 683.7 634.4 685.0C634.4 686.3 634.0 689.7 633.7 692.1C633.4 694.4 632.4 697.0 632.5 699.2C632.7 701.3 633.4 703.3 634.4 704.8C635.4 706.4 637.2 707.4 638.6 708.4C640.0 709.3 640.0 710.0 642.9 710.5C645.7 711.0 652.4 711.2 655.6 711.2C658.8 711.2 659.8 710.4 662.0 710.5C664.2 710.6 666.7 711.3 669.1 711.9C671.4 712.6 673.9 714.0 676.2 714.5C678.4 715.0 680.9 715.3 682.5 715.0C684.2 714.7 685.3 713.9 686.1 712.6C686.9 711.4 687.5 709.4 687.5 707.7C687.6 705.9 686.6 703.9 686.4 702.0C686.1 700.1 685.8 698.1 686.1 696.3C686.4 694.6 687.4 693.1 688.2 691.4C689.0 689.7 689.8 687.9 691.0 686.1C692.2 684.4 693.8 682.5 695.3 680.8C696.7 679.1 698.2 677.6 699.5 676.0C700.8 674.4 702.0 672.8 703.2 671.3C704.5 669.7 705.9 667.8 707.0 666.5C708.0 665.1 708.7 663.9 709.6 663.3C710.5 662.7 711.3 662.6 712.3 662.8C713.2 662.9 714.2 663.6 715.5 664.3C716.7 665.1 718.1 666.2 719.7 667.0C721.3 667.8 722.1 668.4 725.0 668.9C727.9 669.4 734.2 669.9 737.2 670.1C740.3 670.3 741.8 670.5 743.3 670.1C744.7 669.8 745.3 668.9 746.0 668.0C746.6 667.1 747.1 665.8 747.3 664.5C747.4 663.2 747.0 661.6 746.8 660.2C746.6 658.7 746.0 657.3 746.0 655.8C746.0 654.3 746.3 652.7 746.8 651.4C747.3 650.1 748.1 648.8 749.0 648.0C749.9 647.1 751.0 646.6 752.1 646.2C753.1 645.8 753.8 645.8 755.5 645.3C757.3 644.9 760.9 644.4 762.5 643.6C764.1 642.8 765.0 641.4 765.1 640.5C765.3 639.7 763.8 639.3 763.6 638.4C763.3 637.4 763.5 635.9 763.8 634.9C764.2 633.9 764.9 632.9 765.6 632.3C766.3 631.6 765.9 632.2 768.0 631.0C770.1 629.7 776.0 626.9 778.4 624.5C780.8 622.1 781.2 619.1 782.4 616.5C783.6 613.8 783.9 610.8 785.4 608.4C786.9 606.1 789.1 604.2 791.4 602.4C793.8 600.6 796.8 599.1 799.5 597.4C802.1 595.7 804.8 593.8 807.5 592.4C810.2 590.9 812.8 589.6 815.5 588.8C818.2 587.9 821.2 587.1 823.5 587.4C825.9 587.6 827.6 589.3 829.6 590.4C831.6 591.5 833.4 593.6 835.6 594.0C837.7 594.4 840.1 593.2 842.4 592.8C844.8 592.3 848.4 591.6 849.6 591.4" fill="none" stroke="#000" stroke-width="0.8"/>
<path d="M537.1 499.0C537.2 498.0 537.9 496.3 539.1 495.6C540.2 494.9 542.9 494.7 544.1 494.8C545.3 495.0 546.3 495.5 546.5 496.4C546.7 497.4 546.0 499.4 545.1 500.4C544.2 501.4 542.3 502.2 541.1 502.4C539.9 502.6 538.7 502.2 538.1 501.6C537.4 501.1 536.9 500.0 537.1 499.0Z" fill="none" stroke="#000" stroke-width="0.8"/>
<path d="M756.3 493.0C757.1 493.7 758.8 496.1 761.3 497.0C763.8 497.9 768.0 498.3 771.4 498.4C774.7 498.6 778.4 498.3 781.4 498.0C784.4 497.8 787.1 497.8 789.4 497.0C791.8 496.3 794.4 494.2 795.4 493.6" fill="none" stroke="#000" stroke-width="0.8"/>
<path d="M522.4 697.2C524.0 696.7 528.4 695.2 532.1 694.2C535.7 693.2 540.1 691.9 544.1 691.2C548.1 690.4 552.1 689.9 556.1 689.8C560.2 689.6 564.2 689.8 568.2 690.2C572.2 690.5 576.5 691.3 580.2 691.8C583.9 692.3 587.6 693.3 590.3 693.2C592.9 693.1 594.8 692.0 596.3 691.2C597.8 690.3 598.3 689.2 599.3 688.2C600.3 687.2 601.0 685.3 602.3 685.2C603.6 685.0 605.6 685.8 607.3 687.2C609.0 688.5 610.8 690.7 612.3 693.2C613.8 695.7 615.2 699.0 616.4 702.2C617.5 705.4 618.5 708.9 619.4 712.3C620.2 715.6 621.2 719.3 621.4 722.3C621.5 725.3 620.0 727.8 620.4 730.3C620.7 732.8 622.1 735.5 623.4 737.4C624.7 739.2 626.5 740.6 628.0 741.7C629.5 742.7 630.8 743.4 632.3 743.8C633.7 744.2 635.1 744.6 636.5 744.2C637.9 743.9 639.5 742.9 640.8 741.7C642.1 740.4 643.1 738.5 644.3 736.7C645.5 734.9 646.5 732.8 647.8 731.0C649.1 729.3 650.6 727.4 652.1 726.1C653.6 724.8 655.3 723.8 657.0 723.3C658.8 722.7 660.7 722.7 662.7 723.0C664.7 723.2 666.8 724.0 669.1 724.7C671.3 725.3 673.8 726.1 676.2 726.8C678.5 727.5 680.9 728.2 683.3 728.9C685.6 729.6 688.0 730.3 690.3 731.0C692.7 731.8 695.5 732.7 697.4 733.2C699.4 733.6 700.4 734.0 702.1 733.9C703.8 733.8 705.9 733.5 707.3 732.5C708.8 731.4 709.7 729.3 710.9 727.5C712.1 725.7 712.9 723.5 714.4 721.8C716.0 720.2 718.0 718.6 720.1 717.6C722.2 716.5 724.6 716.1 727.2 715.5C729.8 714.9 732.0 714.5 735.7 714.0C739.4 713.6 744.7 713.0 749.3 712.7C753.9 712.3 759.0 711.9 763.3 711.9C767.7 711.9 771.4 712.0 775.4 712.7C779.4 713.3 783.4 714.7 787.4 715.9C791.4 717.1 795.4 718.5 799.5 719.9C803.5 721.2 807.5 722.7 811.5 723.9C815.5 725.1 819.5 726.6 823.5 727.3C827.6 728.0 832.4 727.9 835.6 727.9C838.7 727.9 841.3 727.4 842.4 727.3" fill="none" stroke="#000" stroke-width="0.8"/>
<path d="M536.1 795.6C537.7 794.7 542.8 792.0 546.1 790.5C549.4 789.0 552.5 788.0 556.1 786.5C559.8 785.0 564.2 783.0 568.2 781.5C572.2 780.0 576.2 778.6 580.2 777.5C584.2 776.4 588.3 775.5 592.3 774.9C596.3 774.3 600.0 774.1 604.3 774.1C608.7 774.0 614.7 774.4 618.4 774.5C622.0 774.6 623.6 774.8 626.4 774.9C629.2 775.0 632.2 774.9 635.1 775.0C637.9 775.1 640.8 775.5 643.6 775.4C646.4 775.3 649.3 774.6 652.1 774.3C654.9 774.0 657.8 773.6 660.6 773.6C663.4 773.6 666.3 773.9 669.1 774.3C671.9 774.6 674.3 775.3 677.6 775.7C680.9 776.0 685.4 776.4 688.9 776.4C692.5 776.4 695.8 776.1 698.8 775.7C701.9 775.2 704.5 774.4 707.3 773.6C710.2 772.7 713.0 771.8 715.8 770.7C718.7 769.7 721.5 768.4 724.3 767.2C727.2 766.0 729.7 765.0 732.8 763.6C736.0 762.2 739.5 760.3 743.3 758.8C747.0 757.4 751.3 755.9 755.3 754.8C759.3 753.7 763.3 753.0 767.3 752.4C771.4 751.8 775.4 751.6 779.4 751.4C783.4 751.2 787.7 751.0 791.4 751.4C795.1 751.8 798.1 752.8 801.5 754.0C804.8 755.2 808.5 756.9 811.5 758.8C814.5 760.7 816.9 763.3 819.5 765.5C822.2 767.6 824.9 769.8 827.6 771.5C830.2 773.1 833.1 774.5 835.6 775.5C838.1 776.5 841.3 777.2 842.4 777.5" fill="none" stroke="#000" stroke-width="0.8"/>
<rect x="570.2" y="547.2" width="12.0" height="8.8" fill="#fff"/>
<text x="576.2" y="554.9" font-size="9" text-anchor="middle" style="fill:#3c3c3c">18</text>
<rect x="599.3" y="578.5" width="12.0" height="8.8" fill="#fff"/>
<text x="605.3" y="586.2" font-size="9" text-anchor="middle" style="fill:#3c3c3c">18</text>
<rect x="643.0" y="706.1" width="12.0" height="8.8" fill="#fff"/>
<text x="649.0" y="713.8" font-size="9" text-anchor="middle" style="fill:#3c3c3c">18</text>
<rect x="756.3" y="641.2" width="12.0" height="8.8" fill="#fff"/>
<text x="762.3" y="648.9" font-size="9" text-anchor="middle" style="fill:#3c3c3c">18</text>
<rect x="599.5" y="680.2" width="5.7" height="8.8" fill="#fff"/>
<text x="602.3" y="687.9" font-size="9" text-anchor="middle" style="fill:#3c3c3c">9</text>
<rect x="699.3" y="730.2" width="5.7" height="8.8" fill="#fff"/>
<text x="702.1" y="737.9" font-size="9" text-anchor="middle" style="fill:#3c3c3c">9</text>
<rect x="699.3" y="729.9" width="5.7" height="8.8" fill="#fff"/>
<text x="702.1" y="737.6" font-size="9" text-anchor="middle" style="fill:#3c3c3c">9</text>
<rect x="686.1" y="772.4" width="5.7" height="8.8" fill="#fff"/>
<text x="688.9" y="780.1" font-size="9" text-anchor="middle" style="fill:#3c3c3c">0</text>
<rect x="686.2" y="772.5" width="5.7" height="8.8" fill="#fff"/>
<text x="689.1" y="780.2" font-size="9" text-anchor="middle" style="fill:#3c3c3c">0</text>
<rect x="684.8" y="772.1" width="5.7" height="8.8" fill="#fff"/>
<text x="687.6" y="779.8" font-size="9" text-anchor="middle" style="fill:#3c3c3c">0</text>
</g>
<rect x="522.1" y="494.0" width="320.4" height="297.5" fill="none" stroke="#000" stroke-width="1.6"/>
<line x1="518.1" y1="494.0" x2="522.1" y2="494.0" stroke="#000" stroke-width="1.3"/>
<text transform="translate(516.9,497.6) scale(0.95,1)" font-size="9.4" font-weight="bold" stroke="#000" stroke-width="0.3" text-anchor="end">15N</text>
<line x1="518.1" y1="513.8" x2="522.1" y2="513.8" stroke="#000" stroke-width="1.3"/>
<text transform="translate(516.9,517.4) scale(0.95,1)" font-size="9.4" font-weight="bold" stroke="#000" stroke-width="0.3" text-anchor="end">10N</text>
<line x1="518.1" y1="533.7" x2="522.1" y2="533.7" stroke="#000" stroke-width="1.3"/>
<text transform="translate(516.9,537.3) scale(0.95,1)" font-size="9.4" font-weight="bold" stroke="#000" stroke-width="0.3" text-anchor="end">5N</text>
<line x1="518.1" y1="553.5" x2="522.1" y2="553.5" stroke="#000" stroke-width="1.3"/>
<text transform="translate(516.9,557.1) scale(0.95,1)" font-size="9.4" font-weight="bold" stroke="#000" stroke-width="0.3" text-anchor="end">EQ</text>
<line x1="518.1" y1="573.3" x2="522.1" y2="573.3" stroke="#000" stroke-width="1.3"/>
<text transform="translate(516.9,576.9) scale(0.95,1)" font-size="9.4" font-weight="bold" stroke="#000" stroke-width="0.3" text-anchor="end">5S</text>
<line x1="518.1" y1="593.2" x2="522.1" y2="593.2" stroke="#000" stroke-width="1.3"/>
<text transform="translate(516.9,596.8) scale(0.95,1)" font-size="9.4" font-weight="bold" stroke="#000" stroke-width="0.3" text-anchor="end">10S</text>
<line x1="518.1" y1="613.0" x2="522.1" y2="613.0" stroke="#000" stroke-width="1.3"/>
<text transform="translate(516.9,616.6) scale(0.95,1)" font-size="9.4" font-weight="bold" stroke="#000" stroke-width="0.3" text-anchor="end">15S</text>
<line x1="518.1" y1="632.8" x2="522.1" y2="632.8" stroke="#000" stroke-width="1.3"/>
<text transform="translate(516.9,636.4) scale(0.95,1)" font-size="9.4" font-weight="bold" stroke="#000" stroke-width="0.3" text-anchor="end">20S</text>
<line x1="518.1" y1="652.7" x2="522.1" y2="652.7" stroke="#000" stroke-width="1.3"/>
<text transform="translate(516.9,656.3) scale(0.95,1)" font-size="9.4" font-weight="bold" stroke="#000" stroke-width="0.3" text-anchor="end">25S</text>
<line x1="518.1" y1="672.5" x2="522.1" y2="672.5" stroke="#000" stroke-width="1.3"/>
<text transform="translate(516.9,676.1) scale(0.95,1)" font-size="9.4" font-weight="bold" stroke="#000" stroke-width="0.3" text-anchor="end">30S</text>
<line x1="518.1" y1="692.3" x2="522.1" y2="692.3" stroke="#000" stroke-width="1.3"/>
<text transform="translate(516.9,695.9) scale(0.95,1)" font-size="9.4" font-weight="bold" stroke="#000" stroke-width="0.3" text-anchor="end">35S</text>
<line x1="518.1" y1="712.2" x2="522.1" y2="712.2" stroke="#000" stroke-width="1.3"/>
<text transform="translate(516.9,715.8) scale(0.95,1)" font-size="9.4" font-weight="bold" stroke="#000" stroke-width="0.3" text-anchor="end">40S</text>
<line x1="518.1" y1="732.0" x2="522.1" y2="732.0" stroke="#000" stroke-width="1.3"/>
<text transform="translate(516.9,735.6) scale(0.95,1)" font-size="9.4" font-weight="bold" stroke="#000" stroke-width="0.3" text-anchor="end">45S</text>
<line x1="518.1" y1="751.8" x2="522.1" y2="751.8" stroke="#000" stroke-width="1.3"/>
<text transform="translate(516.9,755.4) scale(0.95,1)" font-size="9.4" font-weight="bold" stroke="#000" stroke-width="0.3" text-anchor="end">50S</text>
<line x1="518.1" y1="771.7" x2="522.1" y2="771.7" stroke="#000" stroke-width="1.3"/>
<text transform="translate(516.9,775.3) scale(0.95,1)" font-size="9.4" font-weight="bold" stroke="#000" stroke-width="0.3" text-anchor="end">55S</text>
<line x1="518.1" y1="791.5" x2="522.1" y2="791.5" stroke="#000" stroke-width="1.3"/>
<text transform="translate(516.9,795.1) scale(0.95,1)" font-size="9.4" font-weight="bold" stroke="#000" stroke-width="0.3" text-anchor="end">60S</text>
<line x1="526.5" y1="791.5" x2="526.5" y2="794.5" stroke="#000" stroke-width="1.3"/>
<text transform="translate(527.0,802.8) scale(0.81,1)" font-size="10.2" font-weight="bold" stroke="#000" stroke-width="0.35" text-anchor="middle">100W</text>
<line x1="561.9" y1="791.5" x2="561.9" y2="794.5" stroke="#000" stroke-width="1.3"/>
<text transform="translate(562.4,802.8) scale(0.81,1)" font-size="10.2" font-weight="bold" stroke="#000" stroke-width="0.35" text-anchor="middle">90W</text>
<line x1="597.3" y1="791.5" x2="597.3" y2="794.5" stroke="#000" stroke-width="1.3"/>
<text transform="translate(597.8,802.8) scale(0.81,1)" font-size="10.2" font-weight="bold" stroke="#000" stroke-width="0.35" text-anchor="middle">80W</text>
<line x1="632.7" y1="791.5" x2="632.7" y2="794.5" stroke="#000" stroke-width="1.3"/>
<text transform="translate(633.2,802.8) scale(0.81,1)" font-size="10.2" font-weight="bold" stroke="#000" stroke-width="0.35" text-anchor="middle">70W</text>
<line x1="668.1" y1="791.5" x2="668.1" y2="794.5" stroke="#000" stroke-width="1.3"/>
<text transform="translate(668.6,802.8) scale(0.81,1)" font-size="10.2" font-weight="bold" stroke="#000" stroke-width="0.35" text-anchor="middle">60W</text>
<line x1="703.5" y1="791.5" x2="703.5" y2="794.5" stroke="#000" stroke-width="1.3"/>
<text transform="translate(704.0,802.8) scale(0.81,1)" font-size="10.2" font-weight="bold" stroke="#000" stroke-width="0.35" text-anchor="middle">50W</text>
<line x1="738.9" y1="791.5" x2="738.9" y2="794.5" stroke="#000" stroke-width="1.3"/>
<text transform="translate(739.4,802.8) scale(0.81,1)" font-size="10.2" font-weight="bold" stroke="#000" stroke-width="0.35" text-anchor="middle">40W</text>
<line x1="774.3" y1="791.5" x2="774.3" y2="794.5" stroke="#000" stroke-width="1.3"/>
<text transform="translate(774.8,802.8) scale(0.81,1)" font-size="10.2" font-weight="bold" stroke="#000" stroke-width="0.35" text-anchor="middle">30W</text>
<line x1="809.7" y1="791.5" x2="809.7" y2="794.5" stroke="#000" stroke-width="1.3"/>
<text transform="translate(810.2,802.8) scale(0.81,1)" font-size="10.2" font-weight="bold" stroke="#000" stroke-width="0.35" text-anchor="middle">20W</text>
<text x="566.2" y="484.9" font-size="17" textLength="68.5" lengthAdjust="spacingAndGlyphs">cluster:</text>
<text x="653.1" y="484.9" font-size="17" text-anchor="middle">4</text>
<text x="682.6" y="484.9" font-size="17" textLength="90.8" lengthAdjust="spacingAndGlyphs">membros:</text>
<text x="791.7" y="484.9" font-size="17" text-anchor="middle">2</text>
<path d="M427.2 150.3 L433.2 134.5 L439.2 150.3 Z" fill="#BA282E" stroke="#000" stroke-width="1.45" stroke-linejoin="miter"/>
<rect x="427.2" y="150.3" width="12.0" height="15.3" fill="#C00000" stroke="#000" stroke-width="1.45"/>
<rect x="427.2" y="165.6" width="12.0" height="15.3" fill="#C83C3C" stroke="#000" stroke-width="1.45"/>
<rect x="427.2" y="180.9" width="12.0" height="15.3" fill="#E01400" stroke="#000" stroke-width="1.45"/>
<rect x="427.2" y="196.2" width="12.0" height="15.3" fill="#FF3200" stroke="#000" stroke-width="1.45"/>
<rect x="427.2" y="211.5" width="12.0" height="15.3" fill="#FF6000" stroke="#000" stroke-width="1.45"/>
<rect x="427.2" y="226.8" width="12.0" height="15.3" fill="#FFA000" stroke="#000" stroke-width="1.45"/>
<rect x="427.2" y="242.1" width="12.0" height="15.3" fill="#FFC03C" stroke="#000" stroke-width="1.45"/>
<rect x="427.2" y="257.4" width="12.0" height="15.3" fill="#FFE878" stroke="#000" stroke-width="1.45"/>
<rect x="427.2" y="272.7" width="12.0" height="15.3" fill="#78B9FA" stroke="#000" stroke-width="1.45"/>
<rect x="427.2" y="288.0" width="12.0" height="15.3" fill="#3C96F5" stroke="#000" stroke-width="1.45"/>
<rect x="427.2" y="303.3" width="12.0" height="15.3" fill="#1E6EEB" stroke="#000" stroke-width="1.45"/>
<rect x="427.2" y="318.6" width="12.0" height="15.3" fill="#1464D2" stroke="#000" stroke-width="1.45"/>
<rect x="427.2" y="333.9" width="12.0" height="15.3" fill="#1C4DCF" stroke="#000" stroke-width="1.45"/>
<rect x="427.2" y="349.2" width="12.0" height="15.3" fill="#4632C8" stroke="#000" stroke-width="1.45"/>
<rect x="427.2" y="364.5" width="12.0" height="15.3" fill="#6E5AE1" stroke="#000" stroke-width="1.45"/>
<rect x="427.2" y="379.8" width="12.0" height="15.3" fill="#826EEB" stroke="#000" stroke-width="1.45"/>
<rect x="427.2" y="395.1" width="12.0" height="15.3" fill="#A08CFF" stroke="#000" stroke-width="1.45"/>
<rect x="427.2" y="410.4" width="12.0" height="15.3" fill="#C3B4FF" stroke="#000" stroke-width="1.45"/>
<path d="M427.2 425.7 L433.2 441.2 L439.2 425.7 Z" fill="#D7D7FA" stroke="#000" stroke-width="1.45"/>
<text x="443" y="154.5" font-size="11.5" letter-spacing="0.6" stroke="#000" stroke-width="0.45">36</text>
<text x="443" y="169.8" font-size="11.5" letter-spacing="0.6" stroke="#000" stroke-width="0.45">33</text>
<text x="443" y="185.1" font-size="11.5" letter-spacing="0.6" stroke="#000" stroke-width="0.45">30</text>
<text x="443" y="200.4" font-size="11.5" letter-spacing="0.6" stroke="#000" stroke-width="0.45">27</text>
<text x="443" y="215.7" font-size="11.5" letter-spacing="0.6" stroke="#000" stroke-width="0.45">24</text>
<text x="443" y="231.0" font-size="11.5" letter-spacing="0.6" stroke="#000" stroke-width="0.45">21</text>
<text x="443" y="246.3" font-size="11.5" letter-spacing="0.6" stroke="#000" stroke-width="0.45">18</text>
<text x="443" y="261.6" font-size="11.5" letter-spacing="0.6" stroke="#000" stroke-width="0.45">15</text>
<text x="443" y="276.9" font-size="11.5" letter-spacing="0.6" stroke="#000" stroke-width="0.45">12</text>
<text x="443" y="292.2" font-size="11.5" letter-spacing="0.6" stroke="#000" stroke-width="0.45">9</text>
<text x="443" y="307.5" font-size="11.5" letter-spacing="0.6" stroke="#000" stroke-width="0.45">6</text>
<text x="443" y="322.8" font-size="11.5" letter-spacing="0.6" stroke="#000" stroke-width="0.45">3</text>
<text x="443" y="338.1" font-size="11.5" letter-spacing="0.6" stroke="#000" stroke-width="0.45">0</text>
<text x="443" y="353.4" font-size="11.5" letter-spacing="0.6" stroke="#000" stroke-width="0.45">−3</text>
<text x="443" y="368.7" font-size="11.5" letter-spacing="0.6" stroke="#000" stroke-width="0.45">−6</text>
<text x="443" y="384.0" font-size="11.5" letter-spacing="0.6" stroke="#000" stroke-width="0.45">−9</text>
<text x="443" y="399.3" font-size="11.5" letter-spacing="0.6" stroke="#000" stroke-width="0.45">−12</text>
<text x="443" y="414.6" font-size="11.5" letter-spacing="0.6" stroke="#000" stroke-width="0.45">−15</text>
<text x="443" y="429.9" font-size="11.5" letter-spacing="0.6" stroke="#000" stroke-width="0.45">−18</text>
</svg>
</body></html>
